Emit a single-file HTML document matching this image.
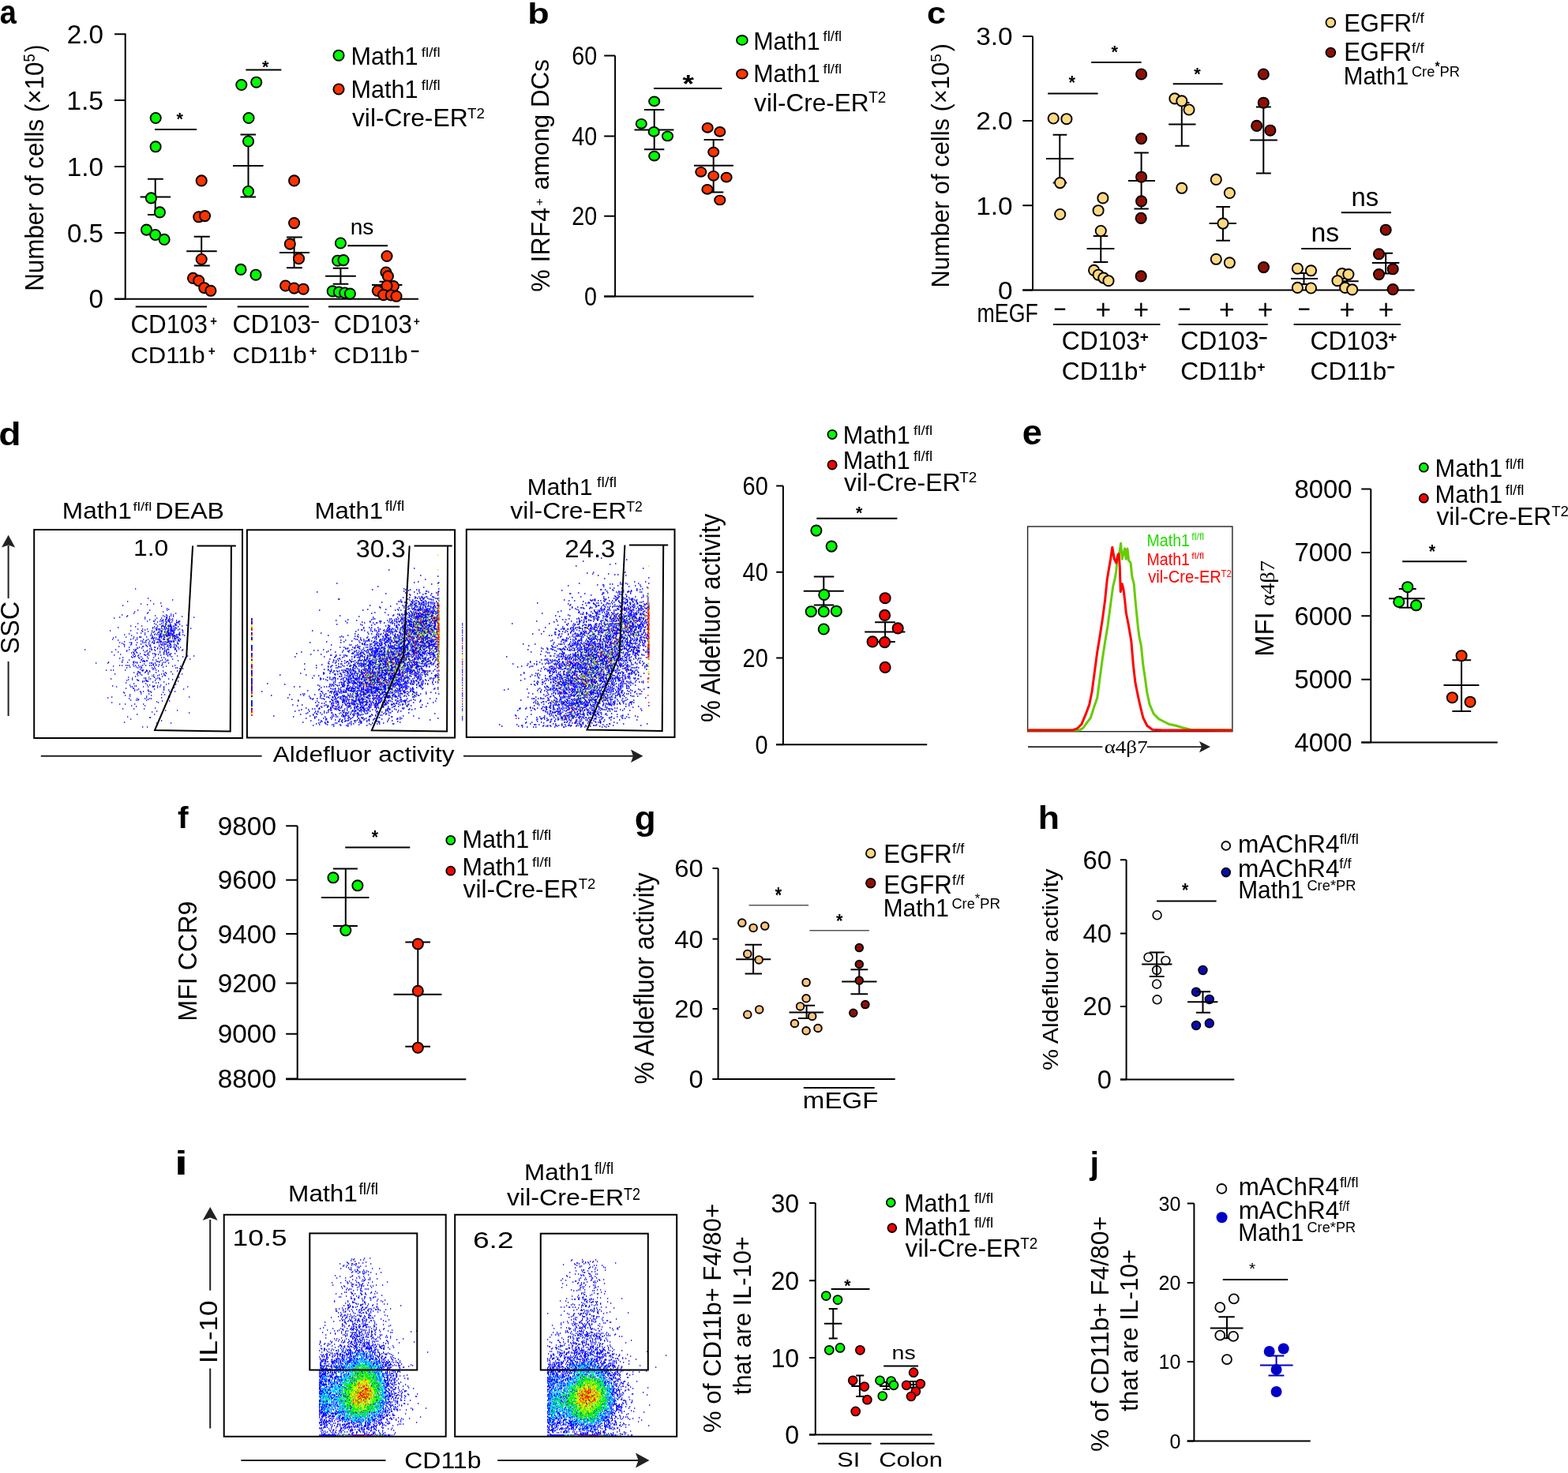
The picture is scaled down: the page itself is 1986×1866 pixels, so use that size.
<!DOCTYPE html>
<html><head><meta charset="utf-8"><style>
html,body{margin:0;padding:0;background:#fff;}
svg{display:block;}
text{font-family:"Liberation Sans",Arial,sans-serif;}
</style></head><body>
<svg width="1986" height="1866" viewBox="0 0 1986 1866">
<rect width="1986" height="1866" fill="#fff"/>
<text x="-0.34" y="30.28" font-size="42.37" textLength="21.1" lengthAdjust="spacingAndGlyphs" font-weight="bold">a</text>
<path d="M158.7 42.5V378.8" stroke="#000" stroke-width="2" fill="none"/>
<path d="M145 43.2H158.7M145 127.1H158.7M145 211H158.7M145 294.9H158.7M145 378.8H158.7" stroke="#000" stroke-width="2" fill="none"/>
<path d="M145 378.8H530" stroke="#000" stroke-width="2" fill="none"/>
<text x="84.81" y="54.8" font-size="33.26" textLength="46.24" lengthAdjust="spacingAndGlyphs">2.0</text>
<text x="84.24" y="138.7" font-size="33.75" textLength="46.91" lengthAdjust="spacingAndGlyphs">1.5</text>
<text x="84.81" y="222.6" font-size="33.26" textLength="46.24" lengthAdjust="spacingAndGlyphs">1.0</text>
<text x="84.9" y="306.5" font-size="33.26" textLength="46.24" lengthAdjust="spacingAndGlyphs">0.5</text>
<text x="112.59" y="390.4" font-size="33.26" textLength="18.5" lengthAdjust="spacingAndGlyphs">0</text>
<text transform="translate(54.84 368.79) rotate(-90)" font-size="32.6" textLength="290.22" lengthAdjust="spacingAndGlyphs">Number of cells (×10</text>
<text transform="translate(44.31 78.44) rotate(-90)" font-size="19.5" textLength="10.3" lengthAdjust="spacingAndGlyphs">5</text>
<text transform="translate(54.84 66.11) rotate(-90)" font-size="32.6" textLength="9.3" lengthAdjust="spacingAndGlyphs">)</text>
<circle cx="429" cy="70.2" r="6.6" fill="#00ff00" stroke="#000" stroke-width="1.9"/>
<circle cx="429" cy="113" r="6.6" fill="#ff3300" stroke="#000" stroke-width="1.9"/>
<text x="444.48" y="82.09" font-size="31.02" textLength="85.03" lengthAdjust="spacingAndGlyphs">Math1</text>
<text x="533.72" y="71.53" font-size="17.41" textLength="24.06" lengthAdjust="spacingAndGlyphs">fl/fl</text>
<text x="444.48" y="124.19" font-size="30.75" textLength="85.03" lengthAdjust="spacingAndGlyphs">Math1</text>
<text x="533.72" y="113.72" font-size="17.69" textLength="24.06" lengthAdjust="spacingAndGlyphs">fl/fl</text>
<text x="445.92" y="160.48" font-size="31.56" textLength="146.74" lengthAdjust="spacingAndGlyphs">vil-Cre-ER</text>
<text x="591.98" y="150.2" font-size="19.21" textLength="21.9" lengthAdjust="spacingAndGlyphs">T2</text>
<path d="M177.6 249.4H216.1 M196.7 226.8V272 M187 226.8H206.8 M187 272H206.8" stroke="#000" stroke-width="2" fill="none"/>
<circle cx="197.2" cy="149.5" r="6.6" fill="#00ff00" stroke="#000" stroke-width="1.9"/>
<circle cx="197.1" cy="185.8" r="6.6" fill="#00ff00" stroke="#000" stroke-width="1.9"/>
<circle cx="191.4" cy="250.9" r="6.6" fill="#00ff00" stroke="#000" stroke-width="1.9"/>
<circle cx="202.4" cy="268.9" r="6.6" fill="#00ff00" stroke="#000" stroke-width="1.9"/>
<circle cx="185.5" cy="291.1" r="6.6" fill="#00ff00" stroke="#000" stroke-width="1.9"/>
<circle cx="196.7" cy="297.5" r="6.6" fill="#00ff00" stroke="#000" stroke-width="1.9"/>
<circle cx="208.1" cy="303.4" r="6.6" fill="#00ff00" stroke="#000" stroke-width="1.9"/>
<path d="M236.2 318.2H274.7 M255.2 299.8V336.6 M245.7 299.8H265.8 M245.7 336.6H265.8" stroke="#000" stroke-width="2" fill="none"/>
<circle cx="255.2" cy="228.9" r="6.6" fill="#ff3300" stroke="#000" stroke-width="1.9"/>
<circle cx="251.7" cy="274.8" r="6.6" fill="#ff3300" stroke="#000" stroke-width="1.9"/>
<circle cx="259.5" cy="273.6" r="6.6" fill="#ff3300" stroke="#000" stroke-width="1.9"/>
<circle cx="255.2" cy="328.5" r="6.6" fill="#ff3300" stroke="#000" stroke-width="1.9"/>
<circle cx="244.5" cy="352.4" r="6.6" fill="#ff3300" stroke="#000" stroke-width="1.9"/>
<circle cx="251.7" cy="355.6" r="6.6" fill="#ff3300" stroke="#000" stroke-width="1.9"/>
<circle cx="258.8" cy="364.7" r="6.6" fill="#ff3300" stroke="#000" stroke-width="1.9"/>
<circle cx="266.9" cy="368.3" r="6.6" fill="#ff3300" stroke="#000" stroke-width="1.9"/>
<path d="M295 210.1H333.5 M314.5 170.6V249.4 M304.5 170.6H324 M304.5 249.4H324" stroke="#000" stroke-width="2" fill="none"/>
<circle cx="305.8" cy="107.5" r="6.6" fill="#00ff00" stroke="#000" stroke-width="1.9"/>
<circle cx="324.7" cy="104.2" r="6.6" fill="#00ff00" stroke="#000" stroke-width="1.9"/>
<circle cx="315" cy="149.5" r="6.6" fill="#00ff00" stroke="#000" stroke-width="1.9"/>
<circle cx="314.5" cy="179" r="6.6" fill="#00ff00" stroke="#000" stroke-width="1.9"/>
<circle cx="314.5" cy="242.5" r="6.6" fill="#00ff00" stroke="#000" stroke-width="1.9"/>
<circle cx="305" cy="341.4" r="6.6" fill="#00ff00" stroke="#000" stroke-width="1.9"/>
<circle cx="324" cy="348.2" r="6.6" fill="#00ff00" stroke="#000" stroke-width="1.9"/>
<path d="M354 320H392 M372.6 300.6V339.3 M363 300.6H382.8 M363 339.3H382.8" stroke="#000" stroke-width="2" fill="none"/>
<circle cx="372.6" cy="228.9" r="6.6" fill="#ff3300" stroke="#000" stroke-width="1.9"/>
<circle cx="372.6" cy="282.6" r="6.6" fill="#ff3300" stroke="#000" stroke-width="1.9"/>
<circle cx="367.3" cy="309.1" r="6.6" fill="#ff3300" stroke="#000" stroke-width="1.9"/>
<circle cx="378.5" cy="327.7" r="6.6" fill="#ff3300" stroke="#000" stroke-width="1.9"/>
<circle cx="361.6" cy="362" r="6.6" fill="#ff3300" stroke="#000" stroke-width="1.9"/>
<circle cx="372.6" cy="365.1" r="6.6" fill="#ff3300" stroke="#000" stroke-width="1.9"/>
<circle cx="384.2" cy="366.2" r="6.6" fill="#ff3300" stroke="#000" stroke-width="1.9"/>
<path d="M412.1 349.7H450.8 M431.4 339.7V359.8 M421.7 339.7H441.3 M421.7 359.8H441.3" stroke="#000" stroke-width="2" fill="none"/>
<circle cx="431.4" cy="308" r="6.6" fill="#00ff00" stroke="#000" stroke-width="1.9"/>
<circle cx="427.6" cy="330.2" r="6.6" fill="#00ff00" stroke="#000" stroke-width="1.9"/>
<circle cx="435" cy="329.6" r="6.6" fill="#00ff00" stroke="#000" stroke-width="1.9"/>
<circle cx="421.2" cy="368.9" r="6.6" fill="#00ff00" stroke="#000" stroke-width="1.9"/>
<circle cx="429.3" cy="370" r="6.6" fill="#00ff00" stroke="#000" stroke-width="1.9"/>
<circle cx="436.7" cy="371" r="6.6" fill="#00ff00" stroke="#000" stroke-width="1.9"/>
<circle cx="443.4" cy="372.1" r="6.6" fill="#00ff00" stroke="#000" stroke-width="1.9"/>
<path d="M471 360.9H509.4 M490 356.7V364.7 M480.5 356.7H499.5 M480.5 364.7H499.5" stroke="#000" stroke-width="2" fill="none"/>
<circle cx="490" cy="324.5" r="6.6" fill="#ff3300" stroke="#000" stroke-width="1.9"/>
<circle cx="488.9" cy="345" r="6.6" fill="#ff3300" stroke="#000" stroke-width="1.9"/>
<circle cx="491.4" cy="349.9" r="6.6" fill="#ff3300" stroke="#000" stroke-width="1.9"/>
<circle cx="498.4" cy="362.6" r="6.6" fill="#ff3300" stroke="#000" stroke-width="1.9"/>
<circle cx="490" cy="362" r="6.6" fill="#ff3300" stroke="#000" stroke-width="1.9"/>
<circle cx="478.3" cy="368.3" r="6.6" fill="#ff3300" stroke="#000" stroke-width="1.9"/>
<circle cx="485.7" cy="373.6" r="6.6" fill="#ff3300" stroke="#000" stroke-width="1.9"/>
<circle cx="495.3" cy="374" r="6.6" fill="#ff3300" stroke="#000" stroke-width="1.9"/>
<circle cx="502" cy="375.3" r="6.6" fill="#ff3300" stroke="#000" stroke-width="1.9"/>
<line x1="196.1" y1="163.9" x2="249" y2="163.9" stroke="#000" stroke-width="2"/>
<text x="223.55" y="157.62" font-size="22.28" textLength="8.39" lengthAdjust="spacingAndGlyphs" font-weight="bold">*</text>
<line x1="311.4" y1="88.4" x2="356.3" y2="88.4" stroke="#000" stroke-width="2"/>
<text x="331.95" y="91.82" font-size="22.28" textLength="8.39" lengthAdjust="spacingAndGlyphs" font-weight="bold">*</text>
<line x1="440.3" y1="311.2" x2="491" y2="311.2" stroke="#000" stroke-width="2"/>
<text x="443.7" y="296.73" font-size="27.4" textLength="29.72" lengthAdjust="spacingAndGlyphs">ns</text>
<line x1="171.7" y1="388.4" x2="262" y2="388.4" stroke="#000" stroke-width="2"/>
<line x1="300.7" y1="388.4" x2="391.2" y2="388.4" stroke="#000" stroke-width="2"/>
<line x1="416" y1="388.4" x2="506.2" y2="388.4" stroke="#000" stroke-width="2"/>
<text x="165.43" y="422.27" font-size="33.22" textLength="97.51" lengthAdjust="spacingAndGlyphs">CD103</text>
<text x="266.37" y="411.82" font-size="15.69" textLength="8.64" lengthAdjust="spacingAndGlyphs" font-weight="bold">+</text>
<text x="294.4" y="422.27" font-size="33.22" textLength="99.67" lengthAdjust="spacingAndGlyphs">CD103</text>
<text x="393.58" y="413.85" font-size="18.18" textLength="11.21" lengthAdjust="spacingAndGlyphs" font-weight="bold">−</text>
<text x="422.81" y="422.27" font-size="33.22" textLength="99.16" lengthAdjust="spacingAndGlyphs">CD103</text>
<text x="523.71" y="411.75" font-size="14.9" textLength="8.06" lengthAdjust="spacingAndGlyphs" font-weight="bold">+</text>
<text x="165.45" y="460" font-size="30.34" textLength="94.23" lengthAdjust="spacingAndGlyphs">CD11b</text>
<text x="263.65" y="450.12" font-size="15.69" textLength="8.99" lengthAdjust="spacingAndGlyphs" font-weight="bold">+</text>
<text x="294.45" y="460" font-size="30.34" textLength="94.23" lengthAdjust="spacingAndGlyphs">CD11b</text>
<text x="391.8" y="450.12" font-size="15.69" textLength="9.58" lengthAdjust="spacingAndGlyphs" font-weight="bold">+</text>
<text x="422.86" y="460" font-size="30.34" textLength="93.81" lengthAdjust="spacingAndGlyphs">CD11b</text>
<text x="519.88" y="452.2" font-size="20.91" textLength="11.21" lengthAdjust="spacingAndGlyphs" font-weight="bold">−</text>
<text x="668.38" y="29.82" font-size="37.69" textLength="27.46" lengthAdjust="spacingAndGlyphs" font-weight="bold">b</text>
<path d="M779.1 70.5V375.6" stroke="#000" stroke-width="2" fill="none"/>
<path d="M765.2 70.5H779.1M765.2 172.5H779.1M765.2 273.7H779.1M765.2 375.6H779.1" stroke="#000" stroke-width="2" fill="none"/>
<path d="M765.2 375.6H954.6" stroke="#000" stroke-width="2" fill="none"/>
<text x="724.16" y="81.95" font-size="32.83" textLength="31.98" lengthAdjust="spacingAndGlyphs">60</text>
<text x="724.16" y="183.95" font-size="32.83" textLength="31.98" lengthAdjust="spacingAndGlyphs">40</text>
<text x="724.16" y="285.15" font-size="32.83" textLength="31.98" lengthAdjust="spacingAndGlyphs">20</text>
<text x="740.12" y="387.05" font-size="32.83" textLength="15.99" lengthAdjust="spacingAndGlyphs">0</text>
<text transform="translate(696.13 369.72) rotate(-90)" font-size="33.71" textLength="106.65" lengthAdjust="spacingAndGlyphs">% IRF4</text>
<text transform="translate(687.61 260.56) rotate(-90)" font-size="13.88" textLength="9.34" lengthAdjust="spacingAndGlyphs">+</text>
<text transform="translate(695.41 240.53) rotate(-90)" font-size="31.27" textLength="165.32" lengthAdjust="spacingAndGlyphs">among DCs</text>
<ellipse cx="939.9" cy="50.9" rx="6.9" ry="5.9" fill="#00ff00" stroke="#000" stroke-width="1.8"/>
<ellipse cx="939.9" cy="93.7" rx="6.9" ry="5.9" fill="#ff3300" stroke="#000" stroke-width="1.8"/>
<text x="954.19" y="62.58" font-size="31.7" textLength="84.61" lengthAdjust="spacingAndGlyphs">Math1</text>
<text x="1042.52" y="51.82" font-size="17.55" textLength="23.74" lengthAdjust="spacingAndGlyphs">fl/fl</text>
<text x="954.19" y="104.38" font-size="31.7" textLength="84.61" lengthAdjust="spacingAndGlyphs">Math1</text>
<text x="1042.52" y="93.43" font-size="17.28" textLength="23.74" lengthAdjust="spacingAndGlyphs">fl/fl</text>
<text x="955.12" y="140.68" font-size="31.84" textLength="145.53" lengthAdjust="spacingAndGlyphs">vil-Cre-ER</text>
<text x="1100.27" y="130.2" font-size="19.5" textLength="22.11" lengthAdjust="spacingAndGlyphs">T2</text>
<line x1="828" y1="112" x2="914.3" y2="112" stroke="#000" stroke-width="2"/>
<text x="864.61" y="116.92" font-size="30.87" textLength="14.46" lengthAdjust="spacingAndGlyphs" font-weight="bold">*</text>
<path d="M803.5 164.4H853.4 M828.7 139V189.3 M816 139H841.3 M816 189.3H841.3" stroke="#000" stroke-width="2" fill="none"/>
<ellipse cx="828.7" cy="128.4" rx="6.6" ry="5.9" fill="#00ff00" stroke="#000" stroke-width="1.9"/>
<ellipse cx="812.3" cy="156.8" rx="6.6" ry="5.9" fill="#00ff00" stroke="#000" stroke-width="1.9"/>
<ellipse cx="828.2" cy="166.9" rx="6.6" ry="5.9" fill="#00ff00" stroke="#000" stroke-width="1.9"/>
<ellipse cx="845.5" cy="172.5" rx="6.6" ry="5.9" fill="#00ff00" stroke="#000" stroke-width="1.9"/>
<ellipse cx="828.7" cy="197.6" rx="6.6" ry="5.9" fill="#00ff00" stroke="#000" stroke-width="1.9"/>
<path d="M879 209.7H928.9 M903.7 177V243.5 M891.6 177H916.3 M891.6 243.5H916.3" stroke="#000" stroke-width="2" fill="none"/>
<ellipse cx="896.2" cy="161.9" rx="6.6" ry="5.9" fill="#ff3300" stroke="#000" stroke-width="1.9"/>
<ellipse cx="911.8" cy="166.9" rx="6.6" ry="5.9" fill="#ff3300" stroke="#000" stroke-width="1.9"/>
<ellipse cx="903.7" cy="192.6" rx="6.6" ry="5.9" fill="#ff3300" stroke="#000" stroke-width="1.9"/>
<ellipse cx="887.8" cy="217.8" rx="6.6" ry="5.9" fill="#ff3300" stroke="#000" stroke-width="1.9"/>
<ellipse cx="903.7" cy="222.8" rx="6.6" ry="5.9" fill="#ff3300" stroke="#000" stroke-width="1.9"/>
<ellipse cx="920.1" cy="224.6" rx="6.6" ry="5.9" fill="#ff3300" stroke="#000" stroke-width="1.9"/>
<ellipse cx="895.9" cy="239.9" rx="6.6" ry="5.9" fill="#ff3300" stroke="#000" stroke-width="1.9"/>
<ellipse cx="911.8" cy="253.5" rx="6.6" ry="5.9" fill="#ff3300" stroke="#000" stroke-width="1.9"/>
<text x="1173.98" y="29.81" font-size="38.72" textLength="23.96" lengthAdjust="spacingAndGlyphs" font-weight="bold">c</text>
<path d="M1308 45.9V367.6" stroke="#000" stroke-width="2" fill="none"/>
<path d="M1295.3 45.9H1308M1295.3 153.1H1308M1295.3 260.3H1308M1295.3 367.6H1308" stroke="#000" stroke-width="2" fill="none"/>
<path d="M1295.3 367.6H1791.6" stroke="#000" stroke-width="2" fill="none"/>
<text x="1236.25" y="57.1" font-size="32.11" textLength="46.41" lengthAdjust="spacingAndGlyphs">3.0</text>
<text x="1236.25" y="164.3" font-size="32.11" textLength="46.41" lengthAdjust="spacingAndGlyphs">2.0</text>
<text x="1236.25" y="271.5" font-size="32.11" textLength="46.41" lengthAdjust="spacingAndGlyphs">1.0</text>
<text x="1264.12" y="378.8" font-size="32.11" textLength="18.57" lengthAdjust="spacingAndGlyphs">0</text>
<text transform="translate(1202.32 364.55) rotate(-90)" font-size="32.17" textLength="285.76" lengthAdjust="spacingAndGlyphs">Number of cells (×10</text>
<text transform="translate(1191.81 78.76) rotate(-90)" font-size="18.64" textLength="10.54" lengthAdjust="spacingAndGlyphs">5</text>
<text transform="translate(1202.32 65.23) rotate(-90)" font-size="32.17" textLength="10.05" lengthAdjust="spacingAndGlyphs">)</text>
<circle cx="1685.4" cy="28.6" r="5.9" fill="#fdd882" stroke="#000" stroke-width="1.8"/>
<circle cx="1685.4" cy="66.5" r="5.9" fill="#8e1005" stroke="#000" stroke-width="1.8"/>
<text x="1702.14" y="39.58" font-size="32.23" textLength="86.14" lengthAdjust="spacingAndGlyphs">EGFR</text>
<text x="1788.12" y="29.02" font-size="17.55" textLength="15.76" lengthAdjust="spacingAndGlyphs">f/f</text>
<text x="1702.14" y="77.38" font-size="32.37" textLength="86.14" lengthAdjust="spacingAndGlyphs">EGFR</text>
<text x="1788.12" y="67.02" font-size="17.82" textLength="15.76" lengthAdjust="spacingAndGlyphs">f/f</text>
<text x="1701.75" y="107.09" font-size="31.02" textLength="82.52" lengthAdjust="spacingAndGlyphs">Math1</text>
<text x="1787.89" y="96.61" font-size="18.66" textLength="29.41" lengthAdjust="spacingAndGlyphs">Cre</text>
<text x="1817.46" y="89.67" font-size="16.11" textLength="6.17" lengthAdjust="spacingAndGlyphs" font-weight="bold">*</text>
<text x="1823.59" y="96.6" font-size="18.33" textLength="25.47" lengthAdjust="spacingAndGlyphs">PR</text>
<path d="M1325 201H1359.8 M1342.3 170.8V231.6 M1333.6 170.8H1351.3 M1333.6 231.6H1351.3" stroke="#000" stroke-width="2" fill="none"/>
<circle cx="1334.2" cy="150" r="6.6" fill="#fdd882" stroke="#000" stroke-width="1.9"/>
<circle cx="1350.9" cy="150.7" r="6.6" fill="#fdd882" stroke="#000" stroke-width="1.9"/>
<circle cx="1342.7" cy="231.6" r="6.6" fill="#fdd882" stroke="#000" stroke-width="1.9"/>
<circle cx="1342.7" cy="271.5" r="6.6" fill="#fdd882" stroke="#000" stroke-width="1.9"/>
<path d="M1376.6 315H1411.4 M1394.3 298.9V332.1 M1384.7 298.9H1403.3 M1384.7 332.1H1403.3" stroke="#000" stroke-width="2" fill="none"/>
<circle cx="1396.9" cy="250.9" r="6.6" fill="#fdd882" stroke="#000" stroke-width="1.9"/>
<circle cx="1391.1" cy="266.7" r="6.6" fill="#fdd882" stroke="#000" stroke-width="1.9"/>
<circle cx="1394.3" cy="292.5" r="6.6" fill="#fdd882" stroke="#000" stroke-width="1.9"/>
<circle cx="1385.6" cy="342.4" r="6.6" fill="#fdd882" stroke="#000" stroke-width="1.9"/>
<circle cx="1391.1" cy="348.2" r="6.6" fill="#fdd882" stroke="#000" stroke-width="1.9"/>
<circle cx="1397.8" cy="352.1" r="6.6" fill="#fdd882" stroke="#000" stroke-width="1.9"/>
<circle cx="1404" cy="355.7" r="6.6" fill="#fdd882" stroke="#000" stroke-width="1.9"/>
<path d="M1429 229H1463 M1445.6 193.4V264.5 M1436.5 193.4H1454.8 M1436.5 264.5H1454.8" stroke="#000" stroke-width="2" fill="none"/>
<circle cx="1445.6" cy="94" r="6.6" fill="#8e1005" stroke="#000" stroke-width="1.9"/>
<circle cx="1445.6" cy="175.6" r="6.6" fill="#8e1005" stroke="#000" stroke-width="1.9"/>
<circle cx="1445.6" cy="224.2" r="6.6" fill="#8e1005" stroke="#000" stroke-width="1.9"/>
<circle cx="1445.6" cy="254.8" r="6.6" fill="#8e1005" stroke="#000" stroke-width="1.9"/>
<circle cx="1445.2" cy="276.4" r="6.6" fill="#8e1005" stroke="#000" stroke-width="1.9"/>
<circle cx="1445.2" cy="349.9" r="6.6" fill="#8e1005" stroke="#000" stroke-width="1.9"/>
<path d="M1480.2 157.5H1514.5 M1496.8 130V184.7 M1488.3 130H1506.4 M1488.3 184.7H1506.4" stroke="#000" stroke-width="2" fill="none"/>
<circle cx="1487.9" cy="124.9" r="6.6" fill="#fdd882" stroke="#000" stroke-width="1.9"/>
<circle cx="1496.8" cy="127.9" r="6.6" fill="#fdd882" stroke="#000" stroke-width="1.9"/>
<circle cx="1506" cy="139" r="6.6" fill="#fdd882" stroke="#000" stroke-width="1.9"/>
<circle cx="1496.8" cy="238.3" r="6.6" fill="#fdd882" stroke="#000" stroke-width="1.9"/>
<path d="M1531.6 283.1H1566 M1549 261.9V304.7 M1540.3 261.9H1558 M1540.3 304.7H1558" stroke="#000" stroke-width="2" fill="none"/>
<circle cx="1540.3" cy="227.4" r="6.6" fill="#fdd882" stroke="#000" stroke-width="1.9"/>
<circle cx="1557.4" cy="244.5" r="6.6" fill="#fdd882" stroke="#000" stroke-width="1.9"/>
<circle cx="1549" cy="283.1" r="6.6" fill="#fdd882" stroke="#000" stroke-width="1.9"/>
<circle cx="1540.3" cy="328.3" r="6.6" fill="#fdd882" stroke="#000" stroke-width="1.9"/>
<circle cx="1557.4" cy="332.8" r="6.6" fill="#fdd882" stroke="#000" stroke-width="1.9"/>
<path d="M1583.2 177.4H1617.9 M1600.3 135.6V219.4 M1591 135.6H1609.8 M1591 219.4H1609.8" stroke="#000" stroke-width="2" fill="none"/>
<circle cx="1600.3" cy="94" r="6.6" fill="#8e1005" stroke="#000" stroke-width="1.9"/>
<circle cx="1600.3" cy="130.2" r="6.6" fill="#8e1005" stroke="#000" stroke-width="1.9"/>
<circle cx="1591.7" cy="159.4" r="6.6" fill="#8e1005" stroke="#000" stroke-width="1.9"/>
<circle cx="1608.9" cy="165.2" r="6.6" fill="#8e1005" stroke="#000" stroke-width="1.9"/>
<circle cx="1600.5" cy="338.6" r="6.6" fill="#8e1005" stroke="#000" stroke-width="1.9"/>
<path d="M1635 353H1669 M1651.5 346V360 M1643 346H1660 M1643 360H1660" stroke="#000" stroke-width="2" fill="none"/>
<circle cx="1643.4" cy="340.2" r="6.6" fill="#fdd882" stroke="#000" stroke-width="1.9"/>
<circle cx="1660.5" cy="342.8" r="6.6" fill="#fdd882" stroke="#000" stroke-width="1.9"/>
<circle cx="1643.4" cy="364.4" r="6.6" fill="#fdd882" stroke="#000" stroke-width="1.9"/>
<circle cx="1660.5" cy="365" r="6.6" fill="#fdd882" stroke="#000" stroke-width="1.9"/>
<path d="M1692.7 356.3H1720.7 M1706 350V362 M1698 350H1714 M1698 362H1714" stroke="#000" stroke-width="2" fill="none"/>
<circle cx="1699.8" cy="346.6" r="6.6" fill="#fdd882" stroke="#000" stroke-width="1.9"/>
<circle cx="1707.9" cy="347.6" r="6.6" fill="#fdd882" stroke="#000" stroke-width="1.9"/>
<circle cx="1694" cy="355.7" r="6.6" fill="#fdd882" stroke="#000" stroke-width="1.9"/>
<circle cx="1703.7" cy="364.4" r="6.6" fill="#fdd882" stroke="#000" stroke-width="1.9"/>
<circle cx="1712.7" cy="366.9" r="6.6" fill="#fdd882" stroke="#000" stroke-width="1.9"/>
<path d="M1737.8 333.1H1772.3 M1755.2 320.8V346.6 M1746.5 320.8H1764 M1746.5 346.6H1764" stroke="#000" stroke-width="2" fill="none"/>
<circle cx="1755.2" cy="291.2" r="6.6" fill="#8e1005" stroke="#000" stroke-width="1.9"/>
<circle cx="1746.5" cy="321.8" r="6.6" fill="#8e1005" stroke="#000" stroke-width="1.9"/>
<circle cx="1764.2" cy="340.8" r="6.6" fill="#8e1005" stroke="#000" stroke-width="1.9"/>
<circle cx="1746.5" cy="347.6" r="6.6" fill="#8e1005" stroke="#000" stroke-width="1.9"/>
<circle cx="1764.2" cy="366.6" r="6.6" fill="#8e1005" stroke="#000" stroke-width="1.9"/>
<line x1="1327.2" y1="118.4" x2="1390.6" y2="118.4" stroke="#000" stroke-width="2"/>
<text x="1353.55" y="113.31" font-size="24.16" textLength="8.49" lengthAdjust="spacingAndGlyphs" font-weight="bold">*</text>
<line x1="1382.2" y1="79" x2="1445.6" y2="79" stroke="#000" stroke-width="2"/>
<text x="1407.55" y="73.35" font-size="21.74" textLength="8.49" lengthAdjust="spacingAndGlyphs" font-weight="bold">*</text>
<line x1="1485.7" y1="106.3" x2="1548.7" y2="106.3" stroke="#000" stroke-width="2"/>
<text x="1512.25" y="100.55" font-size="21.74" textLength="8.49" lengthAdjust="spacingAndGlyphs" font-weight="bold">*</text>
<line x1="1648.2" y1="315" x2="1711" y2="315" stroke="#000" stroke-width="2"/>
<text x="1660.41" y="305.98" font-size="32.33" textLength="35.82" lengthAdjust="spacingAndGlyphs">ns</text>
<line x1="1698.8" y1="269.3" x2="1762" y2="269.3" stroke="#000" stroke-width="2"/>
<text x="1711.48" y="260.88" font-size="32.33" textLength="34.71" lengthAdjust="spacingAndGlyphs">ns</text>
<text x="1237.6" y="408.28" font-size="32.37" textLength="77.21" lengthAdjust="spacingAndGlyphs">mEGF</text>
<text x="1334.32" y="403.47" font-size="34.48" textLength="16.13" lengthAdjust="spacingAndGlyphs">−</text>
<text x="1387.6" y="403.94" font-size="35.92" textLength="19.65" lengthAdjust="spacingAndGlyphs">+</text>
<text x="1435.5" y="403.94" font-size="35.92" textLength="19.65" lengthAdjust="spacingAndGlyphs">+</text>
<text x="1491.92" y="403.47" font-size="34.48" textLength="16.13" lengthAdjust="spacingAndGlyphs">−</text>
<text x="1544" y="403.94" font-size="35.92" textLength="19.65" lengthAdjust="spacingAndGlyphs">+</text>
<text x="1592.7" y="403.94" font-size="35.92" textLength="19.65" lengthAdjust="spacingAndGlyphs">+</text>
<text x="1643.42" y="403.47" font-size="34.48" textLength="16.13" lengthAdjust="spacingAndGlyphs">−</text>
<text x="1696.4" y="403.94" font-size="35.92" textLength="19.65" lengthAdjust="spacingAndGlyphs">+</text>
<text x="1745.7" y="403.94" font-size="35.92" textLength="19.65" lengthAdjust="spacingAndGlyphs">+</text>
<line x1="1334" y1="411" x2="1469.4" y2="411" stroke="#000" stroke-width="2"/>
<line x1="1492.6" y1="411" x2="1605.7" y2="411" stroke="#000" stroke-width="2"/>
<line x1="1638.6" y1="411" x2="1774" y2="411" stroke="#000" stroke-width="2"/>
<text x="1344.81" y="442.67" font-size="32.93" textLength="99.26" lengthAdjust="spacingAndGlyphs">CD103</text>
<text x="1443.79" y="432.54" font-size="18.63" textLength="11.1" lengthAdjust="spacingAndGlyphs" font-weight="bold">+</text>
<text x="1344.81" y="480.69" font-size="31.16" textLength="96.7" lengthAdjust="spacingAndGlyphs">CD11b</text>
<text x="1441.95" y="470.83" font-size="18.43" textLength="10.28" lengthAdjust="spacingAndGlyphs" font-weight="bold">+</text>
<text x="1495.21" y="442.67" font-size="32.93" textLength="99.26" lengthAdjust="spacingAndGlyphs">CD103</text>
<text x="1594.19" y="436.16" font-size="23.64" textLength="11.1" lengthAdjust="spacingAndGlyphs" font-weight="bold">−</text>
<text x="1495.21" y="480.69" font-size="31.16" textLength="96.7" lengthAdjust="spacingAndGlyphs">CD11b</text>
<text x="1592.35" y="470.83" font-size="18.43" textLength="10.28" lengthAdjust="spacingAndGlyphs" font-weight="bold">+</text>
<text x="1659.41" y="442.67" font-size="32.93" textLength="99.26" lengthAdjust="spacingAndGlyphs">CD103</text>
<text x="1758.39" y="432.54" font-size="18.63" textLength="11.1" lengthAdjust="spacingAndGlyphs" font-weight="bold">+</text>
<text x="1659.41" y="480.69" font-size="31.16" textLength="96.7" lengthAdjust="spacingAndGlyphs">CD11b</text>
<text x="1756.55" y="473.16" font-size="23.64" textLength="10.28" lengthAdjust="spacingAndGlyphs" font-weight="bold">−</text>
<path d="M991.9 615.5V943.2" stroke="#000" stroke-width="2" fill="none"/>
<path d="M983.2 615.5H991.9M983.2 724.7H991.9M983.2 833.6H991.9M983.2 943.2H991.9" stroke="#000" stroke-width="2" fill="none"/>
<path d="M983.2 943.2H1174.2" stroke="#000" stroke-width="2" fill="none"/>
<text x="940.55" y="626.95" font-size="32.83" textLength="32.2" lengthAdjust="spacingAndGlyphs">60</text>
<text x="940.55" y="736.15" font-size="32.83" textLength="32.2" lengthAdjust="spacingAndGlyphs">40</text>
<text x="940.55" y="845.05" font-size="32.83" textLength="32.2" lengthAdjust="spacingAndGlyphs">20</text>
<text x="956.62" y="954.65" font-size="32.83" textLength="16.1" lengthAdjust="spacingAndGlyphs">0</text>
<text transform="translate(912.16 914.9) rotate(-90)" font-size="35.39" textLength="264.09" lengthAdjust="spacingAndGlyphs">% Aldefluor activity</text>
<circle cx="1054.1" cy="550.4" r="5.6" fill="#00ff00" stroke="#000" stroke-width="1.8"/>
<circle cx="1054.1" cy="588.9" r="5.6" fill="#ff0000" stroke="#000" stroke-width="1.8"/>
<text x="1067.67" y="561.58" font-size="31.7" textLength="85.14" lengthAdjust="spacingAndGlyphs">Math1</text>
<text x="1157.02" y="550.94" font-size="15.65" textLength="24.28" lengthAdjust="spacingAndGlyphs">fl/fl</text>
<text x="1067.67" y="593.89" font-size="31.16" textLength="85.14" lengthAdjust="spacingAndGlyphs">Math1</text>
<text x="1157.02" y="583.71" font-size="18.5" textLength="24.28" lengthAdjust="spacingAndGlyphs">fl/fl</text>
<text x="1069.12" y="622.48" font-size="31.7" textLength="147.55" lengthAdjust="spacingAndGlyphs">vil-Cre-ER</text>
<text x="1215.27" y="611.1" font-size="18.06" textLength="22.11" lengthAdjust="spacingAndGlyphs">T2</text>
<line x1="1034.3" y1="656.8" x2="1136.4" y2="656.8" stroke="#000" stroke-width="2"/>
<text x="1083.95" y="656.72" font-size="22.28" textLength="8.39" lengthAdjust="spacingAndGlyphs" font-weight="bold">*</text>
<path d="M1017.8 748.7H1068.8 M1043.3 730.6V766.4 M1030.8 730.6H1056.3 M1030.8 766.4H1056.3" stroke="#000" stroke-width="2" fill="none"/>
<circle cx="1033.9" cy="672.1" r="6.6" fill="#00ff00" stroke="#000" stroke-width="1.9"/>
<circle cx="1053.2" cy="692.1" r="6.6" fill="#00ff00" stroke="#000" stroke-width="1.9"/>
<circle cx="1043.8" cy="753.4" r="6.6" fill="#00ff00" stroke="#000" stroke-width="1.9"/>
<circle cx="1027.3" cy="774.7" r="6.6" fill="#00ff00" stroke="#000" stroke-width="1.9"/>
<circle cx="1043.3" cy="774.7" r="6.6" fill="#00ff00" stroke="#000" stroke-width="1.9"/>
<circle cx="1059.3" cy="774.2" r="6.6" fill="#00ff00" stroke="#000" stroke-width="1.9"/>
<circle cx="1043.3" cy="797" r="6.6" fill="#00ff00" stroke="#000" stroke-width="1.9"/>
<path d="M1095.2 800.6H1146.4 M1121.1 788.3V812.9 M1108.1 788.3H1133.8 M1108.1 812.9H1133.8" stroke="#000" stroke-width="2" fill="none"/>
<circle cx="1121.1" cy="757.7" r="6.6" fill="#ff0000" stroke="#000" stroke-width="1.9"/>
<circle cx="1120.6" cy="779.4" r="6.6" fill="#ff0000" stroke="#000" stroke-width="1.9"/>
<circle cx="1137.2" cy="795.9" r="6.6" fill="#ff0000" stroke="#000" stroke-width="1.9"/>
<circle cx="1105.1" cy="812.9" r="6.6" fill="#ff0000" stroke="#000" stroke-width="1.9"/>
<circle cx="1120.6" cy="813.6" r="6.6" fill="#ff0000" stroke="#000" stroke-width="1.9"/>
<circle cx="1121.1" cy="845.4" r="6.6" fill="#ff0000" stroke="#000" stroke-width="1.9"/>
<text x="-1.85" y="564" font-size="40.27" textLength="28.31" lengthAdjust="spacingAndGlyphs" font-weight="bold">d</text>
<text x="78.79" y="656.81" font-size="28.84" textLength="87.97" lengthAdjust="spacingAndGlyphs">Math1</text>
<text x="168.62" y="646.85" font-size="15.1" textLength="23.74" lengthAdjust="spacingAndGlyphs">fl/fl</text>
<text x="196.55" y="656.8" font-size="30.4" textLength="87.46" lengthAdjust="spacingAndGlyphs">DEAB</text>
<text x="398.42" y="656.91" font-size="28.84" textLength="86.82" lengthAdjust="spacingAndGlyphs">Math1</text>
<text x="487.71" y="647.32" font-size="17.69" textLength="24.6" lengthAdjust="spacingAndGlyphs">fl/fl</text>
<text x="667.84" y="627.3" font-size="29.66" textLength="82.83" lengthAdjust="spacingAndGlyphs">Math1</text>
<text x="756.11" y="617.12" font-size="17.55" textLength="25.13" lengthAdjust="spacingAndGlyphs">fl/fl</text>
<text x="646.32" y="657.2" font-size="29.93" textLength="147.35" lengthAdjust="spacingAndGlyphs">vil-Cre-ER</text>
<text x="793.3" y="647.5" font-size="18.64" textLength="20.51" lengthAdjust="spacingAndGlyphs">T2</text>
<text x="169.02" y="703.6" font-size="29.96" textLength="44.18" lengthAdjust="spacingAndGlyphs">1.0</text>
<text x="450.89" y="706.19" font-size="30.67" textLength="62.93" lengthAdjust="spacingAndGlyphs">30.3</text>
<text x="715.36" y="706.19" font-size="30.67" textLength="63.99" lengthAdjust="spacingAndGlyphs">24.3</text>
<text transform="translate(24.37 828.46) rotate(-90)" font-size="33.22" textLength="66.63" lengthAdjust="spacingAndGlyphs">SSC</text>
<text x="345.82" y="965.33" font-size="27.35" textLength="229.79" lengthAdjust="spacingAndGlyphs">Aldefluor activity</text>
<path d="M10.6 691V758M10.6 838V907" stroke="#222" stroke-width="2" fill="none"/>
<path d="M10.6 677.8L19.2 693.5L10.6 690.5L2 693.5Z" fill="#222"/>
<path d="M51.8 957.7H331.6M587 957.7H806" stroke="#222" stroke-width="2" fill="none"/>
<path d="M814.5 957.7L799 949.5L802 957.7L799 965.9Z" fill="#222"/>
<text x="1294.78" y="563.46" font-size="43.65" textLength="25.24" lengthAdjust="spacingAndGlyphs" font-weight="bold">e</text>
<path d="M1736.3 619.4V940.4" stroke="#000" stroke-width="2" fill="none"/>
<path d="M1724.3 619.4H1736.3M1724.3 699.9H1736.3M1724.3 780.3H1736.3M1724.3 860.7H1736.3M1724.3 940.4H1736.3" stroke="#000" stroke-width="2" fill="none"/>
<path d="M1724.3 940.4H1896.8" stroke="#000" stroke-width="2" fill="none"/>
<text x="1639.4" y="630.85" font-size="32.83" textLength="73.1" lengthAdjust="spacingAndGlyphs">8000</text>
<text x="1639.4" y="711.35" font-size="32.83" textLength="73.1" lengthAdjust="spacingAndGlyphs">7000</text>
<text x="1639.4" y="791.75" font-size="32.83" textLength="73.1" lengthAdjust="spacingAndGlyphs">6000</text>
<text x="1639.4" y="872.15" font-size="32.83" textLength="73.1" lengthAdjust="spacingAndGlyphs">5000</text>
<text x="1639.4" y="951.85" font-size="32.83" textLength="73.1" lengthAdjust="spacingAndGlyphs">4000</text>
<text transform="translate(1613.3 831.8) rotate(-90)" font-size="33.16" textLength="56.3" lengthAdjust="spacingAndGlyphs">MFI</text>
<text transform="translate(1613.7 767.87) rotate(-90)" font-size="24.96" textLength="57.75" lengthAdjust="spacingAndGlyphs" style="font-family:'Liberation Serif',serif">α4β7</text>
<circle cx="1803.3" cy="592.2" r="5.5" fill="#00ff00" stroke="#000" stroke-width="1.8"/>
<circle cx="1803.3" cy="631.2" r="5.5" fill="#ff0000" stroke="#000" stroke-width="1.8"/>
<text x="1817.56" y="603.89" font-size="31.02" textLength="85.45" lengthAdjust="spacingAndGlyphs">Math1</text>
<text x="1906.72" y="593.52" font-size="18.1" textLength="23.74" lengthAdjust="spacingAndGlyphs">fl/fl</text>
<text x="1817.56" y="636.99" font-size="31.16" textLength="85.45" lengthAdjust="spacingAndGlyphs">Math1</text>
<text x="1906.72" y="626.62" font-size="18.23" textLength="23.74" lengthAdjust="spacingAndGlyphs">fl/fl</text>
<text x="1819.52" y="664.69" font-size="31.16" textLength="145.63" lengthAdjust="spacingAndGlyphs">vil-Cre-ER</text>
<text x="1965.28" y="653.9" font-size="18.35" textLength="21.68" lengthAdjust="spacingAndGlyphs">T2</text>
<line x1="1776.2" y1="711.2" x2="1857.7" y2="711.2" stroke="#000" stroke-width="2"/>
<text x="1809.65" y="706.61" font-size="24.16" textLength="8.39" lengthAdjust="spacingAndGlyphs" font-weight="bold">*</text>
<path d="M1759 758.3H1804.7 M1782.8 745.9V769.7 M1771.8 745.9H1793.7 M1771.8 769.7H1793.7" stroke="#000" stroke-width="2" fill="none"/>
<circle cx="1782.8" cy="743.7" r="6.6" fill="#00ff00" stroke="#000" stroke-width="1.9"/>
<circle cx="1771.8" cy="762.4" r="6.6" fill="#00ff00" stroke="#000" stroke-width="1.9"/>
<circle cx="1793.7" cy="766.8" r="6.6" fill="#00ff00" stroke="#000" stroke-width="1.9"/>
<path d="M1828.5 868H1873.4 M1851.1 836.2V900.9 M1839.4 836.2H1863.2 M1839.4 900.9H1863.2" stroke="#000" stroke-width="2" fill="none"/>
<circle cx="1851.1" cy="830.7" r="6.6" fill="#ff3300" stroke="#000" stroke-width="1.9"/>
<circle cx="1839.4" cy="883.7" r="6.6" fill="#ff3300" stroke="#000" stroke-width="1.9"/>
<circle cx="1862.1" cy="889.2" r="6.6" fill="#ff3300" stroke="#000" stroke-width="1.9"/>
<text x="224.98" y="1049.3" font-size="39.59" textLength="13.63" lengthAdjust="spacingAndGlyphs" font-weight="bold">f</text>
<path d="M376.7 1046.3V1367.2" stroke="#000" stroke-width="2" fill="none"/>
<path d="M362.2 1046.3H376.7M362.2 1114.8H376.7M362.2 1183.1H376.7M362.2 1245.6H376.7M362.2 1309.7H376.7M362.2 1366.5H376.7" stroke="#000" stroke-width="2" fill="none"/>
<path d="M362.2 1367.2H590.3" stroke="#000" stroke-width="2" fill="none"/>
<text x="275.72" y="1057.8" font-size="32.97" textLength="74.21" lengthAdjust="spacingAndGlyphs">9800</text>
<text x="275.72" y="1126.3" font-size="32.97" textLength="74.21" lengthAdjust="spacingAndGlyphs">9600</text>
<text x="275.72" y="1194.6" font-size="32.97" textLength="74.21" lengthAdjust="spacingAndGlyphs">9400</text>
<text x="275.72" y="1257.1" font-size="32.97" textLength="74.21" lengthAdjust="spacingAndGlyphs">9200</text>
<text x="275.72" y="1321.2" font-size="32.97" textLength="74.21" lengthAdjust="spacingAndGlyphs">9000</text>
<text x="275.72" y="1378" font-size="32.97" textLength="74.21" lengthAdjust="spacingAndGlyphs">8800</text>
<text transform="translate(249.46 1293.66) rotate(-90)" font-size="34.06" textLength="152.18" lengthAdjust="spacingAndGlyphs">MFI CCR9</text>
<circle cx="570.8" cy="1064.4" r="5.5" fill="#00ff00" stroke="#000" stroke-width="1.8"/>
<circle cx="570.8" cy="1103.2" r="5.5" fill="#ff0000" stroke="#000" stroke-width="1.8"/>
<text x="585.48" y="1074.09" font-size="31.43" textLength="84.82" lengthAdjust="spacingAndGlyphs">Math1</text>
<text x="674.02" y="1063.82" font-size="18.23" textLength="24.28" lengthAdjust="spacingAndGlyphs">fl/fl</text>
<text x="585.48" y="1109.18" font-size="31.56" textLength="84.82" lengthAdjust="spacingAndGlyphs">Math1</text>
<text x="674.02" y="1098.43" font-size="17.41" textLength="24.28" lengthAdjust="spacingAndGlyphs">fl/fl</text>
<text x="586.62" y="1137.08" font-size="31.84" textLength="146.03" lengthAdjust="spacingAndGlyphs">vil-Cre-ER</text>
<text x="732.78" y="1126.4" font-size="19.21" textLength="21.58" lengthAdjust="spacingAndGlyphs">T2</text>
<line x1="437.2" y1="1073.4" x2="519.3" y2="1073.4" stroke="#000" stroke-width="2"/>
<text x="470.75" y="1069.1" font-size="24.43" textLength="8.29" lengthAdjust="spacingAndGlyphs" font-weight="bold">*</text>
<path d="M407 1136.9H467.4 M437.8 1100.6V1173.1 M422 1100.6H452.9 M422 1173.1H452.9" stroke="#000" stroke-width="2" fill="none"/>
<circle cx="422" cy="1111.8" r="6.6" fill="#00ff00" stroke="#000" stroke-width="1.9"/>
<circle cx="452.9" cy="1121.8" r="6.6" fill="#00ff00" stroke="#000" stroke-width="1.9"/>
<circle cx="437.8" cy="1178.6" r="6.6" fill="#00ff00" stroke="#000" stroke-width="1.9"/>
<path d="M498.5 1259.8H559.5 M529.3 1193.4V1325.7 M513.3 1193.4H545 M513.3 1325.7H545" stroke="#000" stroke-width="2" fill="none"/>
<circle cx="529.3" cy="1195.8" r="6.6" fill="#ff2200" stroke="#000" stroke-width="1.9"/>
<circle cx="529.3" cy="1255.3" r="6.6" fill="#ff2200" stroke="#000" stroke-width="1.9"/>
<circle cx="529.3" cy="1327.2" r="6.6" fill="#ff2200" stroke="#000" stroke-width="1.9"/>
<text x="803.84" y="1051.48" font-size="42" textLength="26.85" lengthAdjust="spacingAndGlyphs" font-weight="bold">g</text>
<path d="M909.6 1100.1V1367" stroke="#000" stroke-width="2" fill="none"/>
<path d="M902.5 1100.1H909.6M902.5 1189.5H909.6M902.5 1278.1H909.6M902.5 1367H909.6" stroke="#000" stroke-width="2" fill="none"/>
<path d="M902.5 1367H1133.7" stroke="#000" stroke-width="2" fill="none"/>
<text x="854.36" y="1111.35" font-size="32.26" textLength="36.44" lengthAdjust="spacingAndGlyphs">60</text>
<text x="854.36" y="1200.75" font-size="32.26" textLength="36.44" lengthAdjust="spacingAndGlyphs">40</text>
<text x="854.36" y="1289.35" font-size="32.26" textLength="36.44" lengthAdjust="spacingAndGlyphs">20</text>
<text x="872.55" y="1378.25" font-size="32.26" textLength="18.22" lengthAdjust="spacingAndGlyphs">0</text>
<text transform="translate(828.02 1373.62) rotate(-90)" font-size="35.07" textLength="268.01" lengthAdjust="spacingAndGlyphs">% Aldefluor activity</text>
<circle cx="1102.8" cy="1080.9" r="5.8" fill="#fdd882" stroke="#000" stroke-width="1.8"/>
<circle cx="1102.8" cy="1118.7" r="5.8" fill="#8e1005" stroke="#000" stroke-width="1.8"/>
<text x="1119.13" y="1092.57" font-size="32.93" textLength="86.67" lengthAdjust="spacingAndGlyphs">EGFR</text>
<text x="1206.02" y="1080.92" font-size="17.69" textLength="15.35" lengthAdjust="spacingAndGlyphs">f/f</text>
<text x="1119.13" y="1131.57" font-size="32.65" textLength="86.67" lengthAdjust="spacingAndGlyphs">EGFR</text>
<text x="1206.02" y="1120.71" font-size="18.5" textLength="15.35" lengthAdjust="spacingAndGlyphs">f/f</text>
<text x="1118.74" y="1160.59" font-size="31.16" textLength="83.04" lengthAdjust="spacingAndGlyphs">Math1</text>
<text x="1205.39" y="1150.61" font-size="18.8" textLength="29.41" lengthAdjust="spacingAndGlyphs">Cre</text>
<text x="1234.7" y="1144.29" font-size="17.14" textLength="6.58" lengthAdjust="spacingAndGlyphs">*</text>
<text x="1241.05" y="1150.6" font-size="18.33" textLength="26.02" lengthAdjust="spacingAndGlyphs">PR</text>
<line x1="948.6" y1="1146.7" x2="1024.1" y2="1146.7" stroke="#555" stroke-width="1.4"/>
<text x="981.75" y="1143.14" font-size="27.11" textLength="8.29" lengthAdjust="spacingAndGlyphs" font-weight="bold">*</text>
<line x1="1025.4" y1="1178.7" x2="1100.9" y2="1178.7" stroke="#555" stroke-width="1.4"/>
<text x="1058.95" y="1174.93" font-size="23.89" textLength="8.49" lengthAdjust="spacingAndGlyphs" font-weight="bold">*</text>
<line x1="1017.8" y1="1378.1" x2="1107.7" y2="1378.1" stroke="#000" stroke-width="2"/>
<text x="1016.87" y="1404.01" font-size="28.83" textLength="95.49" lengthAdjust="spacingAndGlyphs">mEGF</text>
<path d="M932.2 1215.2H976.3 M954.1 1196.8V1233.6 M943.6 1196.8H965 M943.6 1233.6H965" stroke="#000" stroke-width="2" fill="none"/>
<circle cx="939.8" cy="1169.1" r="4.8" fill="#fec47e" stroke="#000" stroke-width="1.9"/>
<circle cx="954.1" cy="1175.4" r="4.8" fill="#fec47e" stroke="#000" stroke-width="1.9"/>
<circle cx="968.8" cy="1173.1" r="4.8" fill="#fec47e" stroke="#000" stroke-width="1.9"/>
<circle cx="946.8" cy="1208.4" r="4.8" fill="#fec47e" stroke="#000" stroke-width="1.9"/>
<circle cx="961.2" cy="1215.9" r="4.8" fill="#fec47e" stroke="#000" stroke-width="1.9"/>
<circle cx="946.8" cy="1285.2" r="4.8" fill="#fec47e" stroke="#000" stroke-width="1.9"/>
<circle cx="961.7" cy="1278.9" r="4.8" fill="#fec47e" stroke="#000" stroke-width="1.9"/>
<path d="M999.5 1282.4H1043 M1021.6 1273.8V1290 M1011 1273.8H1032.2 M1011 1290H1032.2" stroke="#000" stroke-width="2" fill="none"/>
<circle cx="1021.1" cy="1244.6" r="4.8" fill="#fec47e" stroke="#000" stroke-width="1.9"/>
<circle cx="1021.1" cy="1264.8" r="4.8" fill="#fec47e" stroke="#000" stroke-width="1.9"/>
<circle cx="1013.6" cy="1274.9" r="4.8" fill="#fec47e" stroke="#000" stroke-width="1.9"/>
<circle cx="1028.7" cy="1287.4" r="4.8" fill="#fec47e" stroke="#000" stroke-width="1.9"/>
<circle cx="1006.5" cy="1296.5" r="4.8" fill="#fec47e" stroke="#000" stroke-width="1.9"/>
<circle cx="1021.1" cy="1305.8" r="4.8" fill="#fec47e" stroke="#000" stroke-width="1.9"/>
<circle cx="1036" cy="1302.5" r="4.8" fill="#fec47e" stroke="#000" stroke-width="1.9"/>
<path d="M1066.2 1243.6H1110.5 M1088.3 1228.3V1259.2 M1077.5 1228.3H1099.2 M1077.5 1259.2H1099.2" stroke="#000" stroke-width="2" fill="none"/>
<circle cx="1088.3" cy="1200.6" r="4.8" fill="#8e1005" stroke="#000" stroke-width="1.9"/>
<circle cx="1088.3" cy="1221.5" r="4.8" fill="#8e1005" stroke="#000" stroke-width="1.9"/>
<circle cx="1088.3" cy="1242.1" r="4.8" fill="#8e1005" stroke="#000" stroke-width="1.9"/>
<circle cx="1095.9" cy="1272.6" r="4.8" fill="#8e1005" stroke="#000" stroke-width="1.9"/>
<circle cx="1080.8" cy="1283.2" r="4.8" fill="#8e1005" stroke="#000" stroke-width="1.9"/>
<text x="1314.68" y="1050.3" font-size="40" textLength="27.23" lengthAdjust="spacingAndGlyphs" font-weight="bold">h</text>
<path d="M1426.6 1089.3V1367.5" stroke="#000" stroke-width="2" fill="none"/>
<path d="M1419 1089.3H1426.6M1419 1182.5H1426.6M1419 1274.9H1426.6M1419 1367.5H1426.6" stroke="#000" stroke-width="2" fill="none"/>
<path d="M1419 1367.5H1563.3" stroke="#000" stroke-width="2" fill="none"/>
<text x="1371.46" y="1100.75" font-size="32.83" textLength="36.44" lengthAdjust="spacingAndGlyphs">60</text>
<text x="1371.46" y="1193.95" font-size="32.83" textLength="36.44" lengthAdjust="spacingAndGlyphs">40</text>
<text x="1371.46" y="1286.35" font-size="32.83" textLength="36.44" lengthAdjust="spacingAndGlyphs">20</text>
<text x="1389.65" y="1378.95" font-size="32.83" textLength="18.22" lengthAdjust="spacingAndGlyphs">0</text>
<text transform="translate(1339.91 1356.07) rotate(-90)" font-size="26.92" textLength="255.55" lengthAdjust="spacingAndGlyphs">% Aldefluor activity</text>
<circle cx="1552.8" cy="1071.4" r="5.4" fill="#f3f5f9" stroke="#000" stroke-width="1.8"/>
<circle cx="1552.8" cy="1105.1" r="5.4" fill="#0a0ab4" stroke="#000" stroke-width="1.8"/>
<text x="1568.06" y="1080.08" font-size="31.84" textLength="128.46" lengthAdjust="spacingAndGlyphs">mAChR4</text>
<text x="1696.82" y="1069.42" font-size="17.82" textLength="24.28" lengthAdjust="spacingAndGlyphs">fl/fl</text>
<text x="1568.06" y="1110.78" font-size="31.7" textLength="128.46" lengthAdjust="spacingAndGlyphs">mAChR4</text>
<text x="1696.32" y="1100.22" font-size="17.82" textLength="15.35" lengthAdjust="spacingAndGlyphs">f/f</text>
<text x="1568.24" y="1138.49" font-size="31.02" textLength="83.04" lengthAdjust="spacingAndGlyphs">Math1</text>
<text x="1655.38" y="1127.82" font-size="18.37" textLength="62.18" lengthAdjust="spacingAndGlyphs">Cre*PR</text>
<line x1="1465.1" y1="1141.4" x2="1540.6" y2="1141.4" stroke="#000" stroke-width="2"/>
<text x="1496.95" y="1135.74" font-size="23.62" textLength="8.29" lengthAdjust="spacingAndGlyphs" font-weight="bold">*</text>
<circle cx="1465.6" cy="1159.3" r="5.4" fill="#f3f5f9" stroke="#000" stroke-width="1.6"/>
<circle cx="1454.5" cy="1212.7" r="5.4" fill="#f3f5f9" stroke="#000" stroke-width="1.6"/>
<circle cx="1476.4" cy="1216.9" r="5.4" fill="#f3f5f9" stroke="#000" stroke-width="1.6"/>
<circle cx="1465.1" cy="1229" r="5.4" fill="#f3f5f9" stroke="#000" stroke-width="1.6"/>
<circle cx="1465.1" cy="1246.7" r="5.4" fill="#f3f5f9" stroke="#000" stroke-width="1.6"/>
<circle cx="1465.6" cy="1266.3" r="5.4" fill="#f3f5f9" stroke="#000" stroke-width="1.6"/>
<path d="M1446.2 1221.5H1484.5 M1465.1 1206.4V1237.1 M1455.8 1206.4H1474.7 M1455.8 1237.1H1474.7" stroke="#000" stroke-width="2" fill="none"/>
<circle cx="1523.5" cy="1229" r="5.4" fill="#0a0ab4" stroke="#000" stroke-width="1.6"/>
<circle cx="1515" cy="1256.7" r="5.4" fill="#0a0ab4" stroke="#000" stroke-width="1.6"/>
<circle cx="1531.8" cy="1266" r="5.4" fill="#0a0ab4" stroke="#000" stroke-width="1.6"/>
<circle cx="1515" cy="1299" r="5.4" fill="#0a0ab4" stroke="#000" stroke-width="1.6"/>
<circle cx="1531.8" cy="1296.3" r="5.4" fill="#0a0ab4" stroke="#000" stroke-width="1.6"/>
<path d="M1504.1 1269.3H1542.4 M1523.5 1256.2V1282.7 M1515 1256.2H1533.1 M1515 1282.7H1533.1" stroke="#000" stroke-width="2" fill="none"/>
<path d="M1032.8 1524V1817.5" stroke="#000" stroke-width="2" fill="none"/>
<path d="M1025 1524H1032.8M1025 1622.2H1032.8M1025 1720H1032.8M1025 1817.5H1032.8" stroke="#000" stroke-width="2" fill="none"/>
<path d="M1025 1817.5H1180.7" stroke="#000" stroke-width="2" fill="none"/>
<text x="976.39" y="1535.65" font-size="33.41" textLength="35.79" lengthAdjust="spacingAndGlyphs">30</text>
<text x="976.39" y="1633.85" font-size="33.41" textLength="35.79" lengthAdjust="spacingAndGlyphs">20</text>
<text x="976.39" y="1731.65" font-size="33.41" textLength="35.79" lengthAdjust="spacingAndGlyphs">10</text>
<text x="994.25" y="1829.15" font-size="33.41" textLength="17.89" lengthAdjust="spacingAndGlyphs">0</text>
<text transform="translate(913.48 1814.99) rotate(-90)" font-size="32.24" textLength="290.09" lengthAdjust="spacingAndGlyphs">% of CD11b+ F4/80+</text>
<text transform="translate(951.3 1767.06) rotate(-90)" font-size="30.48" textLength="200.8" lengthAdjust="spacingAndGlyphs">that are IL-10+</text>
<line x1="1035.7" y1="1828.8" x2="1103.6" y2="1828.8" stroke="#000" stroke-width="2"/>
<line x1="1114.9" y1="1828.8" x2="1183.6" y2="1828.8" stroke="#000" stroke-width="2"/>
<text x="1060.32" y="1857.75" font-size="25.44" textLength="29.02" lengthAdjust="spacingAndGlyphs">SI</text>
<text x="1113.36" y="1857.95" font-size="25.44" textLength="80.48" lengthAdjust="spacingAndGlyphs">Colon</text>
<circle cx="1128.3" cy="1523.4" r="5.4" fill="#00ff00" stroke="#000" stroke-width="1.8"/>
<circle cx="1129.9" cy="1555.6" r="5.4" fill="#ff0000" stroke="#000" stroke-width="1.8"/>
<text x="1145.19" y="1534.58" font-size="31.7" textLength="84.61" lengthAdjust="spacingAndGlyphs">Math1</text>
<text x="1234.02" y="1524.01" font-size="18.5" textLength="24.28" lengthAdjust="spacingAndGlyphs">fl/fl</text>
<text x="1145.19" y="1565.38" font-size="31.84" textLength="84.61" lengthAdjust="spacingAndGlyphs">Math1</text>
<text x="1234.02" y="1554.71" font-size="18.5" textLength="24.28" lengthAdjust="spacingAndGlyphs">fl/fl</text>
<text x="1146.62" y="1592.48" font-size="31.7" textLength="146.54" lengthAdjust="spacingAndGlyphs">vil-Cre-ER</text>
<text x="1292.27" y="1582.1" font-size="19.5" textLength="22.11" lengthAdjust="spacingAndGlyphs">T2</text>
<line x1="1052.7" y1="1632.9" x2="1101.5" y2="1632.9" stroke="#000" stroke-width="2"/>
<text x="1069.35" y="1636.32" font-size="22.28" textLength="8.29" lengthAdjust="spacingAndGlyphs" font-weight="bold">*</text>
<line x1="1119.2" y1="1730.6" x2="1163" y2="1730.6" stroke="#000" stroke-width="2"/>
<text x="1129.57" y="1721.56" font-size="24.11" textLength="30.16" lengthAdjust="spacingAndGlyphs">ns</text>
<path d="M1043.9 1676.7H1066.4 M1055.3 1657.9V1695.4 M1049.7 1657.9H1060.8 M1049.7 1695.4H1060.8" stroke="#000" stroke-width="2" fill="none"/>
<circle cx="1046.3" cy="1641.6" r="5.5" fill="#00ff00" stroke="#000" stroke-width="1.7"/>
<circle cx="1061" cy="1646.6" r="5.5" fill="#00ff00" stroke="#000" stroke-width="1.7"/>
<circle cx="1050.3" cy="1710.3" r="5.5" fill="#00ff00" stroke="#000" stroke-width="1.7"/>
<circle cx="1064.1" cy="1707.4" r="5.5" fill="#00ff00" stroke="#000" stroke-width="1.7"/>
<path d="M1078.3 1755.9H1099.6 M1088.9 1742.5V1769 M1084.2 1742.5H1094.3 M1084.2 1769H1094.3" stroke="#000" stroke-width="2" fill="none"/>
<circle cx="1089.4" cy="1710.3" r="5.5" fill="#ff0000" stroke="#000" stroke-width="1.7"/>
<circle cx="1080.2" cy="1748.8" r="5.5" fill="#ff0000" stroke="#000" stroke-width="1.7"/>
<circle cx="1094.8" cy="1756.6" r="5.5" fill="#ff0000" stroke="#000" stroke-width="1.7"/>
<circle cx="1098.4" cy="1773.2" r="5.5" fill="#ff0000" stroke="#000" stroke-width="1.7"/>
<circle cx="1083.7" cy="1787.9" r="5.5" fill="#ff0000" stroke="#000" stroke-width="1.7"/>
<path d="M1114 1756H1131 M1122.8 1751V1760 M1118 1751H1127 M1118 1760H1127" stroke="#000" stroke-width="2" fill="none"/>
<circle cx="1114.5" cy="1748.8" r="5.5" fill="#00ff00" stroke="#000" stroke-width="1.7"/>
<circle cx="1128.7" cy="1749.5" r="5.5" fill="#00ff00" stroke="#000" stroke-width="1.7"/>
<circle cx="1132" cy="1754.8" r="5.5" fill="#00ff00" stroke="#000" stroke-width="1.7"/>
<circle cx="1117.8" cy="1768.5" r="5.5" fill="#00ff00" stroke="#000" stroke-width="1.7"/>
<path d="M1148 1754H1166 M1156.8 1750V1758 M1152 1750H1161 M1152 1758H1161" stroke="#000" stroke-width="2" fill="none"/>
<circle cx="1157.1" cy="1738.7" r="5.5" fill="#ff0000" stroke="#000" stroke-width="1.7"/>
<circle cx="1148.1" cy="1754.8" r="5.5" fill="#ff0000" stroke="#000" stroke-width="1.7"/>
<circle cx="1165.8" cy="1753.1" r="5.5" fill="#ff0000" stroke="#000" stroke-width="1.7"/>
<circle cx="1159.9" cy="1762.6" r="5.5" fill="#ff0000" stroke="#000" stroke-width="1.7"/>
<circle cx="1154" cy="1769" r="5.5" fill="#ff0000" stroke="#000" stroke-width="1.7"/>
<text x="221.02" y="1487.5" font-size="41.93" textLength="16.97" lengthAdjust="spacingAndGlyphs" font-weight="bold">i</text>
<text x="365.09" y="1521.8" font-size="30.07" textLength="87.76" lengthAdjust="spacingAndGlyphs">Math1</text>
<text x="454.41" y="1512.6" font-size="19.73" textLength="24.6" lengthAdjust="spacingAndGlyphs">fl/fl</text>
<text x="664" y="1494.81" font-size="28.71" textLength="87.45" lengthAdjust="spacingAndGlyphs">Math1</text>
<text x="753.02" y="1487.29" font-size="20.68" textLength="24.17" lengthAdjust="spacingAndGlyphs">fl/fl</text>
<text x="641.92" y="1527.2" font-size="29.93" textLength="148.26" lengthAdjust="spacingAndGlyphs">vil-Cre-ER</text>
<text x="790" y="1519.5" font-size="21.79" textLength="20.94" lengthAdjust="spacingAndGlyphs">T2</text>
<text x="294.54" y="1577.8" font-size="30.39" textLength="68.92" lengthAdjust="spacingAndGlyphs">10.5</text>
<text x="598.94" y="1581.2" font-size="30.39" textLength="51.62" lengthAdjust="spacingAndGlyphs">6.2</text>
<text transform="translate(274.88 1727.34) rotate(-90)" font-size="32.08" textLength="79.92" lengthAdjust="spacingAndGlyphs">IL-10</text>
<text x="512.2" y="1860.21" font-size="29.25" textLength="97.32" lengthAdjust="spacingAndGlyphs">CD11b</text>
<path d="M266.2 1545V1634.7M266.2 1733.6V1809.5" stroke="#222" stroke-width="2" fill="none"/>
<path d="M266.2 1529.1L275.7 1546L266.2 1542.5L256.7 1546Z" fill="#222"/>
<path d="M305.3 1850H488.5M630.2 1850H812" stroke="#222" stroke-width="2" fill="none"/>
<path d="M822.5 1850L805 1840.5L808.5 1850L805 1859.5Z" fill="#222"/>
<text x="1380.53" y="1488.01" font-size="41.39" textLength="11.61" lengthAdjust="spacingAndGlyphs" font-weight="bold">j</text>
<path d="M1512.4 1524.6V1825.4" stroke="#000" stroke-width="2" fill="none"/>
<path d="M1503.7 1524.6H1512.4M1503.7 1625.1H1512.4M1503.7 1725.1H1512.4M1503.7 1825.4H1512.4" stroke="#000" stroke-width="2" fill="none"/>
<path d="M1503.7 1825.4H1659.8" stroke="#000" stroke-width="2" fill="none"/>
<text x="1467.46" y="1533.8" font-size="26.38" textLength="27.94" lengthAdjust="spacingAndGlyphs">30</text>
<text x="1467.46" y="1634.3" font-size="26.38" textLength="27.94" lengthAdjust="spacingAndGlyphs">20</text>
<text x="1467.46" y="1734.3" font-size="26.38" textLength="27.94" lengthAdjust="spacingAndGlyphs">10</text>
<text x="1481.4" y="1834.6" font-size="26.38" textLength="13.97" lengthAdjust="spacingAndGlyphs">0</text>
<text transform="translate(1404.08 1838.92) rotate(-90)" font-size="31.84" textLength="298.26" lengthAdjust="spacingAndGlyphs">% of CD11b+ F4/80+</text>
<text transform="translate(1441.48 1787.97) rotate(-90)" font-size="31.84" textLength="205.34" lengthAdjust="spacingAndGlyphs">that are IL-10+</text>
<circle cx="1547.4" cy="1505.9" r="5.9" fill="#f3f5f9" stroke="#000" stroke-width="1.8"/>
<circle cx="1547.6" cy="1542.2" r="7" fill="#0000c8" stroke="none" stroke-width="0"/>
<text x="1568.68" y="1513.58" font-size="31.7" textLength="127.44" lengthAdjust="spacingAndGlyphs">mAChR4</text>
<text x="1696.92" y="1503.51" font-size="18.5" textLength="23.63" lengthAdjust="spacingAndGlyphs">fl/fl</text>
<text x="1568.68" y="1544.38" font-size="31.84" textLength="127.44" lengthAdjust="spacingAndGlyphs">mAChR4</text>
<text x="1695.96" y="1533.72" font-size="17.82" textLength="13.32" lengthAdjust="spacingAndGlyphs">f/f</text>
<text x="1568.34" y="1571.98" font-size="31.7" textLength="82.94" lengthAdjust="spacingAndGlyphs">Math1</text>
<text x="1655.49" y="1561.41" font-size="18.52" textLength="61.67" lengthAdjust="spacingAndGlyphs">Cre*PR</text>
<line x1="1548.8" y1="1620.9" x2="1631.1" y2="1620.9" stroke="#000" stroke-width="2"/>
<text x="1582.13" y="1614.35" font-size="20" textLength="8.22" lengthAdjust="spacingAndGlyphs">*</text>
<path d="M1532.9 1682.4H1574.5 M1554 1668.3V1695.2 M1543.4 1668.3H1563.8 M1543.4 1695.2H1563.8" stroke="#000" stroke-width="2" fill="none"/>
<circle cx="1562.8" cy="1645.4" r="6" fill="#f3f5f9" stroke="#000" stroke-width="1.8"/>
<circle cx="1545.3" cy="1656.2" r="6" fill="#f3f5f9" stroke="#000" stroke-width="1.8"/>
<circle cx="1545.3" cy="1691.7" r="6" fill="#f3f5f9" stroke="#000" stroke-width="1.8"/>
<circle cx="1562.1" cy="1692.9" r="6" fill="#f3f5f9" stroke="#000" stroke-width="1.8"/>
<circle cx="1554" cy="1722.1" r="6" fill="#f3f5f9" stroke="#000" stroke-width="1.8"/>
<path d="M1596 1729.6H1637.6 M1616.6 1717.4V1742.4 M1606.5 1717.4H1626.4 M1606.5 1742.4H1626.4" stroke="#0000c0" stroke-width="2" fill="none"/>
<circle cx="1607.7" cy="1712" r="7" fill="#0000c8" stroke="none" stroke-width="0"/>
<circle cx="1625.7" cy="1708.5" r="7" fill="#0000c8" stroke="none" stroke-width="0"/>
<circle cx="1616.6" cy="1735" r="7" fill="#0000c8" stroke="none" stroke-width="0"/>
<circle cx="1616.6" cy="1763" r="7" fill="#0000c8" stroke="none" stroke-width="0"/>
<path d="M171 746h1.3m67.7 10h1.3m-54.3 2h1.3m29.7 2h1.3m-29.3 1h1.3m-30.3 1h1.3m40.7 2h1.3m-26.3 1h1.3m14.7 0h1.3m-9.3 1h1.3m-32.3 1h1.3m47.7 1h1.3m5.7 3h1.3m0.7 1h1.3m-40.3 1h1.3m13.7 0h1.3m20.7 0h1.3m-42.3 2h1.3m34.7 0h1.3m-20.3 1h1.3m-19.3 1h1.3m15.7 0h1.3m34.7 0h1.3m-7.3 1h1.3m-63.3 1h1.3m54.7 0h1.3m7.7 0h1.3m-59.3 1h1.3m33.7 0h1.3m8.7 0h1.3m3.7 0h1.3m3.7 0h1.3m-57.3 1h1.3m46.7 0h1.3m4.7 0h1.3m3.7 0h1.3m9.7 0h1.3m-80.3 1h1.3m30.7 0h1.3m25.7 0h1.3m-0.3 0h1.3m32.7 0h1.3m-102.3 1h1.3m52.7 0h1.3m4.7 0h1.3m5.7 0h1.3m1.7 0h1.3m-32.3 1h1.3m25.7 0h1.3m2.7 0h1.3m2.7 0h1.3m-30.3 1h1.3m5.7 0h1.3m5.7 0h1.3m1.7 0h1.3m1.7 0h1.3m-0.3 0h1.3m1.7 0h1.3m1.7 0h1.3m-12.3 1h1.3m5.7 0h1.3m0.7 0h1.3m2.7 0h1.3m3.7 0h1.3m-38.3 1h1.3m6.7 0h1.3m-0.3 0h1.3m5.7 0h1.3m0.7 0h1.3m0.7 0h1.3m1.7 0h1.3m2.7 0h1.3m-0.3 0h1.3m10.7 0h1.3m-0.3 0h1.3m-29.3 1h1.3m9.7 0h1.3m-0.3 0h1.3m1.7 0h1.3m1.7 0h1.3m4.7 0h1.3m0.7 0h1.3m-20.3 1h1.3m7.7 0h1.3m6.7 0h1.3m-0.3 0h1.3m0.7 0h1.3m-53.3 1h1.3m19.7 0h1.3m7.7 0h1.3m3.7 0h1.3m-0.3 0h1.3m9.7 0h1.3m-25.3 1h1.3m3.7 0h1.3m6.7 0h1.3m3.7 0h1.3m5.7 0h1.3m3.7 0h1.3m-22.3 1h1.3m1.7 0h1.3m2.7 0h1.3m0.7 0h1.3m-0.3 0h1.3m3.7 0h1.3m-0.3 0h1.3m-0.3 0h1.3m11.7 0h1.3m-72.3 1h1.3m12.7 0h1.3m18.7 0h1.3m3.7 0h1.3m-0.3 0h1.3m-0.3 0h1.3m1.7 0h1.3m1.7 0h1.3m0.7 0h1.3m-0.3 0h1.3m-0.3 0h1.3m1.7 0h1.3m9.7 0h1.3m-60.3 1h1.3m22.7 0h1.3m7.7 0h1.3m1.7 0h1.3m-0.3 0h1.3m3.7 0h1.3m0.7 0h1.3m-0.3 0h1.3m-0.3 0h1.3m1.7 0h1.3m3.7 0h1.3m-77.3 1h1.3m42.7 0h1.3m3.7 0h1.3m8.7 0h1.3m0.7 0h1.3m2.7 0h1.3m1.7 0h1.3m3.7 0h1.3m-30.3 1h1.3m1.7 0h1.3m0.7 0h1.3m4.7 0h1.3m2.7 0h1.3m0.7 0h1.3m-0.3 0h1.3m0.7 0h1.3m-0.3 0h1.3m0.7 0h1.3m1.7 0h1.3m0.7 0h1.3m0.7 0h1.3m16.7 0h1.3m-68.3 1h1.3m4.7 0h1.3m4.7 0h1.3m10.7 0h1.3m0.7 0h1.3m-0.3 0h1.3m-0.3 0h1.3m1.7 0h1.3m-0.3 0h1.3m0.7 0h1.3m2.7 0h1.3m1.7 0h1.3m-0.3 0h1.3m-0.3 0h1.3m2.7 0h1.3m4.7 0h1.3m-45.3 1h1.3m12.7 0h1.3m-0.3 0h1.3m5.7 0h1.3m2.7 0h1.3m2.7 0h1.3m2.7 0h1.3m0.7 0h1.3m0.7 0h1.3m2.7 0h1.3m3.7 0h1.3m-92.3 1h1.3m24.7 0h1.3m12.7 0h1.3m11.7 0h1.3m7.7 0h1.3m0.7 0h1.3m-0.3 0h1.3m-0.3 0h1.3m5.7 0h1.3m-0.3 0h1.3m0.7 0h1.3m-0.3 0h1.3m-0.3 0h1.3m-0.3 0h1.3m0.7 0h1.3m9.7 0h1.3m-52.3 1h1.3m5.7 0h1.3m6.7 0h1.3m7.7 0h1.3m2.7 0h1.3m1.7 0h1.3m-0.3 0h1.3m2.7 0h1.3m0.7 0h1.3m-0.3 0h1.3m-28.3 1h1.3m0.7 0h1.3m4.7 0h1.3m-0.3 0h1.3m-0.3 0h1.3m0.7 0h1.3m-0.3 0h1.3m1.7 0h1.3m-0.3 0h1.3m-0.3 0h1.3m-0.3 0h1.3m0.7 0h1.3m1.7 0h1.3m2.7 0h1.3m5.7 0h1.3m2.7 0h1.3m-59.3 1h1.3m3.7 0h1.3m3.7 0h1.3m14.7 0h1.3m9.7 0h1.3m-0.3 0h1.3m-0.3 0h1.3m-0.3 0h1.3m-0.3 0h1.3m-0.3 0h1.3m2.7 0h1.3m-0.3 0h1.3m5.7 0h1.3m-65.3 1h1.3m26.7 0h1.3m3.7 0h1.3m4.7 0h1.3m-0.3 0h1.3m-0.3 0h1.3m3.7 0h1.3m1.7 0h1.3m-0.3 0h1.3m1.7 0h1.3m-0.3 0h1.3m-0.3 0h1.3m6.7 0h1.3m-70.3 1h1.3m24.7 0h1.3m10.7 0h1.3m1.7 0h1.3m0.7 0h1.3m0.7 0h1.3m-0.3 0h1.3m1.7 0h1.3m0.7 0h1.3m-0.3 0h1.3m-0.3 0h1.3m0.7 0h1.3m-0.3 0h1.3m-0.3 0h1.3m-0.3 0h1.3m1.7 0h1.3m-0.3 0h1.3m2.7 0h1.3m-0.3 0h1.3m0.7 0h1.3m-0.3 0h1.3m2.7 0h1.3m-66.3 1h1.3m22.7 0h1.3m0.7 0h1.3m8.7 0h1.3m-0.3 0h1.3m2.7 0h1.3m1.7 0h1.3m-0.3 0h1.3m0.7 0h1.3m-0.3 0h1.3m-0.3 0h1.3m0.7 0h1.3m1.7 0h1.3m-0.3 0h1.3m4.7 0h1.3m4.7 0h1.3m-33.3 1h1.3m-0.3 0h1.3m0.7 0h1.3m-0.3 0h1.3m0.7 0h1.3m1.7 0h1.3m-0.3 0h1.3m-0.3 0h1.3m1.7 0h1.3m1.7 0h1.3m-0.3 0h1.3m-0.3 0h1.3m-0.3 0h1.3m-0.3 0h1.3m-0.3 0h1.3m-78.3 1h1.3m11.7 0h1.3m8.7 0h1.3m5.7 0h1.3m-0.3 0h1.3m-0.3 0h1.3m5.7 0h1.3m5.7 0h1.3m-0.3 0h1.3m6.7 0h1.3m-0.3 0h1.3m-0.3 0h1.3m3.7 0h1.3m8.7 0h1.3m4.7 0h1.3m-0.3 0h1.3m-83.3 1h1.3m28.7 0h1.3m17.7 0h1.3m1.7 0h1.3m0.7 0h1.3m2.7 0h1.3m1.7 0h1.3m1.7 0h1.3m3.7 0h1.3m0.7 0h1.3m-0.3 0h1.3m3.7 0h1.3m-0.3 0h1.3m0.7 0h1.3m0.7 0h1.3m-58.3 1h1.3m21.7 0h1.3m0.7 0h1.3m-0.3 0h1.3m11.7 0h1.3m3.7 0h1.3m-0.3 0h1.3m3.7 0h1.3m1.7 0h1.3m-0.3 0h1.3m3.7 0h1.3m-86.3 1h1.3m21.7 0h1.3m6.7 0h1.3m6.7 0h1.3m4.7 0h1.3m8.7 0h1.3m0.7 0h1.3m-0.3 0h1.3m-0.3 0h1.3m-0.3 0h1.3m2.7 0h1.3m-0.3 0h1.3m-0.3 0h1.3m2.7 0h1.3m6.7 0h1.3m3.7 0h1.3m1.7 0h1.3m-80.3 1h1.3m20.7 0h1.3m12.7 0h1.3m7.7 0h1.3m15.7 0h1.3m-0.3 0h1.3m-0.3 0h1.3m7.7 0h1.3m1.7 0h1.3m-0.3 0h1.3m-49.3 1h1.3m0.7 0h1.3m2.7 0h1.3m3.7 0h1.3m4.7 0h1.3m4.7 0h1.3m-0.3 0h1.3m-0.3 0h1.3m6.7 0h1.3m0.7 0h1.3m0.7 0h1.3m0.7 0h1.3m0.7 0h1.3m-0.3 0h1.3m4.7 0h1.3m-0.3 0h1.3m-71.3 1h1.3m34.7 0h1.3m4.7 0h1.3m2.7 0h1.3m-0.3 0h1.3m1.7 0h1.3m0.7 0h1.3m0.7 0h1.3m-0.3 0h1.3m-0.3 0h1.3m-0.3 0h1.3m0.7 0h1.3m-0.3 0h1.3m0.7 0h1.3m-0.3 0h1.3m2.7 0h1.3m-74.3 1h1.3m11.7 0h1.3m0.7 0h1.3m5.7 0h1.3m5.7 0h1.3m0.7 0h1.3m0.7 0h1.3m2.7 0h1.3m2.7 0h1.3m1.7 0h1.3m1.7 0h1.3m0.7 0h1.3m0.7 0h1.3m1.7 0h1.3m0.7 0h1.3m1.7 0h1.3m0.7 0h1.3m-59.3 1h1.3m10.7 0h1.3m26.7 0h1.3m-0.3 0h1.3m17.7 0h1.3m-0.3 0h1.3m7.7 0h1.3m-0.3 0h1.3m9.7 0h1.3m-81.3 1h1.3m8.7 0h1.3m10.7 0h1.3m8.7 0h1.3m13.7 0h1.3m0.7 0h1.3m0.7 0h1.3m-0.3 0h1.3m-0.3 0h1.3m-0.3 0h1.3m3.7 0h1.3m3.7 0h1.3m3.7 0h1.3m-69.3 1h1.3m6.7 0h1.3m5.7 0h1.3m10.7 0h1.3m4.7 0h1.3m9.7 0h1.3m1.7 0h1.3m-0.3 0h1.3m5.7 0h1.3m1.7 0h1.3m-0.3 0h1.3m4.7 0h1.3m-38.3 1h1.3m2.7 0h1.3m16.7 0h1.3m3.7 0h1.3m0.7 0h1.3m4.7 0h1.3m1.7 0h1.3m-74.3 1h1.3m5.7 0h1.3m21.7 0h1.3m-0.3 0h1.3m3.7 0h1.3m2.7 0h1.3m9.7 0h1.3m8.7 0h1.3m3.7 0h1.3m5.7 0h1.3m-61.3 1h1.3m11.7 0h1.3m17.7 0h1.3m-0.3 0h1.3m5.7 0h1.3m-0.3 0h1.3m2.7 0h1.3m3.7 0h1.3m0.7 0h1.3m-0.3 0h1.3m1.7 0h1.3m0.7 0h1.3m2.7 0h1.3m1.7 0h1.3m-56.3 1h1.3m-0.3 0h1.3m3.7 0h1.3m10.7 0h1.3m6.7 0h1.3m20.7 0h1.3m-33.3 1h1.3m8.7 0h1.3m1.7 0h1.3m1.7 0h1.3m-0.3 0h1.3m0.7 0h1.3m2.7 0h1.3m7.7 0h1.3m-0.3 0h1.3m2.7 0h1.3m8.7 0h1.3m-130.3 1h1.3m37.7 0h1.3m15.7 0h1.3m4.7 0h1.3m0.7 0h1.3m-0.3 0h1.3m17.7 0h1.3m-0.3 0h1.3m1.7 0h1.3m14.7 0h1.3m0.7 0h1.3m6.7 0h1.3m8.7 0h1.3m-72.3 1h1.3m9.7 0h1.3m8.7 0h1.3m3.7 0h1.3m8.7 0h1.3m10.7 0h1.3m0.7 0h1.3m11.7 0h1.3m5.7 0h1.3m-71.3 1h1.3m8.7 0h1.3m13.7 0h1.3m15.7 0h1.3m4.7 0h1.3m0.7 0h1.3m11.7 0h1.3m-83.3 1h1.3m6.7 0h1.3m17.7 0h1.3m2.7 0h1.3m9.7 0h1.3m4.7 0h1.3m16.7 0h1.3m1.7 0h1.3m1.7 0h1.3m-48.3 1h1.3m1.7 0h1.3m2.7 0h1.3m12.7 0h1.3m13.7 0h1.3m3.7 0h1.3m2.7 0h1.3m0.7 0h1.3m-45.3 1h1.3m6.7 0h1.3m8.7 0h1.3m4.7 0h1.3m0.7 0h1.3m10.7 0h1.3m2.7 0h1.3m3.7 0h1.3m3.7 0h1.3m-70.3 1h1.3m16.7 0h1.3m10.7 0h1.3m2.7 0h1.3m8.7 0h1.3m-0.3 0h1.3m1.7 0h1.3m5.7 0h1.3m1.7 0h1.3m2.7 0h1.3m-0.3 0h1.3m-72.3 1h1.3m22.7 0h1.3m5.7 0h1.3m6.7 0h1.3m-0.3 0h1.3m2.7 0h1.3m13.7 0h1.3m7.7 0h1.3m-42.3 1h1.3m1.7 0h1.3m20.7 0h1.3m14.7 0h1.3m1.7 0h1.3m7.7 0h1.3m11.7 0h1.3m6.7 0h1.3m-80.3 1h1.3m1.7 0h1.3m-0.3 0h1.3m6.7 0h1.3m6.7 0h1.3m29.7 0h1.3m12.7 0h1.3m-77.3 1h1.3m10.7 0h1.3m6.7 0h1.3m17.7 0h1.3m8.7 0h1.3m1.7 0h1.3m-57.3 1h1.3m23.7 0h1.3m2.7 0h1.3m5.7 0h1.3m11.7 0h1.3m7.7 1h1.3m7.7 0h1.3m20.7 0h1.3m-86.3 1h1.3m6.7 0h1.3m13.7 0h1.3m-0.3 0h1.3m12.7 0h1.3m2.7 0h1.3m6.7 0h1.3m5.7 0h1.3m-32.3 1h1.3m-0.3 0h1.3m1.7 0h1.3m-0.3 0h1.3m15.7 0h1.3m5.7 0h1.3m0.7 0h1.3m11.7 0h1.3m-72.3 1h1.3m13.7 0h1.3m9.7 0h1.3m0.7 0h1.3m-0.3 0h1.3m13.7 0h1.3m-0.3 0h1.3m0.7 0h1.3m-65.3 1h1.3m15.7 0h1.3m5.7 0h1.3m5.7 0h1.3m1.7 0h1.3m0.7 0h1.3m2.7 0h1.3m22.7 0h1.3m4.7 0h1.3m0.7 0h1.3m-89.3 1h1.3m13.7 0h1.3m31.7 0h1.3m2.7 0h1.3m14.7 0h1.3m0.7 0h1.3m-0.3 0h1.3m2.7 0h1.3m7.7 0h1.3m6.7 0h1.3m-32.3 1h1.3m10.7 0h1.3m-27.3 1h1.3m23.7 0h1.3m2.7 0h1.3m2.7 0h1.3m2.7 0h1.3m-55.3 1h1.3m1.7 0h1.3m3.7 0h1.3m0.7 0h1.3m0.7 0h1.3m6.7 0h1.3m2.7 0h1.3m3.7 0h1.3m2.7 0h1.3m3.7 0h1.3m0.7 0h1.3m1.7 0h1.3m1.7 0h1.3m5.7 0h1.3m15.7 0h1.3m-79.3 1h1.3m24.7 0h1.3m7.7 0h1.3m20.7 0h1.3m8.7 0h1.3m6.7 0h1.3m8.7 0h1.3m-65.3 1h1.3m6.7 0h1.3m2.7 0h1.3m17.7 0h1.3m9.7 0h1.3m-47.3 1h1.3m12.7 0h1.3m2.7 0h1.3m-0.3 0h1.3m11.7 0h1.3m28.7 0h1.3m0.7 0h1.3m-31.3 1h1.3m0.7 0h1.3m29.7 0h1.3m2.7 0h1.3m-55.3 1h1.3m14.7 0h1.3m-60.3 1h1.3m4.7 0h1.3m1.7 0h1.3m13.7 0h1.3m19.7 0h1.3m-0.3 0h1.3m-0.3 0h1.3m2.7 0h1.3m10.7 0h1.3m-18.3 1h1.3m3.7 0h1.3m-0.3 0h1.3m1.7 0h1.3m9.7 0h1.3m4.7 0h1.3m16.7 0h1.3m-51.3 1h1.3m-0.3 0h1.3m7.7 0h1.3m3.7 0h1.3m25.7 0h1.3m-48.3 1h1.3m5.7 0h1.3m-0.3 0h1.3m4.7 0h1.3m2.7 0h1.3m8.7 0h1.3m10.7 0h1.3m-36.3 1h1.3m31.7 0h1.3m1.7 0h1.3m-66.3 1h1.3m26.7 0h1.3m2.7 0h1.3m8.7 0h1.3m15.7 0h1.3m12.7 0h1.3m10.7 0h1.3m-52.3 1h1.3m13.7 0h1.3m5.7 0h1.3m4.7 0h1.3m-0.3 0h1.3m-35.3 1h1.3m16.7 0h1.3m5.7 0h1.3m8.7 0h1.3m-39.3 1h1.3m21.7 0h1.3m9.7 0h1.3m-44.3 1h1.3m24.7 0h1.3m5.7 0h1.3m29.7 0h1.3m-60.3 1h1.3m13.7 0h1.3m0.7 0h1.3m13.7 0h1.3m0.7 0h1.3m-62.3 1h1.3m42.7 0h1.3m2.7 0h1.3m0.7 0h1.3m5.7 0h1.3m3.7 0h1.3m9.7 0h1.3m-52.3 1h1.3m3.7 0h1.3m4.7 0h1.3m27.7 0h1.3m14.7 0h1.3m-59.3 1h1.3m12.7 0h1.3m-0.3 0h1.3m7.7 0h1.3m-0.3 0h1.3m9.7 0h1.3m-17.3 1h1.3m0.7 0h1.3m1.7 0h1.3m-0.3 0h1.3m-0.3 0h1.3m36.7 0h1.3m-46.3 1h1.3m11.7 0h1.3m12.7 0h1.3m-49.3 1h1.3m36.7 0h1.3m1.7 0h1.3m-32.3 1h1.3m13.7 0h1.3m27.7 0h1.3m-4.3 1h1.3m10.7 0h1.3m-59.3 1h1.3m20.7 0h1.3m1.7 0h1.3m12.7 0h1.3m-62.3 1h1.3m26.7 0h1.3m0.7 0h1.3m19.7 0h1.3m0.7 0h1.3m2.7 0h1.3m-53.3 1h1.3m16.7 0h1.3m0.7 0h1.3m12.7 0h1.3m4.7 0h1.3m4.7 0h1.3m-0.3 0h1.3m6.7 0h1.3m3.7 0h1.3m28.7 0h1.3m-39.3 1h1.3m6.7 0h1.3m11.7 0h1.3m-62.3 1h1.3m7.7 0h1.3m-0.3 0h1.3m4.7 1h1.3m18.7 0h1.3m10.7 0h1.3m23.7 0h1.3m-63.3 1h1.3m1.7 0h1.3m12.7 0h1.3m18.7 0h1.3m4.7 0h1.3m-44.3 1h1.3m15.7 0h1.3m-11.3 1h1.3m2.7 0h1.3m5.7 0h1.3m0.7 0h1.3m22.7 0h1.3m5.7 0h1.3m-66.3 1h1.3m20.7 0h1.3m11.7 0h1.3m13.7 0h1.3m-50.3 1h1.3m19.7 1h1.3m8.7 0h1.3m-25.3 1h1.3m38.7 0h1.3m2.7 0h1.3m-51.3 1h1.3m31.7 0h1.3m-28.3 1h1.3m19.7 0h1.3m26.7 0h1.3m-73.3 1h1.3m71.7 0h1.3m23.7 0h1.3m-104.3 1h1.3m47.7 0h1.3m17.7 0h1.3m-42.3 1h1.3m8.7 0h1.3m8.7 0h1.3m4.7 0h1.3m0.7 0h1.3m-17.3 1h1.3m10.7 0h1.3m-23.3 1h1.3m5.7 0h1.3m0.7 0h1.3m9.7 0h1.3m18.7 1h1.3m7.7 0h1.3m-17.3 1h1.3m-58.3 1h1.3m57.7 0h1.3m-50.3 2h1.3m5.7 0h1.3m10.7 0h1.3m9.7 0h1.3m-16.3 2h1.3m15.7 0h1.3m-12.3 1h1.3m22.7 2h1.3m-42.3 1h1.3m12.7 0h1.3m11.7 0h1.3m25.7 2h1.3m13.7 0h1.3m-27.3 1h1.3m-7.3 1h1.3m45.7 1h1.3m-67.3 2h1.3m20.7 0h1.3m-35.3 3h1.3m26.7 1h1.3m-0.3 0h1.3m-26.3 2h1.3m37.7 2h1.3m-48.3 2h1.3m39.7 1h1.3m16.7 0h1.3m-37.3 5h1.3m4.7 0h1.3" stroke="#0000ff" stroke-width="1.3" fill="none"/>
<path d="M208 791h1.3m-9.3 3h1.3m9.7 1h1.3m1.7 0h1.3m-1.3 1h1.3m-10.3 1h1.3m-1.3 1h1.3m-15.3 3h1.3m9.7 0h1.3m1.7 0h1.3m3.7 0h1.3m-2.3 1h1.3m-3.3 1h1.3m0.7 0h1.3m0.7 0h1.3m1.7 4h1.3m-3.3 1h1.3m5.7 0h1.3m-10.3 1h1.3m9.7 2h1.3m-11.3 1h1.3m9.7 8h1.3m-31.3 35h1.3m-5.3 4h1.3" stroke="#b4ff00" stroke-width="1.3" fill="none"/>
<path d="M210 803h1.3m6.7 4h1.3m-8.3 3h1.3m-8.3 7h1.3m-16.3 8h1.3" stroke="#ff0000" stroke-width="1.3" fill="none"/>
<path d="M524 720h1.5m-33.5 2h1.5m38.5 7h1.5m20.5 1h1.5m-17.5 4h1.5m-10.5 3h1.5m-6.5 1h1.5m29.5 0h1.5m-130.5 1h1.5m126.5 0h1.5m-9.5 1h1.5m-69.5 3h1.5m56.5 1h1.5m-26.5 2h1.5m42.5 0h1.5m-85.5 1h1.5m40.5 0h1.5m4.5 0h1.5m6.5 0h1.5m1.5 0h1.5m-14.5 1h1.5m-7.5 1h1.5m17.5 0h1.5m7.5 0h1.5m-0.5 0h1.5m13.5 0h1.5m-155.5 1h1.5m121.5 0h1.5m16.5 0h1.5m10.5 0h1.5m-42.5 1h1.5m16.5 0h1.5m19.5 0h1.5m0.5 0h1.5m-67.5 1h1.5m38.5 0h1.5m8.5 0h1.5m-0.5 0h1.5m5.5 0h1.5m6.5 0h1.5m-37.5 1h1.5m15.5 0h1.5m-17.5 1h1.5m24.5 0h1.5m7.5 0h1.5m-30.5 2h1.5m3.5 0h1.5m1.5 0h1.5m-0.5 0h1.5m3.5 0h1.5m-0.5 0h1.5m5.5 0h1.5m-0.5 0h1.5m-39.5 1h1.5m6.5 0h1.5m6.5 0h1.5m6.5 0h1.5m1.5 0h1.5m10.5 0h1.5m-25.5 1h1.5m1.5 0h1.5m1.5 0h1.5m-0.5 0h1.5m1.5 0h1.5m-0.5 0h1.5m3.5 0h1.5m8.5 0h1.5m0.5 0h1.5m0.5 0h1.5m-128.5 1h1.5m-0.5 0h1.5m85.5 0h1.5m17.5 0h1.5m-0.5 0h1.5m5.5 0h1.5m0.5 0h1.5m7.5 0h1.5m-48.5 1h1.5m9.5 0h1.5m2.5 0h1.5m8.5 0h1.5m12.5 0h1.5m0.5 0h1.5m-27.5 1h1.5m2.5 0h1.5m-0.5 0h1.5m4.5 0h1.5m-0.5 0h1.5m2.5 0h1.5m15.5 0h1.5m-52.5 1h1.5m0.5 0h1.5m0.5 0h1.5m10.5 0h1.5m2.5 0h1.5m3.5 0h1.5m5.5 0h1.5m1.5 0h1.5m11.5 0h1.5m-70.5 1h1.5m23.5 0h1.5m2.5 0h1.5m-0.5 0h1.5m6.5 0h1.5m-0.5 0h1.5m6.5 0h1.5m3.5 0h1.5m-0.5 0h1.5m4.5 0h1.5m-0.5 0h1.5m0.5 0h1.5m-0.5 0h1.5m0.5 0h1.5m-34.5 1h1.5m5.5 0h1.5m0.5 0h1.5m0.5 0h1.5m-0.5 0h1.5m2.5 0h1.5m0.5 0h1.5m-0.5 0h1.5m0.5 0h1.5m0.5 0h1.5m0.5 0h1.5m8.5 0h1.5m1.5 0h1.5m-0.5 0h1.5m-53.5 1h1.5m15.5 0h1.5m0.5 0h1.5m1.5 0h1.5m-0.5 0h1.5m3.5 0h1.5m10.5 0h1.5m1.5 0h1.5m0.5 0h1.5m0.5 0h1.5m3.5 0h1.5m-35.5 1h1.5m2.5 0h1.5m-0.5 0h1.5m3.5 0h1.5m0.5 0h1.5m-0.5 0h1.5m-0.5 0h1.5m-0.5 0h1.5m-0.5 0h1.5m-0.5 0h1.5m0.5 0h1.5m13.5 0h1.5m-0.5 0h1.5m-88.5 1h1.5m39.5 0h1.5m2.5 0h1.5m3.5 0h1.5m0.5 0h1.5m0.5 0h1.5m2.5 0h1.5m-0.5 0h1.5m5.5 0h1.5m0.5 0h1.5m4.5 0h1.5m5.5 0h1.5m-0.5 0h1.5m1.5 0h1.5m-0.5 0h1.5m-0.5 0h1.5m-62.5 1h1.5m15.5 0h1.5m4.5 0h1.5m1.5 0h1.5m3.5 0h1.5m5.5 0h1.5m4.5 0h1.5m1.5 0h1.5m0.5 0h1.5m0.5 0h1.5m2.5 0h1.5m3.5 0h1.5m-75.5 1h1.5m34.5 0h1.5m3.5 0h1.5m2.5 0h1.5m0.5 0h1.5m-0.5 0h1.5m-0.5 0h1.5m0.5 0h1.5m2.5 0h1.5m1.5 0h1.5m-0.5 0h1.5m4.5 0h1.5m1.5 0h1.5m-0.5 0h1.5m0.5 0h1.5m2.5 0h1.5m-75.5 1h1.5m22.5 0h1.5m4.5 0h1.5m11.5 0h1.5m6.5 0h1.5m1.5 0h1.5m8.5 0h1.5m0.5 0h1.5m2.5 0h1.5m1.5 0h1.5m-38.5 1h1.5m-0.5 0h1.5m1.5 0h1.5m0.5 0h1.5m-0.5 0h1.5m4.5 0h1.5m0.5 0h1.5m-0.5 0h1.5m0.5 0h1.5m2.5 0h1.5m0.5 0h1.5m0.5 0h1.5m3.5 0h1.5m-0.5 0h1.5m2.5 0h1.5m-0.5 0h1.5m-0.5 0h1.5m-91.5 1h1.5m21.5 0h1.5m13.5 0h1.5m11.5 0h1.5m4.5 0h1.5m1.5 0h1.5m-0.5 0h1.5m0.5 0h1.5m0.5 0h1.5m-0.5 0h1.5m-0.5 0h1.5m3.5 0h1.5m0.5 0h1.5m-0.5 0h1.5m-0.5 0h1.5m0.5 0h1.5m-0.5 0h1.5m8.5 0h1.5m-151.5 1h1.5m53.5 0h1.5m39.5 0h1.5m2.5 0h1.5m1.5 0h1.5m15.5 0h1.5m3.5 0h1.5m-0.5 0h1.5m0.5 0h1.5m-0.5 0h1.5m-0.5 0h1.5m-0.5 0h1.5m0.5 0h1.5m0.5 0h1.5m-0.5 0h1.5m-0.5 0h1.5m4.5 0h1.5m0.5 0h1.5m3.5 0h1.5m-43.5 1h1.5m5.5 0h1.5m5.5 0h1.5m0.5 0h1.5m0.5 0h1.5m3.5 0h1.5m1.5 0h1.5m-0.5 0h1.5m0.5 0h1.5m-0.5 0h1.5m-0.5 0h1.5m0.5 0h1.5m2.5 0h1.5m-0.5 0h1.5m1.5 0h1.5m-0.5 0h1.5m-35.5 1h1.5m1.5 0h1.5m9.5 0h1.5m-0.5 0h1.5m0.5 0h1.5m0.5 0h1.5m-0.5 0h1.5m0.5 0h1.5m-0.5 0h1.5m1.5 0h1.5m-0.5 0h1.5m-0.5 0h1.5m1.5 0h1.5m1.5 0h1.5m-81.5 1h1.5m11.5 0h1.5m23.5 0h1.5m0.5 0h1.5m1.5 0h1.5m2.5 0h1.5m-0.5 0h1.5m-0.5 0h1.5m0.5 0h1.5m-0.5 0h1.5m3.5 0h1.5m3.5 0h1.5m-0.5 0h1.5m-0.5 0h1.5m1.5 0h1.5m0.5 0h1.5m0.5 0h1.5m0.5 0h1.5m-0.5 0h1.5m2.5 0h1.5m0.5 0h1.5m-0.5 0h1.5m-86.5 1h1.5m43.5 0h1.5m1.5 0h1.5m1.5 0h1.5m-0.5 0h1.5m3.5 0h1.5m-0.5 0h1.5m-0.5 0h1.5m-0.5 0h1.5m0.5 0h1.5m0.5 0h1.5m-0.5 0h1.5m2.5 0h1.5m2.5 0h1.5m0.5 0h1.5m0.5 0h1.5m-0.5 0h1.5m-0.5 0h1.5m-0.5 0h1.5m0.5 0h1.5m0.5 0h1.5m-52.5 1h1.5m0.5 0h1.5m1.5 0h1.5m-0.5 0h1.5m1.5 0h1.5m0.5 0h1.5m-0.5 0h1.5m5.5 0h1.5m0.5 0h1.5m-0.5 0h1.5m0.5 0h1.5m0.5 0h1.5m-0.5 0h1.5m1.5 0h1.5m0.5 0h1.5m1.5 0h1.5m0.5 0h1.5m-0.5 0h1.5m-0.5 0h1.5m-0.5 0h1.5m-0.5 0h1.5m5.5 0h1.5m1.5 0h1.5m-0.5 0h1.5m-65.5 1h1.5m5.5 0h1.5m5.5 0h1.5m4.5 0h1.5m4.5 0h1.5m0.5 0h1.5m0.5 0h1.5m1.5 0h1.5m4.5 0h1.5m1.5 0h1.5m-0.5 0h1.5m-0.5 0h1.5m-0.5 0h1.5m-0.5 0h1.5m0.5 0h1.5m-0.5 0h1.5m-0.5 0h1.5m-0.5 0h1.5m2.5 0h1.5m-0.5 0h1.5m5.5 0h1.5m-125.5 1h1.5m65.5 0h1.5m7.5 0h1.5m1.5 0h1.5m7.5 0h1.5m1.5 0h1.5m-0.5 0h1.5m0.5 0h1.5m1.5 0h1.5m-0.5 0h1.5m0.5 0h1.5m-0.5 0h1.5m-0.5 0h1.5m2.5 0h1.5m0.5 0h1.5m-0.5 0h1.5m5.5 0h1.5m-0.5 0h1.5m-0.5 0h1.5m3.5 0h1.5m-0.5 0h1.5m-0.5 0h1.5m-102.5 1h1.5m62.5 0h1.5m0.5 0h1.5m1.5 0h1.5m0.5 0h1.5m-0.5 0h1.5m-0.5 0h1.5m0.5 0h1.5m0.5 0h1.5m-0.5 0h1.5m-0.5 0h1.5m-0.5 0h1.5m-0.5 0h1.5m-0.5 0h1.5m0.5 0h1.5m-0.5 0h1.5m-0.5 0h1.5m0.5 0h1.5m-0.5 0h1.5m0.5 0h1.5m-0.5 0h1.5m-0.5 0h1.5m2.5 0h1.5m0.5 0h1.5m-0.5 0h1.5m-0.5 0h1.5m-84.5 1h1.5m29.5 0h1.5m2.5 0h1.5m-0.5 0h1.5m1.5 0h1.5m3.5 0h1.5m0.5 0h1.5m1.5 0h1.5m2.5 0h1.5m0.5 0h1.5m-0.5 0h1.5m-0.5 0h1.5m-0.5 0h1.5m1.5 0h1.5m-0.5 0h1.5m-0.5 0h1.5m0.5 0h1.5m-0.5 0h1.5m-0.5 0h1.5m-0.5 0h1.5m0.5 0h1.5m3.5 0h1.5m0.5 0h1.5m-0.5 0h1.5m2.5 0h1.5m-46.5 1h1.5m12.5 0h1.5m0.5 0h1.5m0.5 0h1.5m-0.5 0h1.5m2.5 0h1.5m1.5 0h1.5m-0.5 0h1.5m-0.5 0h1.5m2.5 0h1.5m3.5 0h1.5m-0.5 0h1.5m0.5 0h1.5m-0.5 0h1.5m-0.5 0h1.5m-0.5 0h1.5m-0.5 0h1.5m-0.5 0h1.5m-0.5 0h1.5m-84.5 1h1.5m0.5 0h1.5m17.5 0h1.5m0.5 0h1.5m4.5 0h1.5m1.5 0h1.5m2.5 0h1.5m-0.5 0h1.5m0.5 0h1.5m1.5 0h1.5m3.5 0h1.5m-0.5 0h1.5m2.5 0h1.5m-0.5 0h1.5m-0.5 0h1.5m1.5 0h1.5m-0.5 0h1.5m0.5 0h1.5m-0.5 0h1.5m-0.5 0h1.5m0.5 0h1.5m1.5 0h1.5m0.5 0h1.5m-0.5 0h1.5m1.5 0h1.5m1.5 0h1.5m-0.5 0h1.5m-0.5 0h1.5m1.5 0h1.5m-0.5 0h1.5m-0.5 0h1.5m-116.5 1h1.5m28.5 0h1.5m27.5 0h1.5m1.5 0h1.5m3.5 0h1.5m0.5 0h1.5m5.5 0h1.5m3.5 0h1.5m5.5 0h1.5m-0.5 0h1.5m-0.5 0h1.5m1.5 0h1.5m3.5 0h1.5m3.5 0h1.5m5.5 0h1.5m0.5 0h1.5m-0.5 0h1.5m-0.5 0h1.5m-0.5 0h1.5m-131.5 1h1.5m24.5 0h1.5m37.5 0h1.5m1.5 0h1.5m1.5 0h1.5m9.5 0h1.5m1.5 0h1.5m0.5 0h1.5m-0.5 0h1.5m1.5 0h1.5m-0.5 0h1.5m0.5 0h1.5m5.5 0h1.5m7.5 0h1.5m-0.5 0h1.5m0.5 0h1.5m-0.5 0h1.5m-0.5 0h1.5m-0.5 0h1.5m0.5 0h1.5m-0.5 0h1.5m1.5 0h1.5m-0.5 0h1.5m-0.5 0h1.5m-0.5 0h1.5m-0.5 0h1.5m-0.5 0h1.5m-0.5 0h1.5m0.5 0h1.5m-119.5 1h1.5m29.5 0h1.5m10.5 0h1.5m-0.5 0h1.5m-0.5 0h1.5m12.5 0h1.5m1.5 0h1.5m0.5 0h1.5m1.5 0h1.5m0.5 0h1.5m5.5 0h1.5m-0.5 0h1.5m1.5 0h1.5m-0.5 0h1.5m-0.5 0h1.5m-0.5 0h1.5m0.5 0h1.5m0.5 0h1.5m-0.5 0h1.5m0.5 0h1.5m0.5 0h1.5m-0.5 0h1.5m1.5 0h1.5m0.5 0h1.5m-0.5 0h1.5m-0.5 0h1.5m-0.5 0h1.5m0.5 0h1.5m0.5 0h1.5m1.5 0h1.5m2.5 0h1.5m-0.5 0h1.5m-0.5 0h1.5m1.5 0h1.5m-97.5 1h1.5m8.5 0h1.5m22.5 0h1.5m1.5 0h1.5m5.5 0h1.5m1.5 0h1.5m1.5 0h1.5m0.5 0h1.5m2.5 0h1.5m-0.5 0h1.5m0.5 0h1.5m-0.5 0h1.5m0.5 0h1.5m-0.5 0h1.5m-0.5 0h1.5m-0.5 0h1.5m3.5 0h1.5m-0.5 0h1.5m-0.5 0h1.5m-0.5 0h1.5m-0.5 0h1.5m0.5 0h1.5m-0.5 0h1.5m0.5 0h1.5m0.5 0h1.5m2.5 0h1.5m-0.5 0h1.5m0.5 0h1.5m1.5 0h1.5m0.5 0h1.5m0.5 0h1.5m-0.5 0h1.5m-116.5 1h1.5m20.5 0h1.5m9.5 0h1.5m2.5 0h1.5m-0.5 0h1.5m2.5 0h1.5m3.5 0h1.5m6.5 0h1.5m1.5 0h1.5m3.5 0h1.5m8.5 0h1.5m-0.5 0h1.5m3.5 0h1.5m3.5 0h1.5m0.5 0h1.5m-0.5 0h1.5m-0.5 0h1.5m-0.5 0h1.5m0.5 0h1.5m0.5 0h1.5m-0.5 0h1.5m-0.5 0h1.5m-0.5 0h1.5m-0.5 0h1.5m1.5 0h1.5m4.5 0h1.5m2.5 0h1.5m-0.5 0h1.5m2.5 0h1.5m-59.5 1h1.5m1.5 0h1.5m7.5 0h1.5m-0.5 0h1.5m2.5 0h1.5m-0.5 0h1.5m2.5 0h1.5m0.5 0h1.5m1.5 0h1.5m-0.5 0h1.5m-0.5 0h1.5m0.5 0h1.5m1.5 0h1.5m0.5 0h1.5m-0.5 0h1.5m-0.5 0h1.5m-0.5 0h1.5m-0.5 0h1.5m-0.5 0h1.5m-0.5 0h1.5m-0.5 0h1.5m-0.5 0h1.5m2.5 0h1.5m1.5 0h1.5m1.5 0h1.5m-0.5 0h1.5m1.5 0h1.5m-129.5 1h1.5m28.5 0h1.5m16.5 0h1.5m28.5 0h1.5m5.5 0h1.5m1.5 0h1.5m2.5 0h1.5m-0.5 0h1.5m-0.5 0h1.5m-0.5 0h1.5m0.5 0h1.5m1.5 0h1.5m1.5 0h1.5m0.5 0h1.5m-0.5 0h1.5m-0.5 0h1.5m1.5 0h1.5m0.5 0h1.5m-0.5 0h1.5m1.5 0h1.5m0.5 0h1.5m5.5 0h1.5m2.5 0h1.5m-98.5 1h1.5m10.5 0h1.5m19.5 0h1.5m6.5 0h1.5m1.5 0h1.5m1.5 0h1.5m9.5 0h1.5m-0.5 0h1.5m-0.5 0h1.5m0.5 0h1.5m1.5 0h1.5m-0.5 0h1.5m0.5 0h1.5m-0.5 0h1.5m-0.5 0h1.5m-0.5 0h1.5m0.5 0h1.5m0.5 0h1.5m-0.5 0h1.5m1.5 0h1.5m1.5 0h1.5m0.5 0h1.5m-0.5 0h1.5m1.5 0h1.5m2.5 0h1.5m2.5 0h1.5m-0.5 0h1.5m-68.5 1h1.5m2.5 0h1.5m-0.5 0h1.5m6.5 0h1.5m6.5 0h1.5m-0.5 0h1.5m-0.5 0h1.5m-0.5 0h1.5m-0.5 0h1.5m0.5 0h1.5m2.5 0h1.5m0.5 0h1.5m0.5 0h1.5m1.5 0h1.5m1.5 0h1.5m1.5 0h1.5m0.5 0h1.5m-0.5 0h1.5m2.5 0h1.5m-0.5 0h1.5m-0.5 0h1.5m0.5 0h1.5m-0.5 0h1.5m-0.5 0h1.5m0.5 0h1.5m0.5 0h1.5m-0.5 0h1.5m-0.5 0h1.5m1.5 0h1.5m-63.5 1h1.5m8.5 0h1.5m5.5 0h1.5m-0.5 0h1.5m5.5 0h1.5m0.5 0h1.5m-0.5 0h1.5m-0.5 0h1.5m0.5 0h1.5m-0.5 0h1.5m-0.5 0h1.5m1.5 0h1.5m4.5 0h1.5m-0.5 0h1.5m0.5 0h1.5m-0.5 0h1.5m3.5 0h1.5m0.5 0h1.5m2.5 0h1.5m-0.5 0h1.5m2.5 0h1.5m-0.5 0h1.5m-96.5 1h1.5m5.5 0h1.5m1.5 0h1.5m6.5 0h1.5m11.5 0h1.5m8.5 0h1.5m0.5 0h1.5m2.5 0h1.5m-0.5 0h1.5m0.5 0h1.5m2.5 0h1.5m0.5 0h1.5m4.5 0h1.5m0.5 0h1.5m-0.5 0h1.5m0.5 0h1.5m-0.5 0h1.5m-0.5 0h1.5m-0.5 0h1.5m0.5 0h1.5m2.5 0h1.5m0.5 0h1.5m-0.5 0h1.5m-0.5 0h1.5m0.5 0h1.5m-0.5 0h1.5m-0.5 0h1.5m-0.5 0h1.5m0.5 0h1.5m0.5 0h1.5m3.5 0h1.5m-95.5 1h1.5m28.5 0h1.5m-0.5 0h1.5m0.5 0h1.5m1.5 0h1.5m12.5 0h1.5m-0.5 0h1.5m0.5 0h1.5m3.5 0h1.5m2.5 0h1.5m5.5 0h1.5m0.5 0h1.5m-0.5 0h1.5m-0.5 0h1.5m-0.5 0h1.5m0.5 0h1.5m-0.5 0h1.5m-0.5 0h1.5m-0.5 0h1.5m-0.5 0h1.5m0.5 0h1.5m-0.5 0h1.5m0.5 0h1.5m2.5 0h1.5m-0.5 0h1.5m0.5 0h1.5m0.5 0h1.5m-0.5 0h1.5m-87.5 1h1.5m3.5 0h1.5m3.5 0h1.5m0.5 0h1.5m10.5 0h1.5m1.5 0h1.5m0.5 0h1.5m3.5 0h1.5m1.5 0h1.5m-0.5 0h1.5m0.5 0h1.5m1.5 0h1.5m-0.5 0h1.5m1.5 0h1.5m1.5 0h1.5m3.5 0h1.5m1.5 0h1.5m-0.5 0h1.5m-0.5 0h1.5m1.5 0h1.5m1.5 0h1.5m-0.5 0h1.5m-0.5 0h1.5m0.5 0h1.5m-0.5 0h1.5m-0.5 0h1.5m-0.5 0h1.5m0.5 0h1.5m-0.5 0h1.5m-0.5 0h1.5m2.5 0h1.5m-0.5 0h1.5m1.5 0h1.5m-102.5 1h1.5m2.5 0h1.5m-0.5 0h1.5m26.5 0h1.5m1.5 0h1.5m0.5 0h1.5m-0.5 0h1.5m-0.5 0h1.5m0.5 0h1.5m3.5 0h1.5m9.5 0h1.5m-0.5 0h1.5m0.5 0h1.5m-0.5 0h1.5m0.5 0h1.5m-0.5 0h1.5m0.5 0h1.5m-0.5 0h1.5m-0.5 0h1.5m-0.5 0h1.5m-0.5 0h1.5m-0.5 0h1.5m0.5 0h1.5m0.5 0h1.5m-0.5 0h1.5m0.5 0h1.5m0.5 0h1.5m1.5 0h1.5m3.5 0h1.5m2.5 0h1.5m-0.5 0h1.5m-0.5 0h1.5m2.5 0h1.5m-0.5 0h1.5m-0.5 0h1.5m-0.5 0h1.5m-161.5 1h1.5m64.5 0h1.5m6.5 0h1.5m3.5 0h1.5m0.5 0h1.5m1.5 0h1.5m4.5 0h1.5m3.5 0h1.5m9.5 0h1.5m3.5 0h1.5m1.5 0h1.5m0.5 0h1.5m2.5 0h1.5m1.5 0h1.5m-0.5 0h1.5m1.5 0h1.5m-0.5 0h1.5m-0.5 0h1.5m0.5 0h1.5m-0.5 0h1.5m-0.5 0h1.5m-0.5 0h1.5m-0.5 0h1.5m-0.5 0h1.5m1.5 0h1.5m-0.5 0h1.5m-0.5 0h1.5m-0.5 0h1.5m0.5 0h1.5m0.5 0h1.5m-0.5 0h1.5m0.5 0h1.5m1.5 0h1.5m-0.5 0h1.5m-0.5 0h1.5m2.5 0h1.5m0.5 0h1.5m-106.5 1h1.5m19.5 0h1.5m6.5 0h1.5m6.5 0h1.5m0.5 0h1.5m0.5 0h1.5m0.5 0h1.5m0.5 0h1.5m-0.5 0h1.5m1.5 0h1.5m0.5 0h1.5m-0.5 0h1.5m6.5 0h1.5m1.5 0h1.5m-0.5 0h1.5m0.5 0h1.5m1.5 0h1.5m0.5 0h1.5m-0.5 0h1.5m-0.5 0h1.5m0.5 0h1.5m1.5 0h1.5m0.5 0h1.5m-0.5 0h1.5m-0.5 0h1.5m-0.5 0h1.5m-0.5 0h1.5m-0.5 0h1.5m-0.5 0h1.5m-0.5 0h1.5m0.5 0h1.5m-0.5 0h1.5m-0.5 0h1.5m-0.5 0h1.5m-0.5 0h1.5m2.5 0h1.5m4.5 0h1.5m-0.5 0h1.5m-0.5 0h1.5m-91.5 1h1.5m10.5 0h1.5m13.5 0h1.5m0.5 0h1.5m1.5 0h1.5m6.5 0h1.5m-0.5 0h1.5m3.5 0h1.5m0.5 0h1.5m-0.5 0h1.5m2.5 0h1.5m2.5 0h1.5m0.5 0h1.5m-0.5 0h1.5m-0.5 0h1.5m-0.5 0h1.5m2.5 0h1.5m-0.5 0h1.5m1.5 0h1.5m0.5 0h1.5m-0.5 0h1.5m-0.5 0h1.5m-0.5 0h1.5m0.5 0h1.5m3.5 0h1.5m0.5 0h1.5m1.5 0h1.5m0.5 0h1.5m-0.5 0h1.5m-150.5 1h1.5m77.5 0h1.5m9.5 0h1.5m8.5 0h1.5m-0.5 0h1.5m3.5 0h1.5m-0.5 0h1.5m-0.5 0h1.5m3.5 0h1.5m-0.5 0h1.5m-0.5 0h1.5m1.5 0h1.5m0.5 0h1.5m-0.5 0h1.5m0.5 0h1.5m-0.5 0h1.5m-0.5 0h1.5m0.5 0h1.5m-0.5 0h1.5m-0.5 0h1.5m-0.5 0h1.5m-0.5 0h1.5m-0.5 0h1.5m-0.5 0h1.5m0.5 0h1.5m0.5 0h1.5m-0.5 0h1.5m-0.5 0h1.5m1.5 0h1.5m-0.5 0h1.5m-0.5 0h1.5m1.5 0h1.5m-0.5 0h1.5m-0.5 0h1.5m-107.5 1h1.5m15.5 0h1.5m2.5 0h1.5m5.5 0h1.5m0.5 0h1.5m1.5 0h1.5m5.5 0h1.5m-0.5 0h1.5m2.5 0h1.5m4.5 0h1.5m5.5 0h1.5m0.5 0h1.5m0.5 0h1.5m0.5 0h1.5m0.5 0h1.5m0.5 0h1.5m-0.5 0h1.5m0.5 0h1.5m1.5 0h1.5m0.5 0h1.5m4.5 0h1.5m0.5 0h1.5m5.5 0h1.5m-0.5 0h1.5m1.5 0h1.5m-0.5 0h1.5m2.5 0h1.5m3.5 0h1.5m-0.5 0h1.5m-103.5 1h1.5m21.5 0h1.5m3.5 0h1.5m4.5 0h1.5m-0.5 0h1.5m0.5 0h1.5m5.5 0h1.5m1.5 0h1.5m1.5 0h1.5m2.5 0h1.5m0.5 0h1.5m1.5 0h1.5m0.5 0h1.5m1.5 0h1.5m1.5 0h1.5m2.5 0h1.5m-0.5 0h1.5m-0.5 0h1.5m-0.5 0h1.5m1.5 0h1.5m-0.5 0h1.5m-0.5 0h1.5m1.5 0h1.5m-0.5 0h1.5m-0.5 0h1.5m1.5 0h1.5m-0.5 0h1.5m3.5 0h1.5m1.5 0h1.5m0.5 0h1.5m0.5 0h1.5m-0.5 0h1.5m-140.5 1h1.5m23.5 0h1.5m36.5 0h1.5m7.5 0h1.5m1.5 0h1.5m-0.5 0h1.5m-0.5 0h1.5m5.5 0h1.5m2.5 0h1.5m-0.5 0h1.5m0.5 0h1.5m1.5 0h1.5m4.5 0h1.5m0.5 0h1.5m-0.5 0h1.5m2.5 0h1.5m1.5 0h1.5m1.5 0h1.5m0.5 0h1.5m-0.5 0h1.5m0.5 0h1.5m0.5 0h1.5m3.5 0h1.5m-0.5 0h1.5m1.5 0h1.5m-0.5 0h1.5m0.5 0h1.5m5.5 0h1.5m-123.5 1h1.5m15.5 0h1.5m1.5 0h1.5m22.5 0h1.5m1.5 0h1.5m3.5 0h1.5m2.5 0h1.5m-0.5 0h1.5m8.5 0h1.5m-0.5 0h1.5m5.5 0h1.5m3.5 0h1.5m3.5 0h1.5m-0.5 0h1.5m-0.5 0h1.5m1.5 0h1.5m1.5 0h1.5m1.5 0h1.5m-0.5 0h1.5m-0.5 0h1.5m0.5 0h1.5m-0.5 0h1.5m-0.5 0h1.5m0.5 0h1.5m1.5 0h1.5m-0.5 0h1.5m5.5 0h1.5m-0.5 0h1.5m-0.5 0h1.5m-0.5 0h1.5m2.5 0h1.5m-125.5 1h1.5m2.5 0h1.5m17.5 0h1.5m10.5 0h1.5m6.5 0h1.5m0.5 0h1.5m2.5 0h1.5m4.5 0h1.5m1.5 0h1.5m-0.5 0h1.5m3.5 0h1.5m4.5 0h1.5m-0.5 0h1.5m-0.5 0h1.5m0.5 0h1.5m-0.5 0h1.5m-0.5 0h1.5m0.5 0h1.5m1.5 0h1.5m3.5 0h1.5m0.5 0h1.5m-0.5 0h1.5m-0.5 0h1.5m-0.5 0h1.5m-0.5 0h1.5m-0.5 0h1.5m2.5 0h1.5m-0.5 0h1.5m2.5 0h1.5m-0.5 0h1.5m0.5 0h1.5m1.5 0h1.5m-0.5 0h1.5m-0.5 0h1.5m-0.5 0h1.5m1.5 0h1.5m4.5 0h1.5m-0.5 0h1.5m0.5 0h1.5m-0.5 0h1.5m-0.5 0h1.5m-100.5 1h1.5m6.5 0h1.5m5.5 0h1.5m3.5 0h1.5m10.5 0h1.5m0.5 0h1.5m0.5 0h1.5m0.5 0h1.5m2.5 0h1.5m-0.5 0h1.5m-0.5 0h1.5m7.5 0h1.5m1.5 0h1.5m0.5 0h1.5m-0.5 0h1.5m-0.5 0h1.5m1.5 0h1.5m-0.5 0h1.5m2.5 0h1.5m1.5 0h1.5m1.5 0h1.5m-0.5 0h1.5m1.5 0h1.5m-0.5 0h1.5m0.5 0h1.5m-0.5 0h1.5m2.5 0h1.5m-0.5 0h1.5m1.5 0h1.5m4.5 0h1.5m0.5 0h1.5m-0.5 0h1.5m-108.5 1h1.5m24.5 0h1.5m8.5 0h1.5m0.5 0h1.5m0.5 0h1.5m1.5 0h1.5m-0.5 0h1.5m4.5 0h1.5m0.5 0h1.5m0.5 0h1.5m0.5 0h1.5m-0.5 0h1.5m3.5 0h1.5m0.5 0h1.5m0.5 0h1.5m-0.5 0h1.5m0.5 0h1.5m2.5 0h1.5m-0.5 0h1.5m-0.5 0h1.5m-0.5 0h1.5m1.5 0h1.5m-0.5 0h1.5m3.5 0h1.5m-0.5 0h1.5m-0.5 0h1.5m-0.5 0h1.5m1.5 0h1.5m-0.5 0h1.5m-0.5 0h1.5m1.5 0h1.5m8.5 0h1.5m-105.5 1h1.5m0.5 0h1.5m2.5 0h1.5m2.5 0h1.5m4.5 0h1.5m-0.5 0h1.5m7.5 0h1.5m3.5 0h1.5m-0.5 0h1.5m3.5 0h1.5m2.5 0h1.5m-0.5 0h1.5m-0.5 0h1.5m-0.5 0h1.5m10.5 0h1.5m0.5 0h1.5m5.5 0h1.5m1.5 0h1.5m-0.5 0h1.5m1.5 0h1.5m5.5 0h1.5m0.5 0h1.5m0.5 0h1.5m0.5 0h1.5m-0.5 0h1.5m0.5 0h1.5m-0.5 0h1.5m0.5 0h1.5m3.5 0h1.5m0.5 0h1.5m0.5 0h1.5m-0.5 0h1.5m-0.5 0h1.5m0.5 0h1.5m-0.5 0h1.5m-125.5 1h1.5m4.5 0h1.5m18.5 0h1.5m7.5 0h1.5m12.5 0h1.5m2.5 0h1.5m0.5 0h1.5m1.5 0h1.5m0.5 0h1.5m2.5 0h1.5m2.5 0h1.5m4.5 0h1.5m-0.5 0h1.5m0.5 0h1.5m1.5 0h1.5m-0.5 0h1.5m-0.5 0h1.5m-0.5 0h1.5m0.5 0h1.5m-0.5 0h1.5m0.5 0h1.5m0.5 0h1.5m-0.5 0h1.5m2.5 0h1.5m0.5 0h1.5m3.5 0h1.5m-0.5 0h1.5m-0.5 0h1.5m-0.5 0h1.5m0.5 0h1.5m1.5 0h1.5m1.5 0h1.5m0.5 0h1.5m-0.5 0h1.5m-0.5 0h1.5m4.5 0h1.5m-0.5 0h1.5m-111.5 1h1.5m7.5 0h1.5m4.5 0h1.5m0.5 0h1.5m0.5 0h1.5m-0.5 0h1.5m0.5 0h1.5m1.5 0h1.5m2.5 0h1.5m4.5 0h1.5m0.5 0h1.5m2.5 0h1.5m2.5 0h1.5m-0.5 0h1.5m0.5 0h1.5m1.5 0h1.5m2.5 0h1.5m0.5 0h1.5m0.5 0h1.5m1.5 0h1.5m-0.5 0h1.5m0.5 0h1.5m1.5 0h1.5m1.5 0h1.5m-0.5 0h1.5m4.5 0h1.5m0.5 0h1.5m-0.5 0h1.5m-0.5 0h1.5m-0.5 0h1.5m3.5 0h1.5m-0.5 0h1.5m-0.5 0h1.5m-0.5 0h1.5m3.5 0h1.5m-0.5 0h1.5m-0.5 0h1.5m-0.5 0h1.5m-0.5 0h1.5m-0.5 0h1.5m1.5 0h1.5m-0.5 0h1.5m1.5 0h1.5m-0.5 0h1.5m-0.5 0h1.5m-143.5 1h1.5m20.5 0h1.5m36.5 0h1.5m-0.5 0h1.5m0.5 0h1.5m3.5 0h1.5m5.5 0h1.5m-0.5 0h1.5m1.5 0h1.5m-0.5 0h1.5m0.5 0h1.5m3.5 0h1.5m-0.5 0h1.5m-0.5 0h1.5m-0.5 0h1.5m0.5 0h1.5m2.5 0h1.5m-0.5 0h1.5m-0.5 0h1.5m4.5 0h1.5m-0.5 0h1.5m-0.5 0h1.5m1.5 0h1.5m-0.5 0h1.5m0.5 0h1.5m0.5 0h1.5m-0.5 0h1.5m-0.5 0h1.5m1.5 0h1.5m-0.5 0h1.5m-0.5 0h1.5m3.5 0h1.5m-0.5 0h1.5m-0.5 0h1.5m1.5 0h1.5m-0.5 0h1.5m-0.5 0h1.5m-0.5 0h1.5m-0.5 0h1.5m2.5 0h1.5m0.5 0h1.5m-0.5 0h1.5m-164.5 1h1.5m37.5 0h1.5m22.5 0h1.5m5.5 0h1.5m8.5 0h1.5m4.5 0h1.5m3.5 0h1.5m2.5 0h1.5m-0.5 0h1.5m0.5 0h1.5m2.5 0h1.5m1.5 0h1.5m-0.5 0h1.5m2.5 0h1.5m3.5 0h1.5m-0.5 0h1.5m1.5 0h1.5m-0.5 0h1.5m3.5 0h1.5m-0.5 0h1.5m3.5 0h1.5m-0.5 0h1.5m0.5 0h1.5m3.5 0h1.5m-0.5 0h1.5m0.5 0h1.5m-0.5 0h1.5m-0.5 0h1.5m1.5 0h1.5m0.5 0h1.5m-0.5 0h1.5m2.5 0h1.5m3.5 0h1.5m2.5 0h1.5m-98.5 1h1.5m1.5 0h1.5m11.5 0h1.5m0.5 0h1.5m-0.5 0h1.5m1.5 0h1.5m0.5 0h1.5m-0.5 0h1.5m1.5 0h1.5m5.5 0h1.5m6.5 0h1.5m-0.5 0h1.5m-0.5 0h1.5m1.5 0h1.5m-0.5 0h1.5m-0.5 0h1.5m1.5 0h1.5m3.5 0h1.5m0.5 0h1.5m0.5 0h1.5m-0.5 0h1.5m-0.5 0h1.5m-0.5 0h1.5m-0.5 0h1.5m0.5 0h1.5m-0.5 0h1.5m0.5 0h1.5m-0.5 0h1.5m2.5 0h1.5m-0.5 0h1.5m-0.5 0h1.5m-0.5 0h1.5m0.5 0h1.5m1.5 0h1.5m-0.5 0h1.5m-0.5 0h1.5m3.5 0h1.5m3.5 0h1.5m-0.5 0h1.5m-98.5 1h1.5m-0.5 0h1.5m0.5 0h1.5m5.5 0h1.5m-0.5 0h1.5m-0.5 0h1.5m3.5 0h1.5m3.5 0h1.5m1.5 0h1.5m2.5 0h1.5m5.5 0h1.5m6.5 0h1.5m0.5 0h1.5m-0.5 0h1.5m0.5 0h1.5m1.5 0h1.5m-0.5 0h1.5m-0.5 0h1.5m1.5 0h1.5m0.5 0h1.5m4.5 0h1.5m2.5 0h1.5m0.5 0h1.5m5.5 0h1.5m-0.5 0h1.5m-0.5 0h1.5m-0.5 0h1.5m0.5 0h1.5m-0.5 0h1.5m-0.5 0h1.5m1.5 0h1.5m-0.5 0h1.5m0.5 0h1.5m-0.5 0h1.5m-0.5 0h1.5m-0.5 0h1.5m0.5 0h1.5m-0.5 0h1.5m-137.5 1h1.5m21.5 0h1.5m0.5 0h1.5m6.5 0h1.5m7.5 0h1.5m0.5 0h1.5m0.5 0h1.5m7.5 0h1.5m1.5 0h1.5m2.5 0h1.5m0.5 0h1.5m3.5 0h1.5m1.5 0h1.5m6.5 0h1.5m-0.5 0h1.5m3.5 0h1.5m5.5 0h1.5m0.5 0h1.5m0.5 0h1.5m0.5 0h1.5m-0.5 0h1.5m-0.5 0h1.5m-0.5 0h1.5m2.5 0h1.5m-0.5 0h1.5m1.5 0h1.5m-0.5 0h1.5m-0.5 0h1.5m-0.5 0h1.5m0.5 0h1.5m-0.5 0h1.5m6.5 0h1.5m-0.5 0h1.5m-0.5 0h1.5m-0.5 0h1.5m-0.5 0h1.5m-0.5 0h1.5m-0.5 0h1.5m3.5 0h1.5m-105.5 1h1.5m16.5 0h1.5m3.5 0h1.5m-0.5 0h1.5m1.5 0h1.5m-0.5 0h1.5m-0.5 0h1.5m0.5 0h1.5m-0.5 0h1.5m4.5 0h1.5m1.5 0h1.5m-0.5 0h1.5m0.5 0h1.5m-0.5 0h1.5m0.5 0h1.5m3.5 0h1.5m-0.5 0h1.5m-0.5 0h1.5m3.5 0h1.5m1.5 0h1.5m0.5 0h1.5m-0.5 0h1.5m5.5 0h1.5m-0.5 0h1.5m-0.5 0h1.5m2.5 0h1.5m3.5 0h1.5m-0.5 0h1.5m0.5 0h1.5m-0.5 0h1.5m-0.5 0h1.5m-0.5 0h1.5m1.5 0h1.5m-0.5 0h1.5m-0.5 0h1.5m-0.5 0h1.5m2.5 0h1.5m3.5 0h1.5m-102.5 1h1.5m0.5 0h1.5m13.5 0h1.5m7.5 0h1.5m5.5 0h1.5m4.5 0h1.5m0.5 0h1.5m0.5 0h1.5m-0.5 0h1.5m0.5 0h1.5m4.5 0h1.5m1.5 0h1.5m-0.5 0h1.5m2.5 0h1.5m-0.5 0h1.5m0.5 0h1.5m1.5 0h1.5m0.5 0h1.5m-0.5 0h1.5m-0.5 0h1.5m1.5 0h1.5m1.5 0h1.5m1.5 0h1.5m-0.5 0h1.5m1.5 0h1.5m-0.5 0h1.5m0.5 0h1.5m0.5 0h1.5m0.5 0h1.5m2.5 0h1.5m-0.5 0h1.5m0.5 0h1.5m-0.5 0h1.5m-0.5 0h1.5m-0.5 0h1.5m-0.5 0h1.5m-0.5 0h1.5m-126.5 1h1.5m3.5 0h1.5m9.5 0h1.5m1.5 0h1.5m1.5 0h1.5m-0.5 0h1.5m8.5 0h1.5m0.5 0h1.5m1.5 0h1.5m5.5 0h1.5m6.5 0h1.5m-0.5 0h1.5m4.5 0h1.5m0.5 0h1.5m-0.5 0h1.5m0.5 0h1.5m1.5 0h1.5m4.5 0h1.5m0.5 0h1.5m-0.5 0h1.5m-0.5 0h1.5m0.5 0h1.5m1.5 0h1.5m-0.5 0h1.5m-0.5 0h1.5m4.5 0h1.5m-0.5 0h1.5m0.5 0h1.5m1.5 0h1.5m2.5 0h1.5m0.5 0h1.5m0.5 0h1.5m3.5 0h1.5m-0.5 0h1.5m-0.5 0h1.5m8.5 0h1.5m0.5 0h1.5m-118.5 1h1.5m1.5 0h1.5m6.5 0h1.5m-0.5 0h1.5m3.5 0h1.5m4.5 0h1.5m9.5 0h1.5m-0.5 0h1.5m0.5 0h1.5m0.5 0h1.5m1.5 0h1.5m-0.5 0h1.5m0.5 0h1.5m-0.5 0h1.5m0.5 0h1.5m-0.5 0h1.5m-0.5 0h1.5m4.5 0h1.5m-0.5 0h1.5m0.5 0h1.5m1.5 0h1.5m-0.5 0h1.5m-0.5 0h1.5m-0.5 0h1.5m-0.5 0h1.5m0.5 0h1.5m-0.5 0h1.5m-0.5 0h1.5m-0.5 0h1.5m1.5 0h1.5m-0.5 0h1.5m-0.5 0h1.5m0.5 0h1.5m-0.5 0h1.5m2.5 0h1.5m3.5 0h1.5m-0.5 0h1.5m-0.5 0h1.5m-0.5 0h1.5m-0.5 0h1.5m-0.5 0h1.5m0.5 0h1.5m-0.5 0h1.5m2.5 0h1.5m0.5 0h1.5m1.5 0h1.5m-0.5 0h1.5m-0.5 0h1.5m1.5 0h1.5m2.5 0h1.5m-0.5 0h1.5m0.5 0h1.5m-0.5 0h1.5m-119.5 1h1.5m0.5 0h1.5m14.5 0h1.5m11.5 0h1.5m0.5 0h1.5m3.5 0h1.5m0.5 0h1.5m-0.5 0h1.5m-0.5 0h1.5m6.5 0h1.5m3.5 0h1.5m2.5 0h1.5m-0.5 0h1.5m-0.5 0h1.5m0.5 0h1.5m0.5 0h1.5m0.5 0h1.5m0.5 0h1.5m-0.5 0h1.5m0.5 0h1.5m-0.5 0h1.5m-0.5 0h1.5m-0.5 0h1.5m2.5 0h1.5m2.5 0h1.5m0.5 0h1.5m2.5 0h1.5m-0.5 0h1.5m0.5 0h1.5m0.5 0h1.5m-0.5 0h1.5m1.5 0h1.5m-0.5 0h1.5m-0.5 0h1.5m4.5 0h1.5m1.5 0h1.5m2.5 0h1.5m-0.5 0h1.5m1.5 0h1.5m-146.5 1h1.5m7.5 0h1.5m25.5 0h1.5m12.5 0h1.5m4.5 0h1.5m0.5 0h1.5m0.5 0h1.5m0.5 0h1.5m3.5 0h1.5m0.5 0h1.5m1.5 0h1.5m2.5 0h1.5m-0.5 0h1.5m2.5 0h1.5m2.5 0h1.5m3.5 0h1.5m-0.5 0h1.5m-0.5 0h1.5m-0.5 0h1.5m4.5 0h1.5m2.5 0h1.5m-0.5 0h1.5m0.5 0h1.5m5.5 0h1.5m-0.5 0h1.5m-0.5 0h1.5m-0.5 0h1.5m-0.5 0h1.5m3.5 0h1.5m-0.5 0h1.5m2.5 0h1.5m-0.5 0h1.5m5.5 0h1.5m6.5 0h1.5m-0.5 0h1.5m-0.5 0h1.5m-158.5 1h1.5m3.5 0h1.5m30.5 0h1.5m6.5 0h1.5m7.5 0h1.5m4.5 0h1.5m2.5 0h1.5m1.5 0h1.5m3.5 0h1.5m0.5 0h1.5m0.5 0h1.5m0.5 0h1.5m-0.5 0h1.5m-0.5 0h1.5m4.5 0h1.5m1.5 0h1.5m3.5 0h1.5m6.5 0h1.5m0.5 0h1.5m2.5 0h1.5m-0.5 0h1.5m-0.5 0h1.5m-0.5 0h1.5m-0.5 0h1.5m2.5 0h1.5m0.5 0h1.5m-0.5 0h1.5m0.5 0h1.5m-0.5 0h1.5m-0.5 0h1.5m-0.5 0h1.5m0.5 0h1.5m0.5 0h1.5m-0.5 0h1.5m2.5 0h1.5m1.5 0h1.5m5.5 0h1.5m2.5 0h1.5m2.5 0h1.5m-134.5 1h1.5m23.5 0h1.5m-0.5 0h1.5m5.5 0h1.5m0.5 0h1.5m2.5 0h1.5m6.5 0h1.5m2.5 0h1.5m3.5 0h1.5m0.5 0h1.5m0.5 0h1.5m0.5 0h1.5m-0.5 0h1.5m0.5 0h1.5m-0.5 0h1.5m-0.5 0h1.5m-0.5 0h1.5m1.5 0h1.5m-0.5 0h1.5m1.5 0h1.5m-0.5 0h1.5m1.5 0h1.5m-0.5 0h1.5m-0.5 0h1.5m0.5 0h1.5m-0.5 0h1.5m0.5 0h1.5m-0.5 0h1.5m-0.5 0h1.5m-0.5 0h1.5m-0.5 0h1.5m2.5 0h1.5m0.5 0h1.5m-0.5 0h1.5m4.5 0h1.5m2.5 0h1.5m-0.5 0h1.5m-0.5 0h1.5m-0.5 0h1.5m0.5 0h1.5m-0.5 0h1.5m-0.5 0h1.5m-0.5 0h1.5m3.5 0h1.5m0.5 0h1.5m-0.5 0h1.5m-0.5 0h1.5m2.5 0h1.5m7.5 0h1.5m-0.5 0h1.5m0.5 0h1.5m-175.5 1h1.5m30.5 0h1.5m9.5 0h1.5m7.5 0h1.5m6.5 0h1.5m5.5 0h1.5m7.5 0h1.5m0.5 0h1.5m3.5 0h1.5m4.5 0h1.5m-0.5 0h1.5m1.5 0h1.5m-0.5 0h1.5m-0.5 0h1.5m-0.5 0h1.5m0.5 0h1.5m-0.5 0h1.5m-0.5 0h1.5m0.5 0h1.5m1.5 0h1.5m-0.5 0h1.5m1.5 0h1.5m-0.5 0h1.5m-0.5 0h1.5m1.5 0h1.5m-0.5 0h1.5m7.5 0h1.5m-0.5 0h1.5m-0.5 0h1.5m-0.5 0h1.5m1.5 0h1.5m0.5 0h1.5m0.5 0h1.5m0.5 0h1.5m2.5 0h1.5m-0.5 0h1.5m-0.5 0h1.5m-0.5 0h1.5m0.5 0h1.5m-0.5 0h1.5m0.5 0h1.5m-0.5 0h1.5m0.5 0h1.5m1.5 0h1.5m-0.5 0h1.5m0.5 0h1.5m6.5 0h1.5m1.5 0h1.5m0.5 0h1.5m1.5 0h1.5m-0.5 0h1.5m-110.5 1h1.5m3.5 0h1.5m0.5 0h1.5m1.5 0h1.5m-0.5 0h1.5m0.5 0h1.5m3.5 0h1.5m0.5 0h1.5m2.5 0h1.5m1.5 0h1.5m0.5 0h1.5m2.5 0h1.5m4.5 0h1.5m3.5 0h1.5m0.5 0h1.5m-0.5 0h1.5m0.5 0h1.5m0.5 0h1.5m-0.5 0h1.5m1.5 0h1.5m1.5 0h1.5m2.5 0h1.5m-0.5 0h1.5m-0.5 0h1.5m-0.5 0h1.5m-0.5 0h1.5m2.5 0h1.5m-0.5 0h1.5m4.5 0h1.5m-0.5 0h1.5m0.5 0h1.5m2.5 0h1.5m2.5 0h1.5m-0.5 0h1.5m0.5 0h1.5m2.5 0h1.5m0.5 0h1.5m-0.5 0h1.5m-0.5 0h1.5m0.5 0h1.5m6.5 0h1.5m-181.5 1h1.5m68.5 0h1.5m-0.5 0h1.5m-0.5 0h1.5m5.5 0h1.5m-0.5 0h1.5m-0.5 0h1.5m2.5 0h1.5m6.5 0h1.5m1.5 0h1.5m1.5 0h1.5m-0.5 0h1.5m0.5 0h1.5m0.5 0h1.5m-0.5 0h1.5m1.5 0h1.5m1.5 0h1.5m0.5 0h1.5m2.5 0h1.5m-0.5 0h1.5m2.5 0h1.5m0.5 0h1.5m4.5 0h1.5m-0.5 0h1.5m0.5 0h1.5m5.5 0h1.5m-0.5 0h1.5m-0.5 0h1.5m-0.5 0h1.5m3.5 0h1.5m0.5 0h1.5m0.5 0h1.5m-0.5 0h1.5m1.5 0h1.5m2.5 0h1.5m-0.5 0h1.5m-0.5 0h1.5m0.5 0h1.5m1.5 0h1.5m-0.5 0h1.5m3.5 0h1.5m-0.5 0h1.5m3.5 0h1.5m-0.5 0h1.5m-163.5 1h1.5m11.5 0h1.5m44.5 0h1.5m0.5 0h1.5m0.5 0h1.5m3.5 0h1.5m4.5 0h1.5m-0.5 0h1.5m-0.5 0h1.5m3.5 0h1.5m-0.5 0h1.5m0.5 0h1.5m2.5 0h1.5m0.5 0h1.5m-0.5 0h1.5m-0.5 0h1.5m0.5 0h1.5m-0.5 0h1.5m-0.5 0h1.5m-0.5 0h1.5m-0.5 0h1.5m2.5 0h1.5m-0.5 0h1.5m-0.5 0h1.5m-0.5 0h1.5m-0.5 0h1.5m0.5 0h1.5m-0.5 0h1.5m0.5 0h1.5m-0.5 0h1.5m-0.5 0h1.5m-0.5 0h1.5m-0.5 0h1.5m1.5 0h1.5m0.5 0h1.5m-0.5 0h1.5m0.5 0h1.5m-0.5 0h1.5m-0.5 0h1.5m0.5 0h1.5m0.5 0h1.5m0.5 0h1.5m4.5 0h1.5m-0.5 0h1.5m-0.5 0h1.5m-0.5 0h1.5m2.5 0h1.5m5.5 0h1.5m0.5 0h1.5m-0.5 0h1.5m0.5 0h1.5m2.5 0h1.5m0.5 0h1.5m-138.5 1h1.5m-0.5 0h1.5m4.5 0h1.5m3.5 0h1.5m3.5 0h1.5m0.5 0h1.5m10.5 0h1.5m0.5 0h1.5m0.5 0h1.5m3.5 0h1.5m2.5 0h1.5m1.5 0h1.5m0.5 0h1.5m-0.5 0h1.5m0.5 0h1.5m-0.5 0h1.5m-0.5 0h1.5m-0.5 0h1.5m-0.5 0h1.5m1.5 0h1.5m0.5 0h1.5m-0.5 0h1.5m0.5 0h1.5m-0.5 0h1.5m-0.5 0h1.5m-0.5 0h1.5m-0.5 0h1.5m-0.5 0h1.5m3.5 0h1.5m0.5 0h1.5m1.5 0h1.5m0.5 0h1.5m3.5 0h1.5m-0.5 0h1.5m0.5 0h1.5m1.5 0h1.5m0.5 0h1.5m1.5 0h1.5m7.5 0h1.5m0.5 0h1.5m1.5 0h1.5m1.5 0h1.5m-0.5 0h1.5m-0.5 0h1.5m4.5 0h1.5m2.5 0h1.5m2.5 0h1.5m0.5 0h1.5m2.5 0h1.5m-130.5 1h1.5m11.5 0h1.5m-0.5 0h1.5m15.5 0h1.5m-0.5 0h1.5m-0.5 0h1.5m5.5 0h1.5m0.5 0h1.5m-0.5 0h1.5m-0.5 0h1.5m3.5 0h1.5m0.5 0h1.5m2.5 0h1.5m4.5 0h1.5m-0.5 0h1.5m2.5 0h1.5m2.5 0h1.5m0.5 0h1.5m-0.5 0h1.5m3.5 0h1.5m-0.5 0h1.5m-0.5 0h1.5m-0.5 0h1.5m3.5 0h1.5m1.5 0h1.5m1.5 0h1.5m1.5 0h1.5m1.5 0h1.5m1.5 0h1.5m-0.5 0h1.5m0.5 0h1.5m1.5 0h1.5m1.5 0h1.5m12.5 0h1.5m-0.5 0h1.5m2.5 0h1.5m-182.5 1h1.5m35.5 0h1.5m12.5 0h1.5m9.5 0h1.5m8.5 0h1.5m1.5 0h1.5m-0.5 0h1.5m3.5 0h1.5m0.5 0h1.5m1.5 0h1.5m0.5 0h1.5m2.5 0h1.5m5.5 0h1.5m-0.5 0h1.5m-0.5 0h1.5m-0.5 0h1.5m1.5 0h1.5m-0.5 0h1.5m0.5 0h1.5m1.5 0h1.5m1.5 0h1.5m0.5 0h1.5m1.5 0h1.5m0.5 0h1.5m0.5 0h1.5m0.5 0h1.5m-0.5 0h1.5m0.5 0h1.5m0.5 0h1.5m6.5 0h1.5m-0.5 0h1.5m1.5 0h1.5m-0.5 0h1.5m-0.5 0h1.5m-0.5 0h1.5m2.5 0h1.5m6.5 0h1.5m2.5 0h1.5m3.5 0h1.5m4.5 0h1.5m1.5 0h1.5m4.5 0h1.5m-0.5 0h1.5m-133.5 1h1.5m8.5 0h1.5m13.5 0h1.5m2.5 0h1.5m0.5 0h1.5m5.5 0h1.5m1.5 0h1.5m-0.5 0h1.5m7.5 0h1.5m-0.5 0h1.5m4.5 0h1.5m6.5 0h1.5m-0.5 0h1.5m0.5 0h1.5m-0.5 0h1.5m-0.5 0h1.5m0.5 0h1.5m0.5 0h1.5m0.5 0h1.5m-0.5 0h1.5m-0.5 0h1.5m1.5 0h1.5m0.5 0h1.5m-0.5 0h1.5m-0.5 0h1.5m-0.5 0h1.5m-0.5 0h1.5m1.5 0h1.5m-0.5 0h1.5m-0.5 0h1.5m3.5 0h1.5m2.5 0h1.5m0.5 0h1.5m-0.5 0h1.5m0.5 0h1.5m-0.5 0h1.5m5.5 0h1.5m-0.5 0h1.5m3.5 0h1.5m-0.5 0h1.5m3.5 0h1.5m-0.5 0h1.5m1.5 0h1.5m-126.5 1h1.5m24.5 0h1.5m7.5 0h1.5m1.5 0h1.5m-0.5 0h1.5m2.5 0h1.5m6.5 0h1.5m0.5 0h1.5m0.5 0h1.5m0.5 0h1.5m0.5 0h1.5m0.5 0h1.5m0.5 0h1.5m0.5 0h1.5m0.5 0h1.5m0.5 0h1.5m-0.5 0h1.5m-0.5 0h1.5m1.5 0h1.5m0.5 0h1.5m4.5 0h1.5m-0.5 0h1.5m-0.5 0h1.5m2.5 0h1.5m5.5 0h1.5m-0.5 0h1.5m2.5 0h1.5m-0.5 0h1.5m0.5 0h1.5m0.5 0h1.5m-0.5 0h1.5m-0.5 0h1.5m-0.5 0h1.5m-0.5 0h1.5m2.5 0h1.5m4.5 0h1.5m2.5 0h1.5m0.5 0h1.5m-138.5 1h1.5m8.5 0h1.5m1.5 0h1.5m13.5 0h1.5m14.5 0h1.5m1.5 0h1.5m-0.5 0h1.5m4.5 0h1.5m-0.5 0h1.5m-0.5 0h1.5m0.5 0h1.5m0.5 0h1.5m0.5 0h1.5m0.5 0h1.5m0.5 0h1.5m-0.5 0h1.5m0.5 0h1.5m0.5 0h1.5m-0.5 0h1.5m-0.5 0h1.5m1.5 0h1.5m1.5 0h1.5m-0.5 0h1.5m-0.5 0h1.5m1.5 0h1.5m-0.5 0h1.5m-0.5 0h1.5m-0.5 0h1.5m0.5 0h1.5m-0.5 0h1.5m-0.5 0h1.5m0.5 0h1.5m-0.5 0h1.5m-0.5 0h1.5m-0.5 0h1.5m-0.5 0h1.5m1.5 0h1.5m-0.5 0h1.5m4.5 0h1.5m-0.5 0h1.5m-0.5 0h1.5m0.5 0h1.5m2.5 0h1.5m4.5 0h1.5m1.5 0h1.5m-0.5 0h1.5m4.5 0h1.5m4.5 0h1.5m-133.5 1h1.5m18.5 0h1.5m10.5 0h1.5m-0.5 0h1.5m1.5 0h1.5m1.5 0h1.5m-0.5 0h1.5m-0.5 0h1.5m2.5 0h1.5m4.5 0h1.5m-0.5 0h1.5m-0.5 0h1.5m2.5 0h1.5m-0.5 0h1.5m0.5 0h1.5m-0.5 0h1.5m0.5 0h1.5m3.5 0h1.5m2.5 0h1.5m-0.5 0h1.5m-0.5 0h1.5m-0.5 0h1.5m1.5 0h1.5m1.5 0h1.5m-0.5 0h1.5m1.5 0h1.5m0.5 0h1.5m1.5 0h1.5m-0.5 0h1.5m-0.5 0h1.5m1.5 0h1.5m-0.5 0h1.5m2.5 0h1.5m0.5 0h1.5m3.5 0h1.5m5.5 0h1.5m-0.5 0h1.5m0.5 0h1.5m6.5 0h1.5m2.5 0h1.5m-0.5 0h1.5m0.5 0h1.5m-133.5 1h1.5m1.5 0h1.5m1.5 0h1.5m6.5 0h1.5m5.5 0h1.5m4.5 0h1.5m2.5 0h1.5m0.5 0h1.5m-0.5 0h1.5m-0.5 0h1.5m1.5 0h1.5m0.5 0h1.5m-0.5 0h1.5m1.5 0h1.5m1.5 0h1.5m-0.5 0h1.5m-0.5 0h1.5m1.5 0h1.5m0.5 0h1.5m1.5 0h1.5m0.5 0h1.5m-0.5 0h1.5m-0.5 0h1.5m2.5 0h1.5m-0.5 0h1.5m-0.5 0h1.5m-0.5 0h1.5m3.5 0h1.5m-0.5 0h1.5m2.5 0h1.5m-0.5 0h1.5m0.5 0h1.5m0.5 0h1.5m0.5 0h1.5m2.5 0h1.5m5.5 0h1.5m0.5 0h1.5m-0.5 0h1.5m11.5 0h1.5m-0.5 0h1.5m0.5 0h1.5m-0.5 0h1.5m2.5 0h1.5m0.5 0h1.5m8.5 0h1.5m-139.5 1h1.5m14.5 0h1.5m5.5 0h1.5m-0.5 0h1.5m2.5 0h1.5m-0.5 0h1.5m0.5 0h1.5m4.5 0h1.5m5.5 0h1.5m3.5 0h1.5m0.5 0h1.5m-0.5 0h1.5m-0.5 0h1.5m8.5 0h1.5m-0.5 0h1.5m0.5 0h1.5m-0.5 0h1.5m0.5 0h1.5m-0.5 0h1.5m-0.5 0h1.5m2.5 0h1.5m-0.5 0h1.5m0.5 0h1.5m-0.5 0h1.5m-0.5 0h1.5m2.5 0h1.5m-0.5 0h1.5m0.5 0h1.5m0.5 0h1.5m-0.5 0h1.5m0.5 0h1.5m-0.5 0h1.5m-0.5 0h1.5m-0.5 0h1.5m0.5 0h1.5m4.5 0h1.5m-0.5 0h1.5m1.5 0h1.5m-0.5 0h1.5m1.5 0h1.5m4.5 0h1.5m0.5 0h1.5m-0.5 0h1.5m2.5 0h1.5m-0.5 0h1.5m-0.5 0h1.5m-0.5 0h1.5m5.5 0h1.5m2.5 0h1.5m-0.5 0h1.5m-135.5 1h1.5m2.5 0h1.5m11.5 0h1.5m4.5 0h1.5m5.5 0h1.5m7.5 0h1.5m2.5 0h1.5m-0.5 0h1.5m0.5 0h1.5m-0.5 0h1.5m-0.5 0h1.5m0.5 0h1.5m-0.5 0h1.5m-0.5 0h1.5m0.5 0h1.5m-0.5 0h1.5m2.5 0h1.5m3.5 0h1.5m0.5 0h1.5m-0.5 0h1.5m-0.5 0h1.5m0.5 0h1.5m0.5 0h1.5m-0.5 0h1.5m0.5 0h1.5m4.5 0h1.5m0.5 0h1.5m-0.5 0h1.5m-0.5 0h1.5m0.5 0h1.5m0.5 0h1.5m-0.5 0h1.5m3.5 0h1.5m-0.5 0h1.5m1.5 0h1.5m-0.5 0h1.5m0.5 0h1.5m0.5 0h1.5m-0.5 0h1.5m0.5 0h1.5m0.5 0h1.5m2.5 0h1.5m4.5 0h1.5m3.5 0h1.5m8.5 0h1.5m-141.5 1h1.5m7.5 0h1.5m10.5 0h1.5m3.5 0h1.5m6.5 0h1.5m2.5 0h1.5m1.5 0h1.5m-0.5 0h1.5m8.5 0h1.5m0.5 0h1.5m0.5 0h1.5m-0.5 0h1.5m-0.5 0h1.5m-0.5 0h1.5m8.5 0h1.5m-0.5 0h1.5m0.5 0h1.5m-0.5 0h1.5m0.5 0h1.5m1.5 0h1.5m-0.5 0h1.5m-0.5 0h1.5m2.5 0h1.5m0.5 0h1.5m-0.5 0h1.5m0.5 0h1.5m-0.5 0h1.5m-0.5 0h1.5m0.5 0h1.5m0.5 0h1.5m0.5 0h1.5m1.5 0h1.5m1.5 0h1.5m4.5 0h1.5m1.5 0h1.5m-0.5 0h1.5m0.5 0h1.5m-0.5 0h1.5m1.5 0h1.5m2.5 0h1.5m-0.5 0h1.5m4.5 0h1.5m-0.5 0h1.5m1.5 0h1.5m4.5 0h1.5m-171.5 1h1.5m29.5 0h1.5m10.5 0h1.5m1.5 0h1.5m-0.5 0h1.5m7.5 0h1.5m9.5 0h1.5m0.5 0h1.5m-0.5 0h1.5m1.5 0h1.5m-0.5 0h1.5m-0.5 0h1.5m-0.5 0h1.5m-0.5 0h1.5m-0.5 0h1.5m2.5 0h1.5m-0.5 0h1.5m-0.5 0h1.5m4.5 0h1.5m2.5 0h1.5m0.5 0h1.5m-0.5 0h1.5m1.5 0h1.5m1.5 0h1.5m0.5 0h1.5m3.5 0h1.5m0.5 0h1.5m2.5 0h1.5m-0.5 0h1.5m0.5 0h1.5m-0.5 0h1.5m5.5 0h1.5m-0.5 0h1.5m6.5 0h1.5m2.5 0h1.5m0.5 0h1.5m4.5 0h1.5m0.5 0h1.5m0.5 0h1.5m3.5 0h1.5m0.5 0h1.5m2.5 0h1.5m4.5 0h1.5m-148.5 1h1.5m38.5 0h1.5m-0.5 0h1.5m-0.5 0h1.5m6.5 0h1.5m1.5 0h1.5m0.5 0h1.5m2.5 0h1.5m-0.5 0h1.5m0.5 0h1.5m-0.5 0h1.5m0.5 0h1.5m2.5 0h1.5m0.5 0h1.5m-0.5 0h1.5m-0.5 0h1.5m-0.5 0h1.5m-0.5 0h1.5m-0.5 0h1.5m0.5 0h1.5m-0.5 0h1.5m-0.5 0h1.5m-0.5 0h1.5m-0.5 0h1.5m-0.5 0h1.5m-0.5 0h1.5m3.5 0h1.5m0.5 0h1.5m0.5 0h1.5m0.5 0h1.5m-0.5 0h1.5m-0.5 0h1.5m-0.5 0h1.5m0.5 0h1.5m1.5 0h1.5m-0.5 0h1.5m2.5 0h1.5m-0.5 0h1.5m0.5 0h1.5m2.5 0h1.5m-0.5 0h1.5m0.5 0h1.5m-0.5 0h1.5m-0.5 0h1.5m-0.5 0h1.5m8.5 0h1.5m0.5 0h1.5m4.5 0h1.5m0.5 0h1.5m3.5 0h1.5m-154.5 1h1.5m18.5 0h1.5m3.5 0h1.5m6.5 0h1.5m4.5 0h1.5m2.5 0h1.5m-0.5 0h1.5m2.5 0h1.5m-0.5 0h1.5m3.5 0h1.5m0.5 0h1.5m-0.5 0h1.5m0.5 0h1.5m-0.5 0h1.5m2.5 0h1.5m-0.5 0h1.5m-0.5 0h1.5m1.5 0h1.5m0.5 0h1.5m1.5 0h1.5m2.5 0h1.5m0.5 0h1.5m-0.5 0h1.5m-0.5 0h1.5m-0.5 0h1.5m-0.5 0h1.5m2.5 0h1.5m-0.5 0h1.5m-0.5 0h1.5m2.5 0h1.5m-0.5 0h1.5m-0.5 0h1.5m1.5 0h1.5m-0.5 0h1.5m0.5 0h1.5m2.5 0h1.5m2.5 0h1.5m-0.5 0h1.5m-0.5 0h1.5m-0.5 0h1.5m0.5 0h1.5m2.5 0h1.5m-0.5 0h1.5m0.5 0h1.5m0.5 0h1.5m2.5 0h1.5m-0.5 0h1.5m6.5 0h1.5m0.5 0h1.5m-0.5 0h1.5m12.5 0h1.5m-140.5 1h1.5m2.5 0h1.5m7.5 0h1.5m5.5 0h1.5m5.5 0h1.5m-0.5 0h1.5m2.5 0h1.5m1.5 0h1.5m2.5 0h1.5m1.5 0h1.5m0.5 0h1.5m0.5 0h1.5m0.5 0h1.5m1.5 0h1.5m-0.5 0h1.5m-0.5 0h1.5m4.5 0h1.5m-0.5 0h1.5m2.5 0h1.5m-0.5 0h1.5m5.5 0h1.5m-0.5 0h1.5m-0.5 0h1.5m-0.5 0h1.5m-0.5 0h1.5m-0.5 0h1.5m1.5 0h1.5m-0.5 0h1.5m1.5 0h1.5m-0.5 0h1.5m0.5 0h1.5m0.5 0h1.5m-0.5 0h1.5m-0.5 0h1.5m2.5 0h1.5m-0.5 0h1.5m0.5 0h1.5m1.5 0h1.5m2.5 0h1.5m-0.5 0h1.5m4.5 0h1.5m-0.5 0h1.5m-0.5 0h1.5m-0.5 0h1.5m-0.5 0h1.5m-0.5 0h1.5m-0.5 0h1.5m0.5 0h1.5m-0.5 0h1.5m2.5 0h1.5m1.5 0h1.5m6.5 0h1.5m-137.5 1h1.5m1.5 0h1.5m9.5 0h1.5m0.5 0h1.5m14.5 0h1.5m1.5 0h1.5m-0.5 0h1.5m4.5 0h1.5m1.5 0h1.5m-0.5 0h1.5m4.5 0h1.5m-0.5 0h1.5m1.5 0h1.5m-0.5 0h1.5m-0.5 0h1.5m-0.5 0h1.5m1.5 0h1.5m0.5 0h1.5m4.5 0h1.5m-0.5 0h1.5m-0.5 0h1.5m0.5 0h1.5m0.5 0h1.5m2.5 0h1.5m-0.5 0h1.5m0.5 0h1.5m-0.5 0h1.5m-0.5 0h1.5m2.5 0h1.5m3.5 0h1.5m0.5 0h1.5m3.5 0h1.5m-0.5 0h1.5m-0.5 0h1.5m-0.5 0h1.5m0.5 0h1.5m3.5 0h1.5m-0.5 0h1.5m-0.5 0h1.5m-0.5 0h1.5m8.5 0h1.5m2.5 0h1.5m9.5 0h1.5m-155.5 1h1.5m23.5 0h1.5m0.5 0h1.5m17.5 0h1.5m-0.5 0h1.5m12.5 0h1.5m3.5 0h1.5m0.5 0h1.5m2.5 0h1.5m-0.5 0h1.5m5.5 0h1.5m-0.5 0h1.5m-0.5 0h1.5m-0.5 0h1.5m0.5 0h1.5m4.5 0h1.5m-0.5 0h1.5m2.5 0h1.5m-0.5 0h1.5m2.5 0h1.5m2.5 0h1.5m0.5 0h1.5m-0.5 0h1.5m-0.5 0h1.5m-0.5 0h1.5m3.5 0h1.5m3.5 0h1.5m-0.5 0h1.5m2.5 0h1.5m-0.5 0h1.5m-0.5 0h1.5m4.5 0h1.5m18.5 0h1.5m-116.5 1h1.5m0.5 0h1.5m1.5 0h1.5m4.5 0h1.5m1.5 0h1.5m7.5 0h1.5m0.5 0h1.5m1.5 0h1.5m-0.5 0h1.5m0.5 0h1.5m1.5 0h1.5m-0.5 0h1.5m0.5 0h1.5m-0.5 0h1.5m-0.5 0h1.5m0.5 0h1.5m-0.5 0h1.5m0.5 0h1.5m-0.5 0h1.5m3.5 0h1.5m0.5 0h1.5m-0.5 0h1.5m-0.5 0h1.5m0.5 0h1.5m-0.5 0h1.5m-0.5 0h1.5m2.5 0h1.5m-0.5 0h1.5m0.5 0h1.5m6.5 0h1.5m-0.5 0h1.5m0.5 0h1.5m0.5 0h1.5m-0.5 0h1.5m-0.5 0h1.5m0.5 0h1.5m-0.5 0h1.5m4.5 0h1.5m2.5 0h1.5m0.5 0h1.5m-0.5 0h1.5m-150.5 1h1.5m23.5 0h1.5m3.5 0h1.5m2.5 0h1.5m18.5 0h1.5m0.5 0h1.5m0.5 0h1.5m1.5 0h1.5m-0.5 0h1.5m5.5 0h1.5m3.5 0h1.5m1.5 0h1.5m0.5 0h1.5m2.5 0h1.5m0.5 0h1.5m-0.5 0h1.5m2.5 0h1.5m2.5 0h1.5m-0.5 0h1.5m0.5 0h1.5m1.5 0h1.5m0.5 0h1.5m3.5 0h1.5m-0.5 0h1.5m0.5 0h1.5m-0.5 0h1.5m0.5 0h1.5m-0.5 0h1.5m-0.5 0h1.5m-0.5 0h1.5m-0.5 0h1.5m0.5 0h1.5m-0.5 0h1.5m1.5 0h1.5m-0.5 0h1.5m0.5 0h1.5m2.5 0h1.5m-0.5 0h1.5m-0.5 0h1.5m-0.5 0h1.5m8.5 0h1.5m0.5 0h1.5m2.5 0h1.5m14.5 0h1.5m-136.5 1h1.5m15.5 0h1.5m0.5 0h1.5m0.5 0h1.5m-0.5 0h1.5m4.5 0h1.5m0.5 0h1.5m0.5 0h1.5m5.5 0h1.5m1.5 0h1.5m1.5 0h1.5m-0.5 0h1.5m2.5 0h1.5m-0.5 0h1.5m0.5 0h1.5m1.5 0h1.5m-0.5 0h1.5m7.5 0h1.5m0.5 0h1.5m-0.5 0h1.5m-0.5 0h1.5m-0.5 0h1.5m-0.5 0h1.5m-0.5 0h1.5m-0.5 0h1.5m-0.5 0h1.5m-0.5 0h1.5m-0.5 0h1.5m0.5 0h1.5m-0.5 0h1.5m-0.5 0h1.5m2.5 0h1.5m-0.5 0h1.5m0.5 0h1.5m0.5 0h1.5m-0.5 0h1.5m5.5 0h1.5m-0.5 0h1.5m3.5 0h1.5m-0.5 0h1.5m-0.5 0h1.5m0.5 0h1.5m-0.5 0h1.5m5.5 0h1.5m1.5 0h1.5m0.5 0h1.5m-120.5 1h1.5m0.5 0h1.5m1.5 0h1.5m-0.5 0h1.5m1.5 0h1.5m1.5 0h1.5m6.5 0h1.5m-0.5 0h1.5m-0.5 0h1.5m-0.5 0h1.5m0.5 0h1.5m3.5 0h1.5m-0.5 0h1.5m-0.5 0h1.5m3.5 0h1.5m1.5 0h1.5m3.5 0h1.5m-0.5 0h1.5m-0.5 0h1.5m2.5 0h1.5m1.5 0h1.5m4.5 0h1.5m0.5 0h1.5m-0.5 0h1.5m1.5 0h1.5m2.5 0h1.5m-0.5 0h1.5m1.5 0h1.5m0.5 0h1.5m-0.5 0h1.5m0.5 0h1.5m-0.5 0h1.5m-0.5 0h1.5m-0.5 0h1.5m1.5 0h1.5m-0.5 0h1.5m0.5 0h1.5m-0.5 0h1.5m2.5 0h1.5m3.5 0h1.5m-0.5 0h1.5m-0.5 0h1.5m0.5 0h1.5m-0.5 0h1.5m0.5 0h1.5m0.5 0h1.5m2.5 0h1.5m5.5 0h1.5m-0.5 0h1.5m-0.5 0h1.5m-0.5 0h1.5m-0.5 0h1.5m0.5 0h1.5m0.5 0h1.5m-0.5 0h1.5m2.5 0h1.5m3.5 0h1.5m0.5 0h1.5m-138.5 1h1.5m7.5 0h1.5m5.5 0h1.5m3.5 0h1.5m3.5 0h1.5m-0.5 0h1.5m3.5 0h1.5m2.5 0h1.5m-0.5 0h1.5m1.5 0h1.5m5.5 0h1.5m-0.5 0h1.5m-0.5 0h1.5m0.5 0h1.5m-0.5 0h1.5m0.5 0h1.5m0.5 0h1.5m2.5 0h1.5m-0.5 0h1.5m0.5 0h1.5m1.5 0h1.5m2.5 0h1.5m0.5 0h1.5m-0.5 0h1.5m0.5 0h1.5m-0.5 0h1.5m3.5 0h1.5m1.5 0h1.5m1.5 0h1.5m-0.5 0h1.5m1.5 0h1.5m1.5 0h1.5m-0.5 0h1.5m0.5 0h1.5m1.5 0h1.5m-0.5 0h1.5m-0.5 0h1.5m0.5 0h1.5m1.5 0h1.5m1.5 0h1.5m0.5 0h1.5m5.5 0h1.5m-129.5 1h1.5m10.5 0h1.5m11.5 0h1.5m0.5 0h1.5m2.5 0h1.5m1.5 0h1.5m4.5 0h1.5m5.5 0h1.5m-0.5 0h1.5m-0.5 0h1.5m0.5 0h1.5m0.5 0h1.5m0.5 0h1.5m2.5 0h1.5m-0.5 0h1.5m-0.5 0h1.5m-0.5 0h1.5m-0.5 0h1.5m0.5 0h1.5m2.5 0h1.5m0.5 0h1.5m1.5 0h1.5m-0.5 0h1.5m-0.5 0h1.5m2.5 0h1.5m-0.5 0h1.5m-0.5 0h1.5m5.5 0h1.5m1.5 0h1.5m2.5 0h1.5m1.5 0h1.5m-0.5 0h1.5m-0.5 0h1.5m0.5 0h1.5m-0.5 0h1.5m0.5 0h1.5m3.5 0h1.5m-0.5 0h1.5m2.5 0h1.5m-0.5 0h1.5m2.5 0h1.5m1.5 0h1.5m0.5 0h1.5m0.5 0h1.5m-0.5 0h1.5m1.5 0h1.5m-162.5 1h1.5m27.5 0h1.5m-0.5 0h1.5m5.5 0h1.5m11.5 0h1.5m-0.5 0h1.5m6.5 0h1.5m0.5 0h1.5m1.5 0h1.5m0.5 0h1.5m0.5 0h1.5m-0.5 0h1.5m0.5 0h1.5m0.5 0h1.5m3.5 0h1.5m-0.5 0h1.5m0.5 0h1.5m1.5 0h1.5m0.5 0h1.5m0.5 0h1.5m-0.5 0h1.5m1.5 0h1.5m-0.5 0h1.5m-0.5 0h1.5m-0.5 0h1.5m2.5 0h1.5m-0.5 0h1.5m-0.5 0h1.5m0.5 0h1.5m1.5 0h1.5m-0.5 0h1.5m-0.5 0h1.5m-0.5 0h1.5m1.5 0h1.5m-0.5 0h1.5m-0.5 0h1.5m-0.5 0h1.5m-0.5 0h1.5m-0.5 0h1.5m0.5 0h1.5m0.5 0h1.5m1.5 0h1.5m-0.5 0h1.5m-0.5 0h1.5m-0.5 0h1.5m0.5 0h1.5m0.5 0h1.5m1.5 0h1.5m-0.5 0h1.5m1.5 0h1.5m-0.5 0h1.5m3.5 0h1.5m0.5 0h1.5m-0.5 0h1.5m0.5 0h1.5m8.5 0h1.5m5.5 0h1.5m6.5 0h1.5m-146.5 1h1.5m12.5 0h1.5m-0.5 0h1.5m1.5 0h1.5m2.5 0h1.5m12.5 0h1.5m-0.5 0h1.5m4.5 0h1.5m3.5 0h1.5m-0.5 0h1.5m-0.5 0h1.5m3.5 0h1.5m-0.5 0h1.5m2.5 0h1.5m-0.5 0h1.5m-0.5 0h1.5m-0.5 0h1.5m3.5 0h1.5m-0.5 0h1.5m3.5 0h1.5m1.5 0h1.5m-0.5 0h1.5m-0.5 0h1.5m-0.5 0h1.5m-0.5 0h1.5m-0.5 0h1.5m-0.5 0h1.5m-0.5 0h1.5m1.5 0h1.5m1.5 0h1.5m-0.5 0h1.5m1.5 0h1.5m0.5 0h1.5m13.5 0h1.5m0.5 0h1.5m4.5 0h1.5m2.5 0h1.5m3.5 0h1.5m0.5 0h1.5m-0.5 0h1.5m-187.5 1h1.5m31.5 0h1.5m35.5 0h1.5m6.5 0h1.5m2.5 0h1.5m2.5 0h1.5m0.5 0h1.5m0.5 0h1.5m2.5 0h1.5m5.5 0h1.5m-0.5 0h1.5m1.5 0h1.5m1.5 0h1.5m-0.5 0h1.5m1.5 0h1.5m-0.5 0h1.5m3.5 0h1.5m-0.5 0h1.5m-0.5 0h1.5m-0.5 0h1.5m-0.5 0h1.5m-0.5 0h1.5m1.5 0h1.5m-0.5 0h1.5m-0.5 0h1.5m-0.5 0h1.5m0.5 0h1.5m1.5 0h1.5m0.5 0h1.5m0.5 0h1.5m0.5 0h1.5m0.5 0h1.5m0.5 0h1.5m-0.5 0h1.5m-0.5 0h1.5m0.5 0h1.5m-0.5 0h1.5m-0.5 0h1.5m-0.5 0h1.5m-0.5 0h1.5m-0.5 0h1.5m0.5 0h1.5m-0.5 0h1.5m3.5 0h1.5m7.5 0h1.5m-0.5 0h1.5m-0.5 0h1.5m2.5 0h1.5m2.5 0h1.5m2.5 0h1.5m1.5 0h1.5m8.5 0h1.5m-0.5 0h1.5m0.5 0h1.5m-0.5 0h1.5m-159.5 1h1.5m4.5 0h1.5m33.5 0h1.5m3.5 0h1.5m1.5 0h1.5m2.5 0h1.5m0.5 0h1.5m1.5 0h1.5m2.5 0h1.5m-0.5 0h1.5m2.5 0h1.5m-0.5 0h1.5m1.5 0h1.5m0.5 0h1.5m-0.5 0h1.5m-0.5 0h1.5m-0.5 0h1.5m1.5 0h1.5m0.5 0h1.5m0.5 0h1.5m-0.5 0h1.5m-0.5 0h1.5m-0.5 0h1.5m1.5 0h1.5m-0.5 0h1.5m2.5 0h1.5m-0.5 0h1.5m0.5 0h1.5m0.5 0h1.5m-0.5 0h1.5m-0.5 0h1.5m4.5 0h1.5m0.5 0h1.5m1.5 0h1.5m-0.5 0h1.5m1.5 0h1.5m3.5 0h1.5m-0.5 0h1.5m5.5 0h1.5m-0.5 0h1.5m1.5 0h1.5m0.5 0h1.5m16.5 0h1.5m-0.5 0h1.5m0.5 0h1.5m-125.5 1h1.5m-0.5 0h1.5m0.5 0h1.5m6.5 0h1.5m0.5 0h1.5m-0.5 0h1.5m1.5 0h1.5m-0.5 0h1.5m3.5 0h1.5m1.5 0h1.5m1.5 0h1.5m0.5 0h1.5m1.5 0h1.5m-0.5 0h1.5m2.5 0h1.5m-0.5 0h1.5m0.5 0h1.5m-0.5 0h1.5m-0.5 0h1.5m-0.5 0h1.5m-0.5 0h1.5m-0.5 0h1.5m-0.5 0h1.5m-0.5 0h1.5m0.5 0h1.5m2.5 0h1.5m6.5 0h1.5m0.5 0h1.5m-0.5 0h1.5m1.5 0h1.5m0.5 0h1.5m6.5 0h1.5m0.5 0h1.5m-0.5 0h1.5m2.5 0h1.5m3.5 0h1.5m3.5 0h1.5m2.5 0h1.5m7.5 0h1.5m11.5 0h1.5m-138.5 1h1.5m1.5 0h1.5m4.5 0h1.5m11.5 0h1.5m3.5 0h1.5m4.5 0h1.5m5.5 0h1.5m-0.5 0h1.5m2.5 0h1.5m-0.5 0h1.5m-0.5 0h1.5m0.5 0h1.5m0.5 0h1.5m0.5 0h1.5m-0.5 0h1.5m-0.5 0h1.5m0.5 0h1.5m5.5 0h1.5m0.5 0h1.5m0.5 0h1.5m-0.5 0h1.5m-0.5 0h1.5m1.5 0h1.5m-0.5 0h1.5m2.5 0h1.5m0.5 0h1.5m-0.5 0h1.5m-0.5 0h1.5m0.5 0h1.5m-0.5 0h1.5m0.5 0h1.5m-0.5 0h1.5m-0.5 0h1.5m2.5 0h1.5m2.5 0h1.5m-0.5 0h1.5m0.5 0h1.5m0.5 0h1.5m-0.5 0h1.5m8.5 0h1.5m-0.5 0h1.5m0.5 0h1.5m0.5 0h1.5m-0.5 0h1.5m16.5 0h1.5m1.5 0h1.5m-0.5 0h1.5m-161.5 1h1.5m8.5 0h1.5m14.5 0h1.5m-0.5 0h1.5m0.5 0h1.5m8.5 0h1.5m2.5 0h1.5m3.5 0h1.5m0.5 0h1.5m0.5 0h1.5m-0.5 0h1.5m0.5 0h1.5m-0.5 0h1.5m0.5 0h1.5m3.5 0h1.5m1.5 0h1.5m0.5 0h1.5m1.5 0h1.5m0.5 0h1.5m-0.5 0h1.5m-0.5 0h1.5m2.5 0h1.5m-0.5 0h1.5m-0.5 0h1.5m-0.5 0h1.5m-0.5 0h1.5m0.5 0h1.5m0.5 0h1.5m0.5 0h1.5m-0.5 0h1.5m-0.5 0h1.5m-0.5 0h1.5m3.5 0h1.5m0.5 0h1.5m0.5 0h1.5m-0.5 0h1.5m-0.5 0h1.5m1.5 0h1.5m2.5 0h1.5m-0.5 0h1.5m0.5 0h1.5m3.5 0h1.5m0.5 0h1.5m-0.5 0h1.5m6.5 0h1.5m3.5 0h1.5m13.5 0h1.5m0.5 0h1.5m1.5 0h1.5m3.5 0h1.5m-149.5 1h1.5m1.5 0h1.5m6.5 0h1.5m5.5 0h1.5m1.5 0h1.5m3.5 0h1.5m0.5 0h1.5m2.5 0h1.5m0.5 0h1.5m-0.5 0h1.5m1.5 0h1.5m3.5 0h1.5m0.5 0h1.5m-0.5 0h1.5m0.5 0h1.5m-0.5 0h1.5m0.5 0h1.5m1.5 0h1.5m-0.5 0h1.5m4.5 0h1.5m1.5 0h1.5m-0.5 0h1.5m-0.5 0h1.5m1.5 0h1.5m-0.5 0h1.5m-0.5 0h1.5m-0.5 0h1.5m-0.5 0h1.5m-0.5 0h1.5m4.5 0h1.5m-0.5 0h1.5m3.5 0h1.5m-0.5 0h1.5m-0.5 0h1.5m-0.5 0h1.5m-0.5 0h1.5m-0.5 0h1.5m1.5 0h1.5m2.5 0h1.5m2.5 0h1.5m1.5 0h1.5m-0.5 0h1.5m2.5 0h1.5m0.5 0h1.5m2.5 0h1.5m4.5 0h1.5m-0.5 0h1.5m0.5 0h1.5m0.5 0h1.5m9.5 0h1.5m2.5 0h1.5m-144.5 1h1.5m5.5 0h1.5m5.5 0h1.5m0.5 0h1.5m8.5 0h1.5m5.5 0h1.5m0.5 0h1.5m0.5 0h1.5m-0.5 0h1.5m4.5 0h1.5m-0.5 0h1.5m0.5 0h1.5m3.5 0h1.5m-0.5 0h1.5m0.5 0h1.5m-0.5 0h1.5m0.5 0h1.5m-0.5 0h1.5m2.5 0h1.5m-0.5 0h1.5m-0.5 0h1.5m-0.5 0h1.5m-0.5 0h1.5m-0.5 0h1.5m-0.5 0h1.5m0.5 0h1.5m0.5 0h1.5m-0.5 0h1.5m-0.5 0h1.5m1.5 0h1.5m1.5 0h1.5m-0.5 0h1.5m-0.5 0h1.5m-0.5 0h1.5m-0.5 0h1.5m-0.5 0h1.5m1.5 0h1.5m5.5 0h1.5m-0.5 0h1.5m0.5 0h1.5m-0.5 0h1.5m-0.5 0h1.5m-0.5 0h1.5m1.5 0h1.5m20.5 0h1.5m4.5 0h1.5m15.5 0h1.5m-142.5 1h1.5m8.5 0h1.5m8.5 0h1.5m4.5 0h1.5m-0.5 0h1.5m2.5 0h1.5m0.5 0h1.5m2.5 0h1.5m1.5 0h1.5m5.5 0h1.5m-0.5 0h1.5m1.5 0h1.5m-0.5 0h1.5m-0.5 0h1.5m0.5 0h1.5m-0.5 0h1.5m0.5 0h1.5m-0.5 0h1.5m-0.5 0h1.5m0.5 0h1.5m-0.5 0h1.5m-0.5 0h1.5m5.5 0h1.5m-0.5 0h1.5m2.5 0h1.5m-0.5 0h1.5m1.5 0h1.5m3.5 0h1.5m0.5 0h1.5m0.5 0h1.5m3.5 0h1.5m1.5 0h1.5m3.5 0h1.5m2.5 0h1.5m1.5 0h1.5m1.5 0h1.5m-0.5 0h1.5m2.5 0h1.5m2.5 0h1.5m2.5 0h1.5m1.5 0h1.5m4.5 0h1.5m-113.5 1h1.5m-0.5 0h1.5m1.5 0h1.5m0.5 0h1.5m-0.5 0h1.5m0.5 0h1.5m1.5 0h1.5m2.5 0h1.5m6.5 0h1.5m4.5 0h1.5m0.5 0h1.5m3.5 0h1.5m-0.5 0h1.5m1.5 0h1.5m-0.5 0h1.5m5.5 0h1.5m0.5 0h1.5m-0.5 0h1.5m2.5 0h1.5m-0.5 0h1.5m-0.5 0h1.5m-0.5 0h1.5m-0.5 0h1.5m-0.5 0h1.5m0.5 0h1.5m1.5 0h1.5m0.5 0h1.5m-0.5 0h1.5m1.5 0h1.5m0.5 0h1.5m1.5 0h1.5m0.5 0h1.5m-0.5 0h1.5m3.5 0h1.5m1.5 0h1.5m1.5 0h1.5m6.5 0h1.5m17.5 0h1.5m-133.5 1h1.5m0.5 0h1.5m5.5 0h1.5m2.5 0h1.5m4.5 0h1.5m4.5 0h1.5m0.5 0h1.5m1.5 0h1.5m-0.5 0h1.5m0.5 0h1.5m-0.5 0h1.5m0.5 0h1.5m2.5 0h1.5m-0.5 0h1.5m0.5 0h1.5m1.5 0h1.5m-0.5 0h1.5m-0.5 0h1.5m0.5 0h1.5m0.5 0h1.5m-0.5 0h1.5m0.5 0h1.5m-0.5 0h1.5m-0.5 0h1.5m-0.5 0h1.5m-0.5 0h1.5m0.5 0h1.5m-0.5 0h1.5m1.5 0h1.5m-0.5 0h1.5m-0.5 0h1.5m4.5 0h1.5m5.5 0h1.5m0.5 0h1.5m0.5 0h1.5m4.5 0h1.5m-0.5 0h1.5m5.5 0h1.5m1.5 0h1.5m4.5 0h1.5m2.5 0h1.5m0.5 0h1.5m10.5 0h1.5m2.5 0h1.5m-123.5 1h1.5m1.5 0h1.5m-0.5 0h1.5m0.5 0h1.5m2.5 0h1.5m0.5 0h1.5m-0.5 0h1.5m-0.5 0h1.5m0.5 0h1.5m1.5 0h1.5m-0.5 0h1.5m-0.5 0h1.5m2.5 0h1.5m-0.5 0h1.5m0.5 0h1.5m-0.5 0h1.5m2.5 0h1.5m0.5 0h1.5m-0.5 0h1.5m1.5 0h1.5m-0.5 0h1.5m0.5 0h1.5m-0.5 0h1.5m1.5 0h1.5m0.5 0h1.5m0.5 0h1.5m1.5 0h1.5m-0.5 0h1.5m0.5 0h1.5m-0.5 0h1.5m1.5 0h1.5m-0.5 0h1.5m-0.5 0h1.5m0.5 0h1.5m2.5 0h1.5m1.5 0h1.5m-0.5 0h1.5m-0.5 0h1.5m2.5 0h1.5m4.5 0h1.5m0.5 0h1.5m-0.5 0h1.5m0.5 0h1.5m1.5 0h1.5m2.5 0h1.5m4.5 0h1.5m15.5 0h1.5m5.5 0h1.5m-217.5 1h1.5m82.5 0h1.5m11.5 0h1.5m3.5 0h1.5m4.5 0h1.5m-0.5 0h1.5m0.5 0h1.5m-0.5 0h1.5m-0.5 0h1.5m2.5 0h1.5m0.5 0h1.5m-0.5 0h1.5m0.5 0h1.5m1.5 0h1.5m-0.5 0h1.5m1.5 0h1.5m2.5 0h1.5m-0.5 0h1.5m0.5 0h1.5m1.5 0h1.5m0.5 0h1.5m-0.5 0h1.5m-0.5 0h1.5m0.5 0h1.5m0.5 0h1.5m5.5 0h1.5m4.5 0h1.5m-0.5 0h1.5m-0.5 0h1.5m1.5 0h1.5m-0.5 0h1.5m4.5 0h1.5m0.5 0h1.5m-0.5 0h1.5m0.5 0h1.5m2.5 0h1.5m1.5 0h1.5m5.5 0h1.5m2.5 0h1.5m0.5 0h1.5m1.5 0h1.5m1.5 0h1.5m-182.5 1h1.5m55.5 0h1.5m-0.5 0h1.5m0.5 0h1.5m2.5 0h1.5m6.5 0h1.5m0.5 0h1.5m-0.5 0h1.5m10.5 0h1.5m3.5 0h1.5m2.5 0h1.5m2.5 0h1.5m-0.5 0h1.5m1.5 0h1.5m0.5 0h1.5m0.5 0h1.5m-0.5 0h1.5m-0.5 0h1.5m0.5 0h1.5m-0.5 0h1.5m1.5 0h1.5m1.5 0h1.5m-0.5 0h1.5m-0.5 0h1.5m0.5 0h1.5m2.5 0h1.5m0.5 0h1.5m-0.5 0h1.5m2.5 0h1.5m-0.5 0h1.5m0.5 0h1.5m0.5 0h1.5m1.5 0h1.5m-0.5 0h1.5m0.5 0h1.5m-0.5 0h1.5m-0.5 0h1.5m-0.5 0h1.5m1.5 0h1.5m7.5 0h1.5m0.5 0h1.5m-0.5 0h1.5m2.5 0h1.5m5.5 0h1.5m5.5 0h1.5m5.5 0h1.5m-147.5 1h1.5m17.5 0h1.5m3.5 0h1.5m1.5 0h1.5m2.5 0h1.5m1.5 0h1.5m2.5 0h1.5m-0.5 0h1.5m11.5 0h1.5m-0.5 0h1.5m-0.5 0h1.5m0.5 0h1.5m0.5 0h1.5m3.5 0h1.5m0.5 0h1.5m3.5 0h1.5m-0.5 0h1.5m2.5 0h1.5m1.5 0h1.5m1.5 0h1.5m1.5 0h1.5m-0.5 0h1.5m-0.5 0h1.5m0.5 0h1.5m-0.5 0h1.5m-0.5 0h1.5m-0.5 0h1.5m0.5 0h1.5m0.5 0h1.5m-0.5 0h1.5m0.5 0h1.5m-0.5 0h1.5m1.5 0h1.5m1.5 0h1.5m-0.5 0h1.5m-0.5 0h1.5m2.5 0h1.5m-0.5 0h1.5m11.5 0h1.5m2.5 0h1.5m-0.5 0h1.5m0.5 0h1.5m-131.5 1h1.5m11.5 0h1.5m0.5 0h1.5m1.5 0h1.5m3.5 0h1.5m4.5 0h1.5m-0.5 0h1.5m-0.5 0h1.5m2.5 0h1.5m-0.5 0h1.5m4.5 0h1.5m0.5 0h1.5m2.5 0h1.5m1.5 0h1.5m-0.5 0h1.5m2.5 0h1.5m1.5 0h1.5m-0.5 0h1.5m-0.5 0h1.5m0.5 0h1.5m0.5 0h1.5m0.5 0h1.5m10.5 0h1.5m-0.5 0h1.5m-0.5 0h1.5m-0.5 0h1.5m0.5 0h1.5m4.5 0h1.5m0.5 0h1.5m-0.5 0h1.5m6.5 0h1.5m-0.5 0h1.5m4.5 0h1.5m1.5 0h1.5m13.5 0h1.5m-0.5 0h1.5m-160.5 1h1.5m5.5 0h1.5m29.5 0h1.5m1.5 0h1.5m1.5 0h1.5m15.5 0h1.5m0.5 0h1.5m6.5 0h1.5m5.5 0h1.5m2.5 0h1.5m-0.5 0h1.5m3.5 0h1.5m3.5 0h1.5m0.5 0h1.5m-0.5 0h1.5m-0.5 0h1.5m-0.5 0h1.5m-0.5 0h1.5m0.5 0h1.5m-0.5 0h1.5m0.5 0h1.5m1.5 0h1.5m0.5 0h1.5m-0.5 0h1.5m0.5 0h1.5m0.5 0h1.5m-0.5 0h1.5m2.5 0h1.5m5.5 0h1.5m-0.5 0h1.5m-0.5 0h1.5m3.5 0h1.5m1.5 0h1.5m-0.5 0h1.5m-0.5 0h1.5m-0.5 0h1.5m0.5 0h1.5m0.5 0h1.5m0.5 0h1.5m13.5 0h1.5m-127.5 1h1.5m23.5 0h1.5m6.5 0h1.5m1.5 0h1.5m1.5 0h1.5m-0.5 0h1.5m2.5 0h1.5m0.5 0h1.5m3.5 0h1.5m0.5 0h1.5m2.5 0h1.5m4.5 0h1.5m-0.5 0h1.5m0.5 0h1.5m0.5 0h1.5m-0.5 0h1.5m0.5 0h1.5m-0.5 0h1.5m5.5 0h1.5m-0.5 0h1.5m-0.5 0h1.5m-0.5 0h1.5m1.5 0h1.5m-0.5 0h1.5m3.5 0h1.5m0.5 0h1.5m-0.5 0h1.5m5.5 0h1.5m-0.5 0h1.5m1.5 0h1.5m0.5 0h1.5m-0.5 0h1.5m6.5 0h1.5m3.5 0h1.5m4.5 0h1.5m19.5 0h1.5m-137.5 1h1.5m4.5 0h1.5m2.5 0h1.5m8.5 0h1.5m0.5 0h1.5m-0.5 0h1.5m-0.5 0h1.5m0.5 0h1.5m0.5 0h1.5m-0.5 0h1.5m-0.5 0h1.5m-0.5 0h1.5m1.5 0h1.5m-0.5 0h1.5m-0.5 0h1.5m1.5 0h1.5m1.5 0h1.5m3.5 0h1.5m-0.5 0h1.5m2.5 0h1.5m0.5 0h1.5m-0.5 0h1.5m-0.5 0h1.5m0.5 0h1.5m-0.5 0h1.5m0.5 0h1.5m1.5 0h1.5m3.5 0h1.5m-0.5 0h1.5m-0.5 0h1.5m0.5 0h1.5m-0.5 0h1.5m-0.5 0h1.5m-0.5 0h1.5m-0.5 0h1.5m5.5 0h1.5m1.5 0h1.5m-0.5 0h1.5m1.5 0h1.5m4.5 0h1.5m2.5 0h1.5m1.5 0h1.5m11.5 0h1.5m13.5 0h1.5m-147.5 1h1.5m14.5 0h1.5m0.5 0h1.5m0.5 0h1.5m4.5 0h1.5m6.5 0h1.5m-0.5 0h1.5m0.5 0h1.5m2.5 0h1.5m0.5 0h1.5m5.5 0h1.5m1.5 0h1.5m-0.5 0h1.5m-0.5 0h1.5m-0.5 0h1.5m1.5 0h1.5m0.5 0h1.5m1.5 0h1.5m0.5 0h1.5m0.5 0h1.5m1.5 0h1.5m-0.5 0h1.5m-0.5 0h1.5m-0.5 0h1.5m-0.5 0h1.5m-0.5 0h1.5m0.5 0h1.5m-0.5 0h1.5m0.5 0h1.5m-0.5 0h1.5m-0.5 0h1.5m-0.5 0h1.5m2.5 0h1.5m0.5 0h1.5m-0.5 0h1.5m-0.5 0h1.5m5.5 0h1.5m0.5 0h1.5m-0.5 0h1.5m5.5 0h1.5m-0.5 0h1.5m5.5 0h1.5m-0.5 0h1.5m-0.5 0h1.5m9.5 0h1.5m13.5 0h1.5m3.5 0h1.5m-152.5 1h1.5m23.5 0h1.5m1.5 0h1.5m2.5 0h1.5m1.5 0h1.5m0.5 0h1.5m2.5 0h1.5m3.5 0h1.5m7.5 0h1.5m0.5 0h1.5m0.5 0h1.5m-0.5 0h1.5m0.5 0h1.5m-0.5 0h1.5m-0.5 0h1.5m0.5 0h1.5m-0.5 0h1.5m0.5 0h1.5m2.5 0h1.5m-0.5 0h1.5m-0.5 0h1.5m-0.5 0h1.5m-0.5 0h1.5m-0.5 0h1.5m-0.5 0h1.5m-0.5 0h1.5m2.5 0h1.5m7.5 0h1.5m2.5 0h1.5m3.5 0h1.5m2.5 0h1.5m8.5 0h1.5m-131.5 1h1.5m24.5 0h1.5m7.5 0h1.5m5.5 0h1.5m4.5 0h1.5m2.5 0h1.5m-0.5 0h1.5m-0.5 0h1.5m-0.5 0h1.5m-0.5 0h1.5m0.5 0h1.5m-0.5 0h1.5m-0.5 0h1.5m1.5 0h1.5m-0.5 0h1.5m-0.5 0h1.5m-0.5 0h1.5m-0.5 0h1.5m-0.5 0h1.5m3.5 0h1.5m-0.5 0h1.5m-0.5 0h1.5m1.5 0h1.5m1.5 0h1.5m2.5 0h1.5m-0.5 0h1.5m0.5 0h1.5m-0.5 0h1.5m3.5 0h1.5m-0.5 0h1.5m1.5 0h1.5m3.5 0h1.5m4.5 0h1.5m-0.5 0h1.5m0.5 0h1.5m-0.5 0h1.5m-0.5 0h1.5m-0.5 0h1.5m0.5 0h1.5m-0.5 0h1.5m2.5 0h1.5m-0.5 0h1.5m6.5 0h1.5m0.5 0h1.5m-192.5 1h1.5m73.5 0h1.5m-0.5 0h1.5m9.5 0h1.5m-0.5 0h1.5m-0.5 0h1.5m1.5 0h1.5m1.5 0h1.5m0.5 0h1.5m1.5 0h1.5m-0.5 0h1.5m0.5 0h1.5m-0.5 0h1.5m1.5 0h1.5m4.5 0h1.5m0.5 0h1.5m-0.5 0h1.5m-0.5 0h1.5m1.5 0h1.5m5.5 0h1.5m0.5 0h1.5m2.5 0h1.5m-0.5 0h1.5m-0.5 0h1.5m1.5 0h1.5m-0.5 0h1.5m0.5 0h1.5m1.5 0h1.5m0.5 0h1.5m0.5 0h1.5m-0.5 0h1.5m1.5 0h1.5m1.5 0h1.5m6.5 0h1.5m2.5 0h1.5m-0.5 0h1.5m5.5 0h1.5m2.5 0h1.5m-0.5 0h1.5m2.5 0h1.5m2.5 0h1.5m1.5 0h1.5m-0.5 0h1.5m-107.5 1h1.5m3.5 0h1.5m-0.5 0h1.5m-0.5 0h1.5m3.5 0h1.5m3.5 0h1.5m-0.5 0h1.5m-0.5 0h1.5m-0.5 0h1.5m-0.5 0h1.5m7.5 0h1.5m0.5 0h1.5m1.5 0h1.5m2.5 0h1.5m-0.5 0h1.5m0.5 0h1.5m-0.5 0h1.5m2.5 0h1.5m0.5 0h1.5m-0.5 0h1.5m1.5 0h1.5m-0.5 0h1.5m0.5 0h1.5m-0.5 0h1.5m-0.5 0h1.5m2.5 0h1.5m3.5 0h1.5m-0.5 0h1.5m-0.5 0h1.5m-0.5 0h1.5m-0.5 0h1.5m6.5 0h1.5m-0.5 0h1.5m1.5 0h1.5m0.5 0h1.5m0.5 0h1.5m5.5 0h1.5m-0.5 0h1.5m-0.5 0h1.5m2.5 0h1.5m4.5 0h1.5m-0.5 0h1.5m1.5 0h1.5m10.5 0h1.5m4.5 0h1.5m-138.5 1h1.5m9.5 0h1.5m5.5 0h1.5m2.5 0h1.5m0.5 0h1.5m16.5 0h1.5m0.5 0h1.5m6.5 0h1.5m-0.5 0h1.5m0.5 0h1.5m0.5 0h1.5m1.5 0h1.5m-0.5 0h1.5m-0.5 0h1.5m-0.5 0h1.5m1.5 0h1.5m-0.5 0h1.5m3.5 0h1.5m1.5 0h1.5m-0.5 0h1.5m2.5 0h1.5m-0.5 0h1.5m1.5 0h1.5m-0.5 0h1.5m0.5 0h1.5m10.5 0h1.5m3.5 0h1.5m11.5 0h1.5m24.5 0h1.5m-169.5 1h1.5m0.5 0h1.5m18.5 0h1.5m5.5 0h1.5m8.5 0h1.5m1.5 0h1.5m0.5 0h1.5m11.5 0h1.5m1.5 0h1.5m1.5 0h1.5m2.5 0h1.5m-0.5 0h1.5m-0.5 0h1.5m1.5 0h1.5m-0.5 0h1.5m2.5 0h1.5m0.5 0h1.5m6.5 0h1.5m0.5 0h1.5m3.5 0h1.5m2.5 0h1.5m-0.5 0h1.5m0.5 0h1.5m2.5 0h1.5m7.5 0h1.5m0.5 0h1.5m3.5 0h1.5m0.5 0h1.5m0.5 0h1.5m-0.5 0h1.5m4.5 0h1.5m-0.5 0h1.5m4.5 0h1.5m3.5 0h1.5m3.5 0h1.5m5.5 0h1.5m14.5 0h1.5m-190.5 1h1.5m12.5 0h1.5m16.5 0h1.5m10.5 0h1.5m12.5 0h1.5m0.5 0h1.5m-0.5 0h1.5m17.5 0h1.5m4.5 0h1.5m-0.5 0h1.5m2.5 0h1.5m0.5 0h1.5m-0.5 0h1.5m-0.5 0h1.5m-0.5 0h1.5m-0.5 0h1.5m2.5 0h1.5m12.5 0h1.5m-0.5 0h1.5m2.5 0h1.5m-0.5 0h1.5m-0.5 0h1.5m-0.5 0h1.5m7.5 0h1.5m22.5 0h1.5m3.5 0h1.5m-185.5 1h1.5m39.5 0h1.5m20.5 0h1.5m9.5 0h1.5m4.5 0h1.5m1.5 0h1.5m5.5 0h1.5m0.5 0h1.5m3.5 0h1.5m-0.5 0h1.5m-0.5 0h1.5m0.5 0h1.5m5.5 0h1.5m0.5 0h1.5m1.5 0h1.5m-0.5 0h1.5m1.5 0h1.5m4.5 0h1.5m0.5 0h1.5m1.5 0h1.5m-0.5 0h1.5m0.5 0h1.5m0.5 0h1.5m-0.5 0h1.5m-0.5 0h1.5m0.5 0h1.5m3.5 0h1.5m3.5 0h1.5m0.5 0h1.5m-0.5 0h1.5m1.5 0h1.5m-0.5 0h1.5m1.5 0h1.5m2.5 0h1.5m0.5 0h1.5m4.5 0h1.5m3.5 0h1.5m5.5 0h1.5m-0.5 0h1.5m-0.5 0h1.5m1.5 0h1.5m-0.5 0h1.5m-140.5 1h1.5m12.5 0h1.5m3.5 0h1.5m11.5 0h1.5m9.5 0h1.5m0.5 0h1.5m8.5 0h1.5m1.5 0h1.5m-0.5 0h1.5m0.5 0h1.5m0.5 0h1.5m9.5 0h1.5m0.5 0h1.5m-0.5 0h1.5m2.5 0h1.5m2.5 0h1.5m1.5 0h1.5m-0.5 0h1.5m7.5 0h1.5m-0.5 0h1.5m-0.5 0h1.5m-0.5 0h1.5m3.5 0h1.5m0.5 0h1.5m0.5 0h1.5m1.5 0h1.5m5.5 0h1.5m1.5 0h1.5m10.5 0h1.5m-114.5 1h1.5m0.5 0h1.5m3.5 0h1.5m-0.5 0h1.5m1.5 0h1.5m2.5 0h1.5m0.5 0h1.5m-0.5 0h1.5m-0.5 0h1.5m0.5 0h1.5m-0.5 0h1.5m0.5 0h1.5m-0.5 0h1.5m-0.5 0h1.5m1.5 0h1.5m-0.5 0h1.5m0.5 0h1.5m3.5 0h1.5m-0.5 0h1.5m-0.5 0h1.5m0.5 0h1.5m0.5 0h1.5m2.5 0h1.5m-0.5 0h1.5m0.5 0h1.5m-0.5 0h1.5m10.5 0h1.5m1.5 0h1.5m3.5 0h1.5m0.5 0h1.5m-0.5 0h1.5m0.5 0h1.5m-0.5 0h1.5m0.5 0h1.5m-0.5 0h1.5m-0.5 0h1.5m4.5 0h1.5m-0.5 0h1.5m-0.5 0h1.5m2.5 0h1.5m14.5 0h1.5m-0.5 0h1.5m-0.5 0h1.5m-161.5 1h1.5m26.5 0h1.5m11.5 0h1.5m9.5 0h1.5m3.5 0h1.5m1.5 0h1.5m1.5 0h1.5m6.5 0h1.5m10.5 0h1.5m5.5 0h1.5m2.5 0h1.5m4.5 0h1.5m-0.5 0h1.5m-0.5 0h1.5m4.5 0h1.5m0.5 0h1.5m2.5 0h1.5m0.5 0h1.5m-0.5 0h1.5m0.5 0h1.5m2.5 0h1.5m1.5 0h1.5m-0.5 0h1.5m-0.5 0h1.5m1.5 0h1.5m-0.5 0h1.5m9.5 0h1.5m-115.5 1h1.5m1.5 0h1.5m3.5 0h1.5m4.5 0h1.5m0.5 0h1.5m14.5 0h1.5m3.5 0h1.5m-0.5 0h1.5m1.5 0h1.5m1.5 0h1.5m0.5 0h1.5m9.5 0h1.5m-0.5 0h1.5m1.5 0h1.5m1.5 0h1.5m0.5 0h1.5m-0.5 0h1.5m4.5 0h1.5m0.5 0h1.5m1.5 0h1.5m0.5 0h1.5m0.5 0h1.5m0.5 0h1.5m3.5 0h1.5m19.5 0h1.5m10.5 0h1.5m27.5 0h1.5m6.5 0h1.5m-184.5 1h1.5m24.5 0h1.5m13.5 0h1.5m7.5 0h1.5m2.5 0h1.5m0.5 0h1.5m5.5 0h1.5m0.5 0h1.5m-0.5 0h1.5m3.5 0h1.5m0.5 0h1.5m1.5 0h1.5m6.5 0h1.5m-0.5 0h1.5m0.5 0h1.5m0.5 0h1.5m0.5 0h1.5m0.5 0h1.5m9.5 0h1.5m2.5 0h1.5m0.5 0h1.5m0.5 0h1.5m0.5 0h1.5m1.5 0h1.5m8.5 0h1.5m9.5 0h1.5m14.5 0h1.5m-147.5 1h1.5m41.5 0h1.5m-0.5 0h1.5m11.5 0h1.5m-0.5 0h1.5m-0.5 0h1.5m0.5 0h1.5m-0.5 0h1.5m-0.5 0h1.5m3.5 0h1.5m-0.5 0h1.5m-0.5 0h1.5m1.5 0h1.5m-0.5 0h1.5m0.5 0h1.5m-0.5 0h1.5m-0.5 0h1.5m1.5 0h1.5m-0.5 0h1.5m3.5 0h1.5m1.5 0h1.5m3.5 0h1.5m5.5 0h1.5m-0.5 0h1.5m6.5 0h1.5m2.5 0h1.5m6.5 0h1.5m-0.5 0h1.5m3.5 0h1.5m0.5 0h1.5m2.5 0h1.5m0.5 0h1.5m4.5 0h1.5m3.5 0h1.5m5.5 0h1.5m-156.5 1h1.5m22.5 0h1.5m18.5 0h1.5m2.5 0h1.5m0.5 0h1.5m4.5 0h1.5m0.5 0h1.5m1.5 0h1.5m8.5 0h1.5m-0.5 0h1.5m-0.5 0h1.5m2.5 0h1.5m8.5 0h1.5m2.5 0h1.5m5.5 0h1.5m-0.5 0h1.5m1.5 0h1.5m1.5 0h1.5m-0.5 0h1.5m2.5 0h1.5m2.5 0h1.5m-0.5 0h1.5m0.5 0h1.5m7.5 0h1.5m-0.5 0h1.5m4.5 0h1.5m-0.5 0h1.5m-0.5 0h1.5m-0.5 0h1.5m3.5 0h1.5m12.5 0h1.5m17.5 0h1.5m-140.5 1h1.5m3.5 0h1.5m-0.5 0h1.5m4.5 0h1.5m0.5 0h1.5m-0.5 0h1.5m-0.5 0h1.5m4.5 0h1.5m0.5 0h1.5m0.5 0h1.5m1.5 0h1.5m2.5 0h1.5m0.5 0h1.5m-0.5 0h1.5m-0.5 0h1.5m-0.5 0h1.5m2.5 0h1.5m-0.5 0h1.5m-0.5 0h1.5m0.5 0h1.5m0.5 0h1.5m-0.5 0h1.5m-0.5 0h1.5m-0.5 0h1.5m-0.5 0h1.5m1.5 0h1.5m0.5 0h1.5m0.5 0h1.5m3.5 0h1.5m1.5 0h1.5m0.5 0h1.5m6.5 0h1.5m5.5 0h1.5m4.5 0h1.5m3.5 0h1.5m-0.5 0h1.5m2.5 0h1.5m2.5 0h1.5m13.5 0h1.5m-133.5 1h1.5m2.5 0h1.5m16.5 0h1.5m4.5 0h1.5m4.5 0h1.5m-0.5 0h1.5m9.5 0h1.5m8.5 0h1.5m0.5 0h1.5m0.5 0h1.5m3.5 0h1.5m-0.5 0h1.5m5.5 0h1.5m2.5 0h1.5m1.5 0h1.5m-0.5 0h1.5m-0.5 0h1.5m1.5 0h1.5m1.5 0h1.5m1.5 0h1.5m13.5 0h1.5m6.5 0h1.5m8.5 0h1.5m23.5 0h1.5m-142.5 1h1.5m1.5 0h1.5m7.5 0h1.5m-0.5 0h1.5m0.5 0h1.5m1.5 0h1.5m1.5 0h1.5m6.5 0h1.5m1.5 0h1.5m-0.5 0h1.5m-0.5 0h1.5m-0.5 0h1.5m-0.5 0h1.5m0.5 0h1.5m0.5 0h1.5m-0.5 0h1.5m1.5 0h1.5m3.5 0h1.5m0.5 0h1.5m-0.5 0h1.5m2.5 0h1.5m4.5 0h1.5m-0.5 0h1.5m1.5 0h1.5m0.5 0h1.5m-0.5 0h1.5m0.5 0h1.5m-0.5 0h1.5m7.5 0h1.5m1.5 0h1.5m5.5 0h1.5m1.5 0h1.5m-0.5 0h1.5m37.5 0h1.5m-105.5 1h1.5m3.5 0h1.5m1.5 0h1.5m-0.5 0h1.5m0.5 0h1.5m-0.5 0h1.5m1.5 0h1.5m0.5 0h1.5m0.5 0h1.5m5.5 0h1.5m-0.5 0h1.5m1.5 0h1.5m6.5 0h1.5m0.5 0h1.5m-0.5 0h1.5m7.5 0h1.5m0.5 0h1.5m4.5 0h1.5m0.5 0h1.5m0.5 0h1.5m3.5 0h1.5m3.5 0h1.5m-0.5 0h1.5m1.5 0h1.5m2.5 0h1.5m-148.5 1h1.5m10.5 0h1.5m18.5 0h1.5m8.5 0h1.5m-0.5 0h1.5m4.5 0h1.5m0.5 0h1.5m4.5 0h1.5m-0.5 0h1.5m3.5 0h1.5m2.5 0h1.5m-0.5 0h1.5m7.5 0h1.5m0.5 0h1.5m5.5 0h1.5m1.5 0h1.5m1.5 0h1.5m-0.5 0h1.5m-0.5 0h1.5m1.5 0h1.5m-0.5 0h1.5m0.5 0h1.5m1.5 0h1.5m0.5 0h1.5m0.5 0h1.5m4.5 0h1.5m-0.5 0h1.5m0.5 0h1.5m-0.5 0h1.5m-0.5 0h1.5m5.5 0h1.5m-0.5 0h1.5m8.5 0h1.5m1.5 0h1.5m5.5 0h1.5m16.5 0h1.5m-159.5 1h1.5m22.5 0h1.5m8.5 0h1.5m3.5 0h1.5m4.5 0h1.5m-0.5 0h1.5m15.5 0h1.5m0.5 0h1.5m-0.5 0h1.5m-0.5 0h1.5m7.5 0h1.5m3.5 0h1.5m2.5 0h1.5m6.5 0h1.5m3.5 0h1.5m0.5 0h1.5m0.5 0h1.5m4.5 0h1.5m14.5 0h1.5m12.5 0h1.5m-0.5 0h1.5m3.5 0h1.5m-120.5 1h1.5m3.5 0h1.5m6.5 0h1.5m-0.5 0h1.5m3.5 0h1.5m2.5 0h1.5m0.5 0h1.5m1.5 0h1.5m1.5 0h1.5m7.5 0h1.5m-0.5 0h1.5m-0.5 0h1.5m4.5 0h1.5m0.5 0h1.5m-0.5 0h1.5m-0.5 0h1.5m2.5 0h1.5m0.5 0h1.5m5.5 0h1.5m-0.5 0h1.5m6.5 0h1.5m6.5 0h1.5m-0.5 0h1.5m-0.5 0h1.5m4.5 0h1.5m5.5 0h1.5m-0.5 0h1.5m3.5 0h1.5m9.5 0h1.5m22.5 0h1.5m-133.5 1h1.5m5.5 0h1.5m2.5 0h1.5m0.5 0h1.5m6.5 0h1.5m2.5 0h1.5m5.5 0h1.5m0.5 0h1.5m5.5 0h1.5m1.5 0h1.5m3.5 0h1.5m-0.5 0h1.5m0.5 0h1.5m-0.5 0h1.5m5.5 0h1.5m-0.5 0h1.5m-0.5 0h1.5m3.5 0h1.5m-0.5 0h1.5m-0.5 0h1.5m0.5 0h1.5m3.5 0h1.5m0.5 0h1.5m9.5 0h1.5m34.5 0h1.5m-0.5 0h1.5m-147.5 1h1.5m15.5 0h1.5m12.5 0h1.5m5.5 0h1.5m2.5 0h1.5m0.5 0h1.5m11.5 0h1.5m3.5 0h1.5m0.5 0h1.5m2.5 0h1.5m-0.5 0h1.5m0.5 0h1.5m-0.5 0h1.5m-0.5 0h1.5m1.5 0h1.5m0.5 0h1.5m9.5 0h1.5m1.5 0h1.5m10.5 0h1.5m16.5 0h1.5m0.5 0h1.5m-117.5 1h1.5m1.5 0h1.5m3.5 0h1.5m-0.5 0h1.5m12.5 0h1.5m-0.5 0h1.5m2.5 0h1.5m-0.5 0h1.5m-0.5 0h1.5m0.5 0h1.5m7.5 0h1.5m1.5 0h1.5m2.5 0h1.5m3.5 0h1.5m3.5 0h1.5m5.5 0h1.5m-0.5 0h1.5m4.5 0h1.5m7.5 0h1.5m12.5 0h1.5m0.5 0h1.5m-0.5 0h1.5m4.5 0h1.5m9.5 0h1.5m6.5 0h1.5m5.5 0h1.5m-145.5 1h1.5m7.5 0h1.5m24.5 0h1.5m7.5 0h1.5m1.5 0h1.5m22.5 0h1.5m2.5 0h1.5m-0.5 0h1.5m1.5 0h1.5m-0.5 0h1.5m2.5 0h1.5m-0.5 0h1.5m3.5 0h1.5m8.5 0h1.5m5.5 0h1.5m0.5 0h1.5m1.5 0h1.5m6.5 0h1.5m14.5 0h1.5m2.5 0h1.5m-144.5 1h1.5m35.5 0h1.5m1.5 0h1.5m-0.5 0h1.5m8.5 0h1.5m-0.5 0h1.5m1.5 0h1.5m0.5 0h1.5m2.5 0h1.5m5.5 0h1.5m-0.5 0h1.5m0.5 0h1.5m-0.5 0h1.5m2.5 0h1.5m0.5 0h1.5m0.5 0h1.5m1.5 0h1.5m0.5 0h1.5m1.5 0h1.5m7.5 0h1.5m11.5 0h1.5m0.5 0h1.5m12.5 0h1.5m-132.5 1h1.5m16.5 0h1.5m6.5 0h1.5m1.5 0h1.5m6.5 0h1.5m21.5 0h1.5m10.5 0h1.5m-0.5 0h1.5m1.5 0h1.5m-0.5 0h1.5m3.5 0h1.5m3.5 0h1.5m2.5 0h1.5m2.5 0h1.5m7.5 0h1.5m9.5 0h1.5m1.5 0h1.5m3.5 0h1.5m9.5 0h1.5m-106.5 1h1.5m11.5 0h1.5m18.5 0h1.5m4.5 0h1.5m5.5 0h1.5m7.5 0h1.5m2.5 0h1.5m13.5 0h1.5m0.5 0h1.5m3.5 0h1.5m18.5 0h1.5m-115.5 1h1.5m7.5 0h1.5m5.5 0h1.5m3.5 0h1.5m1.5 0h1.5m4.5 0h1.5m-0.5 0h1.5m9.5 0h1.5m1.5 0h1.5m-0.5 0h1.5m0.5 0h1.5m-0.5 0h1.5m-0.5 0h1.5m3.5 0h1.5m6.5 0h1.5m-0.5 0h1.5m10.5 0h1.5m20.5 0h1.5m3.5 0h1.5m0.5 0h1.5m21.5 0h1.5m-131.5 1h1.5m11.5 0h1.5m27.5 0h1.5m9.5 0h1.5m6.5 0h1.5m0.5 0h1.5m0.5 0h1.5m-0.5 0h1.5m7.5 0h1.5m0.5 0h1.5m11.5 0h1.5m6.5 0h1.5m2.5 0h1.5m59.5 0h1.5m-171.5 1h1.5m14.5 0h1.5m3.5 0h1.5m4.5 0h1.5m12.5 0h1.5m1.5 0h1.5m7.5 0h1.5m2.5 0h1.5m-0.5 0h1.5m3.5 0h1.5m1.5 0h1.5m-0.5 0h1.5m5.5 0h1.5m1.5 0h1.5m0.5 0h1.5m9.5 0h1.5m6.5 0h1.5m8.5 0h1.5m-93.5 1h1.5m27.5 0h1.5m7.5 0h1.5m2.5 0h1.5m8.5 0h1.5m2.5 0h1.5m0.5 0h1.5m0.5 0h1.5m13.5 0h1.5m2.5 0h1.5m4.5 0h1.5m0.5 0h1.5m7.5 0h1.5m-147.5 1h1.5m44.5 0h1.5m26.5 0h1.5m0.5 0h1.5m8.5 0h1.5m0.5 0h1.5m-0.5 0h1.5m-0.5 0h1.5m-0.5 0h1.5m1.5 0h1.5m-0.5 0h1.5m4.5 0h1.5m3.5 0h1.5m14.5 0h1.5m-0.5 0h1.5m4.5 0h1.5m33.5 0h1.5m11.5 0h1.5m-153.5 1h1.5m25.5 0h1.5m0.5 0h1.5m9.5 0h1.5m12.5 0h1.5m0.5 0h1.5m5.5 0h1.5m16.5 0h1.5m13.5 0h1.5m-0.5 0h1.5m25.5 0h1.5m-0.5 0h1.5m-99.5 1h1.5m18.5 0h1.5m0.5 0h1.5m14.5 0h1.5m3.5 0h1.5m-0.5 0h1.5m2.5 0h1.5m9.5 0h1.5m0.5 0h1.5m17.5 0h1.5m0.5 0h1.5m24.5 0h1.5m-120.5 1h1.5m9.5 0h1.5m9.5 0h1.5m1.5 0h1.5m26.5 0h1.5m2.5 0h1.5m7.5 0h1.5m-0.5 0h1.5m2.5 0h1.5m-0.5 0h1.5m2.5 0h1.5m9.5 0h1.5m0.5 0h1.5m14.5 0h1.5m9.5 0h1.5m3.5 0h1.5m20.5 0h1.5m22.5 0h1.5m-142.5 1h1.5m4.5 0h1.5m9.5 0h1.5m4.5 0h1.5m5.5 0h1.5m16.5 0h1.5m4.5 0h1.5m4.5 0h1.5m8.5 0h1.5m17.5 0h1.5m-0.5 0h1.5m1.5 0h1.5m-104.5 1h1.5m7.5 0h1.5m10.5 0h1.5m3.5 0h1.5m2.5 0h1.5m6.5 0h1.5m9.5 0h1.5m1.5 0h1.5m3.5 0h1.5m4.5 0h1.5m4.5 0h1.5m17.5 0h1.5m51.5 0h1.5m-152.5 1h1.5m11.5 0h1.5m24.5 0h1.5m3.5 0h1.5m-0.5 0h1.5m0.5 0h1.5m6.5 0h1.5m-0.5 0h1.5m-0.5 0h1.5m3.5 0h1.5m7.5 0h1.5m1.5 0h1.5m7.5 0h1.5m18.5 0h1.5m-90.5 1h1.5m5.5 0h1.5m12.5 0h1.5m-0.5 0h1.5m1.5 0h1.5m2.5 0h1.5m6.5 0h1.5m10.5 0h1.5m-0.5 0h1.5m5.5 0h1.5m11.5 0h1.5m0.5 0h1.5m9.5 0h1.5m11.5 0h1.5m-121.5 1h1.5m20.5 0h1.5m4.5 0h1.5m1.5 0h1.5m-0.5 0h1.5m16.5 0h1.5m14.5 0h1.5m3.5 0h1.5m1.5 0h1.5m20.5 0h1.5m-0.5 0h1.5m24.5 0h1.5m-104.5 1h1.5m6.5 0h1.5m11.5 0h1.5m0.5 0h1.5m14.5 0h1.5m0.5 0h1.5m10.5 0h1.5m-0.5 0h1.5m12.5 0h1.5m12.5 0h1.5m-86.5 1h1.5m10.5 0h1.5m26.5 0h1.5m5.5 0h1.5m18.5 0h1.5m8.5 0h1.5m1.5 0h1.5m15.5 0h1.5m-0.5 0h1.5m-95.5 1h1.5m8.5 0h1.5m4.5 0h1.5m0.5 0h1.5m6.5 0h1.5m12.5 0h1.5m8.5 0h1.5m13.5 0h1.5m-74.5 1h1.5m33.5 0h1.5m5.5 0h1.5m0.5 0h1.5m22.5 0h1.5m-43.5 1h1.5m16.5 0h1.5" stroke="#0000ff" stroke-width="1.5" fill="none"/>
<path d="M554 703h1.5m-1.5 19h1.5m-1.5 20h1.5m-1.5 9h1.5m-0.5 8h1.5m-1.5 3h1.5m-32.5 2h1.5m28.5 0h1.5m-0.5 1h1.5m-22.5 2h1.5m-14.5 1h1.5m31.5 1h1.5m-26.5 1h1.5m23.5 0h1.5m-0.5 0h1.5m-5.5 1h1.5m1.5 0h1.5m-4.5 1h1.5m1.5 0h1.5m-0.5 1h1.5m-22.5 1h1.5m18.5 0h1.5m-0.5 0h1.5m-34.5 2h1.5m10.5 0h1.5m3.5 0h1.5m14.5 0h1.5m-17.5 1h1.5m2.5 0h1.5m5.5 0h1.5m3.5 0h1.5m-11.5 1h1.5m7.5 0h1.5m-1.5 1h1.5m-30.5 1h1.5m13.5 0h1.5m12.5 0h1.5m-0.5 0h1.5m-49.5 1h1.5m13.5 0h1.5m12.5 0h1.5m4.5 0h1.5m4.5 0h1.5m1.5 0h1.5m1.5 1h1.5m-0.5 0h1.5m-22.5 1h1.5m6.5 0h1.5m3.5 0h1.5m5.5 0h1.5m-31.5 1h1.5m6.5 0h1.5m0.5 0h1.5m1.5 0h1.5m2.5 0h1.5m8.5 0h1.5m1.5 0h1.5m-0.5 0h1.5m-26.5 1h1.5m-0.5 0h1.5m16.5 0h1.5m3.5 0h1.5m-0.5 0h1.5m-30.5 1h1.5m26.5 0h1.5m-0.5 0h1.5m-34.5 1h1.5m6.5 0h1.5m10.5 0h1.5m0.5 0h1.5m9.5 0h1.5m-15.5 1h1.5m11.5 0h1.5m-0.5 0h1.5m-45.5 1h1.5m11.5 0h1.5m11.5 0h1.5m16.5 0h1.5m-31.5 1h1.5m1.5 0h1.5m-0.5 0h1.5m3.5 0h1.5m16.5 0h1.5m1.5 0h1.5m-29.5 2h1.5m1.5 0h1.5m-0.5 0h1.5m5.5 0h1.5m-0.5 0h1.5m13.5 0h1.5m-0.5 0h1.5m-43.5 1h1.5m11.5 0h1.5m1.5 0h1.5m22.5 0h1.5m-0.5 0h1.5m-38.5 1h1.5m13.5 0h1.5m3.5 0h1.5m8.5 0h1.5m5.5 0h1.5m-36.5 1h1.5m3.5 0h1.5m0.5 0h1.5m16.5 0h1.5m-0.5 0h1.5m7.5 0h1.5m-0.5 0h1.5m-32.5 1h1.5m9.5 0h1.5m2.5 0h1.5m2.5 0h1.5m8.5 0h1.5m-0.5 0h1.5m-47.5 1h1.5m17.5 0h1.5m25.5 0h1.5m-0.5 0h1.5m-20.5 1h1.5m-0.5 0h1.5m5.5 0h1.5m8.5 0h1.5m-45.5 1h1.5m15.5 0h1.5m10.5 0h1.5m-0.5 0h1.5m7.5 0h1.5m1.5 0h1.5m1.5 0h1.5m-39.5 1h1.5m6.5 0h1.5m3.5 0h1.5m7.5 0h1.5m5.5 0h1.5m6.5 0h1.5m-0.5 0h1.5m-28.5 1h1.5m2.5 0h1.5m1.5 0h1.5m2.5 0h1.5m13.5 0h1.5m-0.5 0h1.5m-37.5 1h1.5m8.5 0h1.5m10.5 0h1.5m5.5 0h1.5m-0.5 0h1.5m0.5 0h1.5m1.5 0h1.5m-0.5 0h1.5m-38.5 1h1.5m8.5 0h1.5m1.5 0h1.5m1.5 0h1.5m-0.5 0h1.5m3.5 0h1.5m8.5 0h1.5m2.5 0h1.5m-0.5 0h1.5m-40.5 1h1.5m14.5 0h1.5m2.5 0h1.5m-0.5 0h1.5m14.5 0h1.5m-0.5 0h1.5m-0.5 0h1.5m-34.5 1h1.5m1.5 0h1.5m4.5 0h1.5m-0.5 0h1.5m-0.5 0h1.5m3.5 0h1.5m4.5 0h1.5m1.5 0h1.5m5.5 0h1.5m-0.5 0h1.5m-49.5 1h1.5m21.5 0h1.5m12.5 0h1.5m6.5 0h1.5m0.5 0h1.5m-0.5 0h1.5m-27.5 1h1.5m3.5 0h1.5m9.5 0h1.5m7.5 0h1.5m-56.5 1h1.5m15.5 0h1.5m1.5 0h1.5m4.5 0h1.5m27.5 0h1.5m-54.5 1h1.5m24.5 0h1.5m22.5 0h1.5m1.5 0h1.5m-0.5 0h1.5m-59.5 1h1.5m18.5 0h1.5m13.5 0h1.5m3.5 0h1.5m16.5 0h1.5m-45.5 1h1.5m13.5 0h1.5m6.5 0h1.5m4.5 0h1.5m12.5 0h1.5m-0.5 0h1.5m-50.5 1h1.5m0.5 0h1.5m40.5 0h1.5m2.5 0h1.5m-62.5 1h1.5m11.5 0h1.5m35.5 0h1.5m-24.5 1h1.5m32.5 0h1.5m-33.5 1h1.5m6.5 0h1.5m22.5 0h1.5m-0.5 0h1.5m-54.5 1h1.5m-0.5 0h1.5m4.5 0h1.5m24.5 0h1.5m2.5 0h1.5m0.5 0h1.5m12.5 0h1.5m-53.5 1h1.5m13.5 0h1.5m3.5 0h1.5m30.5 0h1.5m-39.5 1h1.5m35.5 0h1.5m-0.5 0h1.5m-31.5 1h1.5m0.5 0h1.5m26.5 0h1.5m-27.5 1h1.5m23.5 0h1.5m-0.5 0h1.5m-66.5 1h1.5m18.5 0h1.5m21.5 0h1.5m1.5 0h1.5m3.5 0h1.5m5.5 0h1.5m5.5 0h1.5m-63.5 1h1.5m29.5 0h1.5m3.5 0h1.5m-0.5 0h1.5m22.5 0h1.5m-71.5 1h1.5m4.5 0h1.5m7.5 0h1.5m13.5 0h1.5m-26.5 1h1.5m7.5 0h1.5m1.5 0h1.5m6.5 0h1.5m-0.5 0h1.5m34.5 0h1.5m1.5 0h1.5m4.5 0h1.5m-64.5 1h1.5m21.5 0h1.5m-0.5 0h1.5m0.5 0h1.5m6.5 0h1.5m8.5 0h1.5m16.5 0h1.5m-76.5 1h1.5m8.5 0h1.5m13.5 0h1.5m8.5 0h1.5m38.5 0h1.5m-49.5 1h1.5m-0.5 0h1.5m45.5 0h1.5m-0.5 0h1.5m-102.5 1h1.5m13.5 0h1.5m17.5 0h1.5m3.5 0h1.5m55.5 0h1.5m-63.5 1h1.5m12.5 0h1.5m51.5 0h1.5m-94.5 1h1.5m3.5 0h1.5m26.5 0h1.5m5.5 0h1.5m21.5 0h1.5m27.5 0h1.5m-78.5 1h1.5m9.5 0h1.5m4.5 0h1.5m2.5 0h1.5m-16.5 1h1.5m0.5 0h1.5m9.5 0h1.5m6.5 0h1.5m7.5 0h1.5m24.5 0h1.5m14.5 0h1.5m-68.5 1h1.5m7.5 0h1.5m4.5 0h1.5m-0.5 0h1.5m10.5 0h1.5m0.5 0h1.5m35.5 0h1.5m-90.5 1h1.5m4.5 0h1.5m32.5 0h1.5m1.5 0h1.5m4.5 0h1.5m16.5 0h1.5m16.5 0h1.5m1.5 0h1.5m-0.5 0h1.5m-84.5 1h1.5m0.5 0h1.5m6.5 0h1.5m7.5 0h1.5m19.5 0h1.5m41.5 0h1.5m-82.5 1h1.5m3.5 0h1.5m27.5 0h1.5m44.5 0h1.5m-59.5 1h1.5m19.5 0h1.5m9.5 0h1.5m7.5 0h1.5m-83.5 1h1.5m34.5 0h1.5m4.5 0h1.5m7.5 0h1.5m5.5 0h1.5m5.5 0h1.5m33.5 0h1.5m-101.5 1h1.5m8.5 0h1.5m10.5 0h1.5m6.5 0h1.5m3.5 0h1.5m21.5 0h1.5m18.5 0h1.5m8.5 0h1.5m9.5 0h1.5m-63.5 1h1.5m-0.5 0h1.5m35.5 0h1.5m23.5 0h1.5m-113.5 1h1.5m34.5 0h1.5m14.5 0h1.5m9.5 0h1.5m2.5 0h1.5m-28.5 1h1.5m14.5 0h1.5m6.5 0h1.5m1.5 0h1.5m-48.5 1h1.5m8.5 0h1.5m0.5 0h1.5m-0.5 0h1.5m0.5 0h1.5m2.5 0h1.5m-0.5 0h1.5m4.5 0h1.5m0.5 0h1.5m4.5 0h1.5m0.5 0h1.5m1.5 0h1.5m1.5 0h1.5m-36.5 1h1.5m30.5 0h1.5m10.5 0h1.5m38.5 0h1.5m-95.5 1h1.5m28.5 0h1.5m18.5 0h1.5m6.5 0h1.5m5.5 0h1.5m-35.5 1h1.5m14.5 0h1.5m13.5 0h1.5m15.5 0h1.5m-67.5 1h1.5m12.5 0h1.5m4.5 0h1.5m6.5 0h1.5m4.5 0h1.5m0.5 0h1.5m0.5 0h1.5m8.5 0h1.5m-52.5 1h1.5m9.5 0h1.5m-0.5 0h1.5m1.5 0h1.5m5.5 0h1.5m4.5 0h1.5m-0.5 0h1.5m-61.5 1h1.5m59.5 0h1.5m30.5 0h1.5m20.5 0h1.5m-77.5 1h1.5m20.5 0h1.5m-0.5 0h1.5m23.5 0h1.5m-82.5 1h1.5m17.5 0h1.5m3.5 0h1.5m10.5 0h1.5m8.5 0h1.5m-0.5 0h1.5m-0.5 0h1.5m3.5 0h1.5m0.5 0h1.5m0.5 0h1.5m-51.5 1h1.5m1.5 0h1.5m34.5 0h1.5m14.5 0h1.5m2.5 0h1.5m1.5 1h1.5m23.5 0h1.5m-75.5 1h1.5m4.5 0h1.5m3.5 0h1.5m2.5 0h1.5m12.5 0h1.5m18.5 0h1.5m-51.5 1h1.5m1.5 0h1.5m1.5 0h1.5m4.5 0h1.5m12.5 0h1.5m62.5 0h1.5m-86.5 1h1.5m2.5 0h1.5m-12.5 1h1.5m0.5 0h1.5m11.5 0h1.5m6.5 0h1.5m4.5 0h1.5m18.5 0h1.5m-38.5 1h1.5m23.5 0h1.5m-30.5 1h1.5m8.5 0h1.5m20.5 0h1.5m51.5 0h1.5m-96.5 1h1.5m8.5 0h1.5m4.5 0h1.5m22.5 0h1.5m13.5 0h1.5m37.5 0h1.5m-65.5 1h1.5m7.5 0h1.5m-58.5 1h1.5m15.5 0h1.5m4.5 0h1.5m-0.5 0h1.5m7.5 0h1.5m4.5 0h1.5m-32.5 1h1.5m-0.5 0h1.5m12.5 0h1.5m-0.5 0h1.5m4.5 0h1.5m1.5 0h1.5m17.5 0h1.5m2.5 0h1.5m55.5 0h1.5m-88.5 1h1.5m13.5 0h1.5m0.5 0h1.5m0.5 0h1.5m-18.5 1h1.5m0.5 1h1.5m2.5 0h1.5m1.5 0h1.5m10.5 0h1.5m-31.5 1h1.5m26.5 0h1.5m2.5 0h1.5m-35.5 1h1.5m4.5 0h1.5m28.5 0h1.5m-25.5 1h1.5m10.5 0h1.5m13.5 2h1.5m0.5 0h1.5m-18.5 1h1.5m-0.5 0h1.5m3.5 0h1.5m-18.5 2h1.5m5.5 1h1.5m-0.5 0h1.5m1.5 0h1.5m13.5 0h1.5m-1.5 1h1.5m55.5 0h1.5m-108.5 1h1.5m0.5 0h1.5m38.5 0h1.5m-43.5 1h1.5m17.5 0h1.5m29.5 0h1.5m-30.5 1h1.5m-25.5 1h1.5m76.5 0h1.5m-62.5 1h1.5m57.5 0h1.5m3.5 0h1.5m-78.5 2h1.5m2.5 0h1.5m40.5 0h1.5m-61.5 1h1.5m7.5 0h1.5m14.5 0h1.5m-22.5 3h1.5m21.5 0h1.5m20.5 1h1.5m-32.5 1h1.5m7.5 2h1.5m-50.5 1h1.5m99.5 1h1.5m-72.5 5h1.5m-1.5 3h1.5m-9.5 3h1.5m-7.5 1h1.5m19.5 10h1.5" stroke="#b4ff00" stroke-width="1.5" fill="none"/>
<path d="M554 751h1.5m-37.5 6h1.5m34.5 7h1.5m-1.5 2h1.5m-0.5 2h1.5m-2.5 2h1.5m-1.5 3h1.5m-18.5 1h1.5m16.5 0h1.5m-1.5 1h1.5m-30.5 1h1.5m11.5 0h1.5m-12.5 1h1.5m2.5 1h1.5m20.5 0h1.5m-1.5 2h1.5m-8.5 1h1.5m2.5 2h1.5m1.5 0h1.5m-0.5 0h1.5m-25.5 1h1.5m14.5 0h1.5m4.5 0h1.5m-0.5 1h1.5m-0.5 0h1.5m-24.5 1h1.5m15.5 1h1.5m-17.5 1h1.5m-1.5 1h1.5m19.5 0h1.5m-6.5 1h1.5m4.5 0h1.5m-1.5 2h1.5m-18.5 1h1.5m14.5 0h1.5m-1.5 1h1.5m-30.5 1h1.5m-0.5 0h1.5m26.5 0h1.5m-0.5 0h1.5m-2.5 1h1.5m-0.5 0h1.5m-27.5 1h1.5m4.5 0h1.5m17.5 0h1.5m-0.5 0h1.5m-39.5 1h1.5m36.5 0h1.5m-11.5 2h1.5m7.5 0h1.5m-0.5 0h1.5m-15.5 1h1.5m-54.5 1h1.5m26.5 0h1.5m35.5 1h1.5m-25.5 1h1.5m23.5 0h1.5m-0.5 0h1.5m-39.5 1h1.5m36.5 1h1.5m-36.5 1h1.5m7.5 0h1.5m4.5 0h1.5m18.5 0h1.5m-42.5 1h1.5m36.5 0h1.5m0.5 0h1.5m-1.5 1h1.5m-33.5 1h1.5m6.5 0h1.5m19.5 0h1.5m1.5 0h1.5m-0.5 0h1.5m-23.5 1h1.5m-35.5 2h1.5m24.5 0h1.5m15.5 0h1.5m10.5 0h1.5m-1.5 2h1.5m-30.5 1h1.5m27.5 1h1.5m-0.5 0h1.5m-31.5 1h1.5m5.5 0h1.5m20.5 1h1.5m-12.5 2h1.5m9.5 0h1.5m-0.5 3h1.5m-45.5 1h1.5m12.5 1h1.5m1.5 0h1.5m-26.5 1h1.5m20.5 0h1.5m-20.5 3h1.5m-13.5 1h1.5m24.5 0h1.5m32.5 0h1.5m-45.5 1h1.5m-1.5 1h1.5m-12.5 1h1.5m-15.5 1h1.5m67.5 0h1.5m-65.5 1h1.5m20.5 0h1.5m40.5 1h1.5m-48.5 1h1.5m15.5 0h1.5m-28.5 1h1.5m-8.5 1h1.5m6.5 0h1.5m4.5 1h1.5m49.5 0h1.5m-65.5 2h1.5m62.5 1h1.5m-34.5 1h1.5m-19.5 2h1.5m-2.5 1h1.5m50.5 1h1.5m-17.5 1h1.5m-78.5 1h1.5m0.5 1h1.5m4.5 0h1.5m4.5 0h1.5m20.5 0h1.5m-7.5 1h1.5m7.5 0h1.5m8.5 0h1.5m13.5 1h1.5m-68.5 1h1.5m93.5 1h1.5m-47.5 1h1.5m-39.5 1h1.5m-6.5 1h1.5m0.5 1h1.5m11.5 0h1.5m73.5 1h1.5m-76.5 1h1.5m5.5 0h1.5m-19.5 2h1.5m19.5 1h1.5m-32.5 1h1.5m2.5 2h1.5m7.5 0h1.5m8.5 0h1.5m-18.5 2h1.5m-4.5 8h1.5m25.5 2h1.5m-15.5 4h1.5m-35.5 3h1.5m43.5 3h1.5m-14.5 3h1.5m-52.5 4h1.5" stroke="#ff0000" stroke-width="1.5" fill="none"/>
<path d="M318 784h1.8m-1.8 4h1.8m-1.8 2h1.8m-1.8 12h1.8m-1.8 6h1.8m-1.8 2h1.8m-1.8 8h1.8m-1.8 2h1.8m-1.8 2h1.8m-1.8 6h1.8m-1.8 2h1.8m-1.8 6h1.8m-1.8 8h1.8m-1.8 6h1.8m-1.8 2h1.8m-1.8 2h1.8m-1.8 6h1.8m-1.8 2h1.8m-1.8 2h1.8m-1.8 2h1.8m-1.8 4h1.8m-1.8 2h1.8m-1.8 2h1.8m-1.8 8h1.8m-1.8 6h1.8m-1.8 2h1.8m-1.8 2h1.8m-1.8 2h1.8m-1.8 4h1.8" stroke="#0000ff" stroke-width="2.0" fill="none"/>
<path d="M318 794h1.8m-1.8 12h1.8m-1.8 28h1.8m-1.8 14h1.8m-1.8 10h1.8m-1.8 22h1.8m-1.8 16h1.8" stroke="#b4ff00" stroke-width="2.0" fill="none"/>
<path d="M318 792h1.8m-1.8 20h1.8m-1.8 26h1.8m-1.8 2h1.8m-1.8 44h1.8m-1.8 20h1.8" stroke="#ffff00" stroke-width="2.0" fill="none"/>
<path d="M318 786h1.8m-1.8 10h1.8m-1.8 2h1.8m-1.8 6h1.8m-1.8 20h1.8m-1.8 8h1.8m-1.8 10h1.8m-1.8 4h1.8m-1.8 10h1.8m-1.8 12h1.8m-1.8 8h1.8m-1.8 2h1.8m-1.8 22h1.8m-1.8 2h1.8m-1.8 4h1.8" stroke="#ff0000" stroke-width="2.0" fill="none"/>
<path d="M761 707h1.5m30.5 2h1.5m-56.5 2h1.5m39.5 3h1.5m-8.5 1h1.5m-44.5 2h1.5m83.5 3h1.5m-64.5 5h1.5m38.5 0h1.5m-49.5 1h1.5m5.5 1h1.5m18.5 0h1.5m6.5 1h1.5m2.5 0h1.5m-26.5 1h1.5m33.5 0h1.5m27.5 3h1.5m-57.5 1h1.5m36.5 4h1.5m12.5 0h1.5m-33.5 1h1.5m-53.5 1h1.5m57.5 0h1.5m14.5 0h1.5m11.5 0h1.5m-50.5 1h1.5m1.5 0h1.5m8.5 0h1.5m0.5 0h1.5m5.5 0h1.5m-39.5 1h1.5m5.5 0h1.5m-0.5 0h1.5m44.5 0h1.5m-92.5 1h1.5m61.5 0h1.5m20.5 0h1.5m-41.5 1h1.5m30.5 0h1.5m13.5 0h1.5m6.5 1h1.5m-48.5 1h1.5m3.5 0h1.5m8.5 0h1.5m-0.5 1h1.5m16.5 0h1.5m5.5 0h1.5m-54.5 1h1.5m-0.5 0h1.5m3.5 0h1.5m7.5 0h1.5m29.5 0h1.5m2.5 0h1.5m-100.5 1h1.5m63.5 0h1.5m11.5 0h1.5m8.5 0h1.5m5.5 0h1.5m-39.5 1h1.5m13.5 0h1.5m10.5 0h1.5m-0.5 0h1.5m1.5 0h1.5m-20.5 1h1.5m2.5 0h1.5m0.5 0h1.5m1.5 0h1.5m3.5 0h1.5m-0.5 0h1.5m1.5 0h1.5m10.5 0h1.5m0.5 0h1.5m-81.5 1h1.5m29.5 0h1.5m-0.5 0h1.5m3.5 0h1.5m11.5 0h1.5m-62.5 1h1.5m-0.5 0h1.5m16.5 0h1.5m21.5 0h1.5m19.5 0h1.5m12.5 0h1.5m20.5 0h1.5m-59.5 1h1.5m20.5 0h1.5m0.5 0h1.5m4.5 0h1.5m-45.5 1h1.5m32.5 0h1.5m30.5 0h1.5m-37.5 1h1.5m7.5 0h1.5m4.5 0h1.5m24.5 0h1.5m-85.5 1h1.5m27.5 0h1.5m13.5 0h1.5m2.5 0h1.5m-0.5 0h1.5m7.5 0h1.5m9.5 0h1.5m8.5 0h1.5m-91.5 1h1.5m44.5 0h1.5m8.5 0h1.5m0.5 0h1.5m5.5 0h1.5m5.5 0h1.5m14.5 0h1.5m6.5 0h1.5m-57.5 1h1.5m11.5 0h1.5m3.5 0h1.5m7.5 0h1.5m7.5 0h1.5m-48.5 1h1.5m10.5 0h1.5m0.5 0h1.5m10.5 0h1.5m0.5 0h1.5m6.5 0h1.5m2.5 0h1.5m2.5 0h1.5m0.5 0h1.5m-0.5 0h1.5m-0.5 0h1.5m17.5 0h1.5m-107.5 1h1.5m31.5 0h1.5m1.5 0h1.5m0.5 0h1.5m12.5 0h1.5m12.5 0h1.5m10.5 0h1.5m0.5 0h1.5m3.5 0h1.5m2.5 0h1.5m1.5 0h1.5m-87.5 1h1.5m5.5 0h1.5m19.5 0h1.5m-0.5 0h1.5m2.5 0h1.5m2.5 0h1.5m1.5 0h1.5m2.5 0h1.5m5.5 0h1.5m2.5 0h1.5m2.5 0h1.5m2.5 0h1.5m9.5 0h1.5m4.5 0h1.5m3.5 0h1.5m-68.5 1h1.5m25.5 0h1.5m16.5 0h1.5m3.5 0h1.5m-0.5 0h1.5m3.5 0h1.5m5.5 0h1.5m2.5 0h1.5m7.5 0h1.5m-70.5 1h1.5m27.5 0h1.5m1.5 0h1.5m5.5 0h1.5m5.5 0h1.5m0.5 0h1.5m-0.5 0h1.5m1.5 0h1.5m2.5 0h1.5m3.5 0h1.5m2.5 0h1.5m0.5 0h1.5m-133.5 1h1.5m59.5 0h1.5m1.5 0h1.5m0.5 0h1.5m3.5 0h1.5m2.5 0h1.5m0.5 0h1.5m2.5 0h1.5m5.5 0h1.5m-0.5 0h1.5m14.5 0h1.5m2.5 0h1.5m0.5 0h1.5m-0.5 0h1.5m4.5 0h1.5m7.5 0h1.5m10.5 0h1.5m0.5 0h1.5m-103.5 1h1.5m30.5 0h1.5m-0.5 0h1.5m16.5 0h1.5m0.5 0h1.5m1.5 0h1.5m14.5 0h1.5m4.5 0h1.5m4.5 0h1.5m1.5 0h1.5m-0.5 0h1.5m6.5 0h1.5m1.5 0h1.5m-97.5 1h1.5m13.5 0h1.5m14.5 0h1.5m9.5 0h1.5m1.5 0h1.5m9.5 0h1.5m8.5 0h1.5m4.5 0h1.5m2.5 0h1.5m1.5 0h1.5m13.5 0h1.5m-0.5 0h1.5m2.5 0h1.5m-101.5 1h1.5m19.5 0h1.5m10.5 0h1.5m1.5 0h1.5m-0.5 0h1.5m3.5 0h1.5m19.5 0h1.5m8.5 0h1.5m6.5 0h1.5m-0.5 0h1.5m4.5 0h1.5m-0.5 0h1.5m-0.5 0h1.5m-57.5 1h1.5m8.5 0h1.5m5.5 0h1.5m2.5 0h1.5m0.5 0h1.5m0.5 0h1.5m0.5 0h1.5m1.5 0h1.5m-0.5 0h1.5m-0.5 0h1.5m7.5 0h1.5m2.5 0h1.5m2.5 0h1.5m5.5 0h1.5m-0.5 0h1.5m-0.5 0h1.5m0.5 0h1.5m4.5 0h1.5m-98.5 1h1.5m5.5 0h1.5m14.5 0h1.5m5.5 0h1.5m5.5 0h1.5m3.5 0h1.5m1.5 0h1.5m4.5 0h1.5m6.5 0h1.5m0.5 0h1.5m-0.5 0h1.5m2.5 0h1.5m6.5 0h1.5m1.5 0h1.5m0.5 0h1.5m2.5 0h1.5m12.5 0h1.5m-98.5 1h1.5m9.5 0h1.5m-0.5 0h1.5m0.5 0h1.5m7.5 0h1.5m0.5 0h1.5m20.5 0h1.5m13.5 0h1.5m2.5 0h1.5m1.5 0h1.5m0.5 0h1.5m1.5 0h1.5m2.5 0h1.5m7.5 0h1.5m-0.5 0h1.5m2.5 0h1.5m1.5 0h1.5m-92.5 1h1.5m9.5 0h1.5m5.5 0h1.5m12.5 0h1.5m-0.5 0h1.5m2.5 0h1.5m4.5 0h1.5m8.5 0h1.5m-0.5 0h1.5m3.5 0h1.5m1.5 0h1.5m-0.5 0h1.5m-0.5 0h1.5m-0.5 0h1.5m1.5 0h1.5m7.5 0h1.5m1.5 0h1.5m-0.5 0h1.5m0.5 0h1.5m0.5 0h1.5m3.5 0h1.5m-0.5 0h1.5m-99.5 1h1.5m7.5 0h1.5m30.5 0h1.5m0.5 0h1.5m-0.5 0h1.5m2.5 0h1.5m11.5 0h1.5m-0.5 0h1.5m3.5 0h1.5m0.5 0h1.5m3.5 0h1.5m0.5 0h1.5m2.5 0h1.5m6.5 0h1.5m3.5 0h1.5m-83.5 1h1.5m18.5 0h1.5m3.5 0h1.5m0.5 0h1.5m0.5 0h1.5m7.5 0h1.5m0.5 0h1.5m3.5 0h1.5m0.5 0h1.5m-0.5 0h1.5m4.5 0h1.5m-0.5 0h1.5m1.5 0h1.5m-0.5 0h1.5m-0.5 0h1.5m-0.5 0h1.5m2.5 0h1.5m0.5 0h1.5m-0.5 0h1.5m0.5 0h1.5m4.5 0h1.5m-0.5 0h1.5m0.5 0h1.5m-0.5 0h1.5m-103.5 1h1.5m40.5 0h1.5m5.5 0h1.5m1.5 0h1.5m0.5 0h1.5m2.5 0h1.5m15.5 0h1.5m0.5 0h1.5m9.5 0h1.5m6.5 0h1.5m8.5 0h1.5m2.5 0h1.5m-115.5 1h1.5m25.5 0h1.5m13.5 0h1.5m3.5 0h1.5m1.5 0h1.5m0.5 0h1.5m-0.5 0h1.5m7.5 0h1.5m7.5 0h1.5m14.5 0h1.5m1.5 0h1.5m1.5 0h1.5m-0.5 0h1.5m6.5 0h1.5m4.5 0h1.5m-0.5 0h1.5m4.5 0h1.5m-90.5 1h1.5m-0.5 0h1.5m3.5 0h1.5m2.5 0h1.5m10.5 0h1.5m-0.5 0h1.5m5.5 0h1.5m1.5 0h1.5m3.5 0h1.5m2.5 0h1.5m10.5 0h1.5m7.5 0h1.5m2.5 0h1.5m1.5 0h1.5m1.5 0h1.5m1.5 0h1.5m8.5 0h1.5m1.5 0h1.5m-136.5 1h1.5m54.5 0h1.5m-0.5 0h1.5m5.5 0h1.5m2.5 0h1.5m0.5 0h1.5m10.5 0h1.5m0.5 0h1.5m3.5 0h1.5m0.5 0h1.5m3.5 0h1.5m3.5 0h1.5m2.5 0h1.5m4.5 0h1.5m-0.5 0h1.5m4.5 0h1.5m0.5 0h1.5m2.5 0h1.5m-0.5 0h1.5m0.5 0h1.5m-79.5 1h1.5m0.5 0h1.5m-0.5 0h1.5m2.5 0h1.5m11.5 0h1.5m0.5 0h1.5m0.5 0h1.5m5.5 0h1.5m1.5 0h1.5m5.5 0h1.5m1.5 0h1.5m0.5 0h1.5m2.5 0h1.5m0.5 0h1.5m6.5 0h1.5m0.5 0h1.5m0.5 0h1.5m1.5 0h1.5m-0.5 0h1.5m0.5 0h1.5m-0.5 0h1.5m3.5 0h1.5m1.5 0h1.5m-0.5 0h1.5m-97.5 1h1.5m24.5 0h1.5m0.5 0h1.5m6.5 0h1.5m11.5 0h1.5m1.5 0h1.5m1.5 0h1.5m2.5 0h1.5m0.5 0h1.5m2.5 0h1.5m3.5 0h1.5m6.5 0h1.5m-0.5 0h1.5m0.5 0h1.5m1.5 0h1.5m0.5 0h1.5m3.5 0h1.5m0.5 0h1.5m1.5 0h1.5m-0.5 0h1.5m-114.5 1h1.5m16.5 0h1.5m24.5 0h1.5m-0.5 0h1.5m4.5 0h1.5m7.5 0h1.5m2.5 0h1.5m-0.5 0h1.5m3.5 0h1.5m2.5 0h1.5m-0.5 0h1.5m3.5 0h1.5m6.5 0h1.5m0.5 0h1.5m0.5 0h1.5m-0.5 0h1.5m1.5 0h1.5m1.5 0h1.5m12.5 0h1.5m1.5 0h1.5m-0.5 0h1.5m-0.5 0h1.5m-114.5 1h1.5m30.5 0h1.5m0.5 0h1.5m2.5 0h1.5m2.5 0h1.5m0.5 0h1.5m1.5 0h1.5m0.5 0h1.5m5.5 0h1.5m0.5 0h1.5m0.5 0h1.5m-0.5 0h1.5m2.5 0h1.5m3.5 0h1.5m0.5 0h1.5m1.5 0h1.5m3.5 0h1.5m0.5 0h1.5m-0.5 0h1.5m-0.5 0h1.5m0.5 0h1.5m-0.5 0h1.5m-0.5 0h1.5m0.5 0h1.5m1.5 0h1.5m-0.5 0h1.5m-0.5 0h1.5m-0.5 0h1.5m-69.5 1h1.5m2.5 0h1.5m-0.5 0h1.5m5.5 0h1.5m1.5 0h1.5m5.5 0h1.5m8.5 0h1.5m2.5 0h1.5m-0.5 0h1.5m4.5 0h1.5m3.5 0h1.5m1.5 0h1.5m1.5 0h1.5m5.5 0h1.5m1.5 0h1.5m-0.5 0h1.5m1.5 0h1.5m-0.5 0h1.5m2.5 0h1.5m-0.5 0h1.5m0.5 0h1.5m3.5 0h1.5m-86.5 1h1.5m6.5 0h1.5m0.5 0h1.5m9.5 0h1.5m1.5 0h1.5m-0.5 0h1.5m4.5 0h1.5m7.5 0h1.5m2.5 0h1.5m-0.5 0h1.5m2.5 0h1.5m1.5 0h1.5m-0.5 0h1.5m1.5 0h1.5m3.5 0h1.5m3.5 0h1.5m3.5 0h1.5m-0.5 0h1.5m-0.5 0h1.5m2.5 0h1.5m-0.5 0h1.5m0.5 0h1.5m0.5 0h1.5m-0.5 0h1.5m3.5 0h1.5m-101.5 1h1.5m8.5 0h1.5m1.5 0h1.5m6.5 0h1.5m-0.5 0h1.5m7.5 0h1.5m2.5 0h1.5m9.5 0h1.5m4.5 0h1.5m-0.5 0h1.5m0.5 0h1.5m0.5 0h1.5m0.5 0h1.5m1.5 0h1.5m0.5 0h1.5m-0.5 0h1.5m2.5 0h1.5m2.5 0h1.5m1.5 0h1.5m2.5 0h1.5m-0.5 0h1.5m-0.5 0h1.5m2.5 0h1.5m-0.5 0h1.5m-0.5 0h1.5m-0.5 0h1.5m3.5 0h1.5m-111.5 1h1.5m6.5 0h1.5m2.5 0h1.5m21.5 0h1.5m4.5 0h1.5m5.5 0h1.5m2.5 0h1.5m-0.5 0h1.5m7.5 0h1.5m0.5 0h1.5m4.5 0h1.5m1.5 0h1.5m2.5 0h1.5m0.5 0h1.5m-0.5 0h1.5m-0.5 0h1.5m-0.5 0h1.5m0.5 0h1.5m0.5 0h1.5m-0.5 0h1.5m3.5 0h1.5m-0.5 0h1.5m3.5 0h1.5m5.5 0h1.5m-0.5 0h1.5m-0.5 0h1.5m1.5 0h1.5m1.5 0h1.5m0.5 0h1.5m-87.5 1h1.5m1.5 0h1.5m7.5 0h1.5m0.5 0h1.5m-0.5 0h1.5m6.5 0h1.5m3.5 0h1.5m0.5 0h1.5m2.5 0h1.5m-0.5 0h1.5m6.5 0h1.5m-0.5 0h1.5m1.5 0h1.5m-0.5 0h1.5m0.5 0h1.5m-0.5 0h1.5m0.5 0h1.5m2.5 0h1.5m1.5 0h1.5m-0.5 0h1.5m6.5 0h1.5m0.5 0h1.5m0.5 0h1.5m0.5 0h1.5m7.5 0h1.5m1.5 0h1.5m-0.5 0h1.5m-143.5 1h1.5m24.5 0h1.5m16.5 0h1.5m9.5 0h1.5m3.5 0h1.5m1.5 0h1.5m7.5 0h1.5m7.5 0h1.5m-0.5 0h1.5m6.5 0h1.5m1.5 0h1.5m0.5 0h1.5m-0.5 0h1.5m0.5 0h1.5m0.5 0h1.5m-0.5 0h1.5m2.5 0h1.5m2.5 0h1.5m-0.5 0h1.5m-0.5 0h1.5m-0.5 0h1.5m-0.5 0h1.5m4.5 0h1.5m-0.5 0h1.5m1.5 0h1.5m2.5 0h1.5m-0.5 0h1.5m1.5 0h1.5m1.5 0h1.5m1.5 0h1.5m-116.5 1h1.5m12.5 0h1.5m13.5 0h1.5m1.5 0h1.5m-0.5 0h1.5m3.5 0h1.5m1.5 0h1.5m21.5 0h1.5m20.5 0h1.5m0.5 0h1.5m0.5 0h1.5m1.5 0h1.5m0.5 0h1.5m0.5 0h1.5m12.5 0h1.5m2.5 0h1.5m0.5 0h1.5m-81.5 1h1.5m21.5 0h1.5m1.5 0h1.5m9.5 0h1.5m7.5 0h1.5m-0.5 0h1.5m0.5 0h1.5m-0.5 0h1.5m1.5 0h1.5m-0.5 0h1.5m-0.5 0h1.5m1.5 0h1.5m0.5 0h1.5m0.5 0h1.5m-0.5 0h1.5m0.5 0h1.5m-0.5 0h1.5m-0.5 0h1.5m4.5 0h1.5m1.5 0h1.5m2.5 0h1.5m-171.5 1h1.5m45.5 0h1.5m22.5 0h1.5m5.5 0h1.5m5.5 0h1.5m19.5 0h1.5m-0.5 0h1.5m2.5 0h1.5m4.5 0h1.5m1.5 0h1.5m-0.5 0h1.5m1.5 0h1.5m0.5 0h1.5m0.5 0h1.5m0.5 0h1.5m-0.5 0h1.5m-0.5 0h1.5m-0.5 0h1.5m-0.5 0h1.5m-0.5 0h1.5m0.5 0h1.5m-0.5 0h1.5m1.5 0h1.5m-0.5 0h1.5m2.5 0h1.5m-0.5 0h1.5m-0.5 0h1.5m3.5 0h1.5m9.5 0h1.5m2.5 0h1.5m-100.5 1h1.5m9.5 0h1.5m1.5 0h1.5m-0.5 0h1.5m6.5 0h1.5m3.5 0h1.5m0.5 0h1.5m4.5 0h1.5m3.5 0h1.5m1.5 0h1.5m2.5 0h1.5m0.5 0h1.5m0.5 0h1.5m0.5 0h1.5m0.5 0h1.5m3.5 0h1.5m2.5 0h1.5m0.5 0h1.5m1.5 0h1.5m2.5 0h1.5m0.5 0h1.5m5.5 0h1.5m-0.5 0h1.5m-0.5 0h1.5m3.5 0h1.5m1.5 0h1.5m-0.5 0h1.5m0.5 0h1.5m-0.5 0h1.5m3.5 0h1.5m-0.5 0h1.5m-0.5 0h1.5m-116.5 1h1.5m10.5 0h1.5m5.5 0h1.5m0.5 0h1.5m9.5 0h1.5m1.5 0h1.5m-0.5 0h1.5m1.5 0h1.5m-0.5 0h1.5m0.5 0h1.5m4.5 0h1.5m-0.5 0h1.5m9.5 0h1.5m6.5 0h1.5m0.5 0h1.5m2.5 0h1.5m-0.5 0h1.5m1.5 0h1.5m0.5 0h1.5m3.5 0h1.5m-0.5 0h1.5m0.5 0h1.5m1.5 0h1.5m2.5 0h1.5m1.5 0h1.5m1.5 0h1.5m0.5 0h1.5m-0.5 0h1.5m1.5 0h1.5m-0.5 0h1.5m3.5 0h1.5m-83.5 1h1.5m6.5 0h1.5m1.5 0h1.5m2.5 0h1.5m4.5 0h1.5m2.5 0h1.5m-0.5 0h1.5m5.5 0h1.5m-0.5 0h1.5m0.5 0h1.5m3.5 0h1.5m3.5 0h1.5m0.5 0h1.5m10.5 0h1.5m-0.5 0h1.5m-0.5 0h1.5m-0.5 0h1.5m0.5 0h1.5m-0.5 0h1.5m3.5 0h1.5m-0.5 0h1.5m-0.5 0h1.5m2.5 0h1.5m-103.5 1h1.5m12.5 0h1.5m5.5 0h1.5m9.5 0h1.5m2.5 0h1.5m2.5 0h1.5m0.5 0h1.5m1.5 0h1.5m1.5 0h1.5m3.5 0h1.5m4.5 0h1.5m2.5 0h1.5m-0.5 0h1.5m-0.5 0h1.5m1.5 0h1.5m4.5 0h1.5m-0.5 0h1.5m3.5 0h1.5m-0.5 0h1.5m2.5 0h1.5m0.5 0h1.5m0.5 0h1.5m1.5 0h1.5m-0.5 0h1.5m-0.5 0h1.5m1.5 0h1.5m0.5 0h1.5m-0.5 0h1.5m0.5 0h1.5m1.5 0h1.5m1.5 0h1.5m-131.5 1h1.5m31.5 0h1.5m0.5 0h1.5m2.5 0h1.5m0.5 0h1.5m0.5 0h1.5m5.5 0h1.5m-0.5 0h1.5m-0.5 0h1.5m-0.5 0h1.5m3.5 0h1.5m0.5 0h1.5m1.5 0h1.5m0.5 0h1.5m-0.5 0h1.5m2.5 0h1.5m-0.5 0h1.5m5.5 0h1.5m-0.5 0h1.5m-0.5 0h1.5m5.5 0h1.5m0.5 0h1.5m-0.5 0h1.5m1.5 0h1.5m0.5 0h1.5m-0.5 0h1.5m2.5 0h1.5m0.5 0h1.5m-0.5 0h1.5m1.5 0h1.5m-0.5 0h1.5m2.5 0h1.5m-0.5 0h1.5m1.5 0h1.5m1.5 0h1.5m-0.5 0h1.5m5.5 0h1.5m-105.5 1h1.5m0.5 0h1.5m6.5 0h1.5m1.5 0h1.5m1.5 0h1.5m3.5 0h1.5m-0.5 0h1.5m-0.5 0h1.5m0.5 0h1.5m1.5 0h1.5m1.5 0h1.5m2.5 0h1.5m-0.5 0h1.5m2.5 0h1.5m2.5 0h1.5m1.5 0h1.5m-0.5 0h1.5m-0.5 0h1.5m11.5 0h1.5m0.5 0h1.5m1.5 0h1.5m0.5 0h1.5m-0.5 0h1.5m4.5 0h1.5m0.5 0h1.5m2.5 0h1.5m0.5 0h1.5m0.5 0h1.5m0.5 0h1.5m3.5 0h1.5m1.5 0h1.5m-0.5 0h1.5m0.5 0h1.5m-0.5 0h1.5m6.5 0h1.5m-118.5 1h1.5m-0.5 0h1.5m4.5 0h1.5m1.5 0h1.5m-0.5 0h1.5m2.5 0h1.5m-0.5 0h1.5m1.5 0h1.5m2.5 0h1.5m17.5 0h1.5m0.5 0h1.5m0.5 0h1.5m0.5 0h1.5m-0.5 0h1.5m7.5 0h1.5m0.5 0h1.5m4.5 0h1.5m-0.5 0h1.5m-0.5 0h1.5m8.5 0h1.5m-0.5 0h1.5m-0.5 0h1.5m0.5 0h1.5m0.5 0h1.5m-0.5 0h1.5m1.5 0h1.5m1.5 0h1.5m-0.5 0h1.5m1.5 0h1.5m-0.5 0h1.5m3.5 0h1.5m13.5 0h1.5m-138.5 1h1.5m40.5 0h1.5m0.5 0h1.5m2.5 0h1.5m5.5 0h1.5m1.5 0h1.5m11.5 0h1.5m0.5 0h1.5m2.5 0h1.5m4.5 0h1.5m0.5 0h1.5m-0.5 0h1.5m0.5 0h1.5m2.5 0h1.5m0.5 0h1.5m-0.5 0h1.5m-0.5 0h1.5m1.5 0h1.5m0.5 0h1.5m-0.5 0h1.5m-0.5 0h1.5m-0.5 0h1.5m4.5 0h1.5m0.5 0h1.5m-0.5 0h1.5m1.5 0h1.5m0.5 0h1.5m1.5 0h1.5m-0.5 0h1.5m-0.5 0h1.5m3.5 0h1.5m-0.5 0h1.5m2.5 0h1.5m-0.5 0h1.5m-110.5 1h1.5m7.5 0h1.5m6.5 0h1.5m7.5 0h1.5m11.5 0h1.5m-0.5 0h1.5m-0.5 0h1.5m4.5 0h1.5m0.5 0h1.5m0.5 0h1.5m1.5 0h1.5m-0.5 0h1.5m0.5 0h1.5m-0.5 0h1.5m-0.5 0h1.5m3.5 0h1.5m1.5 0h1.5m0.5 0h1.5m0.5 0h1.5m0.5 0h1.5m0.5 0h1.5m0.5 0h1.5m0.5 0h1.5m-0.5 0h1.5m-0.5 0h1.5m0.5 0h1.5m0.5 0h1.5m4.5 0h1.5m3.5 0h1.5m10.5 0h1.5m-128.5 1h1.5m18.5 0h1.5m2.5 0h1.5m4.5 0h1.5m3.5 0h1.5m1.5 0h1.5m10.5 0h1.5m-0.5 0h1.5m0.5 0h1.5m-0.5 0h1.5m4.5 0h1.5m3.5 0h1.5m3.5 0h1.5m0.5 0h1.5m8.5 0h1.5m0.5 0h1.5m1.5 0h1.5m4.5 0h1.5m3.5 0h1.5m1.5 0h1.5m-0.5 0h1.5m0.5 0h1.5m-0.5 0h1.5m1.5 0h1.5m-0.5 0h1.5m0.5 0h1.5m-0.5 0h1.5m0.5 0h1.5m3.5 0h1.5m-0.5 0h1.5m0.5 0h1.5m-0.5 0h1.5m2.5 0h1.5m3.5 0h1.5m-119.5 1h1.5m-0.5 0h1.5m10.5 0h1.5m5.5 0h1.5m11.5 0h1.5m-0.5 0h1.5m2.5 0h1.5m4.5 0h1.5m2.5 0h1.5m5.5 0h1.5m-0.5 0h1.5m1.5 0h1.5m-0.5 0h1.5m-0.5 0h1.5m4.5 0h1.5m-0.5 0h1.5m3.5 0h1.5m1.5 0h1.5m0.5 0h1.5m3.5 0h1.5m3.5 0h1.5m1.5 0h1.5m-0.5 0h1.5m-0.5 0h1.5m-0.5 0h1.5m2.5 0h1.5m1.5 0h1.5m1.5 0h1.5m-0.5 0h1.5m-0.5 0h1.5m5.5 0h1.5m-94.5 1h1.5m4.5 0h1.5m5.5 0h1.5m2.5 0h1.5m-0.5 0h1.5m0.5 0h1.5m1.5 0h1.5m3.5 0h1.5m7.5 0h1.5m1.5 0h1.5m2.5 0h1.5m-0.5 0h1.5m1.5 0h1.5m-0.5 0h1.5m-0.5 0h1.5m3.5 0h1.5m0.5 0h1.5m-0.5 0h1.5m-0.5 0h1.5m-0.5 0h1.5m-0.5 0h1.5m0.5 0h1.5m2.5 0h1.5m-0.5 0h1.5m6.5 0h1.5m2.5 0h1.5m0.5 0h1.5m0.5 0h1.5m6.5 0h1.5m1.5 0h1.5m-144.5 1h1.5m9.5 0h1.5m15.5 0h1.5m4.5 0h1.5m1.5 0h1.5m6.5 0h1.5m6.5 0h1.5m0.5 0h1.5m0.5 0h1.5m2.5 0h1.5m-0.5 0h1.5m-0.5 0h1.5m-0.5 0h1.5m4.5 0h1.5m4.5 0h1.5m-0.5 0h1.5m-0.5 0h1.5m3.5 0h1.5m0.5 0h1.5m14.5 0h1.5m0.5 0h1.5m-0.5 0h1.5m0.5 0h1.5m-0.5 0h1.5m12.5 0h1.5m3.5 0h1.5m-0.5 0h1.5m-0.5 0h1.5m0.5 0h1.5m2.5 0h1.5m2.5 0h1.5m7.5 0h1.5m-119.5 1h1.5m2.5 0h1.5m10.5 0h1.5m4.5 0h1.5m5.5 0h1.5m0.5 0h1.5m3.5 0h1.5m9.5 0h1.5m0.5 0h1.5m3.5 0h1.5m0.5 0h1.5m5.5 0h1.5m1.5 0h1.5m2.5 0h1.5m4.5 0h1.5m5.5 0h1.5m-0.5 0h1.5m-0.5 0h1.5m1.5 0h1.5m5.5 0h1.5m-0.5 0h1.5m1.5 0h1.5m1.5 0h1.5m1.5 0h1.5m3.5 0h1.5m2.5 0h1.5m0.5 0h1.5m-125.5 1h1.5m1.5 0h1.5m7.5 0h1.5m20.5 0h1.5m0.5 0h1.5m-0.5 0h1.5m3.5 0h1.5m1.5 0h1.5m4.5 0h1.5m0.5 0h1.5m1.5 0h1.5m1.5 0h1.5m5.5 0h1.5m2.5 0h1.5m0.5 0h1.5m-0.5 0h1.5m1.5 0h1.5m-0.5 0h1.5m2.5 0h1.5m-0.5 0h1.5m1.5 0h1.5m3.5 0h1.5m-0.5 0h1.5m4.5 0h1.5m1.5 0h1.5m-0.5 0h1.5m-0.5 0h1.5m-0.5 0h1.5m1.5 0h1.5m2.5 0h1.5m-0.5 0h1.5m-0.5 0h1.5m0.5 0h1.5m0.5 0h1.5m3.5 0h1.5m1.5 0h1.5m-110.5 1h1.5m12.5 0h1.5m4.5 0h1.5m-0.5 0h1.5m0.5 0h1.5m0.5 0h1.5m6.5 0h1.5m1.5 0h1.5m-0.5 0h1.5m1.5 0h1.5m-0.5 0h1.5m0.5 0h1.5m-0.5 0h1.5m4.5 0h1.5m-0.5 0h1.5m1.5 0h1.5m-0.5 0h1.5m1.5 0h1.5m0.5 0h1.5m-0.5 0h1.5m0.5 0h1.5m0.5 0h1.5m-0.5 0h1.5m2.5 0h1.5m3.5 0h1.5m-0.5 0h1.5m-0.5 0h1.5m1.5 0h1.5m1.5 0h1.5m2.5 0h1.5m3.5 0h1.5m3.5 0h1.5m11.5 0h1.5m-112.5 1h1.5m10.5 0h1.5m3.5 0h1.5m0.5 0h1.5m6.5 0h1.5m0.5 0h1.5m11.5 0h1.5m0.5 0h1.5m1.5 0h1.5m9.5 0h1.5m1.5 0h1.5m0.5 0h1.5m1.5 0h1.5m2.5 0h1.5m4.5 0h1.5m0.5 0h1.5m-0.5 0h1.5m-0.5 0h1.5m6.5 0h1.5m12.5 0h1.5m-0.5 0h1.5m0.5 0h1.5m2.5 0h1.5m-113.5 1h1.5m9.5 0h1.5m17.5 0h1.5m6.5 0h1.5m-0.5 0h1.5m-0.5 0h1.5m1.5 0h1.5m2.5 0h1.5m5.5 0h1.5m4.5 0h1.5m0.5 0h1.5m1.5 0h1.5m1.5 0h1.5m0.5 0h1.5m-0.5 0h1.5m5.5 0h1.5m-0.5 0h1.5m0.5 0h1.5m1.5 0h1.5m-0.5 0h1.5m1.5 0h1.5m2.5 0h1.5m3.5 0h1.5m1.5 0h1.5m2.5 0h1.5m-0.5 0h1.5m2.5 0h1.5m-0.5 0h1.5m0.5 0h1.5m1.5 0h1.5m-105.5 1h1.5m0.5 0h1.5m7.5 0h1.5m-0.5 0h1.5m4.5 0h1.5m8.5 0h1.5m1.5 0h1.5m1.5 0h1.5m-0.5 0h1.5m0.5 0h1.5m4.5 0h1.5m2.5 0h1.5m1.5 0h1.5m-0.5 0h1.5m1.5 0h1.5m-0.5 0h1.5m2.5 0h1.5m1.5 0h1.5m-0.5 0h1.5m3.5 0h1.5m-0.5 0h1.5m1.5 0h1.5m-0.5 0h1.5m1.5 0h1.5m3.5 0h1.5m0.5 0h1.5m4.5 0h1.5m11.5 0h1.5m0.5 0h1.5m-110.5 1h1.5m-0.5 0h1.5m7.5 0h1.5m1.5 0h1.5m2.5 0h1.5m5.5 0h1.5m4.5 0h1.5m2.5 0h1.5m-0.5 0h1.5m1.5 0h1.5m-0.5 0h1.5m-0.5 0h1.5m1.5 0h1.5m-0.5 0h1.5m0.5 0h1.5m0.5 0h1.5m1.5 0h1.5m-0.5 0h1.5m3.5 0h1.5m-0.5 0h1.5m-0.5 0h1.5m-0.5 0h1.5m-0.5 0h1.5m5.5 0h1.5m0.5 0h1.5m-0.5 0h1.5m-0.5 0h1.5m6.5 0h1.5m-0.5 0h1.5m-0.5 0h1.5m5.5 0h1.5m1.5 0h1.5m0.5 0h1.5m-0.5 0h1.5m1.5 0h1.5m0.5 0h1.5m-114.5 1h1.5m10.5 0h1.5m0.5 0h1.5m0.5 0h1.5m-0.5 0h1.5m-0.5 0h1.5m8.5 0h1.5m3.5 0h1.5m-0.5 0h1.5m-0.5 0h1.5m-0.5 0h1.5m11.5 0h1.5m-0.5 0h1.5m8.5 0h1.5m-0.5 0h1.5m6.5 0h1.5m-0.5 0h1.5m1.5 0h1.5m1.5 0h1.5m4.5 0h1.5m-0.5 0h1.5m-0.5 0h1.5m3.5 0h1.5m1.5 0h1.5m5.5 0h1.5m-0.5 0h1.5m2.5 0h1.5m1.5 0h1.5m2.5 0h1.5m0.5 0h1.5m1.5 0h1.5m-119.5 1h1.5m18.5 0h1.5m6.5 0h1.5m4.5 0h1.5m0.5 0h1.5m1.5 0h1.5m3.5 0h1.5m0.5 0h1.5m-0.5 0h1.5m2.5 0h1.5m-0.5 0h1.5m5.5 0h1.5m2.5 0h1.5m2.5 0h1.5m-0.5 0h1.5m3.5 0h1.5m6.5 0h1.5m0.5 0h1.5m4.5 0h1.5m-0.5 0h1.5m-0.5 0h1.5m1.5 0h1.5m1.5 0h1.5m1.5 0h1.5m-0.5 0h1.5m2.5 0h1.5m1.5 0h1.5m2.5 0h1.5m2.5 0h1.5m1.5 0h1.5m-0.5 0h1.5m1.5 0h1.5m-0.5 0h1.5m-112.5 1h1.5m3.5 0h1.5m5.5 0h1.5m4.5 0h1.5m1.5 0h1.5m11.5 0h1.5m-0.5 0h1.5m0.5 0h1.5m-0.5 0h1.5m2.5 0h1.5m-0.5 0h1.5m4.5 0h1.5m1.5 0h1.5m2.5 0h1.5m0.5 0h1.5m0.5 0h1.5m1.5 0h1.5m-0.5 0h1.5m2.5 0h1.5m-0.5 0h1.5m1.5 0h1.5m-0.5 0h1.5m-0.5 0h1.5m1.5 0h1.5m-0.5 0h1.5m2.5 0h1.5m0.5 0h1.5m1.5 0h1.5m11.5 0h1.5m4.5 0h1.5m-116.5 1h1.5m10.5 0h1.5m11.5 0h1.5m1.5 0h1.5m0.5 0h1.5m2.5 0h1.5m2.5 0h1.5m3.5 0h1.5m4.5 0h1.5m-0.5 0h1.5m-0.5 0h1.5m8.5 0h1.5m2.5 0h1.5m0.5 0h1.5m-0.5 0h1.5m1.5 0h1.5m3.5 0h1.5m1.5 0h1.5m0.5 0h1.5m0.5 0h1.5m-0.5 0h1.5m3.5 0h1.5m1.5 0h1.5m0.5 0h1.5m1.5 0h1.5m4.5 0h1.5m4.5 0h1.5m1.5 0h1.5m1.5 0h1.5m-96.5 1h1.5m1.5 0h1.5m1.5 0h1.5m-0.5 0h1.5m2.5 0h1.5m2.5 0h1.5m3.5 0h1.5m-0.5 0h1.5m2.5 0h1.5m-0.5 0h1.5m0.5 0h1.5m1.5 0h1.5m0.5 0h1.5m1.5 0h1.5m0.5 0h1.5m8.5 0h1.5m2.5 0h1.5m-0.5 0h1.5m-0.5 0h1.5m4.5 0h1.5m2.5 0h1.5m-0.5 0h1.5m0.5 0h1.5m4.5 0h1.5m1.5 0h1.5m-0.5 0h1.5m-0.5 0h1.5m-0.5 0h1.5m0.5 0h1.5m0.5 0h1.5m0.5 0h1.5m6.5 0h1.5m-153.5 1h1.5m13.5 0h1.5m21.5 0h1.5m5.5 0h1.5m0.5 0h1.5m-0.5 0h1.5m-0.5 0h1.5m1.5 0h1.5m5.5 0h1.5m3.5 0h1.5m0.5 0h1.5m0.5 0h1.5m-0.5 0h1.5m1.5 0h1.5m1.5 0h1.5m0.5 0h1.5m1.5 0h1.5m-0.5 0h1.5m0.5 0h1.5m-0.5 0h1.5m3.5 0h1.5m-0.5 0h1.5m-0.5 0h1.5m1.5 0h1.5m0.5 0h1.5m-0.5 0h1.5m-0.5 0h1.5m0.5 0h1.5m-0.5 0h1.5m1.5 0h1.5m4.5 0h1.5m-0.5 0h1.5m2.5 0h1.5m-0.5 0h1.5m0.5 0h1.5m0.5 0h1.5m1.5 0h1.5m-0.5 0h1.5m5.5 0h1.5m5.5 0h1.5m2.5 0h1.5m3.5 0h1.5m4.5 0h1.5m-97.5 1h1.5m-0.5 0h1.5m2.5 0h1.5m0.5 0h1.5m0.5 0h1.5m0.5 0h1.5m0.5 0h1.5m0.5 0h1.5m6.5 0h1.5m0.5 0h1.5m-0.5 0h1.5m-0.5 0h1.5m1.5 0h1.5m0.5 0h1.5m1.5 0h1.5m4.5 0h1.5m1.5 0h1.5m2.5 0h1.5m2.5 0h1.5m5.5 0h1.5m2.5 0h1.5m1.5 0h1.5m0.5 0h1.5m0.5 0h1.5m1.5 0h1.5m0.5 0h1.5m-0.5 0h1.5m-0.5 0h1.5m-0.5 0h1.5m9.5 0h1.5m3.5 0h1.5m-145.5 1h1.5m27.5 0h1.5m5.5 0h1.5m13.5 0h1.5m0.5 0h1.5m0.5 0h1.5m-0.5 0h1.5m3.5 0h1.5m2.5 0h1.5m2.5 0h1.5m-0.5 0h1.5m-0.5 0h1.5m3.5 0h1.5m0.5 0h1.5m1.5 0h1.5m-0.5 0h1.5m0.5 0h1.5m2.5 0h1.5m0.5 0h1.5m0.5 0h1.5m3.5 0h1.5m-0.5 0h1.5m-0.5 0h1.5m-0.5 0h1.5m1.5 0h1.5m0.5 0h1.5m2.5 0h1.5m-0.5 0h1.5m0.5 0h1.5m0.5 0h1.5m2.5 0h1.5m6.5 0h1.5m0.5 0h1.5m1.5 0h1.5m4.5 0h1.5m2.5 0h1.5m2.5 0h1.5m-0.5 0h1.5m4.5 0h1.5m-123.5 1h1.5m14.5 0h1.5m5.5 0h1.5m-0.5 0h1.5m5.5 0h1.5m3.5 0h1.5m2.5 0h1.5m4.5 0h1.5m2.5 0h1.5m-0.5 0h1.5m2.5 0h1.5m0.5 0h1.5m-0.5 0h1.5m1.5 0h1.5m1.5 0h1.5m1.5 0h1.5m-0.5 0h1.5m9.5 0h1.5m-0.5 0h1.5m2.5 0h1.5m1.5 0h1.5m-0.5 0h1.5m-0.5 0h1.5m0.5 0h1.5m1.5 0h1.5m1.5 0h1.5m-0.5 0h1.5m0.5 0h1.5m2.5 0h1.5m3.5 0h1.5m7.5 0h1.5m-119.5 1h1.5m0.5 0h1.5m0.5 0h1.5m11.5 0h1.5m2.5 0h1.5m7.5 0h1.5m2.5 0h1.5m1.5 0h1.5m2.5 0h1.5m0.5 0h1.5m-0.5 0h1.5m-0.5 0h1.5m3.5 0h1.5m-0.5 0h1.5m-0.5 0h1.5m2.5 0h1.5m0.5 0h1.5m-0.5 0h1.5m0.5 0h1.5m-0.5 0h1.5m0.5 0h1.5m1.5 0h1.5m-0.5 0h1.5m0.5 0h1.5m-0.5 0h1.5m-0.5 0h1.5m-0.5 0h1.5m-0.5 0h1.5m-0.5 0h1.5m0.5 0h1.5m-0.5 0h1.5m-0.5 0h1.5m3.5 0h1.5m5.5 0h1.5m6.5 0h1.5m0.5 0h1.5m-0.5 0h1.5m-0.5 0h1.5m-0.5 0h1.5m-0.5 0h1.5m1.5 0h1.5m12.5 0h1.5m-137.5 1h1.5m5.5 0h1.5m19.5 0h1.5m9.5 0h1.5m0.5 0h1.5m3.5 0h1.5m2.5 0h1.5m-0.5 0h1.5m2.5 0h1.5m-0.5 0h1.5m0.5 0h1.5m2.5 0h1.5m0.5 0h1.5m-0.5 0h1.5m-0.5 0h1.5m-0.5 0h1.5m0.5 0h1.5m4.5 0h1.5m-0.5 0h1.5m-0.5 0h1.5m5.5 0h1.5m4.5 0h1.5m-0.5 0h1.5m2.5 0h1.5m-0.5 0h1.5m0.5 0h1.5m5.5 0h1.5m0.5 0h1.5m3.5 0h1.5m3.5 0h1.5m0.5 0h1.5m-0.5 0h1.5m1.5 0h1.5m-0.5 0h1.5m-123.5 1h1.5m4.5 0h1.5m2.5 0h1.5m-0.5 0h1.5m6.5 0h1.5m0.5 0h1.5m-0.5 0h1.5m1.5 0h1.5m0.5 0h1.5m2.5 0h1.5m1.5 0h1.5m4.5 0h1.5m2.5 0h1.5m0.5 0h1.5m4.5 0h1.5m2.5 0h1.5m0.5 0h1.5m-0.5 0h1.5m3.5 0h1.5m0.5 0h1.5m1.5 0h1.5m1.5 0h1.5m2.5 0h1.5m0.5 0h1.5m7.5 0h1.5m2.5 0h1.5m4.5 0h1.5m-0.5 0h1.5m1.5 0h1.5m0.5 0h1.5m-0.5 0h1.5m0.5 0h1.5m1.5 0h1.5m5.5 0h1.5m15.5 0h1.5m-0.5 0h1.5m-154.5 1h1.5m23.5 0h1.5m4.5 0h1.5m-0.5 0h1.5m7.5 0h1.5m-0.5 0h1.5m-0.5 0h1.5m1.5 0h1.5m-0.5 0h1.5m1.5 0h1.5m3.5 0h1.5m2.5 0h1.5m1.5 0h1.5m2.5 0h1.5m-0.5 0h1.5m-0.5 0h1.5m-0.5 0h1.5m1.5 0h1.5m-0.5 0h1.5m-0.5 0h1.5m1.5 0h1.5m0.5 0h1.5m0.5 0h1.5m-0.5 0h1.5m-0.5 0h1.5m-0.5 0h1.5m-0.5 0h1.5m1.5 0h1.5m0.5 0h1.5m-0.5 0h1.5m2.5 0h1.5m1.5 0h1.5m-0.5 0h1.5m2.5 0h1.5m0.5 0h1.5m-0.5 0h1.5m-0.5 0h1.5m-0.5 0h1.5m0.5 0h1.5m0.5 0h1.5m-0.5 0h1.5m3.5 0h1.5m-0.5 0h1.5m4.5 0h1.5m0.5 0h1.5m2.5 0h1.5m-0.5 0h1.5m0.5 0h1.5m2.5 0h1.5m6.5 0h1.5m5.5 0h1.5m-120.5 1h1.5m16.5 0h1.5m-0.5 0h1.5m-0.5 0h1.5m1.5 0h1.5m0.5 0h1.5m3.5 0h1.5m-0.5 0h1.5m5.5 0h1.5m0.5 0h1.5m-0.5 0h1.5m-0.5 0h1.5m-0.5 0h1.5m0.5 0h1.5m-0.5 0h1.5m2.5 0h1.5m0.5 0h1.5m3.5 0h1.5m2.5 0h1.5m-0.5 0h1.5m4.5 0h1.5m-0.5 0h1.5m3.5 0h1.5m4.5 0h1.5m-0.5 0h1.5m0.5 0h1.5m-0.5 0h1.5m6.5 0h1.5m3.5 0h1.5m1.5 0h1.5m1.5 0h1.5m-0.5 0h1.5m-0.5 0h1.5m-0.5 0h1.5m-0.5 0h1.5m4.5 0h1.5m2.5 0h1.5m-135.5 1h1.5m17.5 0h1.5m5.5 0h1.5m18.5 0h1.5m1.5 0h1.5m3.5 0h1.5m1.5 0h1.5m4.5 0h1.5m2.5 0h1.5m1.5 0h1.5m5.5 0h1.5m0.5 0h1.5m0.5 0h1.5m0.5 0h1.5m-0.5 0h1.5m4.5 0h1.5m1.5 0h1.5m-0.5 0h1.5m4.5 0h1.5m8.5 0h1.5m0.5 0h1.5m-0.5 0h1.5m1.5 0h1.5m4.5 0h1.5m-0.5 0h1.5m-0.5 0h1.5m10.5 0h1.5m-150.5 1h1.5m17.5 0h1.5m19.5 0h1.5m17.5 0h1.5m2.5 0h1.5m0.5 0h1.5m-0.5 0h1.5m0.5 0h1.5m0.5 0h1.5m-0.5 0h1.5m0.5 0h1.5m0.5 0h1.5m1.5 0h1.5m1.5 0h1.5m-0.5 0h1.5m1.5 0h1.5m1.5 0h1.5m-0.5 0h1.5m-0.5 0h1.5m4.5 0h1.5m0.5 0h1.5m0.5 0h1.5m-0.5 0h1.5m-0.5 0h1.5m2.5 0h1.5m1.5 0h1.5m2.5 0h1.5m-0.5 0h1.5m1.5 0h1.5m4.5 0h1.5m4.5 0h1.5m-0.5 0h1.5m3.5 0h1.5m0.5 0h1.5m6.5 0h1.5m-0.5 0h1.5m0.5 0h1.5m-128.5 1h1.5m0.5 0h1.5m15.5 0h1.5m0.5 0h1.5m12.5 0h1.5m-0.5 0h1.5m5.5 0h1.5m3.5 0h1.5m2.5 0h1.5m2.5 0h1.5m-0.5 0h1.5m4.5 0h1.5m-0.5 0h1.5m0.5 0h1.5m0.5 0h1.5m2.5 0h1.5m1.5 0h1.5m-0.5 0h1.5m2.5 0h1.5m0.5 0h1.5m-0.5 0h1.5m1.5 0h1.5m2.5 0h1.5m-0.5 0h1.5m1.5 0h1.5m3.5 0h1.5m-0.5 0h1.5m-0.5 0h1.5m5.5 0h1.5m-0.5 0h1.5m0.5 0h1.5m0.5 0h1.5m13.5 0h1.5m-120.5 1h1.5m4.5 0h1.5m0.5 0h1.5m1.5 0h1.5m-0.5 0h1.5m9.5 0h1.5m1.5 0h1.5m2.5 0h1.5m1.5 0h1.5m5.5 0h1.5m1.5 0h1.5m2.5 0h1.5m0.5 0h1.5m2.5 0h1.5m5.5 0h1.5m0.5 0h1.5m3.5 0h1.5m0.5 0h1.5m3.5 0h1.5m3.5 0h1.5m-0.5 0h1.5m-0.5 0h1.5m4.5 0h1.5m13.5 0h1.5m-0.5 0h1.5m-0.5 0h1.5m-123.5 1h1.5m25.5 0h1.5m-0.5 0h1.5m8.5 0h1.5m3.5 0h1.5m-0.5 0h1.5m1.5 0h1.5m-0.5 0h1.5m1.5 0h1.5m-0.5 0h1.5m0.5 0h1.5m4.5 0h1.5m-0.5 0h1.5m0.5 0h1.5m-0.5 0h1.5m0.5 0h1.5m-0.5 0h1.5m-0.5 0h1.5m-0.5 0h1.5m-0.5 0h1.5m-0.5 0h1.5m3.5 0h1.5m1.5 0h1.5m-0.5 0h1.5m-0.5 0h1.5m-0.5 0h1.5m-0.5 0h1.5m1.5 0h1.5m-0.5 0h1.5m-0.5 0h1.5m0.5 0h1.5m-0.5 0h1.5m1.5 0h1.5m0.5 0h1.5m-0.5 0h1.5m1.5 0h1.5m5.5 0h1.5m-0.5 0h1.5m0.5 0h1.5m-0.5 0h1.5m0.5 0h1.5m2.5 0h1.5m1.5 0h1.5m1.5 0h1.5m3.5 0h1.5m-108.5 1h1.5m0.5 0h1.5m4.5 0h1.5m1.5 0h1.5m1.5 0h1.5m0.5 0h1.5m2.5 0h1.5m-0.5 0h1.5m0.5 0h1.5m-0.5 0h1.5m0.5 0h1.5m2.5 0h1.5m-0.5 0h1.5m1.5 0h1.5m-0.5 0h1.5m-0.5 0h1.5m-0.5 0h1.5m1.5 0h1.5m-0.5 0h1.5m1.5 0h1.5m-0.5 0h1.5m-0.5 0h1.5m0.5 0h1.5m-0.5 0h1.5m-0.5 0h1.5m-0.5 0h1.5m3.5 0h1.5m-0.5 0h1.5m0.5 0h1.5m0.5 0h1.5m0.5 0h1.5m5.5 0h1.5m3.5 0h1.5m0.5 0h1.5m-0.5 0h1.5m6.5 0h1.5m3.5 0h1.5m5.5 0h1.5m3.5 0h1.5m3.5 0h1.5m0.5 0h1.5m-126.5 1h1.5m4.5 0h1.5m-0.5 0h1.5m2.5 0h1.5m7.5 0h1.5m1.5 0h1.5m12.5 0h1.5m0.5 0h1.5m1.5 0h1.5m1.5 0h1.5m-0.5 0h1.5m-0.5 0h1.5m3.5 0h1.5m0.5 0h1.5m-0.5 0h1.5m-0.5 0h1.5m1.5 0h1.5m-0.5 0h1.5m-0.5 0h1.5m4.5 0h1.5m1.5 0h1.5m-0.5 0h1.5m1.5 0h1.5m0.5 0h1.5m0.5 0h1.5m0.5 0h1.5m1.5 0h1.5m-0.5 0h1.5m0.5 0h1.5m0.5 0h1.5m0.5 0h1.5m0.5 0h1.5m-0.5 0h1.5m0.5 0h1.5m3.5 0h1.5m2.5 0h1.5m0.5 0h1.5m6.5 0h1.5m-0.5 0h1.5m-165.5 1h1.5m63.5 0h1.5m0.5 0h1.5m0.5 0h1.5m-0.5 0h1.5m0.5 0h1.5m0.5 0h1.5m1.5 0h1.5m-0.5 0h1.5m-0.5 0h1.5m0.5 0h1.5m-0.5 0h1.5m0.5 0h1.5m1.5 0h1.5m-0.5 0h1.5m-0.5 0h1.5m2.5 0h1.5m1.5 0h1.5m2.5 0h1.5m0.5 0h1.5m0.5 0h1.5m-0.5 0h1.5m-0.5 0h1.5m-0.5 0h1.5m-0.5 0h1.5m0.5 0h1.5m1.5 0h1.5m-0.5 0h1.5m0.5 0h1.5m1.5 0h1.5m-0.5 0h1.5m2.5 0h1.5m-0.5 0h1.5m-0.5 0h1.5m-0.5 0h1.5m0.5 0h1.5m4.5 0h1.5m-0.5 0h1.5m0.5 0h1.5m-0.5 0h1.5m2.5 0h1.5m2.5 0h1.5m3.5 0h1.5m4.5 0h1.5m-96.5 1h1.5m10.5 0h1.5m0.5 0h1.5m1.5 0h1.5m0.5 0h1.5m0.5 0h1.5m1.5 0h1.5m1.5 0h1.5m-0.5 0h1.5m1.5 0h1.5m1.5 0h1.5m-0.5 0h1.5m2.5 0h1.5m1.5 0h1.5m-0.5 0h1.5m3.5 0h1.5m-0.5 0h1.5m-0.5 0h1.5m-0.5 0h1.5m1.5 0h1.5m-0.5 0h1.5m1.5 0h1.5m1.5 0h1.5m-0.5 0h1.5m-0.5 0h1.5m0.5 0h1.5m1.5 0h1.5m0.5 0h1.5m-0.5 0h1.5m-0.5 0h1.5m-0.5 0h1.5m1.5 0h1.5m2.5 0h1.5m5.5 0h1.5m-0.5 0h1.5m3.5 0h1.5m5.5 0h1.5m12.5 0h1.5m-107.5 1h1.5m1.5 0h1.5m0.5 0h1.5m1.5 0h1.5m1.5 0h1.5m8.5 0h1.5m0.5 0h1.5m-0.5 0h1.5m-0.5 0h1.5m-0.5 0h1.5m-0.5 0h1.5m-0.5 0h1.5m1.5 0h1.5m-0.5 0h1.5m2.5 0h1.5m1.5 0h1.5m-0.5 0h1.5m0.5 0h1.5m8.5 0h1.5m-0.5 0h1.5m0.5 0h1.5m1.5 0h1.5m0.5 0h1.5m-0.5 0h1.5m-0.5 0h1.5m1.5 0h1.5m-0.5 0h1.5m5.5 0h1.5m-0.5 0h1.5m-0.5 0h1.5m4.5 0h1.5m1.5 0h1.5m7.5 0h1.5m1.5 0h1.5m-0.5 0h1.5m0.5 0h1.5m-121.5 1h1.5m0.5 0h1.5m12.5 0h1.5m-0.5 0h1.5m1.5 0h1.5m2.5 0h1.5m0.5 0h1.5m0.5 0h1.5m0.5 0h1.5m0.5 0h1.5m1.5 0h1.5m0.5 0h1.5m-0.5 0h1.5m1.5 0h1.5m-0.5 0h1.5m0.5 0h1.5m4.5 0h1.5m1.5 0h1.5m-0.5 0h1.5m-0.5 0h1.5m-0.5 0h1.5m0.5 0h1.5m-0.5 0h1.5m-0.5 0h1.5m0.5 0h1.5m-0.5 0h1.5m2.5 0h1.5m-0.5 0h1.5m1.5 0h1.5m-0.5 0h1.5m-0.5 0h1.5m-0.5 0h1.5m3.5 0h1.5m2.5 0h1.5m4.5 0h1.5m1.5 0h1.5m0.5 0h1.5m1.5 0h1.5m12.5 0h1.5m-118.5 1h1.5m2.5 0h1.5m0.5 0h1.5m3.5 0h1.5m1.5 0h1.5m1.5 0h1.5m3.5 0h1.5m7.5 0h1.5m8.5 0h1.5m1.5 0h1.5m0.5 0h1.5m1.5 0h1.5m2.5 0h1.5m-0.5 0h1.5m-0.5 0h1.5m-0.5 0h1.5m-0.5 0h1.5m-0.5 0h1.5m4.5 0h1.5m-0.5 0h1.5m1.5 0h1.5m1.5 0h1.5m2.5 0h1.5m-0.5 0h1.5m-0.5 0h1.5m1.5 0h1.5m1.5 0h1.5m1.5 0h1.5m-0.5 0h1.5m-0.5 0h1.5m-0.5 0h1.5m0.5 0h1.5m0.5 0h1.5m2.5 0h1.5m0.5 0h1.5m-0.5 0h1.5m-0.5 0h1.5m3.5 0h1.5m0.5 0h1.5m1.5 0h1.5m0.5 0h1.5m7.5 0h1.5m-115.5 1h1.5m2.5 0h1.5m2.5 0h1.5m0.5 0h1.5m0.5 0h1.5m18.5 0h1.5m1.5 0h1.5m5.5 0h1.5m1.5 0h1.5m1.5 0h1.5m1.5 0h1.5m1.5 0h1.5m-0.5 0h1.5m-0.5 0h1.5m8.5 0h1.5m0.5 0h1.5m-0.5 0h1.5m-0.5 0h1.5m0.5 0h1.5m1.5 0h1.5m2.5 0h1.5m-0.5 0h1.5m3.5 0h1.5m1.5 0h1.5m0.5 0h1.5m2.5 0h1.5m0.5 0h1.5m1.5 0h1.5m-0.5 0h1.5m2.5 0h1.5m11.5 0h1.5m-140.5 1h1.5m6.5 0h1.5m13.5 0h1.5m3.5 0h1.5m4.5 0h1.5m1.5 0h1.5m2.5 0h1.5m4.5 0h1.5m0.5 0h1.5m0.5 0h1.5m8.5 0h1.5m-0.5 0h1.5m2.5 0h1.5m-0.5 0h1.5m4.5 0h1.5m2.5 0h1.5m-0.5 0h1.5m0.5 0h1.5m0.5 0h1.5m0.5 0h1.5m-0.5 0h1.5m0.5 0h1.5m0.5 0h1.5m1.5 0h1.5m1.5 0h1.5m-0.5 0h1.5m-0.5 0h1.5m-0.5 0h1.5m-0.5 0h1.5m2.5 0h1.5m7.5 0h1.5m5.5 0h1.5m6.5 0h1.5m13.5 0h1.5m-143.5 1h1.5m10.5 0h1.5m13.5 0h1.5m6.5 0h1.5m-0.5 0h1.5m3.5 0h1.5m-0.5 0h1.5m1.5 0h1.5m3.5 0h1.5m0.5 0h1.5m1.5 0h1.5m2.5 0h1.5m3.5 0h1.5m5.5 0h1.5m0.5 0h1.5m2.5 0h1.5m0.5 0h1.5m2.5 0h1.5m-0.5 0h1.5m-0.5 0h1.5m2.5 0h1.5m-0.5 0h1.5m-0.5 0h1.5m-0.5 0h1.5m-0.5 0h1.5m1.5 0h1.5m-0.5 0h1.5m-0.5 0h1.5m-0.5 0h1.5m1.5 0h1.5m19.5 0h1.5m8.5 0h1.5m3.5 0h1.5m-118.5 1h1.5m0.5 0h1.5m0.5 0h1.5m5.5 0h1.5m6.5 0h1.5m5.5 0h1.5m-0.5 0h1.5m1.5 0h1.5m-0.5 0h1.5m-0.5 0h1.5m3.5 0h1.5m0.5 0h1.5m-0.5 0h1.5m3.5 0h1.5m0.5 0h1.5m-0.5 0h1.5m-0.5 0h1.5m5.5 0h1.5m1.5 0h1.5m-0.5 0h1.5m-0.5 0h1.5m0.5 0h1.5m4.5 0h1.5m-0.5 0h1.5m3.5 0h1.5m0.5 0h1.5m2.5 0h1.5m-0.5 0h1.5m1.5 0h1.5m1.5 0h1.5m1.5 0h1.5m0.5 0h1.5m2.5 0h1.5m1.5 0h1.5m5.5 0h1.5m3.5 0h1.5m4.5 0h1.5m3.5 0h1.5m-167.5 1h1.5m17.5 0h1.5m6.5 0h1.5m1.5 0h1.5m5.5 0h1.5m2.5 0h1.5m2.5 0h1.5m5.5 0h1.5m0.5 0h1.5m0.5 0h1.5m-0.5 0h1.5m0.5 0h1.5m-0.5 0h1.5m2.5 0h1.5m-0.5 0h1.5m1.5 0h1.5m3.5 0h1.5m0.5 0h1.5m-0.5 0h1.5m1.5 0h1.5m-0.5 0h1.5m1.5 0h1.5m-0.5 0h1.5m1.5 0h1.5m0.5 0h1.5m1.5 0h1.5m-0.5 0h1.5m-0.5 0h1.5m-0.5 0h1.5m0.5 0h1.5m6.5 0h1.5m0.5 0h1.5m-0.5 0h1.5m1.5 0h1.5m-0.5 0h1.5m0.5 0h1.5m-0.5 0h1.5m0.5 0h1.5m-0.5 0h1.5m-0.5 0h1.5m3.5 0h1.5m-0.5 0h1.5m-0.5 0h1.5m0.5 0h1.5m6.5 0h1.5m0.5 0h1.5m17.5 0h1.5m6.5 0h1.5m-136.5 1h1.5m21.5 0h1.5m0.5 0h1.5m5.5 0h1.5m1.5 0h1.5m-0.5 0h1.5m-0.5 0h1.5m2.5 0h1.5m0.5 0h1.5m1.5 0h1.5m0.5 0h1.5m0.5 0h1.5m0.5 0h1.5m-0.5 0h1.5m0.5 0h1.5m-0.5 0h1.5m1.5 0h1.5m0.5 0h1.5m3.5 0h1.5m-0.5 0h1.5m0.5 0h1.5m2.5 0h1.5m1.5 0h1.5m0.5 0h1.5m-0.5 0h1.5m3.5 0h1.5m-0.5 0h1.5m5.5 0h1.5m2.5 0h1.5m0.5 0h1.5m0.5 0h1.5m-0.5 0h1.5m2.5 0h1.5m-0.5 0h1.5m0.5 0h1.5m2.5 0h1.5m1.5 0h1.5m3.5 0h1.5m0.5 0h1.5m15.5 0h1.5m-152.5 1h1.5m38.5 0h1.5m-0.5 0h1.5m-0.5 0h1.5m0.5 0h1.5m1.5 0h1.5m2.5 0h1.5m0.5 0h1.5m-0.5 0h1.5m2.5 0h1.5m-0.5 0h1.5m-0.5 0h1.5m-0.5 0h1.5m1.5 0h1.5m1.5 0h1.5m-0.5 0h1.5m-0.5 0h1.5m0.5 0h1.5m1.5 0h1.5m-0.5 0h1.5m2.5 0h1.5m0.5 0h1.5m-0.5 0h1.5m3.5 0h1.5m4.5 0h1.5m4.5 0h1.5m-0.5 0h1.5m0.5 0h1.5m0.5 0h1.5m-0.5 0h1.5m-0.5 0h1.5m-0.5 0h1.5m-0.5 0h1.5m1.5 0h1.5m1.5 0h1.5m1.5 0h1.5m-0.5 0h1.5m-0.5 0h1.5m1.5 0h1.5m2.5 0h1.5m-0.5 0h1.5m-0.5 0h1.5m16.5 0h1.5m4.5 0h1.5m-160.5 1h1.5m10.5 0h1.5m0.5 0h1.5m21.5 0h1.5m-0.5 0h1.5m-0.5 0h1.5m3.5 0h1.5m2.5 0h1.5m2.5 0h1.5m2.5 0h1.5m2.5 0h1.5m2.5 0h1.5m-0.5 0h1.5m0.5 0h1.5m0.5 0h1.5m0.5 0h1.5m1.5 0h1.5m2.5 0h1.5m0.5 0h1.5m1.5 0h1.5m5.5 0h1.5m-0.5 0h1.5m0.5 0h1.5m0.5 0h1.5m-0.5 0h1.5m4.5 0h1.5m5.5 0h1.5m-0.5 0h1.5m0.5 0h1.5m0.5 0h1.5m-0.5 0h1.5m0.5 0h1.5m3.5 0h1.5m2.5 0h1.5m0.5 0h1.5m-0.5 0h1.5m3.5 0h1.5m1.5 0h1.5m17.5 0h1.5m0.5 0h1.5m-164.5 1h1.5m13.5 0h1.5m16.5 0h1.5m5.5 0h1.5m-0.5 0h1.5m3.5 0h1.5m5.5 0h1.5m-0.5 0h1.5m-0.5 0h1.5m9.5 0h1.5m1.5 0h1.5m0.5 0h1.5m3.5 0h1.5m0.5 0h1.5m0.5 0h1.5m-0.5 0h1.5m-0.5 0h1.5m0.5 0h1.5m1.5 0h1.5m-0.5 0h1.5m1.5 0h1.5m-0.5 0h1.5m-0.5 0h1.5m0.5 0h1.5m-0.5 0h1.5m1.5 0h1.5m-0.5 0h1.5m-0.5 0h1.5m-0.5 0h1.5m0.5 0h1.5m0.5 0h1.5m-0.5 0h1.5m-0.5 0h1.5m0.5 0h1.5m-0.5 0h1.5m-0.5 0h1.5m0.5 0h1.5m-0.5 0h1.5m1.5 0h1.5m0.5 0h1.5m5.5 0h1.5m1.5 0h1.5m6.5 0h1.5m0.5 0h1.5m9.5 0h1.5m-108.5 1h1.5m5.5 0h1.5m1.5 0h1.5m-0.5 0h1.5m4.5 0h1.5m5.5 0h1.5m0.5 0h1.5m-0.5 0h1.5m0.5 0h1.5m-0.5 0h1.5m0.5 0h1.5m0.5 0h1.5m0.5 0h1.5m0.5 0h1.5m-0.5 0h1.5m0.5 0h1.5m-0.5 0h1.5m4.5 0h1.5m-0.5 0h1.5m0.5 0h1.5m-0.5 0h1.5m0.5 0h1.5m0.5 0h1.5m-0.5 0h1.5m-0.5 0h1.5m1.5 0h1.5m-0.5 0h1.5m1.5 0h1.5m0.5 0h1.5m0.5 0h1.5m3.5 0h1.5m-0.5 0h1.5m1.5 0h1.5m12.5 0h1.5m-0.5 0h1.5m5.5 0h1.5m0.5 0h1.5m0.5 0h1.5m0.5 0h1.5m1.5 0h1.5m6.5 0h1.5m-132.5 1h1.5m3.5 0h1.5m4.5 0h1.5m0.5 0h1.5m-0.5 0h1.5m0.5 0h1.5m-0.5 0h1.5m-0.5 0h1.5m2.5 0h1.5m-0.5 0h1.5m4.5 0h1.5m-0.5 0h1.5m-0.5 0h1.5m0.5 0h1.5m0.5 0h1.5m1.5 0h1.5m4.5 0h1.5m0.5 0h1.5m0.5 0h1.5m0.5 0h1.5m0.5 0h1.5m-0.5 0h1.5m0.5 0h1.5m-0.5 0h1.5m-0.5 0h1.5m1.5 0h1.5m1.5 0h1.5m-0.5 0h1.5m0.5 0h1.5m-0.5 0h1.5m0.5 0h1.5m2.5 0h1.5m6.5 0h1.5m1.5 0h1.5m-0.5 0h1.5m1.5 0h1.5m-0.5 0h1.5m0.5 0h1.5m-0.5 0h1.5m2.5 0h1.5m-0.5 0h1.5m4.5 0h1.5m0.5 0h1.5m2.5 0h1.5m-106.5 1h1.5m1.5 0h1.5m4.5 0h1.5m1.5 0h1.5m7.5 0h1.5m0.5 0h1.5m4.5 0h1.5m2.5 0h1.5m4.5 0h1.5m2.5 0h1.5m-0.5 0h1.5m0.5 0h1.5m-0.5 0h1.5m3.5 0h1.5m-0.5 0h1.5m-0.5 0h1.5m-0.5 0h1.5m1.5 0h1.5m-0.5 0h1.5m-0.5 0h1.5m-0.5 0h1.5m-0.5 0h1.5m-0.5 0h1.5m-0.5 0h1.5m-0.5 0h1.5m1.5 0h1.5m2.5 0h1.5m0.5 0h1.5m2.5 0h1.5m-0.5 0h1.5m1.5 0h1.5m1.5 0h1.5m0.5 0h1.5m3.5 0h1.5m-0.5 0h1.5m8.5 0h1.5m0.5 0h1.5m-0.5 0h1.5m1.5 0h1.5m18.5 0h1.5m-138.5 1h1.5m11.5 0h1.5m-0.5 0h1.5m3.5 0h1.5m1.5 0h1.5m15.5 0h1.5m0.5 0h1.5m9.5 0h1.5m10.5 0h1.5m1.5 0h1.5m-0.5 0h1.5m-0.5 0h1.5m-0.5 0h1.5m3.5 0h1.5m3.5 0h1.5m-0.5 0h1.5m4.5 0h1.5m0.5 0h1.5m2.5 0h1.5m0.5 0h1.5m-0.5 0h1.5m0.5 0h1.5m2.5 0h1.5m-0.5 0h1.5m6.5 0h1.5m-0.5 0h1.5m0.5 0h1.5m-0.5 0h1.5m0.5 0h1.5m-0.5 0h1.5m3.5 0h1.5m0.5 0h1.5m-123.5 1h1.5m7.5 0h1.5m-0.5 0h1.5m0.5 0h1.5m-0.5 0h1.5m5.5 0h1.5m8.5 0h1.5m3.5 0h1.5m0.5 0h1.5m4.5 0h1.5m-0.5 0h1.5m-0.5 0h1.5m3.5 0h1.5m1.5 0h1.5m-0.5 0h1.5m0.5 0h1.5m-0.5 0h1.5m0.5 0h1.5m-0.5 0h1.5m5.5 0h1.5m2.5 0h1.5m0.5 0h1.5m1.5 0h1.5m2.5 0h1.5m4.5 0h1.5m-0.5 0h1.5m-0.5 0h1.5m0.5 0h1.5m1.5 0h1.5m0.5 0h1.5m0.5 0h1.5m17.5 0h1.5m-0.5 0h1.5m-106.5 1h1.5m1.5 0h1.5m0.5 0h1.5m-0.5 0h1.5m5.5 0h1.5m2.5 0h1.5m-0.5 0h1.5m2.5 0h1.5m-0.5 0h1.5m-0.5 0h1.5m2.5 0h1.5m-0.5 0h1.5m1.5 0h1.5m0.5 0h1.5m-0.5 0h1.5m0.5 0h1.5m-0.5 0h1.5m-0.5 0h1.5m-0.5 0h1.5m-0.5 0h1.5m-0.5 0h1.5m2.5 0h1.5m2.5 0h1.5m2.5 0h1.5m1.5 0h1.5m1.5 0h1.5m0.5 0h1.5m0.5 0h1.5m-0.5 0h1.5m7.5 0h1.5m-0.5 0h1.5m1.5 0h1.5m-0.5 0h1.5m10.5 0h1.5m4.5 0h1.5m5.5 0h1.5m1.5 0h1.5m2.5 0h1.5m-145.5 1h1.5m30.5 0h1.5m3.5 0h1.5m-0.5 0h1.5m1.5 0h1.5m1.5 0h1.5m8.5 0h1.5m-0.5 0h1.5m-0.5 0h1.5m0.5 0h1.5m2.5 0h1.5m0.5 0h1.5m5.5 0h1.5m1.5 0h1.5m0.5 0h1.5m-0.5 0h1.5m-0.5 0h1.5m-0.5 0h1.5m1.5 0h1.5m-0.5 0h1.5m-0.5 0h1.5m0.5 0h1.5m0.5 0h1.5m0.5 0h1.5m-0.5 0h1.5m0.5 0h1.5m6.5 0h1.5m2.5 0h1.5m-0.5 0h1.5m-0.5 0h1.5m7.5 0h1.5m-0.5 0h1.5m1.5 0h1.5m0.5 0h1.5m1.5 0h1.5m-0.5 0h1.5m8.5 0h1.5m1.5 0h1.5m4.5 0h1.5m-146.5 1h1.5m13.5 0h1.5m1.5 0h1.5m13.5 0h1.5m15.5 0h1.5m4.5 0h1.5m2.5 0h1.5m1.5 0h1.5m-0.5 0h1.5m-0.5 0h1.5m6.5 0h1.5m2.5 0h1.5m-0.5 0h1.5m-0.5 0h1.5m-0.5 0h1.5m4.5 0h1.5m0.5 0h1.5m-0.5 0h1.5m0.5 0h1.5m-0.5 0h1.5m-0.5 0h1.5m0.5 0h1.5m0.5 0h1.5m9.5 0h1.5m-0.5 0h1.5m0.5 0h1.5m6.5 0h1.5m-0.5 0h1.5m0.5 0h1.5m2.5 0h1.5m5.5 0h1.5m-0.5 0h1.5m1.5 0h1.5m1.5 0h1.5m10.5 0h1.5m-136.5 1h1.5m17.5 0h1.5m5.5 0h1.5m-0.5 0h1.5m0.5 0h1.5m3.5 0h1.5m1.5 0h1.5m1.5 0h1.5m5.5 0h1.5m1.5 0h1.5m4.5 0h1.5m-0.5 0h1.5m0.5 0h1.5m-0.5 0h1.5m1.5 0h1.5m0.5 0h1.5m-0.5 0h1.5m-0.5 0h1.5m0.5 0h1.5m-0.5 0h1.5m6.5 0h1.5m-0.5 0h1.5m0.5 0h1.5m0.5 0h1.5m-0.5 0h1.5m-0.5 0h1.5m1.5 0h1.5m-0.5 0h1.5m1.5 0h1.5m-0.5 0h1.5m7.5 0h1.5m4.5 0h1.5m5.5 0h1.5m0.5 0h1.5m0.5 0h1.5m4.5 0h1.5m-147.5 1h1.5m12.5 0h1.5m8.5 0h1.5m19.5 0h1.5m2.5 0h1.5m-0.5 0h1.5m2.5 0h1.5m0.5 0h1.5m1.5 0h1.5m0.5 0h1.5m-0.5 0h1.5m2.5 0h1.5m-0.5 0h1.5m-0.5 0h1.5m1.5 0h1.5m3.5 0h1.5m0.5 0h1.5m1.5 0h1.5m-0.5 0h1.5m-0.5 0h1.5m0.5 0h1.5m-0.5 0h1.5m-0.5 0h1.5m0.5 0h1.5m3.5 0h1.5m-0.5 0h1.5m0.5 0h1.5m-0.5 0h1.5m-0.5 0h1.5m4.5 0h1.5m-0.5 0h1.5m0.5 0h1.5m0.5 0h1.5m0.5 0h1.5m-0.5 0h1.5m1.5 0h1.5m14.5 0h1.5m11.5 0h1.5m2.5 0h1.5m-132.5 1h1.5m1.5 0h1.5m8.5 0h1.5m4.5 0h1.5m-0.5 0h1.5m-0.5 0h1.5m5.5 0h1.5m2.5 0h1.5m-0.5 0h1.5m5.5 0h1.5m-0.5 0h1.5m0.5 0h1.5m-0.5 0h1.5m1.5 0h1.5m3.5 0h1.5m-0.5 0h1.5m1.5 0h1.5m0.5 0h1.5m0.5 0h1.5m0.5 0h1.5m-0.5 0h1.5m-0.5 0h1.5m1.5 0h1.5m2.5 0h1.5m2.5 0h1.5m-0.5 0h1.5m-0.5 0h1.5m3.5 0h1.5m-0.5 0h1.5m2.5 0h1.5m1.5 0h1.5m7.5 0h1.5m-0.5 0h1.5m-0.5 0h1.5m1.5 0h1.5m1.5 0h1.5m2.5 0h1.5m-0.5 0h1.5m5.5 0h1.5m10.5 0h1.5m-138.5 1h1.5m22.5 0h1.5m8.5 0h1.5m-0.5 0h1.5m3.5 0h1.5m5.5 0h1.5m-0.5 0h1.5m1.5 0h1.5m0.5 0h1.5m4.5 0h1.5m5.5 0h1.5m0.5 0h1.5m2.5 0h1.5m3.5 0h1.5m0.5 0h1.5m0.5 0h1.5m-0.5 0h1.5m-0.5 0h1.5m2.5 0h1.5m0.5 0h1.5m0.5 0h1.5m-0.5 0h1.5m7.5 0h1.5m0.5 0h1.5m5.5 0h1.5m8.5 0h1.5m1.5 0h1.5m0.5 0h1.5m13.5 0h1.5m-131.5 1h1.5m13.5 0h1.5m2.5 0h1.5m0.5 0h1.5m-0.5 0h1.5m3.5 0h1.5m-0.5 0h1.5m0.5 0h1.5m1.5 0h1.5m0.5 0h1.5m5.5 0h1.5m-0.5 0h1.5m4.5 0h1.5m-0.5 0h1.5m2.5 0h1.5m-0.5 0h1.5m0.5 0h1.5m-0.5 0h1.5m-0.5 0h1.5m-0.5 0h1.5m2.5 0h1.5m-0.5 0h1.5m1.5 0h1.5m-0.5 0h1.5m-0.5 0h1.5m1.5 0h1.5m1.5 0h1.5m1.5 0h1.5m0.5 0h1.5m-0.5 0h1.5m-0.5 0h1.5m1.5 0h1.5m2.5 0h1.5m-0.5 0h1.5m-0.5 0h1.5m4.5 0h1.5m-0.5 0h1.5m0.5 0h1.5m3.5 0h1.5m2.5 0h1.5m2.5 0h1.5m0.5 0h1.5m-116.5 1h1.5m6.5 0h1.5m11.5 0h1.5m0.5 0h1.5m3.5 0h1.5m0.5 0h1.5m3.5 0h1.5m0.5 0h1.5m1.5 0h1.5m-0.5 0h1.5m-0.5 0h1.5m-0.5 0h1.5m0.5 0h1.5m-0.5 0h1.5m2.5 0h1.5m2.5 0h1.5m10.5 0h1.5m1.5 0h1.5m2.5 0h1.5m2.5 0h1.5m0.5 0h1.5m-0.5 0h1.5m2.5 0h1.5m-0.5 0h1.5m3.5 0h1.5m-0.5 0h1.5m0.5 0h1.5m-0.5 0h1.5m0.5 0h1.5m1.5 0h1.5m0.5 0h1.5m-0.5 0h1.5m-0.5 0h1.5m1.5 0h1.5m2.5 0h1.5m1.5 0h1.5m5.5 0h1.5m0.5 0h1.5m-141.5 1h1.5m25.5 0h1.5m0.5 0h1.5m1.5 0h1.5m1.5 0h1.5m0.5 0h1.5m0.5 0h1.5m3.5 0h1.5m1.5 0h1.5m-0.5 0h1.5m4.5 0h1.5m0.5 0h1.5m3.5 0h1.5m0.5 0h1.5m0.5 0h1.5m-0.5 0h1.5m0.5 0h1.5m-0.5 0h1.5m-0.5 0h1.5m0.5 0h1.5m-0.5 0h1.5m-0.5 0h1.5m1.5 0h1.5m0.5 0h1.5m2.5 0h1.5m1.5 0h1.5m6.5 0h1.5m0.5 0h1.5m1.5 0h1.5m-0.5 0h1.5m1.5 0h1.5m-0.5 0h1.5m0.5 0h1.5m0.5 0h1.5m-0.5 0h1.5m0.5 0h1.5m1.5 0h1.5m-0.5 0h1.5m1.5 0h1.5m7.5 0h1.5m4.5 0h1.5m4.5 0h1.5m2.5 0h1.5m-0.5 0h1.5m10.5 0h1.5m-135.5 1h1.5m9.5 0h1.5m1.5 0h1.5m4.5 0h1.5m1.5 0h1.5m4.5 0h1.5m-0.5 0h1.5m1.5 0h1.5m1.5 0h1.5m1.5 0h1.5m1.5 0h1.5m-0.5 0h1.5m4.5 0h1.5m2.5 0h1.5m0.5 0h1.5m0.5 0h1.5m0.5 0h1.5m1.5 0h1.5m-0.5 0h1.5m-0.5 0h1.5m0.5 0h1.5m-0.5 0h1.5m5.5 0h1.5m2.5 0h1.5m2.5 0h1.5m6.5 0h1.5m5.5 0h1.5m-0.5 0h1.5m2.5 0h1.5m-130.5 1h1.5m30.5 0h1.5m1.5 0h1.5m6.5 0h1.5m8.5 0h1.5m-0.5 0h1.5m-0.5 0h1.5m1.5 0h1.5m-0.5 0h1.5m0.5 0h1.5m-0.5 0h1.5m0.5 0h1.5m2.5 0h1.5m0.5 0h1.5m-0.5 0h1.5m4.5 0h1.5m0.5 0h1.5m0.5 0h1.5m-0.5 0h1.5m-0.5 0h1.5m0.5 0h1.5m0.5 0h1.5m0.5 0h1.5m0.5 0h1.5m1.5 0h1.5m3.5 0h1.5m0.5 0h1.5m-0.5 0h1.5m5.5 0h1.5m0.5 0h1.5m0.5 0h1.5m0.5 0h1.5m0.5 0h1.5m1.5 0h1.5m1.5 0h1.5m0.5 0h1.5m-0.5 0h1.5m18.5 0h1.5m-130.5 1h1.5m2.5 0h1.5m7.5 0h1.5m9.5 0h1.5m1.5 0h1.5m-0.5 0h1.5m3.5 0h1.5m5.5 0h1.5m1.5 0h1.5m1.5 0h1.5m-0.5 0h1.5m-0.5 0h1.5m-0.5 0h1.5m0.5 0h1.5m-0.5 0h1.5m1.5 0h1.5m6.5 0h1.5m0.5 0h1.5m2.5 0h1.5m1.5 0h1.5m-0.5 0h1.5m-0.5 0h1.5m0.5 0h1.5m1.5 0h1.5m2.5 0h1.5m-0.5 0h1.5m0.5 0h1.5m0.5 0h1.5m-0.5 0h1.5m-0.5 0h1.5m0.5 0h1.5m-0.5 0h1.5m0.5 0h1.5m0.5 0h1.5m1.5 0h1.5m1.5 0h1.5m2.5 0h1.5m2.5 0h1.5m0.5 0h1.5m2.5 0h1.5m3.5 0h1.5m14.5 0h1.5m-134.5 1h1.5m3.5 0h1.5m-0.5 0h1.5m8.5 0h1.5m1.5 0h1.5m5.5 0h1.5m0.5 0h1.5m-0.5 0h1.5m-0.5 0h1.5m0.5 0h1.5m-0.5 0h1.5m0.5 0h1.5m2.5 0h1.5m-0.5 0h1.5m-0.5 0h1.5m-0.5 0h1.5m-0.5 0h1.5m6.5 0h1.5m1.5 0h1.5m0.5 0h1.5m2.5 0h1.5m-0.5 0h1.5m-0.5 0h1.5m0.5 0h1.5m1.5 0h1.5m-0.5 0h1.5m-0.5 0h1.5m-0.5 0h1.5m-0.5 0h1.5m-0.5 0h1.5m-0.5 0h1.5m-0.5 0h1.5m5.5 0h1.5m-0.5 0h1.5m0.5 0h1.5m-0.5 0h1.5m7.5 0h1.5m10.5 0h1.5m0.5 0h1.5m3.5 0h1.5m0.5 0h1.5m6.5 0h1.5m3.5 0h1.5m1.5 0h1.5m-134.5 1h1.5m6.5 0h1.5m8.5 0h1.5m2.5 0h1.5m2.5 0h1.5m-0.5 0h1.5m0.5 0h1.5m2.5 0h1.5m-0.5 0h1.5m0.5 0h1.5m0.5 0h1.5m-0.5 0h1.5m2.5 0h1.5m-0.5 0h1.5m-0.5 0h1.5m0.5 0h1.5m1.5 0h1.5m0.5 0h1.5m0.5 0h1.5m2.5 0h1.5m1.5 0h1.5m0.5 0h1.5m-0.5 0h1.5m3.5 0h1.5m-0.5 0h1.5m-0.5 0h1.5m-0.5 0h1.5m0.5 0h1.5m-0.5 0h1.5m10.5 0h1.5m6.5 0h1.5m1.5 0h1.5m7.5 0h1.5m10.5 0h1.5m-0.5 0h1.5m13.5 0h1.5m-135.5 1h1.5m8.5 0h1.5m11.5 0h1.5m1.5 0h1.5m-0.5 0h1.5m-0.5 0h1.5m2.5 0h1.5m-0.5 0h1.5m0.5 0h1.5m2.5 0h1.5m-0.5 0h1.5m0.5 0h1.5m-0.5 0h1.5m-0.5 0h1.5m-0.5 0h1.5m0.5 0h1.5m0.5 0h1.5m0.5 0h1.5m1.5 0h1.5m0.5 0h1.5m-0.5 0h1.5m-0.5 0h1.5m0.5 0h1.5m1.5 0h1.5m4.5 0h1.5m-0.5 0h1.5m1.5 0h1.5m1.5 0h1.5m3.5 0h1.5m3.5 0h1.5m-0.5 0h1.5m0.5 0h1.5m0.5 0h1.5m1.5 0h1.5m-0.5 0h1.5m3.5 0h1.5m3.5 0h1.5m-0.5 0h1.5m0.5 0h1.5m0.5 0h1.5m0.5 0h1.5m2.5 0h1.5m3.5 0h1.5m-130.5 1h1.5m2.5 0h1.5m2.5 0h1.5m4.5 0h1.5m19.5 0h1.5m0.5 0h1.5m0.5 0h1.5m1.5 0h1.5m0.5 0h1.5m-0.5 0h1.5m0.5 0h1.5m-0.5 0h1.5m2.5 0h1.5m0.5 0h1.5m-0.5 0h1.5m3.5 0h1.5m-0.5 0h1.5m-0.5 0h1.5m-0.5 0h1.5m-0.5 0h1.5m0.5 0h1.5m-0.5 0h1.5m-0.5 0h1.5m-0.5 0h1.5m2.5 0h1.5m-0.5 0h1.5m2.5 0h1.5m6.5 0h1.5m-0.5 0h1.5m-0.5 0h1.5m2.5 0h1.5m0.5 0h1.5m0.5 0h1.5m-0.5 0h1.5m4.5 0h1.5m-0.5 0h1.5m0.5 0h1.5m3.5 0h1.5m-107.5 1h1.5m20.5 0h1.5m0.5 0h1.5m2.5 0h1.5m3.5 0h1.5m1.5 0h1.5m0.5 0h1.5m1.5 0h1.5m-0.5 0h1.5m-0.5 0h1.5m0.5 0h1.5m2.5 0h1.5m0.5 0h1.5m0.5 0h1.5m1.5 0h1.5m0.5 0h1.5m-0.5 0h1.5m4.5 0h1.5m1.5 0h1.5m0.5 0h1.5m0.5 0h1.5m0.5 0h1.5m4.5 0h1.5m7.5 0h1.5m5.5 0h1.5m1.5 0h1.5m8.5 0h1.5m0.5 0h1.5m3.5 0h1.5m3.5 0h1.5m4.5 0h1.5m-113.5 1h1.5m7.5 0h1.5m1.5 0h1.5m0.5 0h1.5m3.5 0h1.5m1.5 0h1.5m-0.5 0h1.5m2.5 0h1.5m3.5 0h1.5m0.5 0h1.5m1.5 0h1.5m2.5 0h1.5m1.5 0h1.5m0.5 0h1.5m-0.5 0h1.5m0.5 0h1.5m-0.5 0h1.5m1.5 0h1.5m0.5 0h1.5m-0.5 0h1.5m-0.5 0h1.5m-0.5 0h1.5m1.5 0h1.5m-0.5 0h1.5m-0.5 0h1.5m-0.5 0h1.5m1.5 0h1.5m2.5 0h1.5m0.5 0h1.5m3.5 0h1.5m5.5 0h1.5m4.5 0h1.5m0.5 0h1.5m-0.5 0h1.5m5.5 0h1.5m0.5 0h1.5m-107.5 1h1.5m1.5 0h1.5m-0.5 0h1.5m4.5 0h1.5m6.5 0h1.5m17.5 0h1.5m-0.5 0h1.5m-0.5 0h1.5m-0.5 0h1.5m0.5 0h1.5m4.5 0h1.5m0.5 0h1.5m-0.5 0h1.5m-0.5 0h1.5m2.5 0h1.5m0.5 0h1.5m-0.5 0h1.5m-0.5 0h1.5m1.5 0h1.5m-0.5 0h1.5m0.5 0h1.5m5.5 0h1.5m0.5 0h1.5m4.5 0h1.5m0.5 0h1.5m1.5 0h1.5m3.5 0h1.5m3.5 0h1.5m-0.5 0h1.5m0.5 0h1.5m3.5 0h1.5m1.5 0h1.5m-107.5 1h1.5m2.5 0h1.5m5.5 0h1.5m6.5 0h1.5m-0.5 0h1.5m-0.5 0h1.5m1.5 0h1.5m0.5 0h1.5m-0.5 0h1.5m0.5 0h1.5m-0.5 0h1.5m5.5 0h1.5m-0.5 0h1.5m0.5 0h1.5m1.5 0h1.5m-0.5 0h1.5m-0.5 0h1.5m3.5 0h1.5m2.5 0h1.5m2.5 0h1.5m1.5 0h1.5m-0.5 0h1.5m-0.5 0h1.5m1.5 0h1.5m1.5 0h1.5m-0.5 0h1.5m0.5 0h1.5m-0.5 0h1.5m3.5 0h1.5m3.5 0h1.5m0.5 0h1.5m5.5 0h1.5m36.5 0h1.5m-0.5 0h1.5m-139.5 1h1.5m12.5 0h1.5m1.5 0h1.5m0.5 0h1.5m0.5 0h1.5m1.5 0h1.5m-0.5 0h1.5m6.5 0h1.5m5.5 0h1.5m-0.5 0h1.5m10.5 0h1.5m2.5 0h1.5m-0.5 0h1.5m-0.5 0h1.5m-0.5 0h1.5m1.5 0h1.5m-0.5 0h1.5m0.5 0h1.5m4.5 0h1.5m1.5 0h1.5m11.5 0h1.5m0.5 0h1.5m2.5 0h1.5m4.5 0h1.5m0.5 0h1.5m-0.5 0h1.5m5.5 0h1.5m-0.5 0h1.5m0.5 0h1.5m-154.5 1h1.5m22.5 0h1.5m12.5 0h1.5m8.5 0h1.5m3.5 0h1.5m1.5 0h1.5m-0.5 0h1.5m2.5 0h1.5m-0.5 0h1.5m2.5 0h1.5m2.5 0h1.5m-0.5 0h1.5m1.5 0h1.5m-0.5 0h1.5m0.5 0h1.5m-0.5 0h1.5m2.5 0h1.5m-0.5 0h1.5m-0.5 0h1.5m-0.5 0h1.5m1.5 0h1.5m0.5 0h1.5m0.5 0h1.5m0.5 0h1.5m0.5 0h1.5m-0.5 0h1.5m1.5 0h1.5m0.5 0h1.5m-0.5 0h1.5m4.5 0h1.5m1.5 0h1.5m4.5 0h1.5m3.5 0h1.5m0.5 0h1.5m0.5 0h1.5m3.5 0h1.5m-0.5 0h1.5m4.5 0h1.5m-0.5 0h1.5m23.5 0h1.5m5.5 0h1.5m-178.5 1h1.5m45.5 0h1.5m6.5 0h1.5m-0.5 0h1.5m0.5 0h1.5m-0.5 0h1.5m4.5 0h1.5m6.5 0h1.5m1.5 0h1.5m-0.5 0h1.5m0.5 0h1.5m2.5 0h1.5m-0.5 0h1.5m0.5 0h1.5m-0.5 0h1.5m0.5 0h1.5m2.5 0h1.5m1.5 0h1.5m2.5 0h1.5m-0.5 0h1.5m0.5 0h1.5m6.5 0h1.5m0.5 0h1.5m1.5 0h1.5m1.5 0h1.5m-0.5 0h1.5m1.5 0h1.5m6.5 0h1.5m1.5 0h1.5m0.5 0h1.5m3.5 0h1.5m3.5 0h1.5m-0.5 0h1.5m11.5 0h1.5m10.5 0h1.5m-131.5 1h1.5m7.5 0h1.5m9.5 0h1.5m0.5 0h1.5m1.5 0h1.5m-0.5 0h1.5m5.5 0h1.5m4.5 0h1.5m3.5 0h1.5m2.5 0h1.5m1.5 0h1.5m2.5 0h1.5m0.5 0h1.5m2.5 0h1.5m5.5 0h1.5m2.5 0h1.5m-0.5 0h1.5m0.5 0h1.5m-0.5 0h1.5m1.5 0h1.5m-0.5 0h1.5m3.5 0h1.5m-0.5 0h1.5m-0.5 0h1.5m2.5 0h1.5m3.5 0h1.5m4.5 0h1.5m3.5 0h1.5m-0.5 0h1.5m4.5 0h1.5m4.5 0h1.5m-117.5 1h1.5m6.5 0h1.5m14.5 0h1.5m3.5 0h1.5m-0.5 0h1.5m-0.5 0h1.5m6.5 0h1.5m0.5 0h1.5m-0.5 0h1.5m-0.5 0h1.5m1.5 0h1.5m-0.5 0h1.5m0.5 0h1.5m0.5 0h1.5m1.5 0h1.5m1.5 0h1.5m-0.5 0h1.5m1.5 0h1.5m0.5 0h1.5m-0.5 0h1.5m0.5 0h1.5m-0.5 0h1.5m2.5 0h1.5m2.5 0h1.5m1.5 0h1.5m1.5 0h1.5m0.5 0h1.5m-0.5 0h1.5m3.5 0h1.5m-0.5 0h1.5m0.5 0h1.5m2.5 0h1.5m1.5 0h1.5m2.5 0h1.5m7.5 0h1.5m6.5 0h1.5m6.5 0h1.5m-129.5 1h1.5m15.5 0h1.5m3.5 0h1.5m1.5 0h1.5m-0.5 0h1.5m-0.5 0h1.5m1.5 0h1.5m-0.5 0h1.5m-0.5 0h1.5m2.5 0h1.5m-0.5 0h1.5m2.5 0h1.5m2.5 0h1.5m-0.5 0h1.5m-0.5 0h1.5m2.5 0h1.5m0.5 0h1.5m1.5 0h1.5m0.5 0h1.5m2.5 0h1.5m0.5 0h1.5m-0.5 0h1.5m0.5 0h1.5m1.5 0h1.5m-0.5 0h1.5m-0.5 0h1.5m1.5 0h1.5m7.5 0h1.5m0.5 0h1.5m-0.5 0h1.5m8.5 0h1.5m0.5 0h1.5m1.5 0h1.5m-0.5 0h1.5m14.5 0h1.5m-135.5 1h1.5m22.5 0h1.5m5.5 0h1.5m1.5 0h1.5m3.5 0h1.5m-0.5 0h1.5m2.5 0h1.5m1.5 0h1.5m-0.5 0h1.5m5.5 0h1.5m1.5 0h1.5m-0.5 0h1.5m0.5 0h1.5m1.5 0h1.5m1.5 0h1.5m-0.5 0h1.5m4.5 0h1.5m2.5 0h1.5m-0.5 0h1.5m0.5 0h1.5m-0.5 0h1.5m-0.5 0h1.5m-0.5 0h1.5m-0.5 0h1.5m0.5 0h1.5m-0.5 0h1.5m1.5 0h1.5m1.5 0h1.5m8.5 0h1.5m4.5 0h1.5m6.5 0h1.5m1.5 0h1.5m6.5 0h1.5m-125.5 1h1.5m22.5 0h1.5m3.5 0h1.5m1.5 0h1.5m-0.5 0h1.5m0.5 0h1.5m-0.5 0h1.5m-0.5 0h1.5m1.5 0h1.5m-0.5 0h1.5m-0.5 0h1.5m0.5 0h1.5m3.5 0h1.5m4.5 0h1.5m2.5 0h1.5m1.5 0h1.5m-0.5 0h1.5m-0.5 0h1.5m-0.5 0h1.5m1.5 0h1.5m3.5 0h1.5m-0.5 0h1.5m-0.5 0h1.5m3.5 0h1.5m0.5 0h1.5m1.5 0h1.5m0.5 0h1.5m1.5 0h1.5m-0.5 0h1.5m0.5 0h1.5m6.5 0h1.5m0.5 0h1.5m3.5 0h1.5m-0.5 0h1.5m-0.5 0h1.5m7.5 0h1.5m0.5 0h1.5m9.5 0h1.5m1.5 0h1.5m0.5 0h1.5m-124.5 1h1.5m4.5 0h1.5m24.5 0h1.5m0.5 0h1.5m2.5 0h1.5m0.5 0h1.5m3.5 0h1.5m1.5 0h1.5m-0.5 0h1.5m0.5 0h1.5m-0.5 0h1.5m1.5 0h1.5m0.5 0h1.5m1.5 0h1.5m-0.5 0h1.5m0.5 0h1.5m4.5 0h1.5m-0.5 0h1.5m0.5 0h1.5m7.5 0h1.5m1.5 0h1.5m8.5 0h1.5m0.5 0h1.5m3.5 0h1.5m-98.5 1h1.5m6.5 0h1.5m6.5 0h1.5m3.5 0h1.5m8.5 0h1.5m-0.5 0h1.5m-0.5 0h1.5m0.5 0h1.5m2.5 0h1.5m-0.5 0h1.5m1.5 0h1.5m2.5 0h1.5m0.5 0h1.5m-0.5 0h1.5m2.5 0h1.5m9.5 0h1.5m2.5 0h1.5m-0.5 0h1.5m-0.5 0h1.5m-0.5 0h1.5m-0.5 0h1.5m2.5 0h1.5m4.5 0h1.5m2.5 0h1.5m0.5 0h1.5m2.5 0h1.5m1.5 0h1.5m8.5 0h1.5m-109.5 1h1.5m5.5 0h1.5m2.5 0h1.5m5.5 0h1.5m4.5 0h1.5m0.5 0h1.5m1.5 0h1.5m-0.5 0h1.5m0.5 0h1.5m2.5 0h1.5m-0.5 0h1.5m1.5 0h1.5m2.5 0h1.5m7.5 0h1.5m2.5 0h1.5m4.5 0h1.5m-0.5 0h1.5m-0.5 0h1.5m-0.5 0h1.5m0.5 0h1.5m0.5 0h1.5m7.5 0h1.5m3.5 0h1.5m3.5 0h1.5m3.5 0h1.5m4.5 0h1.5m8.5 0h1.5m0.5 0h1.5m3.5 0h1.5m-140.5 1h1.5m8.5 0h1.5m16.5 0h1.5m12.5 0h1.5m0.5 0h1.5m-0.5 0h1.5m0.5 0h1.5m0.5 0h1.5m2.5 0h1.5m9.5 0h1.5m5.5 0h1.5m-0.5 0h1.5m-0.5 0h1.5m-0.5 0h1.5m0.5 0h1.5m4.5 0h1.5m1.5 0h1.5m2.5 0h1.5m1.5 0h1.5m2.5 0h1.5m0.5 0h1.5m-0.5 0h1.5m3.5 0h1.5m0.5 0h1.5m-0.5 0h1.5m8.5 0h1.5m-102.5 1h1.5m7.5 0h1.5m7.5 0h1.5m-0.5 0h1.5m4.5 0h1.5m2.5 0h1.5m0.5 0h1.5m2.5 0h1.5m11.5 0h1.5m-0.5 0h1.5m0.5 0h1.5m0.5 0h1.5m-0.5 0h1.5m3.5 0h1.5m1.5 0h1.5m0.5 0h1.5m-0.5 0h1.5m-0.5 0h1.5m0.5 0h1.5m2.5 0h1.5m4.5 0h1.5m-0.5 0h1.5m1.5 0h1.5m1.5 0h1.5m-0.5 0h1.5m0.5 0h1.5m4.5 0h1.5m-0.5 0h1.5m11.5 0h1.5m23.5 0h1.5m-145.5 1h1.5m0.5 0h1.5m-0.5 0h1.5m3.5 0h1.5m1.5 0h1.5m0.5 0h1.5m0.5 0h1.5m4.5 0h1.5m8.5 0h1.5m3.5 0h1.5m0.5 0h1.5m7.5 0h1.5m-0.5 0h1.5m4.5 0h1.5m0.5 0h1.5m-0.5 0h1.5m-0.5 0h1.5m-0.5 0h1.5m0.5 0h1.5m3.5 0h1.5m10.5 0h1.5m9.5 0h1.5m-0.5 0h1.5m-0.5 0h1.5m-0.5 0h1.5m0.5 0h1.5m-0.5 0h1.5m18.5 0h1.5m-84.5 1h1.5m2.5 0h1.5m6.5 0h1.5m-0.5 0h1.5m3.5 0h1.5m-0.5 0h1.5m0.5 0h1.5m1.5 0h1.5m-0.5 0h1.5m-0.5 0h1.5m2.5 0h1.5m3.5 0h1.5m3.5 0h1.5m0.5 0h1.5m-0.5 0h1.5m0.5 0h1.5m-0.5 0h1.5m0.5 0h1.5m-0.5 0h1.5m-0.5 0h1.5m4.5 0h1.5m9.5 0h1.5m-0.5 0h1.5m-0.5 0h1.5m-0.5 0h1.5m4.5 0h1.5m11.5 0h1.5m-136.5 1h1.5m17.5 0h1.5m13.5 0h1.5m-0.5 0h1.5m-0.5 0h1.5m4.5 0h1.5m-0.5 0h1.5m4.5 0h1.5m0.5 0h1.5m2.5 0h1.5m-0.5 0h1.5m1.5 0h1.5m4.5 0h1.5m1.5 0h1.5m-0.5 0h1.5m0.5 0h1.5m0.5 0h1.5m-0.5 0h1.5m-0.5 0h1.5m-0.5 0h1.5m4.5 0h1.5m2.5 0h1.5m0.5 0h1.5m-0.5 0h1.5m-0.5 0h1.5m1.5 0h1.5m-0.5 0h1.5m-0.5 0h1.5m2.5 0h1.5m-0.5 0h1.5m3.5 0h1.5m-0.5 0h1.5m-0.5 0h1.5m-0.5 0h1.5m0.5 0h1.5m16.5 0h1.5m3.5 0h1.5m8.5 0h1.5m-99.5 1h1.5m12.5 0h1.5m-0.5 0h1.5m0.5 0h1.5m2.5 0h1.5m3.5 0h1.5m0.5 0h1.5m0.5 0h1.5m-0.5 0h1.5m4.5 0h1.5m-0.5 0h1.5m2.5 0h1.5m5.5 0h1.5m-0.5 0h1.5m3.5 0h1.5m1.5 0h1.5m5.5 0h1.5m2.5 0h1.5m3.5 0h1.5m2.5 0h1.5m6.5 0h1.5m-114.5 1h1.5m1.5 0h1.5m5.5 0h1.5m-0.5 0h1.5m1.5 0h1.5m6.5 0h1.5m-0.5 0h1.5m1.5 0h1.5m-0.5 0h1.5m-0.5 0h1.5m-0.5 0h1.5m0.5 0h1.5m0.5 0h1.5m-0.5 0h1.5m-0.5 0h1.5m-0.5 0h1.5m0.5 0h1.5m-0.5 0h1.5m-0.5 0h1.5m4.5 0h1.5m4.5 0h1.5m-0.5 0h1.5m1.5 0h1.5m-0.5 0h1.5m-0.5 0h1.5m0.5 0h1.5m1.5 0h1.5m1.5 0h1.5m1.5 0h1.5m1.5 0h1.5m3.5 0h1.5m-0.5 0h1.5m2.5 0h1.5m2.5 0h1.5m11.5 0h1.5m0.5 0h1.5m8.5 0h1.5m-0.5 0h1.5m7.5 0h1.5m0.5 0h1.5m-126.5 1h1.5m8.5 0h1.5m9.5 0h1.5m-0.5 0h1.5m1.5 0h1.5m3.5 0h1.5m6.5 0h1.5m-0.5 0h1.5m1.5 0h1.5m1.5 0h1.5m3.5 0h1.5m-0.5 0h1.5m2.5 0h1.5m-0.5 0h1.5m-0.5 0h1.5m0.5 0h1.5m0.5 0h1.5m1.5 0h1.5m1.5 0h1.5m-0.5 0h1.5m0.5 0h1.5m-0.5 0h1.5m3.5 0h1.5m0.5 0h1.5m1.5 0h1.5m12.5 0h1.5m1.5 0h1.5m1.5 0h1.5m-0.5 0h1.5m5.5 0h1.5m11.5 0h1.5m-0.5 0h1.5m-0.5 0h1.5m1.5 0h1.5m-125.5 1h1.5m1.5 0h1.5m11.5 0h1.5m1.5 0h1.5m3.5 0h1.5m0.5 0h1.5m4.5 0h1.5m-0.5 0h1.5m-0.5 0h1.5m-0.5 0h1.5m3.5 0h1.5m-0.5 0h1.5m0.5 0h1.5m-0.5 0h1.5m-0.5 0h1.5m-0.5 0h1.5m1.5 0h1.5m-0.5 0h1.5m-0.5 0h1.5m-0.5 0h1.5m-0.5 0h1.5m2.5 0h1.5m1.5 0h1.5m0.5 0h1.5m2.5 0h1.5m7.5 0h1.5m-0.5 0h1.5m1.5 0h1.5m-0.5 0h1.5m-0.5 0h1.5m3.5 0h1.5m1.5 0h1.5m2.5 0h1.5m5.5 0h1.5m4.5 0h1.5m3.5 0h1.5m-110.5 1h1.5m6.5 0h1.5m7.5 0h1.5m8.5 0h1.5m3.5 0h1.5m0.5 0h1.5m0.5 0h1.5m5.5 0h1.5m0.5 0h1.5m-0.5 0h1.5m-0.5 0h1.5m1.5 0h1.5m0.5 0h1.5m1.5 0h1.5m-0.5 0h1.5m-0.5 0h1.5m-0.5 0h1.5m1.5 0h1.5m-0.5 0h1.5m0.5 0h1.5m1.5 0h1.5m1.5 0h1.5m4.5 0h1.5m6.5 0h1.5m1.5 0h1.5m0.5 0h1.5m-0.5 0h1.5m0.5 0h1.5m-0.5 0h1.5m0.5 0h1.5m0.5 0h1.5m2.5 0h1.5m2.5 0h1.5m5.5 0h1.5m2.5 0h1.5m1.5 0h1.5m-118.5 1h1.5m16.5 0h1.5m0.5 0h1.5m-0.5 0h1.5m-0.5 0h1.5m-0.5 0h1.5m0.5 0h1.5m-0.5 0h1.5m1.5 0h1.5m1.5 0h1.5m0.5 0h1.5m2.5 0h1.5m-0.5 0h1.5m0.5 0h1.5m0.5 0h1.5m1.5 0h1.5m-0.5 0h1.5m-0.5 0h1.5m1.5 0h1.5m5.5 0h1.5m-0.5 0h1.5m0.5 0h1.5m-0.5 0h1.5m1.5 0h1.5m2.5 0h1.5m-0.5 0h1.5m-0.5 0h1.5m0.5 0h1.5m6.5 0h1.5m6.5 0h1.5m-0.5 0h1.5m-0.5 0h1.5m2.5 0h1.5m-102.5 1h1.5m18.5 0h1.5m-0.5 0h1.5m1.5 0h1.5m4.5 0h1.5m8.5 0h1.5m0.5 0h1.5m0.5 0h1.5m0.5 0h1.5m0.5 0h1.5m2.5 0h1.5m0.5 0h1.5m-0.5 0h1.5m-0.5 0h1.5m5.5 0h1.5m0.5 0h1.5m-0.5 0h1.5m-0.5 0h1.5m-0.5 0h1.5m2.5 0h1.5m-0.5 0h1.5m12.5 0h1.5m1.5 0h1.5m6.5 0h1.5m20.5 0h1.5m23.5 0h1.5m-135.5 1h1.5m2.5 0h1.5m3.5 0h1.5m2.5 0h1.5m10.5 0h1.5m3.5 0h1.5m0.5 0h1.5m10.5 0h1.5m-0.5 0h1.5m-0.5 0h1.5m7.5 0h1.5m6.5 0h1.5m-0.5 0h1.5m-0.5 0h1.5m-0.5 0h1.5m1.5 0h1.5m0.5 0h1.5m32.5 0h1.5m14.5 0h1.5m-138.5 1h1.5m16.5 0h1.5m0.5 0h1.5m-0.5 0h1.5m1.5 0h1.5m3.5 0h1.5m5.5 0h1.5m-0.5 0h1.5m9.5 0h1.5m2.5 0h1.5m0.5 0h1.5m-0.5 0h1.5m2.5 0h1.5m3.5 0h1.5m-0.5 0h1.5m1.5 0h1.5m-0.5 0h1.5m-0.5 0h1.5m5.5 0h1.5m2.5 0h1.5m4.5 0h1.5m6.5 0h1.5m0.5 0h1.5m31.5 0h1.5m-144.5 1h1.5m6.5 0h1.5m3.5 0h1.5m1.5 0h1.5m4.5 0h1.5m4.5 0h1.5m3.5 0h1.5m3.5 0h1.5m-0.5 0h1.5m2.5 0h1.5m8.5 0h1.5m0.5 0h1.5m0.5 0h1.5m0.5 0h1.5m1.5 0h1.5m-0.5 0h1.5m0.5 0h1.5m8.5 0h1.5m2.5 0h1.5m-0.5 0h1.5m6.5 0h1.5m4.5 0h1.5m4.5 0h1.5m0.5 0h1.5m6.5 0h1.5m8.5 0h1.5m1.5 0h1.5m-125.5 1h1.5m-0.5 0h1.5m5.5 0h1.5m9.5 0h1.5m7.5 0h1.5m4.5 0h1.5m7.5 0h1.5m3.5 0h1.5m-0.5 0h1.5m0.5 0h1.5m0.5 0h1.5m8.5 0h1.5m2.5 0h1.5m-0.5 0h1.5m0.5 0h1.5m-0.5 0h1.5m-0.5 0h1.5m-0.5 0h1.5m1.5 0h1.5m-0.5 0h1.5m1.5 0h1.5m3.5 0h1.5m4.5 0h1.5m0.5 0h1.5m9.5 0h1.5m-0.5 0h1.5m6.5 0h1.5m-0.5 0h1.5m-0.5 0h1.5m0.5 0h1.5m14.5 0h1.5m19.5 0h1.5m-135.5 1h1.5m12.5 0h1.5m-0.5 0h1.5m6.5 0h1.5m0.5 0h1.5m2.5 0h1.5m4.5 0h1.5m4.5 0h1.5m-0.5 0h1.5m-0.5 0h1.5m2.5 0h1.5m-0.5 0h1.5m2.5 0h1.5m1.5 0h1.5m-0.5 0h1.5m5.5 0h1.5m1.5 0h1.5m-0.5 0h1.5m6.5 0h1.5m4.5 0h1.5m3.5 0h1.5m0.5 0h1.5m0.5 0h1.5m6.5 0h1.5m8.5 0h1.5m-131.5 1h1.5m15.5 0h1.5m13.5 0h1.5m-0.5 0h1.5m6.5 0h1.5m11.5 0h1.5m3.5 0h1.5m1.5 0h1.5m7.5 0h1.5m6.5 0h1.5m-0.5 0h1.5m0.5 0h1.5m0.5 0h1.5m-0.5 0h1.5m1.5 0h1.5m0.5 0h1.5m2.5 0h1.5m-0.5 0h1.5m-0.5 0h1.5m7.5 0h1.5m9.5 0h1.5m15.5 0h1.5m7.5 0h1.5m13.5 0h1.5m-123.5 1h1.5m5.5 0h1.5m5.5 0h1.5m-0.5 0h1.5m-0.5 0h1.5m0.5 0h1.5m-0.5 0h1.5m5.5 0h1.5m6.5 0h1.5m5.5 0h1.5m1.5 0h1.5m-0.5 0h1.5m15.5 0h1.5m2.5 0h1.5m11.5 0h1.5m1.5 0h1.5m4.5 0h1.5m0.5 0h1.5m-90.5 1h1.5m0.5 0h1.5m1.5 0h1.5m1.5 0h1.5m-0.5 0h1.5m0.5 0h1.5m-0.5 0h1.5m1.5 0h1.5m-0.5 0h1.5m3.5 0h1.5m7.5 0h1.5m-0.5 0h1.5m3.5 0h1.5m1.5 0h1.5m2.5 0h1.5m2.5 0h1.5m4.5 0h1.5m-0.5 0h1.5m0.5 0h1.5m2.5 0h1.5m0.5 0h1.5m-0.5 0h1.5m2.5 0h1.5m-59.5 1h1.5m0.5 0h1.5m4.5 0h1.5m0.5 0h1.5m6.5 0h1.5m0.5 0h1.5m0.5 0h1.5m-0.5 0h1.5m2.5 0h1.5m-0.5 0h1.5m13.5 0h1.5m0.5 0h1.5m0.5 0h1.5m-0.5 0h1.5m0.5 0h1.5m4.5 0h1.5m2.5 0h1.5m-0.5 0h1.5m-69.5 1h1.5m1.5 0h1.5m0.5 0h1.5m6.5 0h1.5m1.5 0h1.5m-0.5 0h1.5m4.5 0h1.5m7.5 0h1.5m4.5 0h1.5m-0.5 0h1.5m0.5 0h1.5m2.5 0h1.5m-0.5 0h1.5m5.5 0h1.5m2.5 0h1.5m-0.5 0h1.5m3.5 0h1.5m-0.5 0h1.5m8.5 0h1.5m5.5 0h1.5m-103.5 1h1.5m21.5 0h1.5m9.5 0h1.5m0.5 0h1.5m-0.5 0h1.5m10.5 0h1.5m-0.5 0h1.5m-0.5 0h1.5m3.5 0h1.5m0.5 0h1.5m-0.5 0h1.5m-0.5 0h1.5m1.5 0h1.5m0.5 0h1.5m-0.5 0h1.5m-0.5 0h1.5m2.5 0h1.5m2.5 0h1.5m-0.5 0h1.5m1.5 0h1.5m0.5 0h1.5m-0.5 0h1.5m1.5 0h1.5m2.5 0h1.5m3.5 0h1.5m13.5 0h1.5m12.5 0h1.5m-144.5 1h1.5m44.5 0h1.5m3.5 0h1.5m9.5 0h1.5m1.5 0h1.5m0.5 0h1.5m-0.5 0h1.5m2.5 0h1.5m-0.5 0h1.5m3.5 0h1.5m-0.5 0h1.5m6.5 0h1.5m3.5 0h1.5m7.5 0h1.5m-0.5 0h1.5m2.5 0h1.5m8.5 0h1.5m18.5 0h1.5m-136.5 1h1.5m34.5 0h1.5m5.5 0h1.5m2.5 0h1.5m2.5 0h1.5m3.5 0h1.5m2.5 0h1.5m0.5 0h1.5m1.5 0h1.5m3.5 0h1.5m0.5 0h1.5m0.5 0h1.5m1.5 0h1.5m1.5 0h1.5m4.5 0h1.5m9.5 0h1.5m1.5 0h1.5m31.5 0h1.5m0.5 0h1.5m14.5 0h1.5m-138.5 1h1.5m14.5 0h1.5m26.5 0h1.5m2.5 0h1.5m-0.5 0h1.5m1.5 0h1.5m0.5 0h1.5m1.5 0h1.5m0.5 0h1.5m6.5 0h1.5m-0.5 0h1.5m0.5 0h1.5m16.5 0h1.5m3.5 0h1.5m-0.5 0h1.5m11.5 0h1.5m5.5 0h1.5m10.5 0h1.5m12.5 0h1.5m-129.5 1h1.5m7.5 0h1.5m-0.5 0h1.5m10.5 0h1.5m3.5 0h1.5m2.5 0h1.5m0.5 0h1.5m1.5 0h1.5m2.5 0h1.5m3.5 0h1.5m0.5 0h1.5m0.5 0h1.5m-0.5 0h1.5m1.5 0h1.5m-0.5 0h1.5m3.5 0h1.5m1.5 0h1.5m-0.5 0h1.5m1.5 0h1.5m0.5 0h1.5m9.5 0h1.5m3.5 0h1.5m6.5 0h1.5m0.5 0h1.5m12.5 0h1.5m7.5 0h1.5m-141.5 1h1.5m26.5 0h1.5m0.5 0h1.5m4.5 0h1.5m16.5 0h1.5m-0.5 0h1.5m-0.5 0h1.5m1.5 0h1.5m0.5 0h1.5m1.5 0h1.5m3.5 0h1.5m6.5 0h1.5m1.5 0h1.5m1.5 0h1.5m4.5 0h1.5m3.5 0h1.5m1.5 0h1.5m-0.5 0h1.5m6.5 0h1.5m7.5 0h1.5m4.5 0h1.5m9.5 0h1.5m1.5 0h1.5m-127.5 1h1.5m13.5 0h1.5m3.5 0h1.5m2.5 0h1.5m7.5 0h1.5m3.5 0h1.5m1.5 0h1.5m-0.5 0h1.5m6.5 0h1.5m-0.5 0h1.5m5.5 0h1.5m18.5 0h1.5m7.5 0h1.5m0.5 0h1.5m5.5 0h1.5m-83.5 1h1.5m12.5 0h1.5m-0.5 0h1.5m1.5 0h1.5m7.5 0h1.5m2.5 0h1.5m0.5 0h1.5m0.5 0h1.5m1.5 0h1.5m1.5 0h1.5m-0.5 0h1.5m0.5 0h1.5m4.5 0h1.5m-0.5 0h1.5m2.5 0h1.5m0.5 0h1.5m3.5 0h1.5m3.5 0h1.5m-0.5 0h1.5m-0.5 0h1.5m9.5 0h1.5m4.5 0h1.5m6.5 0h1.5m9.5 0h1.5m20.5 0h1.5m-115.5 1h1.5m8.5 0h1.5m18.5 0h1.5m-0.5 0h1.5m18.5 0h1.5m6.5 0h1.5m6.5 0h1.5m-80.5 1h1.5m15.5 0h1.5m3.5 0h1.5m14.5 0h1.5m9.5 0h1.5m-0.5 0h1.5m1.5 0h1.5m0.5 0h1.5m8.5 0h1.5m0.5 0h1.5m4.5 0h1.5m5.5 0h1.5m2.5 0h1.5m-99.5 1h1.5m5.5 0h1.5m10.5 0h1.5m9.5 0h1.5m16.5 0h1.5m-0.5 0h1.5m0.5 0h1.5m2.5 0h1.5m5.5 0h1.5m8.5 0h1.5m6.5 0h1.5m6.5 0h1.5m1.5 0h1.5m0.5 0h1.5m-0.5 0h1.5m15.5 0h1.5m-113.5 1h1.5m21.5 0h1.5m34.5 0h1.5m1.5 0h1.5m-0.5 0h1.5m-0.5 0h1.5m2.5 0h1.5m2.5 0h1.5m5.5 0h1.5m3.5 0h1.5m9.5 0h1.5m19.5 0h1.5m-111.5 1h1.5m27.5 0h1.5m1.5 0h1.5m6.5 0h1.5m7.5 0h1.5m9.5 0h1.5m1.5 0h1.5m2.5 0h1.5m31.5 0h1.5m-0.5 0h1.5m15.5 0h1.5m28.5 0h1.5m-188.5 1h1.5m20.5 0h1.5m20.5 0h1.5m-0.5 0h1.5m-0.5 0h1.5m2.5 0h1.5m27.5 0h1.5m2.5 0h1.5m17.5 0h1.5m0.5 0h1.5m8.5 0h1.5m7.5 0h1.5m6.5 0h1.5m3.5 0h1.5m-109.5 1h1.5m-0.5 0h1.5m25.5 0h1.5m3.5 0h1.5m1.5 0h1.5m5.5 0h1.5m-0.5 0h1.5m1.5 0h1.5m2.5 0h1.5m6.5 0h1.5m-0.5 0h1.5m-0.5 0h1.5m0.5 0h1.5m5.5 0h1.5m0.5 0h1.5m1.5 0h1.5m4.5 0h1.5m2.5 0h1.5m4.5 0h1.5m-0.5 0h1.5m0.5 0h1.5m20.5 0h1.5m33.5 0h1.5m-177.5 1h1.5m19.5 0h1.5m29.5 0h1.5m2.5 0h1.5m0.5 0h1.5m2.5 0h1.5m6.5 0h1.5m9.5 0h1.5m4.5 0h1.5m5.5 0h1.5m5.5 0h1.5m4.5 0h1.5m3.5 0h1.5m10.5 0h1.5m4.5 0h1.5m3.5 0h1.5m-110.5 1h1.5m4.5 0h1.5m6.5 0h1.5m1.5 0h1.5m22.5 0h1.5m9.5 0h1.5m-0.5 0h1.5m19.5 0h1.5m3.5 0h1.5m20.5 0h1.5m3.5 0h1.5" stroke="#0000ff" stroke-width="1.5" fill="none"/>
<path d="M821 717h1.5m-2.5 27h1.5m-1.5 10h1.5m-0.5 1h1.5m-2.5 9h1.5m-1.5 2h1.5m-8.5 1h1.5m-10.5 1h1.5m14.5 2h1.5m-67.5 2h1.5m65.5 0h1.5m-1.5 1h1.5m-2.5 1h1.5m-12.5 1h1.5m-0.5 0h1.5m9.5 0h1.5m-12.5 1h1.5m9.5 0h1.5m-44.5 2h1.5m36.5 1h1.5m-44.5 1h1.5m19.5 1h1.5m21.5 0h1.5m-26.5 1h1.5m4.5 0h1.5m17.5 0h1.5m-50.5 2h1.5m32.5 0h1.5m3.5 0h1.5m-27.5 1h1.5m1.5 0h1.5m12.5 0h1.5m20.5 0h1.5m-36.5 1h1.5m0.5 0h1.5m7.5 0h1.5m22.5 0h1.5m-57.5 2h1.5m5.5 0h1.5m10.5 0h1.5m2.5 0h1.5m-10.5 1h1.5m23.5 0h1.5m-36.5 1h1.5m17.5 0h1.5m0.5 0h1.5m6.5 0h1.5m-17.5 1h1.5m10.5 0h1.5m8.5 1h1.5m16.5 0h1.5m-27.5 1h1.5m23.5 0h1.5m-87.5 1h1.5m7.5 0h1.5m24.5 0h1.5m3.5 0h1.5m-19.5 1h1.5m6.5 0h1.5m1.5 0h1.5m14.5 0h1.5m3.5 0h1.5m0.5 0h1.5m1.5 1h1.5m26.5 0h1.5m-82.5 1h1.5m36.5 0h1.5m7.5 0h1.5m6.5 0h1.5m4.5 0h1.5m-16.5 1h1.5m3.5 0h1.5m28.5 0h1.5m-15.5 1h1.5m11.5 0h1.5m-0.5 0h1.5m-71.5 1h1.5m15.5 0h1.5m12.5 0h1.5m36.5 0h1.5m-51.5 1h1.5m28.5 0h1.5m-51.5 1h1.5m14.5 0h1.5m6.5 0h1.5m30.5 0h1.5m-48.5 1h1.5m6.5 0h1.5m5.5 0h1.5m28.5 0h1.5m-64.5 1h1.5m10.5 0h1.5m35.5 0h1.5m12.5 0h1.5m-61.5 1h1.5m4.5 0h1.5m13.5 0h1.5m31.5 0h1.5m6.5 0h1.5m-61.5 1h1.5m3.5 0h1.5m21.5 0h1.5m9.5 0h1.5m3.5 0h1.5m1.5 0h1.5m12.5 1h1.5m-25.5 1h1.5m-23.5 1h1.5m12.5 0h1.5m6.5 1h1.5m6.5 0h1.5m-24.5 1h1.5m5.5 0h1.5m8.5 0h1.5m33.5 0h1.5m-40.5 1h1.5m-40.5 1h1.5m46.5 0h1.5m15.5 0h1.5m11.5 0h1.5m-57.5 1h1.5m13.5 0h1.5m2.5 1h1.5m36.5 0h1.5m-35.5 1h1.5m1.5 0h1.5m-53.5 1h1.5m11.5 0h1.5m11.5 0h1.5m12.5 0h1.5m2.5 0h1.5m0.5 0h1.5m35.5 0h1.5m-102.5 1h1.5m39.5 0h1.5m36.5 0h1.5m-58.5 1h1.5m5.5 0h1.5m29.5 0h1.5m-30.5 1h1.5m22.5 0h1.5m44.5 0h1.5m-67.5 1h1.5m19.5 0h1.5m-26.5 1h1.5m51.5 0h1.5m15.5 1h1.5m-110.5 1h1.5m16.5 0h1.5m14.5 0h1.5m9.5 0h1.5m4.5 0h1.5m7.5 0h1.5m2.5 0h1.5m2.5 0h1.5m-42.5 1h1.5m18.5 0h1.5m11.5 0h1.5m12.5 0h1.5m-49.5 1h1.5m19.5 0h1.5m-9.5 1h1.5m13.5 0h1.5m0.5 0h1.5m3.5 0h1.5m-42.5 1h1.5m8.5 0h1.5m19.5 0h1.5m14.5 0h1.5m40.5 0h1.5m-85.5 1h1.5m0.5 0h1.5m9.5 0h1.5m8.5 0h1.5m3.5 0h1.5m-0.5 0h1.5m2.5 0h1.5m16.5 0h1.5m-20.5 1h1.5m1.5 0h1.5m46.5 0h1.5m-73.5 1h1.5m3.5 0h1.5m19.5 0h1.5m-56.5 1h1.5m2.5 0h1.5m20.5 0h1.5m1.5 0h1.5m23.5 0h1.5m6.5 0h1.5m-53.5 1h1.5m12.5 0h1.5m1.5 0h1.5m22.5 0h1.5m-0.5 0h1.5m7.5 0h1.5m-46.5 1h1.5m10.5 1h1.5m3.5 0h1.5m1.5 0h1.5m-0.5 0h1.5m17.5 0h1.5m-44.5 1h1.5m7.5 0h1.5m7.5 0h1.5m19.5 0h1.5m-20.5 1h1.5m22.5 0h1.5m22.5 0h1.5m-69.5 1h1.5m7.5 0h1.5m7.5 0h1.5m23.5 0h1.5m-34.5 1h1.5m8.5 0h1.5m6.5 0h1.5m-0.5 0h1.5m6.5 0h1.5m2.5 0h1.5m-0.5 0h1.5m-59.5 1h1.5m19.5 0h1.5m14.5 0h1.5m-0.5 0h1.5m9.5 0h1.5m53.5 0h1.5m-122.5 1h1.5m15.5 0h1.5m18.5 0h1.5m17.5 0h1.5m1.5 0h1.5m14.5 0h1.5m44.5 0h1.5m-0.5 0h1.5m-75.5 1h1.5m39.5 0h1.5m-45.5 1h1.5m7.5 0h1.5m21.5 0h1.5m-39.5 1h1.5m2.5 0h1.5m5.5 0h1.5m0.5 0h1.5m9.5 0h1.5m-43.5 1h1.5m5.5 0h1.5m32.5 0h1.5m2.5 0h1.5m4.5 0h1.5m1.5 0h1.5m-58.5 1h1.5m26.5 0h1.5m18.5 0h1.5m4.5 0h1.5m-46.5 2h1.5m6.5 0h1.5m13.5 0h1.5m0.5 0h1.5m6.5 0h1.5m7.5 0h1.5m12.5 0h1.5m2.5 0h1.5m32.5 0h1.5m-97.5 1h1.5m4.5 0h1.5m-11.5 1h1.5m23.5 0h1.5m10.5 0h1.5m0.5 0h1.5m3.5 0h1.5m-47.5 1h1.5m3.5 0h1.5m20.5 0h1.5m5.5 0h1.5m0.5 0h1.5m65.5 0h1.5m-86.5 1h1.5m82.5 0h1.5m-139.5 1h1.5m36.5 0h1.5m22.5 0h1.5m-0.5 0h1.5m1.5 0h1.5m3.5 0h1.5m13.5 0h1.5m-23.5 1h1.5m2.5 0h1.5m-14.5 1h1.5m0.5 0h1.5m30.5 0h1.5m-37.5 1h1.5m3.5 0h1.5m14.5 0h1.5m11.5 0h1.5m-0.5 0h1.5m-0.5 0h1.5m-43.5 1h1.5m5.5 0h1.5m3.5 0h1.5m7.5 0h1.5m3.5 0h1.5m2.5 0h1.5m15.5 0h1.5m-65.5 1h1.5m6.5 0h1.5m16.5 0h1.5m-0.5 0h1.5m-0.5 0h1.5m15.5 0h1.5m-29.5 1h1.5m5.5 0h1.5m1.5 0h1.5m3.5 0h1.5m2.5 0h1.5m1.5 0h1.5m-8.5 1h1.5m-27.5 1h1.5m7.5 0h1.5m13.5 0h1.5m25.5 0h1.5m-0.5 0h1.5m49.5 0h1.5m-108.5 1h1.5m12.5 0h1.5m2.5 0h1.5m38.5 0h1.5m1.5 0h1.5m-46.5 1h1.5m6.5 0h1.5m-0.5 0h1.5m41.5 0h1.5m-63.5 1h1.5m3.5 0h1.5m17.5 0h1.5m10.5 0h1.5m-48.5 1h1.5m29.5 0h1.5m-0.5 0h1.5m7.5 0h1.5m-46.5 1h1.5m37.5 0h1.5m-49.5 1h1.5m44.5 0h1.5m0.5 0h1.5m12.5 0h1.5m7.5 0h1.5m-50.5 1h1.5m0.5 0h1.5m11.5 0h1.5m-0.5 0h1.5m7.5 0h1.5m3.5 0h1.5m5.5 0h1.5m-8.5 1h1.5m1.5 0h1.5m-45.5 1h1.5m8.5 0h1.5m29.5 0h1.5m1.5 0h1.5m1.5 0h1.5m20.5 0h1.5m-66.5 1h1.5m29.5 0h1.5m10.5 0h1.5m-9.5 1h1.5m1.5 0h1.5m3.5 0h1.5m8.5 0h1.5m-51.5 1h1.5m17.5 0h1.5m1.5 0h1.5m24.5 0h1.5m-30.5 1h1.5m5.5 0h1.5m13.5 0h1.5m-26.5 1h1.5m6.5 0h1.5m-41.5 1h1.5m42.5 0h1.5m0.5 0h1.5m8.5 0h1.5m-1.5 1h1.5m-74.5 1h1.5m45.5 0h1.5m4.5 0h1.5m5.5 0h1.5m-0.5 0h1.5m-10.5 1h1.5m4.5 0h1.5m0.5 0h1.5m19.5 0h1.5m10.5 0h1.5m-41.5 1h1.5m0.5 1h1.5m14.5 0h1.5m-11.5 1h1.5m18.5 0h1.5m11.5 0h1.5m-60.5 1h1.5m15.5 0h1.5m-0.5 0h1.5m8.5 0h1.5m13.5 0h1.5m7.5 0h1.5m-19.5 1h1.5m-22.5 1h1.5m-0.5 0h1.5m15.5 0h1.5m3.5 0h1.5m9.5 0h1.5m0.5 0h1.5m-46.5 1h1.5m-7.5 1h1.5m19.5 0h1.5m-4.5 1h1.5m4.5 0h1.5m-40.5 1h1.5m0.5 0h1.5m-23.5 1h1.5m24.5 0h1.5m43.5 1h1.5m-22.5 2h1.5m-0.5 0h1.5m-1.5 1h1.5m-5.5 1h1.5m25.5 0h1.5m-32.5 1h1.5m20.5 1h1.5m-12.5 1h1.5m3.5 2h1.5m21.5 0h1.5m8.5 1h1.5m-46.5 2h1.5m-10.5 1h1.5m6.5 0h1.5m-1.5 1h1.5m-8.5 4h1.5m8.5 0h1.5m44.5 1h1.5m-65.5 2h1.5m11.5 0h1.5m12.5 0h1.5m-6.5 6h1.5" stroke="#b4ff00" stroke-width="1.5" fill="none"/>
<path d="M820 745h1.5m-1.5 16h1.5m-1.5 1h1.5m-34.5 6h1.5m31.5 1h1.5m-0.5 1h1.5m-34.5 1h1.5m27.5 0h1.5m2.5 0h1.5m-25.5 1h1.5m21.5 3h1.5m-1.5 2h1.5m-0.5 2h1.5m-5.5 1h1.5m2.5 0h1.5m-45.5 1h1.5m5.5 0h1.5m34.5 1h1.5m-0.5 0h1.5m-1.5 1h1.5m-2.5 1h1.5m-44.5 1h1.5m22.5 0h1.5m-16.5 1h1.5m33.5 0h1.5m-18.5 1h1.5m3.5 0h1.5m9.5 0h1.5m-39.5 3h1.5m11.5 0h1.5m23.5 1h1.5m-1.5 1h1.5m-0.5 0h1.5m-25.5 1h1.5m22.5 0h1.5m-65.5 1h1.5m32.5 0h1.5m1.5 0h1.5m24.5 0h1.5m-78.5 2h1.5m75.5 0h1.5m-48.5 1h1.5m46.5 0h1.5m-28.5 1h1.5m24.5 0h1.5m-60.5 1h1.5m16.5 0h1.5m39.5 0h1.5m-36.5 1h1.5m-2.5 2h1.5m34.5 0h1.5m-21.5 1h1.5m18.5 0h1.5m-0.5 0h1.5m-2.5 1h1.5m-0.5 3h1.5m-44.5 1h1.5m35.5 0h1.5m-34.5 2h1.5m36.5 0h1.5m-54.5 1h1.5m51.5 0h1.5m-1.5 1h1.5m-42.5 1h1.5m2.5 0h1.5m-8.5 2h1.5m43.5 0h1.5m-2.5 1h1.5m-73.5 1h1.5m23.5 0h1.5m45.5 0h1.5m-0.5 0h1.5m-83.5 1h1.5m80.5 0h1.5m-64.5 1h1.5m-8.5 1h1.5m68.5 0h1.5m-16.5 1h1.5m12.5 0h1.5m-0.5 2h1.5m-60.5 2h1.5m57.5 1h1.5m-48.5 1h1.5m31.5 0h1.5m-64.5 1h1.5m14.5 0h1.5m17.5 0h1.5m39.5 0h1.5m-61.5 1h1.5m-1.5 1h1.5m59.5 0h1.5m-75.5 1h1.5m9.5 0h1.5m60.5 1h1.5m-53.5 1h1.5m50.5 0h1.5m-51.5 1h1.5m49.5 1h1.5m-104.5 2h1.5m1.5 0h1.5m57.5 0h1.5m-25.5 1h1.5m14.5 0h1.5m-2.5 1h1.5m-45.5 1h1.5m7.5 0h1.5m-17.5 3h1.5m46.5 1h1.5m50.5 0h1.5m-75.5 1h1.5m-43.5 1h1.5m57.5 5h1.5m28.5 0h1.5m-50.5 1h1.5m75.5 2h1.5m-94.5 1h1.5m31.5 0h1.5m-33.5 1h1.5m9.5 1h1.5m78.5 2h1.5m-0.5 0h1.5m-91.5 1h1.5m4.5 1h1.5m14.5 0h1.5m34.5 0h1.5m-46.5 2h1.5m-3.5 1h1.5m6.5 0h1.5m68.5 0h1.5m-83.5 1h1.5m-32.5 1h1.5m15.5 0h1.5m14.5 1h1.5m-20.5 7h1.5m-12.5 4h1.5m32.5 0h1.5m-3.5 2h1.5m76.5 1h1.5m-60.5 4h1.5m-64.5 3h1.5m121.5 2h1.5m-99.5 6h1.5m10.5 3h1.5m-13.5 2h1.5m2.5 0h1.5m-12.5 6h1.5m-64.5 3h1.5m61.5 1h1.5m10.5 3h1.5" stroke="#ff0000" stroke-width="1.5" fill="none"/>
<path d="M820 766h1.3m-1.3 3h1.3m-0.3 1h1.3m-1.3 1h1.3m-2.3 2h1.3m-0.3 3h1.3m-1.3 2h1.3m-2.3 6h1.3m-0.3 0h1.3m-2.3 4h1.3m-0.3 2h1.3m-1.3 1h1.3m-2.3 4h1.3m-0.3 3h1.3m-2.3 2h1.3m-0.3 6h1.3m-2.3 3h1.3m-0.3 4h1.3m-1.3 4h1.3m-1.3 4h1.3m-2.3 1h1.3m-0.3 1h1.3m-2.3 3h1.3m-0.3 0h1.3m-1.3 1h1.3m-1.3 1h1.3m-1.3 1h1.3m-1.3 3h1.3" stroke="#0000ff" stroke-width="1.6" fill="none"/>
<path d="M821 766h1.3m-1.3 1h1.3m-1.3 7h1.3m-1.3 1h1.3m-1.3 6h1.3m-1.3 4h1.3m-2.3 1h1.3m-0.3 2h1.3m-1.3 3h1.3m-1.3 3h1.3m-2.3 5h1.3m-0.3 4h1.3m-2.3 5h1.3m-0.3 0h1.3m-1.3 1h1.3m-1.3 1h1.3m-1.3 2h1.3m-2.3 4h1.3m-0.3 3h1.3m-1.3 2h1.3m-1.3 3h1.3m-1.3 7h1.3m-1.3 1h1.3m-1.3 1h1.3" stroke="#b4ff00" stroke-width="1.6" fill="none"/>
<path d="M820 767h1.3m-0.3 4h1.3m-2.3 8h1.3m-1.3 1h1.3m-0.3 1h1.3m-2.3 4h1.3m-1.3 2h1.3m-0.3 7h1.3m-1.3 4h1.3m-2.3 2h1.3m-0.3 8h1.3m-2.3 9h1.3m-0.3 13h1.3" stroke="#ff9900" stroke-width="1.6" fill="none"/>
<path d="M821 767h1.3m-1.3 3h1.3m-1.3 1h1.3m-1.3 2h1.3m-2.3 1h1.3m-1.3 3h1.3m-0.3 0h1.3m-1.3 1h1.3m-1.3 1h1.3m-1.3 1h1.3m-1.3 2h1.3m-1.3 1h1.3m-2.3 1h1.3m-0.3 0h1.3m-2.3 4h1.3m-0.3 0h1.3m-1.3 2h1.3m-2.3 1h1.3m-1.3 1h1.3m-0.3 2h1.3m-2.3 1h1.3m-0.3 0h1.3m-2.3 2h1.3m-0.3 1h1.3m-2.3 3h1.3m-0.3 0h1.3m-1.3 1h1.3m-1.3 3h1.3m-1.3 2h1.3m-2.3 2h1.3m-0.3 0h1.3m-2.3 1h1.3m-1.3 7h1.3m-0.3 0h1.3m-1.3 1h1.3m-2.3 1h1.3m-1.3 1h1.3m-1.3 1h1.3m-0.3 0h1.3m-1.3 3h1.3m-1.3 4h1.3m-2.3 1h1.3m-0.3 0h1.3m-1.3 2h1.3m-1.3 1h1.3" stroke="#ff0000" stroke-width="1.6" fill="none"/>
<path d="M585 790h1.3m-1.3 2h1.3m-1.3 3h1.3m-1.3 3h1.3m-1.3 2h1.3m-1.3 2h1.3m-1.3 3h1.3m-1.3 3h1.3m-1.3 2h1.3m-1.3 2h1.3m-1.3 8h1.3m-1.3 2h1.3m-1.3 6h1.3m-1.3 10h1.3m-1.3 4h1.3m-1.3 6h1.3m-1.3 2h1.3m-1.3 2h1.3m-1.3 3h1.3m-1.3 5h1.3m-1.3 2h1.3m-1.3 3h1.3m-1.3 3h1.3m-1.3 4h1.3m-1.3 6h1.3m-1.3 2h1.3m-1.3 2h1.3m-1.3 3h1.3m-1.3 7h1.3m-1.3 3h1.3m-1.3 3h1.3m-1.3 2h1.3m-1.3 8h1.3m-1.3 2h1.3m-1.3 2h1.3" stroke="#0000ff" stroke-width="1.4" fill="none"/>
<path d="M585 830h1.3m-1.3 2h1.3m-1.3 38h1.3m-1.3 20h1.3m-1.3 12h1.3m-1.3 3h1.3" stroke="#b4ff00" stroke-width="1.4" fill="none"/>
<path d="M585 815h1.3m-1.3 3h1.3m-1.3 7h1.3m-1.3 10h1.3m-1.3 5h1.3m-1.3 5h1.3m-1.3 13h1.3m-1.3 17h1.3m-1.3 13h1.3" stroke="#ff0000" stroke-width="1.4" fill="none"/>
<rect x="43.2" y="671" width="263.8" height="264" fill="none" stroke="#000" stroke-width="2"/>
<rect x="312.9" y="671.3" width="263.2" height="263.2" fill="none" stroke="#000" stroke-width="2"/>
<rect x="590.8" y="670.7" width="263.7" height="263.2" fill="none" stroke="#000" stroke-width="2"/>
<path d="M298.8 691.4H249.5M244.1 691.4L236.2 831.2L196 925.1L291.7 926.4L292.9 692.6M572.7 691.4H524.5M518.7 691.4L511 829.7L470.8 925.3L566.1 926.4L567 692M846.2 690.5H797M791.4 690.5L784.5 829.7L743.5 924.4L838.7 925.9L840.2 691.4" fill="none" stroke="#000" stroke-width="2"/>
<path d="M461 1594h1.3m5.7 0h1.3m-24.3 1h1.3m1.7 0h1.3m-2.3 1h1.3m7.7 0h1.3m2.7 0h1.3m-17.3 1h1.3m3.7 1h1.3m-11.3 1h1.3m22.7 0h1.3m-24.3 1h1.3m12.7 0h1.3m3.7 0h1.3m-30.3 1h1.3m9.7 0h1.3m2.7 0h1.3m-0.3 0h1.3m2.7 0h1.3m-0.3 0h1.3m16.7 0h1.3m-22.3 1h1.3m-14.3 1h1.3m2.7 0h1.3m4.7 0h1.3m3.7 0h1.3m-17.3 1h1.3m20.7 0h1.3m5.7 0h1.3m-26.3 1h1.3m12.7 0h1.3m0.7 0h1.3m-14.3 1h1.3m1.7 0h1.3m8.7 0h1.3m-24.3 1h1.3m38.7 0h1.3m7.7 0h1.3m-39.3 1h1.3m0.7 0h1.3m6.7 0h1.3m-9.3 1h1.3m3.7 0h1.3m1.7 0h1.3m6.7 0h1.3m-8.3 1h1.3m9.7 0h1.3m-19.3 1h1.3m2.7 0h1.3m-0.3 0h1.3m2.7 0h1.3m2.7 0h1.3m0.7 0h1.3m3.7 0h1.3m-22.3 1h1.3m8.7 0h1.3m6.7 0h1.3m4.7 0h1.3m11.7 0h1.3m-30.3 1h1.3m4.7 0h1.3m0.7 0h1.3m-2.3 1h1.3m14.7 0h1.3m-11.3 1h1.3m-43.3 1h1.3m20.7 0h1.3m-17.3 1h1.3m13.7 0h1.3m7.7 0h1.3m4.7 0h1.3m-18.3 1h1.3m-18.3 1h1.3m9.7 0h1.3m12.7 0h1.3m2.7 0h1.3m4.7 0h1.3m5.7 0h1.3m7.7 1h1.3m-32.3 1h1.3m11.7 0h1.3m1.7 0h1.3m2.7 0h1.3m0.7 0h1.3m-32.3 1h1.3m11.7 0h1.3m9.7 0h1.3m-20.3 1h1.3m14.7 0h1.3m0.7 0h1.3m-22.3 1h1.3m10.7 0h1.3m18.7 0h1.3m17.7 0h1.3m-71.3 1h1.3m9.7 0h1.3m7.7 0h1.3m2.7 0h1.3m7.7 0h1.3m-0.3 0h1.3m10.7 0h1.3m-27.3 1h1.3m17.7 0h1.3m-15.3 1h1.3m-0.3 0h1.3m-0.3 0h1.3m6.7 0h1.3m1.7 0h1.3m-38.3 1h1.3m27.7 0h1.3m-0.3 0h1.3m2.7 0h1.3m0.7 0h1.3m6.7 0h1.3m9.7 0h1.3m6.7 0h1.3m-50.3 1h1.3m8.7 0h1.3m11.7 0h1.3m0.7 0h1.3m7.7 0h1.3m1.7 0h1.3m-41.3 1h1.3m2.7 0h1.3m8.7 0h1.3m6.7 0h1.3m1.7 0h1.3m-6.3 1h1.3m16.7 0h1.3m-38.3 1h1.3m4.7 0h1.3m16.7 0h1.3m-16.3 1h1.3m0.7 0h1.3m10.7 0h1.3m4.7 0h1.3m0.7 0h1.3m0.7 0h1.3m-29.3 1h1.3m1.7 0h1.3m9.7 0h1.3m-6.3 1h1.3m7.7 0h1.3m-0.3 0h1.3m-0.3 1h1.3m15.7 0h1.3m-40.3 1h1.3m0.7 0h1.3m4.7 0h1.3m24.7 0h1.3m-26.3 1h1.3m9.7 0h1.3m4.7 0h1.3m5.7 0h1.3m6.7 0h1.3m-53.3 1h1.3m5.7 0h1.3m11.7 0h1.3m-0.3 0h1.3m1.7 0h1.3m6.7 0h1.3m3.7 0h1.3m10.7 0h1.3m-18.3 1h1.3m-0.3 0h1.3m3.7 0h1.3m-17.3 1h1.3m34.7 0h1.3m-46.3 1h1.3m11.7 0h1.3m1.7 0h1.3m-26.3 1h1.3m0.7 0h1.3m11.7 0h1.3m15.7 0h1.3m-0.3 0h1.3m9.7 0h1.3m0.7 0h1.3m-23.3 1h1.3m-0.3 0h1.3m12.7 0h1.3m2.7 0h1.3m-29.3 1h1.3m-0.3 0h1.3m1.7 0h1.3m8.7 0h1.3m1.7 0h1.3m6.7 0h1.3m-21.3 1h1.3m27.7 0h1.3m-31.3 1h1.3m9.7 0h1.3m8.7 0h1.3m16.7 0h1.3m-65.3 1h1.3m15.7 0h1.3m17.7 0h1.3m16.7 0h1.3m3.7 0h1.3m-60.3 1h1.3m15.7 0h1.3m4.7 0h1.3m13.7 0h1.3m21.7 0h1.3m-39.3 1h1.3m-0.3 0h1.3m-0.3 0h1.3m11.7 0h1.3m-0.3 0h1.3m-26.3 1h1.3m11.7 0h1.3m-9.3 1h1.3m7.7 0h1.3m0.7 0h1.3m4.7 0h1.3m1.7 0h1.3m2.7 0h1.3m9.7 0h1.3m7.7 0h1.3m2.7 0h1.3m-51.3 1h1.3m14.7 0h1.3m-0.3 0h1.3m-0.3 0h1.3m12.7 0h1.3m-38.3 1h1.3m3.7 0h1.3m-0.3 0h1.3m0.7 0h1.3m11.7 0h1.3m7.7 0h1.3m4.7 0h1.3m34.7 0h1.3m-65.3 1h1.3m1.7 0h1.3m4.7 0h1.3m23.7 0h1.3m-37.3 1h1.3m-0.3 0h1.3m2.7 0h1.3m-0.3 0h1.3m1.7 0h1.3m6.7 0h1.3m-0.3 0h1.3m3.7 0h1.3m10.7 0h1.3m-44.3 1h1.3m5.7 0h1.3m-0.3 0h1.3m15.7 0h1.3m2.7 0h1.3m-0.3 0h1.3m8.7 0h1.3m3.7 0h1.3m-54.3 1h1.3m2.7 0h1.3m6.7 0h1.3m18.7 0h1.3m8.7 0h1.3m0.7 0h1.3m23.7 0h1.3m-70.3 1h1.3m7.7 0h1.3m4.7 0h1.3m3.7 0h1.3m4.7 0h1.3m2.7 0h1.3m3.7 0h1.3m-0.3 0h1.3m3.7 0h1.3m2.7 0h1.3m3.7 0h1.3m-0.3 0h1.3m0.7 0h1.3m-0.3 0h1.3m7.7 0h1.3m-55.3 1h1.3m18.7 0h1.3m1.7 0h1.3m-0.3 0h1.3m5.7 0h1.3m14.7 0h1.3m-57.3 1h1.3m-0.3 0h1.3m9.7 0h1.3m3.7 0h1.3m2.7 0h1.3m18.7 0h1.3m1.7 0h1.3m1.7 0h1.3m-38.3 1h1.3m0.7 0h1.3m15.7 0h1.3m0.7 0h1.3m5.7 0h1.3m13.7 0h1.3m6.7 0h1.3m-59.3 1h1.3m1.7 0h1.3m14.7 0h1.3m6.7 0h1.3m2.7 0h1.3m-0.3 0h1.3m1.7 0h1.3m4.7 0h1.3m-21.3 1h1.3m6.7 0h1.3m5.7 0h1.3m1.7 0h1.3m-36.3 1h1.3m6.7 0h1.3m1.7 0h1.3m-13.3 1h1.3m3.7 0h1.3m-0.3 0h1.3m13.7 0h1.3m0.7 0h1.3m10.7 0h1.3m-0.3 0h1.3m-0.3 0h1.3m17.7 0h1.3m-57.3 1h1.3m2.7 0h1.3m2.7 0h1.3m3.7 0h1.3m2.7 0h1.3m5.7 0h1.3m-0.3 0h1.3m-0.3 0h1.3m2.7 0h1.3m6.7 0h1.3m3.7 0h1.3m14.7 0h1.3m-63.3 1h1.3m3.7 0h1.3m7.7 0h1.3m2.7 0h1.3m2.7 0h1.3m4.7 0h1.3m4.7 0h1.3m3.7 0h1.3m-49.3 1h1.3m12.7 0h1.3m3.7 0h1.3m-0.3 0h1.3m4.7 0h1.3m13.7 0h1.3m4.7 0h1.3m-0.3 0h1.3m2.7 0h1.3m-35.3 1h1.3m6.7 0h1.3m1.7 0h1.3m11.7 0h1.3m4.7 0h1.3m0.7 0h1.3m1.7 0h1.3m-41.3 1h1.3m8.7 0h1.3m6.7 0h1.3m1.7 0h1.3m-0.3 0h1.3m3.7 0h1.3m2.7 0h1.3m17.7 0h1.3m-49.3 1h1.3m0.7 0h1.3m6.7 0h1.3m4.7 0h1.3m2.7 0h1.3m2.7 0h1.3m4.7 0h1.3m26.7 0h1.3m-63.3 1h1.3m1.7 0h1.3m6.7 0h1.3m0.7 0h1.3m-0.3 0h1.3m3.7 0h1.3m1.7 0h1.3m-0.3 0h1.3m-0.3 0h1.3m3.7 0h1.3m0.7 0h1.3m0.7 0h1.3m4.7 0h1.3m-0.3 0h1.3m1.7 0h1.3m10.7 0h1.3m-64.3 1h1.3m12.7 0h1.3m2.7 0h1.3m3.7 0h1.3m-0.3 0h1.3m7.7 0h1.3m2.7 0h1.3m2.7 0h1.3m23.7 0h1.3m-78.3 1h1.3m23.7 0h1.3m-0.3 0h1.3m13.7 0h1.3m5.7 0h1.3m6.7 0h1.3m5.7 0h1.3m-38.3 1h1.3m7.7 0h1.3m1.7 0h1.3m11.7 0h1.3m-30.3 1h1.3m3.7 0h1.3m8.7 0h1.3m8.7 0h1.3m0.7 0h1.3m12.7 0h1.3m-42.3 1h1.3m11.7 0h1.3m-0.3 0h1.3m1.7 0h1.3m-0.3 0h1.3m2.7 0h1.3m5.7 0h1.3m-0.3 0h1.3m-0.3 0h1.3m-0.3 0h1.3m9.7 0h1.3m7.7 0h1.3m-75.3 1h1.3m20.7 0h1.3m0.7 0h1.3m5.7 0h1.3m10.7 0h1.3m4.7 0h1.3m-0.3 0h1.3m-0.3 0h1.3m9.7 0h1.3m19.7 0h1.3m-62.3 1h1.3m6.7 0h1.3m4.7 0h1.3m-0.3 0h1.3m4.7 0h1.3m0.7 0h1.3m1.7 0h1.3m-0.3 0h1.3m1.7 0h1.3m9.7 0h1.3m16.7 0h1.3m-57.3 1h1.3m7.7 0h1.3m3.7 0h1.3m-0.3 0h1.3m1.7 0h1.3m-0.3 0h1.3m2.7 0h1.3m3.7 0h1.3m0.7 0h1.3m0.7 0h1.3m3.7 0h1.3m-65.3 1h1.3m36.7 0h1.3m2.7 0h1.3m1.7 0h1.3m-0.3 0h1.3m6.7 0h1.3m11.7 0h1.3m-72.3 1h1.3m14.7 0h1.3m8.7 0h1.3m6.7 0h1.3m3.7 0h1.3m-0.3 0h1.3m1.7 0h1.3m20.7 0h1.3m14.7 0h1.3m-54.3 1h1.3m-0.3 0h1.3m7.7 0h1.3m1.7 0h1.3m-0.3 0h1.3m1.7 0h1.3m0.7 0h1.3m2.7 0h1.3m0.7 0h1.3m7.7 0h1.3m4.7 0h1.3m1.7 0h1.3m7.7 0h1.3m-72.3 1h1.3m13.7 0h1.3m3.7 0h1.3m9.7 0h1.3m0.7 0h1.3m2.7 0h1.3m-0.3 0h1.3m6.7 0h1.3m-0.3 0h1.3m0.7 0h1.3m10.7 0h1.3m3.7 0h1.3m14.7 0h1.3m-74.3 1h1.3m2.7 0h1.3m9.7 0h1.3m0.7 0h1.3m12.7 0h1.3m2.7 0h1.3m7.7 0h1.3m1.7 0h1.3m2.7 0h1.3m15.7 0h1.3m34.7 0h1.3m-96.3 1h1.3m3.7 0h1.3m12.7 0h1.3m1.7 0h1.3m1.7 0h1.3m3.7 0h1.3m6.7 0h1.3m-0.3 0h1.3m8.7 0h1.3m37.7 0h1.3m-113.3 1h1.3m34.7 0h1.3m0.7 0h1.3m-0.3 0h1.3m0.7 0h1.3m-0.3 0h1.3m3.7 0h1.3m-0.3 0h1.3m7.7 0h1.3m0.7 0h1.3m1.7 0h1.3m3.7 0h1.3m17.7 0h1.3m0.7 0h1.3m-79.3 1h1.3m4.7 0h1.3m6.7 0h1.3m3.7 0h1.3m10.7 0h1.3m3.7 0h1.3m2.7 0h1.3m2.7 0h1.3m-39.3 1h1.3m13.7 0h1.3m4.7 0h1.3m-0.3 0h1.3m3.7 0h1.3m2.7 0h1.3m7.7 0h1.3m0.7 0h1.3m2.7 0h1.3m2.7 0h1.3m-63.3 1h1.3m20.7 0h1.3m0.7 0h1.3m10.7 0h1.3m-0.3 0h1.3m1.7 0h1.3m1.7 0h1.3m1.7 0h1.3m0.7 0h1.3m4.7 0h1.3m3.7 0h1.3m2.7 0h1.3m4.7 0h1.3m0.7 0h1.3m-47.3 1h1.3m0.7 0h1.3m3.7 0h1.3m-0.3 0h1.3m3.7 0h1.3m0.7 0h1.3m3.7 0h1.3m5.7 0h1.3m4.7 0h1.3m9.7 0h1.3m6.7 0h1.3m-53.3 1h1.3m4.7 0h1.3m-0.3 0h1.3m1.7 0h1.3m2.7 0h1.3m-0.3 0h1.3m-0.3 0h1.3m-0.3 0h1.3m-0.3 0h1.3m6.7 0h1.3m4.7 0h1.3m-0.3 0h1.3m22.7 0h1.3m-51.3 1h1.3m0.7 0h1.3m0.7 0h1.3m-0.3 0h1.3m8.7 0h1.3m-0.3 0h1.3m1.7 0h1.3m0.7 0h1.3m-0.3 0h1.3m4.7 0h1.3m4.7 0h1.3m0.7 0h1.3m6.7 0h1.3m0.7 0h1.3m-79.3 1h1.3m18.7 0h1.3m12.7 0h1.3m3.7 0h1.3m4.7 0h1.3m0.7 0h1.3m10.7 0h1.3m21.7 0h1.3m-72.3 1h1.3m1.7 0h1.3m10.7 0h1.3m6.7 0h1.3m-0.3 0h1.3m0.7 0h1.3m-0.3 0h1.3m3.7 0h1.3m2.7 0h1.3m9.7 0h1.3m1.7 0h1.3m1.7 0h1.3m3.7 0h1.3m27.7 0h1.3m-82.3 1h1.3m10.7 0h1.3m7.7 0h1.3m0.7 0h1.3m1.7 0h1.3m2.7 0h1.3m0.7 0h1.3m1.7 0h1.3m9.7 0h1.3m25.7 0h1.3m-78.3 1h1.3m6.7 0h1.3m1.7 0h1.3m11.7 0h1.3m-0.3 0h1.3m1.7 0h1.3m1.7 0h1.3m-0.3 0h1.3m-0.3 0h1.3m7.7 0h1.3m20.7 0h1.3m-85.3 1h1.3m11.7 0h1.3m8.7 0h1.3m12.7 0h1.3m1.7 0h1.3m1.7 0h1.3m0.7 0h1.3m6.7 0h1.3m1.7 0h1.3m8.7 0h1.3m0.7 0h1.3m1.7 0h1.3m0.7 0h1.3m10.7 0h1.3m-86.3 1h1.3m13.7 0h1.3m10.7 0h1.3m1.7 0h1.3m-0.3 0h1.3m3.7 0h1.3m1.7 0h1.3m-0.3 0h1.3m3.7 0h1.3m1.7 0h1.3m-0.3 0h1.3m-0.3 0h1.3m-0.3 0h1.3m6.7 0h1.3m1.7 0h1.3m5.7 0h1.3m15.7 0h1.3m31.7 0h1.3m-120.3 1h1.3m12.7 0h1.3m13.7 0h1.3m4.7 0h1.3m2.7 0h1.3m-0.3 0h1.3m1.7 0h1.3m1.7 0h1.3m3.7 0h1.3m-0.3 0h1.3m1.7 0h1.3m0.7 0h1.3m0.7 0h1.3m-0.3 0h1.3m-0.3 0h1.3m3.7 0h1.3m12.7 0h1.3m18.7 0h1.3m-95.3 1h1.3m2.7 0h1.3m26.7 0h1.3m4.7 0h1.3m0.7 0h1.3m6.7 0h1.3m0.7 0h1.3m1.7 0h1.3m0.7 0h1.3m-0.3 0h1.3m19.7 0h1.3m1.7 0h1.3m-88.3 1h1.3m4.7 0h1.3m5.7 0h1.3m4.7 0h1.3m16.7 0h1.3m2.7 0h1.3m-0.3 0h1.3m4.7 0h1.3m1.7 0h1.3m4.7 0h1.3m1.7 0h1.3m0.7 0h1.3m-0.3 0h1.3m3.7 0h1.3m1.7 0h1.3m1.7 0h1.3m-64.3 1h1.3m13.7 0h1.3m-0.3 0h1.3m14.7 0h1.3m1.7 0h1.3m-0.3 0h1.3m2.7 0h1.3m1.7 0h1.3m0.7 0h1.3m0.7 0h1.3m3.7 0h1.3m2.7 0h1.3m1.7 0h1.3m4.7 0h1.3m3.7 0h1.3m-80.3 1h1.3m6.7 0h1.3m4.7 0h1.3m8.7 0h1.3m0.7 0h1.3m2.7 0h1.3m2.7 0h1.3m1.7 0h1.3m3.7 0h1.3m-0.3 0h1.3m-0.3 0h1.3m8.7 0h1.3m-0.3 0h1.3m2.7 0h1.3m1.7 0h1.3m0.7 0h1.3m0.7 0h1.3m2.7 0h1.3m5.7 0h1.3m-0.3 0h1.3m0.7 0h1.3m9.7 0h1.3m-70.3 1h1.3m2.7 0h1.3m1.7 0h1.3m3.7 0h1.3m-0.3 0h1.3m1.7 0h1.3m-0.3 0h1.3m2.7 0h1.3m0.7 0h1.3m0.7 0h1.3m3.7 0h1.3m0.7 0h1.3m-0.3 0h1.3m0.7 0h1.3m1.7 0h1.3m0.7 0h1.3m6.7 0h1.3m2.7 0h1.3m-0.3 0h1.3m-0.3 0h1.3m-59.3 1h1.3m10.7 0h1.3m4.7 0h1.3m3.7 0h1.3m1.7 0h1.3m-0.3 0h1.3m2.7 0h1.3m7.7 0h1.3m-0.3 0h1.3m1.7 0h1.3m-0.3 0h1.3m-0.3 0h1.3m1.7 0h1.3m0.7 0h1.3m4.7 0h1.3m3.7 0h1.3m3.7 0h1.3m5.7 0h1.3m-93.3 1h1.3m2.7 0h1.3m19.7 0h1.3m1.7 0h1.3m13.7 0h1.3m1.7 0h1.3m3.7 0h1.3m-0.3 0h1.3m3.7 0h1.3m-0.3 0h1.3m-0.3 0h1.3m-0.3 0h1.3m-0.3 0h1.3m-0.3 0h1.3m-0.3 0h1.3m-0.3 0h1.3m10.7 0h1.3m-0.3 0h1.3m0.7 0h1.3m-79.3 1h1.3m1.7 0h1.3m-0.3 0h1.3m3.7 0h1.3m2.7 0h1.3m12.7 0h1.3m2.7 0h1.3m3.7 0h1.3m3.7 0h1.3m1.7 0h1.3m9.7 0h1.3m0.7 0h1.3m0.7 0h1.3m0.7 0h1.3m0.7 0h1.3m2.7 0h1.3m0.7 0h1.3m7.7 0h1.3m-0.3 0h1.3m5.7 0h1.3m-84.3 1h1.3m1.7 0h1.3m7.7 0h1.3m4.7 0h1.3m2.7 0h1.3m6.7 0h1.3m-0.3 0h1.3m-0.3 0h1.3m-0.3 0h1.3m6.7 0h1.3m1.7 0h1.3m-0.3 0h1.3m0.7 0h1.3m-0.3 0h1.3m7.7 0h1.3m1.7 0h1.3m3.7 0h1.3m1.7 0h1.3m-75.3 1h1.3m4.7 0h1.3m7.7 0h1.3m4.7 0h1.3m-0.3 0h1.3m6.7 0h1.3m1.7 0h1.3m0.7 0h1.3m-0.3 0h1.3m0.7 0h1.3m-0.3 0h1.3m-0.3 0h1.3m4.7 0h1.3m0.7 0h1.3m-0.3 0h1.3m0.7 0h1.3m2.7 0h1.3m9.7 0h1.3m1.7 0h1.3m-0.3 0h1.3m2.7 0h1.3m-65.3 1h1.3m12.7 0h1.3m3.7 0h1.3m8.7 0h1.3m5.7 0h1.3m1.7 0h1.3m-0.3 0h1.3m1.7 0h1.3m0.7 0h1.3m-0.3 0h1.3m1.7 0h1.3m2.7 0h1.3m0.7 0h1.3m0.7 0h1.3m-65.3 1h1.3m7.7 0h1.3m15.7 0h1.3m0.7 0h1.3m0.7 0h1.3m2.7 0h1.3m1.7 0h1.3m0.7 0h1.3m1.7 0h1.3m4.7 0h1.3m2.7 0h1.3m-0.3 0h1.3m6.7 0h1.3m2.7 0h1.3m-0.3 0h1.3m0.7 0h1.3m1.7 0h1.3m-0.3 0h1.3m4.7 0h1.3m54.7 0h1.3m-124.3 1h1.3m0.7 0h1.3m4.7 0h1.3m-0.3 0h1.3m7.7 0h1.3m3.7 0h1.3m-0.3 0h1.3m-0.3 0h1.3m-0.3 0h1.3m0.7 0h1.3m0.7 0h1.3m0.7 0h1.3m0.7 0h1.3m-0.3 0h1.3m-0.3 0h1.3m5.7 0h1.3m0.7 0h1.3m0.7 0h1.3m1.7 0h1.3m1.7 0h1.3m1.7 0h1.3m-0.3 0h1.3m3.7 0h1.3m3.7 0h1.3m4.7 0h1.3m11.7 0h1.3m-92.3 1h1.3m-0.3 0h1.3m4.7 0h1.3m1.7 0h1.3m0.7 0h1.3m0.7 0h1.3m1.7 0h1.3m-0.3 0h1.3m5.7 0h1.3m-0.3 0h1.3m0.7 0h1.3m1.7 0h1.3m0.7 0h1.3m3.7 0h1.3m3.7 0h1.3m0.7 0h1.3m-0.3 0h1.3m-0.3 0h1.3m-0.3 0h1.3m1.7 0h1.3m8.7 0h1.3m4.7 0h1.3m1.7 0h1.3m2.7 0h1.3m0.7 0h1.3m2.7 0h1.3m-88.3 1h1.3m1.7 0h1.3m1.7 0h1.3m3.7 0h1.3m8.7 0h1.3m-0.3 0h1.3m0.7 0h1.3m-0.3 0h1.3m0.7 0h1.3m-0.3 0h1.3m2.7 0h1.3m0.7 0h1.3m-0.3 0h1.3m0.7 0h1.3m6.7 0h1.3m-0.3 0h1.3m0.7 0h1.3m2.7 0h1.3m-0.3 0h1.3m-0.3 0h1.3m-0.3 0h1.3m0.7 0h1.3m2.7 0h1.3m0.7 0h1.3m0.7 0h1.3m1.7 0h1.3m5.7 0h1.3m5.7 0h1.3m-0.3 0h1.3m4.7 0h1.3m-88.3 1h1.3m3.7 0h1.3m-0.3 0h1.3m1.7 0h1.3m2.7 0h1.3m1.7 0h1.3m4.7 0h1.3m2.7 0h1.3m0.7 0h1.3m1.7 0h1.3m2.7 0h1.3m-0.3 0h1.3m4.7 0h1.3m1.7 0h1.3m1.7 0h1.3m6.7 0h1.3m3.7 0h1.3m-0.3 0h1.3m3.7 0h1.3m0.7 0h1.3m1.7 0h1.3m15.7 0h1.3m-91.3 1h1.3m1.7 0h1.3m11.7 0h1.3m2.7 0h1.3m1.7 0h1.3m1.7 0h1.3m-0.3 0h1.3m0.7 0h1.3m7.7 0h1.3m0.7 0h1.3m-0.3 0h1.3m-0.3 0h1.3m1.7 0h1.3m3.7 0h1.3m1.7 0h1.3m-0.3 0h1.3m0.7 0h1.3m0.7 0h1.3m0.7 0h1.3m-0.3 0h1.3m0.7 0h1.3m0.7 0h1.3m3.7 0h1.3m1.7 0h1.3m1.7 0h1.3m-0.3 0h1.3m-81.3 1h1.3m2.7 0h1.3m0.7 0h1.3m1.7 0h1.3m-0.3 0h1.3m4.7 0h1.3m-0.3 0h1.3m4.7 0h1.3m3.7 0h1.3m5.7 0h1.3m1.7 0h1.3m-0.3 0h1.3m-0.3 0h1.3m1.7 0h1.3m-0.3 0h1.3m-0.3 0h1.3m6.7 0h1.3m-0.3 0h1.3m0.7 0h1.3m1.7 0h1.3m-0.3 0h1.3m-0.3 0h1.3m-0.3 0h1.3m-0.3 0h1.3m0.7 0h1.3m1.7 0h1.3m4.7 0h1.3m-0.3 0h1.3m7.7 0h1.3m4.7 0h1.3m0.7 0h1.3m-84.3 1h1.3m0.7 0h1.3m16.7 0h1.3m-0.3 0h1.3m0.7 0h1.3m1.7 0h1.3m0.7 0h1.3m4.7 0h1.3m8.7 0h1.3m-0.3 0h1.3m0.7 0h1.3m1.7 0h1.3m-0.3 0h1.3m3.7 0h1.3m4.7 0h1.3m2.7 0h1.3m1.7 0h1.3m-0.3 0h1.3m2.7 0h1.3m-0.3 0h1.3m8.7 0h1.3m-94.3 1h1.3m6.7 0h1.3m10.7 0h1.3m0.7 0h1.3m-0.3 0h1.3m-0.3 0h1.3m2.7 0h1.3m-0.3 0h1.3m-0.3 0h1.3m2.7 0h1.3m1.7 0h1.3m-0.3 0h1.3m-0.3 0h1.3m-0.3 0h1.3m1.7 0h1.3m-0.3 0h1.3m0.7 0h1.3m-0.3 0h1.3m1.7 0h1.3m0.7 0h1.3m-0.3 0h1.3m5.7 0h1.3m3.7 0h1.3m-0.3 0h1.3m-0.3 0h1.3m2.7 0h1.3m5.7 0h1.3m1.7 0h1.3m7.7 0h1.3m3.7 0h1.3m-96.3 1h1.3m2.7 0h1.3m-0.3 0h1.3m0.7 0h1.3m0.7 0h1.3m4.7 0h1.3m4.7 0h1.3m2.7 0h1.3m0.7 0h1.3m0.7 0h1.3m2.7 0h1.3m3.7 0h1.3m3.7 0h1.3m2.7 0h1.3m-0.3 0h1.3m0.7 0h1.3m-0.3 0h1.3m0.7 0h1.3m1.7 0h1.3m-0.3 0h1.3m-0.3 0h1.3m2.7 0h1.3m-0.3 0h1.3m-0.3 0h1.3m0.7 0h1.3m-0.3 0h1.3m1.7 0h1.3m-0.3 0h1.3m-0.3 0h1.3m1.7 0h1.3m3.7 0h1.3m9.7 0h1.3m6.7 0h1.3m-98.3 1h1.3m-0.3 0h1.3m1.7 0h1.3m6.7 0h1.3m2.7 0h1.3m0.7 0h1.3m-0.3 0h1.3m0.7 0h1.3m4.7 0h1.3m-0.3 0h1.3m-0.3 0h1.3m4.7 0h1.3m0.7 0h1.3m-0.3 0h1.3m-0.3 0h1.3m-0.3 0h1.3m-0.3 0h1.3m0.7 0h1.3m-0.3 0h1.3m4.7 0h1.3m2.7 0h1.3m-0.3 0h1.3m4.7 0h1.3m4.7 0h1.3m4.7 0h1.3m1.7 0h1.3m0.7 0h1.3m0.7 0h1.3m2.7 0h1.3m4.7 0h1.3m-92.3 1h1.3m1.7 0h1.3m0.7 0h1.3m-0.3 0h1.3m7.7 0h1.3m0.7 0h1.3m-0.3 0h1.3m4.7 0h1.3m-0.3 0h1.3m0.7 0h1.3m4.7 0h1.3m0.7 0h1.3m-0.3 0h1.3m-0.3 0h1.3m-0.3 0h1.3m1.7 0h1.3m1.7 0h1.3m0.7 0h1.3m5.7 0h1.3m-0.3 0h1.3m2.7 0h1.3m1.7 0h1.3m-0.3 0h1.3m4.7 0h1.3m0.7 0h1.3m1.7 0h1.3m-0.3 0h1.3m19.7 0h1.3m3.7 0h1.3m-100.3 1h1.3m-0.3 0h1.3m1.7 0h1.3m-0.3 0h1.3m0.7 0h1.3m-0.3 0h1.3m2.7 0h1.3m-0.3 0h1.3m-0.3 0h1.3m-0.3 0h1.3m1.7 0h1.3m-0.3 0h1.3m0.7 0h1.3m1.7 0h1.3m1.7 0h1.3m1.7 0h1.3m1.7 0h1.3m0.7 0h1.3m3.7 0h1.3m-0.3 0h1.3m1.7 0h1.3m-0.3 0h1.3m-0.3 0h1.3m1.7 0h1.3m0.7 0h1.3m0.7 0h1.3m-0.3 0h1.3m-0.3 0h1.3m-0.3 0h1.3m-0.3 0h1.3m0.7 0h1.3m0.7 0h1.3m0.7 0h1.3m0.7 0h1.3m3.7 0h1.3m-0.3 0h1.3m-0.3 0h1.3m-0.3 0h1.3m1.7 0h1.3m1.7 0h1.3m1.7 0h1.3m-0.3 0h1.3m0.7 0h1.3m-0.3 0h1.3m1.7 0h1.3m-92.3 1h1.3m-0.3 0h1.3m12.7 0h1.3m-0.3 0h1.3m0.7 0h1.3m1.7 0h1.3m2.7 0h1.3m4.7 0h1.3m1.7 0h1.3m0.7 0h1.3m-0.3 0h1.3m-0.3 0h1.3m-0.3 0h1.3m0.7 0h1.3m1.7 0h1.3m-0.3 0h1.3m1.7 0h1.3m5.7 0h1.3m1.7 0h1.3m0.7 0h1.3m1.7 0h1.3m0.7 0h1.3m2.7 0h1.3m0.7 0h1.3m1.7 0h1.3m0.7 0h1.3m1.7 0h1.3m-0.3 0h1.3m-0.3 0h1.3m0.7 0h1.3m0.7 0h1.3m0.7 0h1.3m4.7 0h1.3m1.7 0h1.3m0.7 0h1.3m1.7 0h1.3m-97.3 1h1.3m0.7 0h1.3m6.7 0h1.3m0.7 0h1.3m0.7 0h1.3m2.7 0h1.3m1.7 0h1.3m-0.3 0h1.3m3.7 0h1.3m-0.3 0h1.3m0.7 0h1.3m3.7 0h1.3m-0.3 0h1.3m0.7 0h1.3m-0.3 0h1.3m1.7 0h1.3m0.7 0h1.3m7.7 0h1.3m1.7 0h1.3m0.7 0h1.3m2.7 0h1.3m-0.3 0h1.3m-0.3 0h1.3m-0.3 0h1.3m0.7 0h1.3m1.7 0h1.3m6.7 0h1.3m0.7 0h1.3m-0.3 0h1.3m1.7 0h1.3m8.7 0h1.3m-100.3 1h1.3m-0.3 0h1.3m3.7 0h1.3m3.7 0h1.3m3.7 0h1.3m5.7 0h1.3m3.7 0h1.3m-0.3 0h1.3m1.7 0h1.3m-0.3 0h1.3m0.7 0h1.3m7.7 0h1.3m-0.3 0h1.3m-0.3 0h1.3m1.7 0h1.3m-0.3 0h1.3m5.7 0h1.3m-0.3 0h1.3m2.7 0h1.3m1.7 0h1.3m0.7 0h1.3m-0.3 0h1.3m1.7 0h1.3m0.7 0h1.3m2.7 0h1.3m1.7 0h1.3m1.7 0h1.3m-0.3 0h1.3m3.7 0h1.3m8.7 0h1.3m2.7 0h1.3m-104.3 1h1.3m12.7 0h1.3m3.7 0h1.3m5.7 0h1.3m6.7 0h1.3m1.7 0h1.3m1.7 0h1.3m0.7 0h1.3m0.7 0h1.3m0.7 0h1.3m0.7 0h1.3m0.7 0h1.3m-0.3 0h1.3m1.7 0h1.3m0.7 0h1.3m0.7 0h1.3m0.7 0h1.3m-0.3 0h1.3m-0.3 0h1.3m-0.3 0h1.3m-0.3 0h1.3m-0.3 0h1.3m0.7 0h1.3m2.7 0h1.3m-0.3 0h1.3m5.7 0h1.3m1.7 0h1.3m-0.3 0h1.3m2.7 0h1.3m-0.3 0h1.3m-0.3 0h1.3m-0.3 0h1.3m2.7 0h1.3m19.7 0h1.3m-116.3 1h1.3m-0.3 0h1.3m-0.3 0h1.3m0.7 0h1.3m0.7 0h1.3m0.7 0h1.3m-0.3 0h1.3m-0.3 0h1.3m2.7 0h1.3m1.7 0h1.3m2.7 0h1.3m1.7 0h1.3m-0.3 0h1.3m0.7 0h1.3m2.7 0h1.3m0.7 0h1.3m-0.3 0h1.3m5.7 0h1.3m-0.3 0h1.3m-0.3 0h1.3m3.7 0h1.3m-0.3 0h1.3m-0.3 0h1.3m-0.3 0h1.3m2.7 0h1.3m-0.3 0h1.3m3.7 0h1.3m1.7 0h1.3m-0.3 0h1.3m0.7 0h1.3m0.7 0h1.3m5.7 0h1.3m-0.3 0h1.3m0.7 0h1.3m1.7 0h1.3m0.7 0h1.3m0.7 0h1.3m0.7 0h1.3m2.7 0h1.3m2.7 0h1.3m1.7 0h1.3m-0.3 0h1.3m-0.3 0h1.3m14.7 0h1.3m-117.3 1h1.3m0.7 0h1.3m0.7 0h1.3m1.7 0h1.3m1.7 0h1.3m0.7 0h1.3m0.7 0h1.3m1.7 0h1.3m0.7 0h1.3m-0.3 0h1.3m-0.3 0h1.3m0.7 0h1.3m1.7 0h1.3m0.7 0h1.3m0.7 0h1.3m4.7 0h1.3m0.7 0h1.3m-0.3 0h1.3m0.7 0h1.3m-0.3 0h1.3m-0.3 0h1.3m2.7 0h1.3m3.7 0h1.3m7.7 0h1.3m-0.3 0h1.3m-0.3 0h1.3m0.7 0h1.3m0.7 0h1.3m0.7 0h1.3m-0.3 0h1.3m0.7 0h1.3m-0.3 0h1.3m-0.3 0h1.3m0.7 0h1.3m1.7 0h1.3m1.7 0h1.3m27.7 0h1.3m-112.3 1h1.3m1.7 0h1.3m8.7 0h1.3m2.7 0h1.3m-0.3 0h1.3m-0.3 0h1.3m0.7 0h1.3m-0.3 0h1.3m0.7 0h1.3m0.7 0h1.3m-0.3 0h1.3m-0.3 0h1.3m-0.3 0h1.3m-0.3 0h1.3m-0.3 0h1.3m-0.3 0h1.3m1.7 0h1.3m-0.3 0h1.3m1.7 0h1.3m-0.3 0h1.3m-0.3 0h1.3m1.7 0h1.3m0.7 0h1.3m4.7 0h1.3m1.7 0h1.3m2.7 0h1.3m-0.3 0h1.3m1.7 0h1.3m-0.3 0h1.3m8.7 0h1.3m-0.3 0h1.3m-0.3 0h1.3m0.7 0h1.3m0.7 0h1.3m2.7 0h1.3m0.7 0h1.3m0.7 0h1.3m-0.3 0h1.3m8.7 0h1.3m3.7 0h1.3m-0.3 0h1.3m-107.3 1h1.3m-0.3 0h1.3m-0.3 0h1.3m0.7 0h1.3m1.7 0h1.3m-0.3 0h1.3m5.7 0h1.3m3.7 0h1.3m-0.3 0h1.3m-0.3 0h1.3m1.7 0h1.3m1.7 0h1.3m0.7 0h1.3m3.7 0h1.3m0.7 0h1.3m0.7 0h1.3m5.7 0h1.3m0.7 0h1.3m5.7 0h1.3m1.7 0h1.3m3.7 0h1.3m0.7 0h1.3m2.7 0h1.3m2.7 0h1.3m-0.3 0h1.3m-0.3 0h1.3m0.7 0h1.3m-0.3 0h1.3m6.7 0h1.3m0.7 0h1.3m11.7 0h1.3m-100.3 1h1.3m-0.3 0h1.3m-0.3 0h1.3m0.7 0h1.3m1.7 0h1.3m1.7 0h1.3m9.7 0h1.3m0.7 0h1.3m-0.3 0h1.3m1.7 0h1.3m1.7 0h1.3m3.7 0h1.3m2.7 0h1.3m-0.3 0h1.3m-0.3 0h1.3m-0.3 0h1.3m-0.3 0h1.3m1.7 0h1.3m4.7 0h1.3m1.7 0h1.3m-0.3 0h1.3m0.7 0h1.3m-0.3 0h1.3m0.7 0h1.3m-0.3 0h1.3m-0.3 0h1.3m-0.3 0h1.3m1.7 0h1.3m1.7 0h1.3m1.7 0h1.3m1.7 0h1.3m0.7 0h1.3m3.7 0h1.3m-0.3 0h1.3m0.7 0h1.3m-87.3 1h1.3m1.7 0h1.3m-0.3 0h1.3m-0.3 0h1.3m-0.3 0h1.3m1.7 0h1.3m-0.3 0h1.3m-0.3 0h1.3m-0.3 0h1.3m-0.3 0h1.3m2.7 0h1.3m0.7 0h1.3m-0.3 0h1.3m-0.3 0h1.3m-0.3 0h1.3m3.7 0h1.3m3.7 0h1.3m1.7 0h1.3m1.7 0h1.3m-0.3 0h1.3m0.7 0h1.3m-0.3 0h1.3m1.7 0h1.3m0.7 0h1.3m2.7 0h1.3m1.7 0h1.3m-0.3 0h1.3m1.7 0h1.3m-0.3 0h1.3m1.7 0h1.3m-0.3 0h1.3m-0.3 0h1.3m0.7 0h1.3m-0.3 0h1.3m0.7 0h1.3m-0.3 0h1.3m-0.3 0h1.3m-0.3 0h1.3m-0.3 0h1.3m-0.3 0h1.3m3.7 0h1.3m-0.3 0h1.3m-0.3 0h1.3m-0.3 0h1.3m-0.3 0h1.3m0.7 0h1.3m11.7 0h1.3m-100.3 1h1.3m-0.3 0h1.3m-0.3 0h1.3m3.7 0h1.3m0.7 0h1.3m-0.3 0h1.3m0.7 0h1.3m0.7 0h1.3m-0.3 0h1.3m0.7 0h1.3m1.7 0h1.3m-0.3 0h1.3m1.7 0h1.3m-0.3 0h1.3m0.7 0h1.3m4.7 0h1.3m-0.3 0h1.3m1.7 0h1.3m3.7 0h1.3m-0.3 0h1.3m8.7 0h1.3m0.7 0h1.3m-0.3 0h1.3m0.7 0h1.3m-0.3 0h1.3m0.7 0h1.3m-0.3 0h1.3m2.7 0h1.3m0.7 0h1.3m14.7 0h1.3m5.7 0h1.3m-0.3 0h1.3m-0.3 0h1.3m-96.3 1h1.3m-0.3 0h1.3m0.7 0h1.3m-0.3 0h1.3m-0.3 0h1.3m0.7 0h1.3m-0.3 0h1.3m0.7 0h1.3m2.7 0h1.3m0.7 0h1.3m2.7 0h1.3m0.7 0h1.3m0.7 0h1.3m7.7 0h1.3m-0.3 0h1.3m-0.3 0h1.3m1.7 0h1.3m-0.3 0h1.3m1.7 0h1.3m0.7 0h1.3m-0.3 0h1.3m3.7 0h1.3m0.7 0h1.3m-0.3 0h1.3m-0.3 0h1.3m-0.3 0h1.3m-0.3 0h1.3m-0.3 0h1.3m1.7 0h1.3m7.7 0h1.3m3.7 0h1.3m0.7 0h1.3m-0.3 0h1.3m-0.3 0h1.3m-0.3 0h1.3m5.7 0h1.3m4.7 0h1.3m2.7 0h1.3m1.7 0h1.3m-0.3 0h1.3m-0.3 0h1.3m-100.3 1h1.3m1.7 0h1.3m0.7 0h1.3m-0.3 0h1.3m1.7 0h1.3m1.7 0h1.3m3.7 0h1.3m3.7 0h1.3m-0.3 0h1.3m0.7 0h1.3m1.7 0h1.3m-0.3 0h1.3m1.7 0h1.3m4.7 0h1.3m3.7 0h1.3m0.7 0h1.3m0.7 0h1.3m-0.3 0h1.3m1.7 0h1.3m-0.3 0h1.3m2.7 0h1.3m1.7 0h1.3m0.7 0h1.3m-0.3 0h1.3m1.7 0h1.3m0.7 0h1.3m-0.3 0h1.3m-0.3 0h1.3m-0.3 0h1.3m-0.3 0h1.3m0.7 0h1.3m-0.3 0h1.3m1.7 0h1.3m3.7 0h1.3m0.7 0h1.3m1.7 0h1.3m3.7 0h1.3m3.7 0h1.3m1.7 0h1.3m-103.3 1h1.3m0.7 0h1.3m1.7 0h1.3m0.7 0h1.3m3.7 0h1.3m0.7 0h1.3m0.7 0h1.3m-0.3 0h1.3m0.7 0h1.3m-0.3 0h1.3m-0.3 0h1.3m7.7 0h1.3m2.7 0h1.3m1.7 0h1.3m2.7 0h1.3m3.7 0h1.3m0.7 0h1.3m0.7 0h1.3m0.7 0h1.3m0.7 0h1.3m6.7 0h1.3m0.7 0h1.3m2.7 0h1.3m1.7 0h1.3m2.7 0h1.3m7.7 0h1.3m0.7 0h1.3m8.7 0h1.3m-97.3 1h1.3m-0.3 0h1.3m-0.3 0h1.3m0.7 0h1.3m0.7 0h1.3m-0.3 0h1.3m-0.3 0h1.3m0.7 0h1.3m-0.3 0h1.3m3.7 0h1.3m3.7 0h1.3m5.7 0h1.3m7.7 0h1.3m7.7 0h1.3m0.7 0h1.3m-0.3 0h1.3m-0.3 0h1.3m-0.3 0h1.3m0.7 0h1.3m0.7 0h1.3m-0.3 0h1.3m-0.3 0h1.3m0.7 0h1.3m4.7 0h1.3m3.7 0h1.3m1.7 0h1.3m-0.3 0h1.3m-0.3 0h1.3m-0.3 0h1.3m2.7 0h1.3m-0.3 0h1.3m0.7 0h1.3m0.7 0h1.3m-0.3 0h1.3m1.7 0h1.3m0.7 0h1.3m-0.3 0h1.3m-0.3 0h1.3m3.7 0h1.3m-95.3 1h1.3m-0.3 0h1.3m-0.3 0h1.3m-0.3 0h1.3m7.7 0h1.3m0.7 0h1.3m1.7 0h1.3m4.7 0h1.3m2.7 0h1.3m-0.3 0h1.3m-0.3 0h1.3m-0.3 0h1.3m0.7 0h1.3m-0.3 0h1.3m3.7 0h1.3m2.7 0h1.3m1.7 0h1.3m7.7 0h1.3m3.7 0h1.3m-0.3 0h1.3m0.7 0h1.3m1.7 0h1.3m-0.3 0h1.3m-0.3 0h1.3m3.7 0h1.3m2.7 0h1.3m15.7 0h1.3m-98.3 1h1.3m0.7 0h1.3m-0.3 0h1.3m-0.3 0h1.3m-0.3 0h1.3m0.7 0h1.3m-0.3 0h1.3m3.7 0h1.3m0.7 0h1.3m0.7 0h1.3m2.7 0h1.3m8.7 0h1.3m0.7 0h1.3m0.7 0h1.3m-0.3 0h1.3m-0.3 0h1.3m9.7 0h1.3m1.7 0h1.3m-0.3 0h1.3m-0.3 0h1.3m2.7 0h1.3m0.7 0h1.3m2.7 0h1.3m4.7 0h1.3m-0.3 0h1.3m2.7 0h1.3m-0.3 0h1.3m2.7 0h1.3m0.7 0h1.3m0.7 0h1.3m0.7 0h1.3m0.7 0h1.3m0.7 0h1.3m-0.3 0h1.3m2.7 0h1.3m2.7 0h1.3m11.7 0h1.3m-111.3 1h1.3m0.7 0h1.3m-0.3 0h1.3m1.7 0h1.3m-0.3 0h1.3m1.7 0h1.3m1.7 0h1.3m-0.3 0h1.3m5.7 0h1.3m3.7 0h1.3m-0.3 0h1.3m1.7 0h1.3m6.7 0h1.3m2.7 0h1.3m0.7 0h1.3m0.7 0h1.3m0.7 0h1.3m-0.3 0h1.3m1.7 0h1.3m-0.3 0h1.3m-0.3 0h1.3m3.7 0h1.3m7.7 0h1.3m1.7 0h1.3m1.7 0h1.3m-0.3 0h1.3m1.7 0h1.3m-0.3 0h1.3m-0.3 0h1.3m3.7 0h1.3m-0.3 0h1.3m2.7 0h1.3m0.7 0h1.3m-0.3 0h1.3m1.7 0h1.3m3.7 0h1.3m3.7 0h1.3m-108.3 1h1.3m-0.3 0h1.3m-0.3 0h1.3m-0.3 0h1.3m-0.3 0h1.3m0.7 0h1.3m1.7 0h1.3m0.7 0h1.3m0.7 0h1.3m0.7 0h1.3m-0.3 0h1.3m2.7 0h1.3m-0.3 0h1.3m-0.3 0h1.3m-0.3 0h1.3m-0.3 0h1.3m0.7 0h1.3m4.7 0h1.3m0.7 0h1.3m-0.3 0h1.3m1.7 0h1.3m-0.3 0h1.3m1.7 0h1.3m1.7 0h1.3m1.7 0h1.3m1.7 0h1.3m-0.3 0h1.3m0.7 0h1.3m0.7 0h1.3m0.7 0h1.3m0.7 0h1.3m3.7 0h1.3m1.7 0h1.3m2.7 0h1.3m1.7 0h1.3m-0.3 0h1.3m3.7 0h1.3m3.7 0h1.3m-0.3 0h1.3m9.7 0h1.3m-98.3 1h1.3m-0.3 0h1.3m0.7 0h1.3m-0.3 0h1.3m7.7 0h1.3m0.7 0h1.3m1.7 0h1.3m0.7 0h1.3m0.7 0h1.3m-0.3 0h1.3m1.7 0h1.3m-0.3 0h1.3m1.7 0h1.3m0.7 0h1.3m2.7 0h1.3m1.7 0h1.3m8.7 0h1.3m3.7 0h1.3m3.7 0h1.3m-0.3 0h1.3m-0.3 0h1.3m0.7 0h1.3m1.7 0h1.3m-0.3 0h1.3m2.7 0h1.3m0.7 0h1.3m3.7 0h1.3m1.7 0h1.3m-0.3 0h1.3m0.7 0h1.3m-0.3 0h1.3m-0.3 0h1.3m1.7 0h1.3m-0.3 0h1.3m4.7 0h1.3m-97.3 1h1.3m1.7 0h1.3m2.7 0h1.3m6.7 0h1.3m-0.3 0h1.3m1.7 0h1.3m-0.3 0h1.3m4.7 0h1.3m-0.3 0h1.3m4.7 0h1.3m1.7 0h1.3m-0.3 0h1.3m-0.3 0h1.3m-0.3 0h1.3m-0.3 0h1.3m-0.3 0h1.3m0.7 0h1.3m-0.3 0h1.3m1.7 0h1.3m0.7 0h1.3m-0.3 0h1.3m2.7 0h1.3m2.7 0h1.3m0.7 0h1.3m-0.3 0h1.3m-0.3 0h1.3m0.7 0h1.3m2.7 0h1.3m0.7 0h1.3m-0.3 0h1.3m-0.3 0h1.3m-0.3 0h1.3m0.7 0h1.3m-0.3 0h1.3m7.7 0h1.3m5.7 0h1.3m0.7 0h1.3m11.7 0h1.3m2.7 0h1.3m-110.3 1h1.3m-0.3 0h1.3m-0.3 0h1.3m-0.3 0h1.3m-0.3 0h1.3m0.7 0h1.3m2.7 0h1.3m4.7 0h1.3m0.7 0h1.3m0.7 0h1.3m-0.3 0h1.3m7.7 0h1.3m4.7 0h1.3m4.7 0h1.3m-0.3 0h1.3m-0.3 0h1.3m-0.3 0h1.3m-0.3 0h1.3m1.7 0h1.3m3.7 0h1.3m0.7 0h1.3m2.7 0h1.3m0.7 0h1.3m1.7 0h1.3m1.7 0h1.3m1.7 0h1.3m2.7 0h1.3m-0.3 0h1.3m1.7 0h1.3m2.7 0h1.3m-0.3 0h1.3m0.7 0h1.3m5.7 0h1.3m2.7 0h1.3m10.7 0h1.3m-113.3 1h1.3m-0.3 0h1.3m0.7 0h1.3m2.7 0h1.3m0.7 0h1.3m0.7 0h1.3m-0.3 0h1.3m-0.3 0h1.3m1.7 0h1.3m1.7 0h1.3m4.7 0h1.3m-0.3 0h1.3m-0.3 0h1.3m-0.3 0h1.3m-0.3 0h1.3m0.7 0h1.3m-0.3 0h1.3m-0.3 0h1.3m2.7 0h1.3m3.7 0h1.3m0.7 0h1.3m0.7 0h1.3m-0.3 0h1.3m5.7 0h1.3m1.7 0h1.3m-0.3 0h1.3m6.7 0h1.3m1.7 0h1.3m-0.3 0h1.3m1.7 0h1.3m0.7 0h1.3m-0.3 0h1.3m-0.3 0h1.3m3.7 0h1.3m-0.3 0h1.3m1.7 0h1.3m1.7 0h1.3m1.7 0h1.3m0.7 0h1.3m-0.3 0h1.3m-96.3 1h1.3m-0.3 0h1.3m4.7 0h1.3m-0.3 0h1.3m2.7 0h1.3m-0.3 0h1.3m0.7 0h1.3m2.7 0h1.3m2.7 0h1.3m0.7 0h1.3m1.7 0h1.3m-0.3 0h1.3m3.7 0h1.3m0.7 0h1.3m1.7 0h1.3m-0.3 0h1.3m1.7 0h1.3m0.7 0h1.3m-0.3 0h1.3m5.7 0h1.3m2.7 0h1.3m1.7 0h1.3m-0.3 0h1.3m1.7 0h1.3m0.7 0h1.3m3.7 0h1.3m-0.3 0h1.3m0.7 0h1.3m-0.3 0h1.3m1.7 0h1.3m2.7 0h1.3m-0.3 0h1.3m-0.3 0h1.3m-0.3 0h1.3m0.7 0h1.3m0.7 0h1.3m0.7 0h1.3m2.7 0h1.3m1.7 0h1.3m-98.3 1h1.3m-0.3 0h1.3m-0.3 0h1.3m-0.3 0h1.3m1.7 0h1.3m0.7 0h1.3m0.7 0h1.3m-0.3 0h1.3m-0.3 0h1.3m4.7 0h1.3m1.7 0h1.3m1.7 0h1.3m0.7 0h1.3m3.7 0h1.3m0.7 0h1.3m-0.3 0h1.3m4.7 0h1.3m-0.3 0h1.3m0.7 0h1.3m1.7 0h1.3m3.7 0h1.3m0.7 0h1.3m0.7 0h1.3m0.7 0h1.3m-0.3 0h1.3m0.7 0h1.3m0.7 0h1.3m1.7 0h1.3m1.7 0h1.3m6.7 0h1.3m4.7 0h1.3m2.7 0h1.3m2.7 0h1.3m-92.3 1h1.3m-0.3 0h1.3m-0.3 0h1.3m1.7 0h1.3m1.7 0h1.3m4.7 0h1.3m0.7 0h1.3m0.7 0h1.3m-0.3 0h1.3m-0.3 0h1.3m1.7 0h1.3m2.7 0h1.3m0.7 0h1.3m0.7 0h1.3m1.7 0h1.3m3.7 0h1.3m0.7 0h1.3m0.7 0h1.3m2.7 0h1.3m0.7 0h1.3m-0.3 0h1.3m-0.3 0h1.3m-0.3 0h1.3m-0.3 0h1.3m4.7 0h1.3m0.7 0h1.3m2.7 0h1.3m5.7 0h1.3m2.7 0h1.3m-0.3 0h1.3m1.7 0h1.3m1.7 0h1.3m-0.3 0h1.3m1.7 0h1.3m6.7 0h1.3m-0.3 0h1.3m5.7 0h1.3m-104.3 1h1.3m0.7 0h1.3m-0.3 0h1.3m7.7 0h1.3m0.7 0h1.3m-0.3 0h1.3m3.7 0h1.3m-0.3 0h1.3m-0.3 0h1.3m-0.3 0h1.3m5.7 0h1.3m-0.3 0h1.3m1.7 0h1.3m2.7 0h1.3m0.7 0h1.3m-0.3 0h1.3m-0.3 0h1.3m0.7 0h1.3m0.7 0h1.3m1.7 0h1.3m-0.3 0h1.3m2.7 0h1.3m3.7 0h1.3m2.7 0h1.3m3.7 0h1.3m0.7 0h1.3m-0.3 0h1.3m-0.3 0h1.3m-0.3 0h1.3m1.7 0h1.3m2.7 0h1.3m2.7 0h1.3m0.7 0h1.3m-0.3 0h1.3m1.7 0h1.3m1.7 0h1.3m0.7 0h1.3m3.7 0h1.3m-100.3 1h1.3m-0.3 0h1.3m-0.3 0h1.3m0.7 0h1.3m-0.3 0h1.3m0.7 0h1.3m2.7 0h1.3m1.7 0h1.3m0.7 0h1.3m-0.3 0h1.3m-0.3 0h1.3m2.7 0h1.3m1.7 0h1.3m-0.3 0h1.3m2.7 0h1.3m-0.3 0h1.3m0.7 0h1.3m2.7 0h1.3m1.7 0h1.3m1.7 0h1.3m0.7 0h1.3m-0.3 0h1.3m3.7 0h1.3m-0.3 0h1.3m-0.3 0h1.3m4.7 0h1.3m1.7 0h1.3m2.7 0h1.3m1.7 0h1.3m2.7 0h1.3m0.7 0h1.3m1.7 0h1.3m0.7 0h1.3m-0.3 0h1.3m1.7 0h1.3m-0.3 0h1.3m-0.3 0h1.3m-0.3 0h1.3m1.7 0h1.3m8.7 0h1.3m-102.3 1h1.3m1.7 0h1.3m-0.3 0h1.3m-0.3 0h1.3m-0.3 0h1.3m-0.3 0h1.3m-0.3 0h1.3m-0.3 0h1.3m1.7 0h1.3m1.7 0h1.3m-0.3 0h1.3m3.7 0h1.3m2.7 0h1.3m-0.3 0h1.3m-0.3 0h1.3m-0.3 0h1.3m7.7 0h1.3m0.7 0h1.3m-0.3 0h1.3m0.7 0h1.3m1.7 0h1.3m-0.3 0h1.3m4.7 0h1.3m2.7 0h1.3m5.7 0h1.3m4.7 0h1.3m-0.3 0h1.3m3.7 0h1.3m7.7 0h1.3m-0.3 0h1.3m0.7 0h1.3m-0.3 0h1.3m2.7 0h1.3m-0.3 0h1.3m0.7 0h1.3m0.7 0h1.3m10.7 0h1.3m-110.3 1h1.3m-0.3 0h1.3m0.7 0h1.3m-0.3 0h1.3m-0.3 0h1.3m-0.3 0h1.3m-0.3 0h1.3m5.7 0h1.3m3.7 0h1.3m3.7 0h1.3m2.7 0h1.3m2.7 0h1.3m-0.3 0h1.3m8.7 0h1.3m-0.3 0h1.3m-0.3 0h1.3m-0.3 0h1.3m4.7 0h1.3m1.7 0h1.3m1.7 0h1.3m5.7 0h1.3m-0.3 0h1.3m-0.3 0h1.3m0.7 0h1.3m-0.3 0h1.3m1.7 0h1.3m0.7 0h1.3m-0.3 0h1.3m-0.3 0h1.3m3.7 0h1.3m2.7 0h1.3m-0.3 0h1.3m-86.3 1h1.3m2.7 0h1.3m1.7 0h1.3m4.7 0h1.3m-0.3 0h1.3m-0.3 0h1.3m2.7 0h1.3m1.7 0h1.3m1.7 0h1.3m6.7 0h1.3m-0.3 0h1.3m0.7 0h1.3m2.7 0h1.3m5.7 0h1.3m7.7 0h1.3m-0.3 0h1.3m-0.3 0h1.3m-0.3 0h1.3m-0.3 0h1.3m2.7 0h1.3m5.7 0h1.3m0.7 0h1.3m-0.3 0h1.3m1.7 0h1.3m0.7 0h1.3m-0.3 0h1.3m1.7 0h1.3m-0.3 0h1.3m-0.3 0h1.3m0.7 0h1.3m3.7 0h1.3m10.7 0h1.3m4.7 0h1.3m-113.3 1h1.3m-0.3 0h1.3m6.7 0h1.3m-0.3 0h1.3m0.7 0h1.3m0.7 0h1.3m-0.3 0h1.3m0.7 0h1.3m0.7 0h1.3m-0.3 0h1.3m3.7 0h1.3m-0.3 0h1.3m1.7 0h1.3m-0.3 0h1.3m-0.3 0h1.3m3.7 0h1.3m-0.3 0h1.3m0.7 0h1.3m-0.3 0h1.3m0.7 0h1.3m5.7 0h1.3m9.7 0h1.3m-0.3 0h1.3m7.7 0h1.3m0.7 0h1.3m0.7 0h1.3m1.7 0h1.3m3.7 0h1.3m-0.3 0h1.3m-0.3 0h1.3m5.7 0h1.3m7.7 0h1.3m-101.3 1h1.3m-0.3 0h1.3m4.7 0h1.3m-0.3 0h1.3m3.7 0h1.3m-0.3 0h1.3m0.7 0h1.3m1.7 0h1.3m2.7 0h1.3m3.7 0h1.3m-0.3 0h1.3m1.7 0h1.3m-0.3 0h1.3m2.7 0h1.3m-0.3 0h1.3m1.7 0h1.3m0.7 0h1.3m-0.3 0h1.3m3.7 0h1.3m-0.3 0h1.3m-0.3 0h1.3m1.7 0h1.3m1.7 0h1.3m6.7 0h1.3m1.7 0h1.3m4.7 0h1.3m-0.3 0h1.3m0.7 0h1.3m-0.3 0h1.3m2.7 0h1.3m0.7 0h1.3m-0.3 0h1.3m3.7 0h1.3m0.7 0h1.3m2.7 0h1.3m-0.3 0h1.3m14.7 0h1.3m-114.3 1h1.3m-0.3 0h1.3m0.7 0h1.3m-0.3 0h1.3m0.7 0h1.3m0.7 0h1.3m3.7 0h1.3m4.7 0h1.3m0.7 0h1.3m-0.3 0h1.3m1.7 0h1.3m2.7 0h1.3m4.7 0h1.3m0.7 0h1.3m1.7 0h1.3m7.7 0h1.3m3.7 0h1.3m-0.3 0h1.3m3.7 0h1.3m-0.3 0h1.3m-0.3 0h1.3m0.7 0h1.3m-0.3 0h1.3m-0.3 0h1.3m0.7 0h1.3m3.7 0h1.3m-0.3 0h1.3m-0.3 0h1.3m0.7 0h1.3m0.7 0h1.3m-0.3 0h1.3m1.7 0h1.3m2.7 0h1.3m3.7 0h1.3m6.7 0h1.3m17.7 0h1.3m-120.3 1h1.3m-0.3 0h1.3m2.7 0h1.3m-0.3 0h1.3m-0.3 0h1.3m-0.3 0h1.3m-0.3 0h1.3m-0.3 0h1.3m-0.3 0h1.3m-0.3 0h1.3m6.7 0h1.3m-0.3 0h1.3m-0.3 0h1.3m2.7 0h1.3m4.7 0h1.3m0.7 0h1.3m2.7 0h1.3m-0.3 0h1.3m4.7 0h1.3m-0.3 0h1.3m2.7 0h1.3m-0.3 0h1.3m0.7 0h1.3m3.7 0h1.3m-0.3 0h1.3m3.7 0h1.3m-0.3 0h1.3m1.7 0h1.3m0.7 0h1.3m-0.3 0h1.3m0.7 0h1.3m0.7 0h1.3m-0.3 0h1.3m1.7 0h1.3m-0.3 0h1.3m1.7 0h1.3m3.7 0h1.3m4.7 0h1.3m-0.3 0h1.3m-0.3 0h1.3m8.7 0h1.3m-106.3 1h1.3m-0.3 0h1.3m0.7 0h1.3m-0.3 0h1.3m0.7 0h1.3m0.7 0h1.3m1.7 0h1.3m-0.3 0h1.3m-0.3 0h1.3m2.7 0h1.3m2.7 0h1.3m2.7 0h1.3m-0.3 0h1.3m-0.3 0h1.3m-0.3 0h1.3m1.7 0h1.3m1.7 0h1.3m3.7 0h1.3m0.7 0h1.3m-0.3 0h1.3m0.7 0h1.3m-0.3 0h1.3m-0.3 0h1.3m0.7 0h1.3m-0.3 0h1.3m-0.3 0h1.3m3.7 0h1.3m2.7 0h1.3m0.7 0h1.3m1.7 0h1.3m3.7 0h1.3m0.7 0h1.3m-0.3 0h1.3m3.7 0h1.3m0.7 0h1.3m2.7 0h1.3m-0.3 0h1.3m1.7 0h1.3m-0.3 0h1.3m2.7 0h1.3m6.7 0h1.3m-101.3 1h1.3m0.7 0h1.3m-0.3 0h1.3m2.7 0h1.3m1.7 0h1.3m0.7 0h1.3m2.7 0h1.3m0.7 0h1.3m4.7 0h1.3m-0.3 0h1.3m6.7 0h1.3m-0.3 0h1.3m1.7 0h1.3m2.7 0h1.3m3.7 0h1.3m10.7 0h1.3m5.7 0h1.3m5.7 0h1.3m0.7 0h1.3m8.7 0h1.3m4.7 0h1.3m11.7 0h1.3m2.7 0h1.3m-0.3 0h1.3m-0.3 0h1.3m-111.3 1h1.3m-0.3 0h1.3m-0.3 0h1.3m-0.3 0h1.3m-0.3 0h1.3m-0.3 0h1.3m-0.3 0h1.3m0.7 0h1.3m0.7 0h1.3m2.7 0h1.3m2.7 0h1.3m-0.3 0h1.3m-0.3 0h1.3m1.7 0h1.3m1.7 0h1.3m1.7 0h1.3m3.7 0h1.3m1.7 0h1.3m2.7 0h1.3m3.7 0h1.3m1.7 0h1.3m-0.3 0h1.3m0.7 0h1.3m0.7 0h1.3m-0.3 0h1.3m0.7 0h1.3m2.7 0h1.3m6.7 0h1.3m-0.3 0h1.3m0.7 0h1.3m-0.3 0h1.3m5.7 0h1.3m1.7 0h1.3m-0.3 0h1.3m0.7 0h1.3m-0.3 0h1.3m2.7 0h1.3m1.7 0h1.3m6.7 0h1.3m4.7 0h1.3m-109.3 1h1.3m-0.3 0h1.3m-0.3 0h1.3m-0.3 0h1.3m0.7 0h1.3m-0.3 0h1.3m1.7 0h1.3m-0.3 0h1.3m1.7 0h1.3m0.7 0h1.3m4.7 0h1.3m0.7 0h1.3m1.7 0h1.3m-0.3 0h1.3m0.7 0h1.3m2.7 0h1.3m3.7 0h1.3m-0.3 0h1.3m5.7 0h1.3m-0.3 0h1.3m2.7 0h1.3m1.7 0h1.3m-0.3 0h1.3m4.7 0h1.3m1.7 0h1.3m0.7 0h1.3m-0.3 0h1.3m5.7 0h1.3m1.7 0h1.3m0.7 0h1.3m-0.3 0h1.3m-0.3 0h1.3m-0.3 0h1.3m-0.3 0h1.3m-0.3 0h1.3m2.7 0h1.3m1.7 0h1.3m7.7 0h1.3m3.7 0h1.3m-106.3 1h1.3m0.7 0h1.3m0.7 0h1.3m0.7 0h1.3m-0.3 0h1.3m-0.3 0h1.3m-0.3 0h1.3m-0.3 0h1.3m-0.3 0h1.3m1.7 0h1.3m5.7 0h1.3m2.7 0h1.3m-0.3 0h1.3m-0.3 0h1.3m4.7 0h1.3m3.7 0h1.3m0.7 0h1.3m-0.3 0h1.3m2.7 0h1.3m-0.3 0h1.3m-0.3 0h1.3m-0.3 0h1.3m1.7 0h1.3m-0.3 0h1.3m2.7 0h1.3m3.7 0h1.3m-0.3 0h1.3m-0.3 0h1.3m0.7 0h1.3m4.7 0h1.3m-0.3 0h1.3m0.7 0h1.3m6.7 0h1.3m-0.3 0h1.3m3.7 0h1.3m-0.3 0h1.3m4.7 0h1.3m-0.3 0h1.3m-0.3 0h1.3m5.7 0h1.3m-105.3 1h1.3m-0.3 0h1.3m-0.3 0h1.3m-0.3 0h1.3m1.7 0h1.3m4.7 0h1.3m-0.3 0h1.3m-0.3 0h1.3m2.7 0h1.3m1.7 0h1.3m-0.3 0h1.3m-0.3 0h1.3m0.7 0h1.3m-0.3 0h1.3m1.7 0h1.3m0.7 0h1.3m0.7 0h1.3m2.7 0h1.3m-0.3 0h1.3m-0.3 0h1.3m0.7 0h1.3m1.7 0h1.3m-0.3 0h1.3m3.7 0h1.3m-0.3 0h1.3m-0.3 0h1.3m1.7 0h1.3m0.7 0h1.3m5.7 0h1.3m0.7 0h1.3m1.7 0h1.3m1.7 0h1.3m0.7 0h1.3m-0.3 0h1.3m3.7 0h1.3m2.7 0h1.3m2.7 0h1.3m1.7 0h1.3m-0.3 0h1.3m-0.3 0h1.3m17.7 0h1.3m10.7 0h1.3m-124.3 1h1.3m-0.3 0h1.3m-0.3 0h1.3m-0.3 0h1.3m-0.3 0h1.3m2.7 0h1.3m2.7 0h1.3m1.7 0h1.3m-0.3 0h1.3m0.7 0h1.3m4.7 0h1.3m0.7 0h1.3m-0.3 0h1.3m0.7 0h1.3m3.7 0h1.3m1.7 0h1.3m8.7 0h1.3m0.7 0h1.3m4.7 0h1.3m0.7 0h1.3m4.7 0h1.3m2.7 0h1.3m-0.3 0h1.3m1.7 0h1.3m1.7 0h1.3m-0.3 0h1.3m0.7 0h1.3m-0.3 0h1.3m-0.3 0h1.3m4.7 0h1.3m1.7 0h1.3m4.7 0h1.3m2.7 0h1.3m-0.3 0h1.3m2.7 0h1.3m7.7 0h1.3m-113.3 1h1.3m1.7 0h1.3m-0.3 0h1.3m0.7 0h1.3m3.7 0h1.3m0.7 0h1.3m-0.3 0h1.3m1.7 0h1.3m-0.3 0h1.3m-0.3 0h1.3m2.7 0h1.3m1.7 0h1.3m1.7 0h1.3m-0.3 0h1.3m0.7 0h1.3m-0.3 0h1.3m-0.3 0h1.3m0.7 0h1.3m1.7 0h1.3m2.7 0h1.3m1.7 0h1.3m3.7 0h1.3m2.7 0h1.3m2.7 0h1.3m-0.3 0h1.3m12.7 0h1.3m-0.3 0h1.3m0.7 0h1.3m0.7 0h1.3m0.7 0h1.3m0.7 0h1.3m0.7 0h1.3m0.7 0h1.3m-0.3 0h1.3m-0.3 0h1.3m-0.3 0h1.3m4.7 0h1.3m-0.3 0h1.3m2.7 0h1.3m4.7 0h1.3m-109.3 1h1.3m0.7 0h1.3m0.7 0h1.3m0.7 0h1.3m-0.3 0h1.3m-0.3 0h1.3m-0.3 0h1.3m0.7 0h1.3m1.7 0h1.3m-0.3 0h1.3m2.7 0h1.3m-0.3 0h1.3m0.7 0h1.3m-0.3 0h1.3m0.7 0h1.3m1.7 0h1.3m0.7 0h1.3m-0.3 0h1.3m-0.3 0h1.3m0.7 0h1.3m0.7 0h1.3m-0.3 0h1.3m9.7 0h1.3m0.7 0h1.3m4.7 0h1.3m3.7 0h1.3m0.7 0h1.3m-0.3 0h1.3m3.7 0h1.3m2.7 0h1.3m0.7 0h1.3m3.7 0h1.3m2.7 0h1.3m-0.3 0h1.3m-0.3 0h1.3m1.7 0h1.3m-0.3 0h1.3m1.7 0h1.3m9.7 0h1.3m3.7 0h1.3m11.7 0h1.3m-0.3 0h1.3m-123.3 1h1.3m2.7 0h1.3m0.7 0h1.3m-0.3 0h1.3m-0.3 0h1.3m0.7 0h1.3m-0.3 0h1.3m1.7 0h1.3m1.7 0h1.3m1.7 0h1.3m1.7 0h1.3m0.7 0h1.3m3.7 0h1.3m-0.3 0h1.3m-0.3 0h1.3m-0.3 0h1.3m-0.3 0h1.3m-0.3 0h1.3m1.7 0h1.3m-0.3 0h1.3m1.7 0h1.3m-0.3 0h1.3m2.7 0h1.3m0.7 0h1.3m1.7 0h1.3m0.7 0h1.3m1.7 0h1.3m-0.3 0h1.3m-0.3 0h1.3m-0.3 0h1.3m-0.3 0h1.3m-0.3 0h1.3m1.7 0h1.3m-0.3 0h1.3m-0.3 0h1.3m0.7 0h1.3m-0.3 0h1.3m-0.3 0h1.3m0.7 0h1.3m5.7 0h1.3m0.7 0h1.3m-0.3 0h1.3m1.7 0h1.3m-0.3 0h1.3m2.7 0h1.3m-0.3 0h1.3m2.7 0h1.3m5.7 0h1.3m-104.3 1h1.3m1.7 0h1.3m1.7 0h1.3m0.7 0h1.3m1.7 0h1.3m-0.3 0h1.3m1.7 0h1.3m-0.3 0h1.3m4.7 0h1.3m8.7 0h1.3m1.7 0h1.3m1.7 0h1.3m-0.3 0h1.3m3.7 0h1.3m0.7 0h1.3m-0.3 0h1.3m0.7 0h1.3m-0.3 0h1.3m-0.3 0h1.3m10.7 0h1.3m5.7 0h1.3m0.7 0h1.3m2.7 0h1.3m3.7 0h1.3m12.7 0h1.3m-0.3 0h1.3m1.7 0h1.3m6.7 0h1.3m-106.3 1h1.3m0.7 0h1.3m1.7 0h1.3m-0.3 0h1.3m1.7 0h1.3m-0.3 0h1.3m0.7 0h1.3m-0.3 0h1.3m1.7 0h1.3m4.7 0h1.3m2.7 0h1.3m4.7 0h1.3m-0.3 0h1.3m1.7 0h1.3m2.7 0h1.3m0.7 0h1.3m-0.3 0h1.3m-0.3 0h1.3m1.7 0h1.3m-0.3 0h1.3m8.7 0h1.3m-0.3 0h1.3m-0.3 0h1.3m2.7 0h1.3m-0.3 0h1.3m-0.3 0h1.3m2.7 0h1.3m3.7 0h1.3m3.7 0h1.3m-0.3 0h1.3m0.7 0h1.3m0.7 0h1.3m1.7 0h1.3m1.7 0h1.3m3.7 0h1.3m2.7 0h1.3m-103.3 1h1.3m5.7 0h1.3m-0.3 0h1.3m-0.3 0h1.3m0.7 0h1.3m4.7 0h1.3m-0.3 0h1.3m-0.3 0h1.3m-0.3 0h1.3m-0.3 0h1.3m-0.3 0h1.3m9.7 0h1.3m-0.3 0h1.3m1.7 0h1.3m1.7 0h1.3m-0.3 0h1.3m6.7 0h1.3m2.7 0h1.3m3.7 0h1.3m-0.3 0h1.3m2.7 0h1.3m7.7 0h1.3m3.7 0h1.3m0.7 0h1.3m2.7 0h1.3m1.7 0h1.3m-0.3 0h1.3m-89.3 1h1.3m-0.3 0h1.3m-0.3 0h1.3m5.7 0h1.3m-0.3 0h1.3m3.7 0h1.3m7.7 0h1.3m0.7 0h1.3m-0.3 0h1.3m-0.3 0h1.3m-0.3 0h1.3m2.7 0h1.3m3.7 0h1.3m5.7 0h1.3m-0.3 0h1.3m2.7 0h1.3m-0.3 0h1.3m-0.3 0h1.3m0.7 0h1.3m9.7 0h1.3m5.7 0h1.3m-0.3 0h1.3m1.7 0h1.3m-0.3 0h1.3m-0.3 0h1.3m-0.3 0h1.3m-0.3 0h1.3m2.7 0h1.3m8.7 0h1.3m0.7 0h1.3m5.7 0h1.3m-0.3 0h1.3m2.7 0h1.3m5.7 0h1.3m-116.3 1h1.3m-0.3 0h1.3m-0.3 0h1.3m-0.3 0h1.3m-0.3 0h1.3m-0.3 0h1.3m-0.3 0h1.3m0.7 0h1.3m0.7 0h1.3m3.7 0h1.3m1.7 0h1.3m-0.3 0h1.3m2.7 0h1.3m1.7 0h1.3m0.7 0h1.3m-0.3 0h1.3m-0.3 0h1.3m0.7 0h1.3m-0.3 0h1.3m-0.3 0h1.3m0.7 0h1.3m3.7 0h1.3m3.7 0h1.3m1.7 0h1.3m9.7 0h1.3m3.7 0h1.3m0.7 0h1.3m-0.3 0h1.3m-0.3 0h1.3m-0.3 0h1.3m0.7 0h1.3m-0.3 0h1.3m1.7 0h1.3m1.7 0h1.3m-0.3 0h1.3m-0.3 0h1.3m1.7 0h1.3m2.7 0h1.3m8.7 0h1.3m-0.3 0h1.3m-100.3 1h1.3m-0.3 0h1.3m1.7 0h1.3m0.7 0h1.3m-0.3 0h1.3m0.7 0h1.3m-0.3 0h1.3m4.7 0h1.3m3.7 0h1.3m-0.3 0h1.3m-0.3 0h1.3m1.7 0h1.3m-0.3 0h1.3m3.7 0h1.3m0.7 0h1.3m4.7 0h1.3m1.7 0h1.3m-0.3 0h1.3m4.7 0h1.3m0.7 0h1.3m5.7 0h1.3m1.7 0h1.3m5.7 0h1.3m1.7 0h1.3m-0.3 0h1.3m4.7 0h1.3m-0.3 0h1.3m-0.3 0h1.3m-0.3 0h1.3m1.7 0h1.3m-0.3 0h1.3m0.7 0h1.3m-0.3 0h1.3m-0.3 0h1.3m0.7 0h1.3m2.7 0h1.3m1.7 0h1.3m-100.3 1h1.3m-0.3 0h1.3m1.7 0h1.3m-0.3 0h1.3m1.7 0h1.3m-0.3 0h1.3m5.7 0h1.3m0.7 0h1.3m-0.3 0h1.3m4.7 0h1.3m-0.3 0h1.3m0.7 0h1.3m-0.3 0h1.3m0.7 0h1.3m4.7 0h1.3m0.7 0h1.3m0.7 0h1.3m2.7 0h1.3m0.7 0h1.3m-0.3 0h1.3m1.7 0h1.3m4.7 0h1.3m0.7 0h1.3m0.7 0h1.3m2.7 0h1.3m2.7 0h1.3m0.7 0h1.3m-0.3 0h1.3m0.7 0h1.3m-0.3 0h1.3m-0.3 0h1.3m0.7 0h1.3m-0.3 0h1.3m0.7 0h1.3m-0.3 0h1.3m-0.3 0h1.3m-0.3 0h1.3m1.7 0h1.3m9.7 0h1.3m-99.3 1h1.3m-0.3 0h1.3m0.7 0h1.3m4.7 0h1.3m-0.3 0h1.3m9.7 0h1.3m-0.3 0h1.3m1.7 0h1.3m-0.3 0h1.3m-0.3 0h1.3m26.7 0h1.3m-0.3 0h1.3m-0.3 0h1.3m2.7 0h1.3m3.7 0h1.3m-0.3 0h1.3m-0.3 0h1.3m-0.3 0h1.3m0.7 0h1.3m4.7 0h1.3m1.7 0h1.3m-0.3 0h1.3m2.7 0h1.3m-0.3 0h1.3m2.7 0h1.3m7.7 0h1.3m6.7 0h1.3m-0.3 0h1.3m15.7 0h1.3m-126.3 1h1.3m-0.3 0h1.3m0.7 0h1.3m-0.3 0h1.3m-0.3 0h1.3m0.7 0h1.3m-0.3 0h1.3m-0.3 0h1.3m-0.3 0h1.3m-0.3 0h1.3m0.7 0h1.3m1.7 0h1.3m0.7 0h1.3m0.7 0h1.3m3.7 0h1.3m3.7 0h1.3m-0.3 0h1.3m2.7 0h1.3m-0.3 0h1.3m1.7 0h1.3m2.7 0h1.3m-0.3 0h1.3m-0.3 0h1.3m1.7 0h1.3m-0.3 0h1.3m0.7 0h1.3m8.7 0h1.3m-0.3 0h1.3m0.7 0h1.3m3.7 0h1.3m-0.3 0h1.3m-0.3 0h1.3m1.7 0h1.3m1.7 0h1.3m2.7 0h1.3m-0.3 0h1.3m4.7 0h1.3m6.7 0h1.3m14.7 0h1.3m-113.3 1h1.3m2.7 0h1.3m0.7 0h1.3m0.7 0h1.3m-0.3 0h1.3m1.7 0h1.3m-0.3 0h1.3m-0.3 0h1.3m-0.3 0h1.3m3.7 0h1.3m0.7 0h1.3m-0.3 0h1.3m0.7 0h1.3m2.7 0h1.3m1.7 0h1.3m4.7 0h1.3m-0.3 0h1.3m-0.3 0h1.3m0.7 0h1.3m5.7 0h1.3m-0.3 0h1.3m-0.3 0h1.3m1.7 0h1.3m2.7 0h1.3m-0.3 0h1.3m1.7 0h1.3m0.7 0h1.3m-0.3 0h1.3m6.7 0h1.3m2.7 0h1.3m-0.3 0h1.3m0.7 0h1.3m-0.3 0h1.3m1.7 0h1.3m3.7 0h1.3m-0.3 0h1.3m0.7 0h1.3m-0.3 0h1.3m6.7 0h1.3m1.7 0h1.3m-105.3 1h1.3m2.7 0h1.3m-0.3 0h1.3m-0.3 0h1.3m-0.3 0h1.3m0.7 0h1.3m2.7 0h1.3m-0.3 0h1.3m2.7 0h1.3m-0.3 0h1.3m1.7 0h1.3m3.7 0h1.3m1.7 0h1.3m0.7 0h1.3m-0.3 0h1.3m0.7 0h1.3m-0.3 0h1.3m-0.3 0h1.3m0.7 0h1.3m5.7 0h1.3m-0.3 0h1.3m-0.3 0h1.3m-0.3 0h1.3m4.7 0h1.3m0.7 0h1.3m-0.3 0h1.3m0.7 0h1.3m0.7 0h1.3m-0.3 0h1.3m-0.3 0h1.3m2.7 0h1.3m2.7 0h1.3m1.7 0h1.3m1.7 0h1.3m-0.3 0h1.3m0.7 0h1.3m2.7 0h1.3m4.7 0h1.3m11.7 0h1.3m-105.3 1h1.3m0.7 0h1.3m-0.3 0h1.3m-0.3 0h1.3m0.7 0h1.3m0.7 0h1.3m-0.3 0h1.3m-0.3 0h1.3m-0.3 0h1.3m2.7 0h1.3m2.7 0h1.3m-0.3 0h1.3m1.7 0h1.3m-0.3 0h1.3m-0.3 0h1.3m0.7 0h1.3m0.7 0h1.3m0.7 0h1.3m0.7 0h1.3m-0.3 0h1.3m3.7 0h1.3m-0.3 0h1.3m-0.3 0h1.3m2.7 0h1.3m-0.3 0h1.3m-0.3 0h1.3m-0.3 0h1.3m0.7 0h1.3m-0.3 0h1.3m1.7 0h1.3m-0.3 0h1.3m0.7 0h1.3m-0.3 0h1.3m-0.3 0h1.3m-0.3 0h1.3m-0.3 0h1.3m-0.3 0h1.3m2.7 0h1.3m-0.3 0h1.3m1.7 0h1.3m-0.3 0h1.3m0.7 0h1.3m-0.3 0h1.3m2.7 0h1.3m-0.3 0h1.3m5.7 0h1.3m2.7 0h1.3m2.7 0h1.3m0.7 0h1.3m1.7 0h1.3m-100.3 1h1.3m1.7 0h1.3m0.7 0h1.3m-0.3 0h1.3m0.7 0h1.3m0.7 0h1.3m-0.3 0h1.3m-0.3 0h1.3m2.7 0h1.3m7.7 0h1.3m4.7 0h1.3m-0.3 0h1.3m2.7 0h1.3m0.7 0h1.3m-0.3 0h1.3m0.7 0h1.3m2.7 0h1.3m-0.3 0h1.3m0.7 0h1.3m7.7 0h1.3m-0.3 0h1.3m3.7 0h1.3m0.7 0h1.3m1.7 0h1.3m1.7 0h1.3m-0.3 0h1.3m1.7 0h1.3m0.7 0h1.3m2.7 0h1.3m1.7 0h1.3m4.7 0h1.3m5.7 0h1.3m-98.3 1h1.3m1.7 0h1.3m-0.3 0h1.3m0.7 0h1.3m3.7 0h1.3m0.7 0h1.3m5.7 0h1.3m4.7 0h1.3m1.7 0h1.3m4.7 0h1.3m-0.3 0h1.3m-0.3 0h1.3m0.7 0h1.3m-0.3 0h1.3m9.7 0h1.3m-0.3 0h1.3m-0.3 0h1.3m1.7 0h1.3m2.7 0h1.3m-0.3 0h1.3m-0.3 0h1.3m-0.3 0h1.3m0.7 0h1.3m-0.3 0h1.3m1.7 0h1.3m2.7 0h1.3m-0.3 0h1.3m0.7 0h1.3m0.7 0h1.3m0.7 0h1.3m2.7 0h1.3m1.7 0h1.3m-0.3 0h1.3m5.7 0h1.3m19.7 0h1.3m17.7 0h1.3m-133.3 1h1.3m-0.3 0h1.3m1.7 0h1.3m-0.3 0h1.3m0.7 0h1.3m1.7 0h1.3m0.7 0h1.3m0.7 0h1.3m2.7 0h1.3m0.7 0h1.3m2.7 0h1.3m0.7 0h1.3m-0.3 0h1.3m3.7 0h1.3m-0.3 0h1.3m1.7 0h1.3m4.7 0h1.3m3.7 0h1.3m10.7 0h1.3m0.7 0h1.3m-0.3 0h1.3m1.7 0h1.3m6.7 0h1.3m0.7 0h1.3m1.7 0h1.3m-0.3 0h1.3m4.7 0h1.3m1.7 0h1.3m1.7 0h1.3m1.7 0h1.3m0.7 0h1.3m17.7 0h1.3m-119.3 1h1.3m0.7 0h1.3m-0.3 0h1.3m0.7 0h1.3m-0.3 0h1.3m3.7 0h1.3m0.7 0h1.3m0.7 0h1.3m1.7 0h1.3m5.7 0h1.3m2.7 0h1.3m0.7 0h1.3m3.7 0h1.3m1.7 0h1.3m0.7 0h1.3m1.7 0h1.3m-0.3 0h1.3m0.7 0h1.3m-0.3 0h1.3m1.7 0h1.3m-0.3 0h1.3m1.7 0h1.3m2.7 0h1.3m-0.3 0h1.3m-0.3 0h1.3m0.7 0h1.3m-0.3 0h1.3m-0.3 0h1.3m0.7 0h1.3m1.7 0h1.3m1.7 0h1.3m-0.3 0h1.3m2.7 0h1.3m4.7 0h1.3m3.7 0h1.3m4.7 0h1.3m1.7 0h1.3m2.7 0h1.3m6.7 0h1.3m6.7 0h1.3m-119.3 1h1.3m-0.3 0h1.3m3.7 0h1.3m2.7 0h1.3m-0.3 0h1.3m8.7 0h1.3m2.7 0h1.3m-0.3 0h1.3m3.7 0h1.3m1.7 0h1.3m2.7 0h1.3m3.7 0h1.3m1.7 0h1.3m-0.3 0h1.3m7.7 0h1.3m0.7 0h1.3m-0.3 0h1.3m0.7 0h1.3m0.7 0h1.3m9.7 0h1.3m-0.3 0h1.3m0.7 0h1.3m2.7 0h1.3m0.7 0h1.3m-0.3 0h1.3m0.7 0h1.3m-0.3 0h1.3m2.7 0h1.3m6.7 0h1.3m-100.3 1h1.3m-0.3 0h1.3m0.7 0h1.3m-0.3 0h1.3m1.7 0h1.3m1.7 0h1.3m0.7 0h1.3m1.7 0h1.3m4.7 0h1.3m-0.3 0h1.3m0.7 0h1.3m1.7 0h1.3m-0.3 0h1.3m-0.3 0h1.3m-0.3 0h1.3m0.7 0h1.3m-0.3 0h1.3m-0.3 0h1.3m-0.3 0h1.3m-0.3 0h1.3m-0.3 0h1.3m-0.3 0h1.3m-0.3 0h1.3m-0.3 0h1.3m-0.3 0h1.3m2.7 0h1.3m2.7 0h1.3m-0.3 0h1.3m-0.3 0h1.3m0.7 0h1.3m2.7 0h1.3m-0.3 0h1.3m4.7 0h1.3m6.7 0h1.3m1.7 0h1.3m-0.3 0h1.3m2.7 0h1.3m-0.3 0h1.3m0.7 0h1.3m-0.3 0h1.3m5.7 0h1.3m-0.3 0h1.3m-91.3 1h1.3m-0.3 0h1.3m-0.3 0h1.3m0.7 0h1.3m1.7 0h1.3m-0.3 0h1.3m-0.3 0h1.3m0.7 0h1.3m5.7 0h1.3m1.7 0h1.3m-0.3 0h1.3m-0.3 0h1.3m0.7 0h1.3m0.7 0h1.3m-0.3 0h1.3m-0.3 0h1.3m0.7 0h1.3m-0.3 0h1.3m0.7 0h1.3m2.7 0h1.3m-0.3 0h1.3m-0.3 0h1.3m-0.3 0h1.3m-0.3 0h1.3m0.7 0h1.3m3.7 0h1.3m0.7 0h1.3m0.7 0h1.3m0.7 0h1.3m-0.3 0h1.3m0.7 0h1.3m-0.3 0h1.3m0.7 0h1.3m-0.3 0h1.3m1.7 0h1.3m0.7 0h1.3m-0.3 0h1.3m-0.3 0h1.3m-0.3 0h1.3m0.7 0h1.3m-0.3 0h1.3m-0.3 0h1.3m0.7 0h1.3m2.7 0h1.3m0.7 0h1.3m0.7 0h1.3m1.7 0h1.3m-90.3 1h1.3m-0.3 0h1.3m-0.3 0h1.3m-0.3 0h1.3m0.7 0h1.3m0.7 0h1.3m-0.3 0h1.3m0.7 0h1.3m2.7 0h1.3m0.7 0h1.3m-0.3 0h1.3m0.7 0h1.3m0.7 0h1.3m0.7 0h1.3m-0.3 0h1.3m-0.3 0h1.3m-0.3 0h1.3m0.7 0h1.3m-0.3 0h1.3m-0.3 0h1.3m-0.3 0h1.3m3.7 0h1.3m-0.3 0h1.3m1.7 0h1.3m0.7 0h1.3m1.7 0h1.3m-0.3 0h1.3m-0.3 0h1.3m-0.3 0h1.3m1.7 0h1.3m-0.3 0h1.3m1.7 0h1.3m1.7 0h1.3m1.7 0h1.3m3.7 0h1.3m0.7 0h1.3m0.7 0h1.3m5.7 0h1.3m1.7 0h1.3m2.7 0h1.3m2.7 0h1.3m-86.3 1h1.3m0.7 0h1.3m-0.3 0h1.3m0.7 0h1.3m-0.3 0h1.3m0.7 0h1.3m2.7 0h1.3m-0.3 0h1.3m-0.3 0h1.3m-0.3 0h1.3m0.7 0h1.3m-0.3 0h1.3m-0.3 0h1.3m7.7 0h1.3m-0.3 0h1.3m8.7 0h1.3m-0.3 0h1.3m-0.3 0h1.3m0.7 0h1.3m0.7 0h1.3m1.7 0h1.3m0.7 0h1.3m2.7 0h1.3m-0.3 0h1.3m-0.3 0h1.3m2.7 0h1.3m1.7 0h1.3m5.7 0h1.3m1.7 0h1.3m1.7 0h1.3m12.7 0h1.3m14.7 0h1.3m-110.3 1h1.3m-0.3 0h1.3m2.7 0h1.3m-0.3 0h1.3m-0.3 0h1.3m-0.3 0h1.3m-0.3 0h1.3m9.7 0h1.3m-0.3 0h1.3m3.7 0h1.3m1.7 0h1.3m-0.3 0h1.3m-0.3 0h1.3m3.7 0h1.3m2.7 0h1.3m-0.3 0h1.3m5.7 0h1.3m2.7 0h1.3m0.7 0h1.3m-0.3 0h1.3m0.7 0h1.3m-0.3 0h1.3m-0.3 0h1.3m0.7 0h1.3m4.7 0h1.3m-0.3 0h1.3m0.7 0h1.3m-0.3 0h1.3m-0.3 0h1.3m1.7 0h1.3m5.7 0h1.3m1.7 0h1.3m0.7 0h1.3m4.7 0h1.3m-90.3 1h1.3m-0.3 0h1.3m0.7 0h1.3m0.7 0h1.3m1.7 0h1.3m0.7 0h1.3m1.7 0h1.3m5.7 0h1.3m1.7 0h1.3m3.7 0h1.3m1.7 0h1.3m8.7 0h1.3m-0.3 0h1.3m2.7 0h1.3m4.7 0h1.3m-0.3 0h1.3m4.7 0h1.3m-0.3 0h1.3m1.7 0h1.3m0.7 0h1.3m0.7 0h1.3m0.7 0h1.3m1.7 0h1.3m-0.3 0h1.3m-0.3 0h1.3m-0.3 0h1.3m-0.3 0h1.3m3.7 0h1.3m-0.3 0h1.3m1.7 0h1.3m2.7 0h1.3m-0.3 0h1.3m-0.3 0h1.3m-96.3 1h1.3m1.7 0h1.3m0.7 0h1.3m-0.3 0h1.3m0.7 0h1.3m3.7 0h1.3m-0.3 0h1.3m0.7 0h1.3m-0.3 0h1.3m-0.3 0h1.3m-0.3 0h1.3m4.7 0h1.3m-0.3 0h1.3m3.7 0h1.3m2.7 0h1.3m-0.3 0h1.3m0.7 0h1.3m0.7 0h1.3m3.7 0h1.3m-0.3 0h1.3m1.7 0h1.3m0.7 0h1.3m2.7 0h1.3m-0.3 0h1.3m0.7 0h1.3m1.7 0h1.3m0.7 0h1.3m5.7 0h1.3m-0.3 0h1.3m0.7 0h1.3m0.7 0h1.3m0.7 0h1.3m5.7 0h1.3m0.7 0h1.3m-84.3 1h1.3m-0.3 0h1.3m5.7 0h1.3m-0.3 0h1.3m2.7 0h1.3m0.7 0h1.3m5.7 0h1.3m-0.3 0h1.3m1.7 0h1.3m0.7 0h1.3m0.7 0h1.3m-0.3 0h1.3m2.7 0h1.3m2.7 0h1.3m0.7 0h1.3m2.7 0h1.3m1.7 0h1.3m-0.3 0h1.3m-0.3 0h1.3m2.7 0h1.3m7.7 0h1.3m-0.3 0h1.3m-0.3 0h1.3m0.7 0h1.3m2.7 0h1.3m-0.3 0h1.3m0.7 0h1.3m-0.3 0h1.3m0.7 0h1.3m0.7 0h1.3m44.7 0h1.3m-129.3 1h1.3m2.7 0h1.3m2.7 0h1.3m-0.3 0h1.3m11.7 0h1.3m0.7 0h1.3m3.7 0h1.3m-0.3 0h1.3m-0.3 0h1.3m-0.3 0h1.3m1.7 0h1.3m-0.3 0h1.3m1.7 0h1.3m2.7 0h1.3m-0.3 0h1.3m0.7 0h1.3m-0.3 0h1.3m1.7 0h1.3m0.7 0h1.3m0.7 0h1.3m2.7 0h1.3m-0.3 0h1.3m0.7 0h1.3m0.7 0h1.3m1.7 0h1.3m8.7 0h1.3m0.7 0h1.3m0.7 0h1.3m-0.3 0h1.3m-0.3 0h1.3m6.7 0h1.3m2.7 0h1.3m4.7 0h1.3m-99.3 1h1.3m9.7 0h1.3m-0.3 0h1.3m0.7 0h1.3m0.7 0h1.3m5.7 0h1.3m-0.3 0h1.3m0.7 0h1.3m-0.3 0h1.3m0.7 0h1.3m-0.3 0h1.3m2.7 0h1.3m2.7 0h1.3m3.7 0h1.3m0.7 0h1.3m-0.3 0h1.3m1.7 0h1.3m7.7 0h1.3m0.7 0h1.3m3.7 0h1.3m2.7 0h1.3m-0.3 0h1.3m7.7 0h1.3m6.7 0h1.3m0.7 0h1.3m11.7 0h1.3m8.7 0h1.3m-113.3 1h1.3m-0.3 0h1.3m2.7 0h1.3m7.7 0h1.3m3.7 0h1.3m0.7 0h1.3m4.7 0h1.3m-0.3 0h1.3m0.7 0h1.3m0.7 0h1.3m-0.3 0h1.3m0.7 0h1.3m-0.3 0h1.3m5.7 0h1.3m3.7 0h1.3m-0.3 0h1.3m1.7 0h1.3m-0.3 0h1.3m1.7 0h1.3m2.7 0h1.3m-0.3 0h1.3m2.7 0h1.3m-0.3 0h1.3m-0.3 0h1.3m-0.3 0h1.3m2.7 0h1.3m2.7 0h1.3m-0.3 0h1.3m4.7 0h1.3m-0.3 0h1.3m3.7 0h1.3m-0.3 0h1.3m3.7 0h1.3m7.7 0h1.3m-106.3 1h1.3m1.7 0h1.3m0.7 0h1.3m1.7 0h1.3m1.7 0h1.3m2.7 0h1.3m7.7 0h1.3m0.7 0h1.3m0.7 0h1.3m0.7 0h1.3m0.7 0h1.3m-0.3 0h1.3m1.7 0h1.3m-0.3 0h1.3m0.7 0h1.3m0.7 0h1.3m0.7 0h1.3m0.7 0h1.3m1.7 0h1.3m0.7 0h1.3m-0.3 0h1.3m-0.3 0h1.3m-0.3 0h1.3m-0.3 0h1.3m-0.3 0h1.3m3.7 0h1.3m-0.3 0h1.3m1.7 0h1.3m1.7 0h1.3m-0.3 0h1.3m-0.3 0h1.3m4.7 0h1.3m-0.3 0h1.3m-0.3 0h1.3m17.7 0h1.3m4.7 0h1.3m-102.3 1h1.3m2.7 0h1.3m-0.3 0h1.3m0.7 0h1.3m1.7 0h1.3m-0.3 0h1.3m-0.3 0h1.3m0.7 0h1.3m1.7 0h1.3m5.7 0h1.3m6.7 0h1.3m-0.3 0h1.3m4.7 0h1.3m2.7 0h1.3m-0.3 0h1.3m-0.3 0h1.3m0.7 0h1.3m3.7 0h1.3m0.7 0h1.3m1.7 0h1.3m2.7 0h1.3m-0.3 0h1.3m1.7 0h1.3m-0.3 0h1.3m0.7 0h1.3m0.7 0h1.3m1.7 0h1.3m9.7 0h1.3m-84.3 1h1.3m0.7 0h1.3m1.7 0h1.3m0.7 0h1.3m-0.3 0h1.3m1.7 0h1.3m0.7 0h1.3m5.7 0h1.3m-0.3 0h1.3m3.7 0h1.3m1.7 0h1.3m-0.3 0h1.3m1.7 0h1.3m3.7 0h1.3m-0.3 0h1.3m-0.3 0h1.3m2.7 0h1.3m-0.3 0h1.3m0.7 0h1.3m-0.3 0h1.3m-0.3 0h1.3m0.7 0h1.3m3.7 0h1.3m1.7 0h1.3m-0.3 0h1.3m3.7 0h1.3m0.7 0h1.3m1.7 0h1.3m3.7 0h1.3m8.7 0h1.3m10.7 0h1.3m1.7 0h1.3m-104.3 1h1.3m-0.3 0h1.3m-0.3 0h1.3m-0.3 0h1.3m0.7 0h1.3m-0.3 0h1.3m0.7 0h1.3m-0.3 0h1.3m27.7 0h1.3m0.7 0h1.3m1.7 0h1.3m-0.3 0h1.3m2.7 0h1.3m0.7 0h1.3m0.7 0h1.3m4.7 0h1.3m1.7 0h1.3m-0.3 0h1.3m0.7 0h1.3m-0.3 0h1.3m8.7 0h1.3m-0.3 0h1.3m1.7 0h1.3m3.7 0h1.3m37.7 0h1.3m-124.3 1h1.3m5.7 0h1.3m0.7 0h1.3m1.7 0h1.3m-0.3 0h1.3m3.7 0h1.3m0.7 0h1.3m14.7 0h1.3m-0.3 0h1.3m-0.3 0h1.3m1.7 0h1.3m1.7 0h1.3m0.7 0h1.3m5.7 0h1.3m3.7 0h1.3m-0.3 0h1.3m0.7 0h1.3m0.7 0h1.3m5.7 0h1.3m0.7 0h1.3m1.7 0h1.3m-0.3 0h1.3m0.7 0h1.3m0.7 0h1.3m4.7 0h1.3m0.7 0h1.3m-0.3 0h1.3m-87.3 1h1.3m0.7 0h1.3m-0.3 0h1.3m15.7 0h1.3m-0.3 0h1.3m0.7 0h1.3m3.7 0h1.3m-0.3 0h1.3m0.7 0h1.3m-0.3 0h1.3m-0.3 0h1.3m0.7 0h1.3m2.7 0h1.3m0.7 0h1.3m5.7 0h1.3m0.7 0h1.3m7.7 0h1.3m0.7 0h1.3m2.7 0h1.3m7.7 0h1.3m1.7 0h1.3m5.7 0h1.3m12.7 0h1.3m0.7 0h1.3m1.7 0h1.3m-106.3 1h1.3m-0.3 0h1.3m-0.3 0h1.3m2.7 0h1.3m0.7 0h1.3m-0.3 0h1.3m2.7 0h1.3m0.7 0h1.3m5.7 0h1.3m1.7 0h1.3m1.7 0h1.3m-0.3 0h1.3m0.7 0h1.3m0.7 0h1.3m7.7 0h1.3m3.7 0h1.3m-0.3 0h1.3m0.7 0h1.3m0.7 0h1.3m3.7 0h1.3m-0.3 0h1.3m0.7 0h1.3m0.7 0h1.3m-0.3 0h1.3m3.7 0h1.3m2.7 0h1.3m1.7 0h1.3m2.7 0h1.3m0.7 0h1.3m15.7 0h1.3m-98.3 1h1.3m3.7 0h1.3m0.7 0h1.3m8.7 0h1.3m5.7 0h1.3m2.7 0h1.3m1.7 0h1.3m2.7 0h1.3m7.7 0h1.3m0.7 0h1.3m1.7 0h1.3m1.7 0h1.3m1.7 0h1.3m-0.3 0h1.3m2.7 0h1.3m6.7 0h1.3m0.7 0h1.3m6.7 0h1.3m2.7 0h1.3m7.7 0h1.3m-88.3 1h1.3m8.7 0h1.3m4.7 0h1.3m-0.3 0h1.3m7.7 0h1.3m4.7 0h1.3m0.7 0h1.3m-0.3 0h1.3m0.7 0h1.3m0.7 0h1.3m1.7 0h1.3m-0.3 0h1.3m6.7 0h1.3m-0.3 0h1.3m-0.3 0h1.3m0.7 0h1.3m3.7 0h1.3m0.7 0h1.3m-0.3 0h1.3m0.7 0h1.3m-0.3 0h1.3m-67.3 1h1.3m-0.3 0h1.3m-0.3 0h1.3m0.7 0h1.3m3.7 0h1.3m10.7 0h1.3m2.7 0h1.3m0.7 0h1.3m0.7 0h1.3m-0.3 0h1.3m-0.3 0h1.3m0.7 0h1.3m3.7 0h1.3m-0.3 0h1.3m0.7 0h1.3m0.7 0h1.3m2.7 0h1.3m1.7 0h1.3m4.7 0h1.3m2.7 0h1.3m-0.3 0h1.3m0.7 0h1.3m8.7 0h1.3m-80.3 1h1.3m0.7 0h1.3m-0.3 0h1.3m0.7 0h1.3m14.7 0h1.3m5.7 0h1.3m0.7 0h1.3m1.7 0h1.3m0.7 0h1.3m1.7 0h1.3m1.7 0h1.3m8.7 0h1.3m1.7 0h1.3m-0.3 0h1.3m3.7 0h1.3m-0.3 0h1.3m0.7 0h1.3m0.7 0h1.3m2.7 0h1.3m1.7 0h1.3m6.7 0h1.3m-0.3 0h1.3m9.7 0h1.3m-92.3 1h1.3m9.7 0h1.3m1.7 0h1.3m10.7 0h1.3m-0.3 0h1.3m2.7 0h1.3m19.7 0h1.3m-0.3 0h1.3m1.7 0h1.3m1.7 0h1.3m-0.3 0h1.3m3.7 0h1.3m2.7 0h1.3m15.7 0h1.3m-85.3 1h1.3m13.7 0h1.3m7.7 0h1.3m8.7 0h1.3m1.7 0h1.3m-0.3 0h1.3m-0.3 0h1.3m1.7 0h1.3m2.7 0h1.3m0.7 0h1.3m1.7 0h1.3m0.7 0h1.3m-0.3 0h1.3m3.7 0h1.3m-0.3 0h1.3m4.7 0h1.3m0.7 0h1.3m18.7 0h1.3m-88.3 1h1.3m7.7 0h1.3m2.7 0h1.3m-0.3 0h1.3m1.7 0h1.3m3.7 0h1.3m2.7 0h1.3m7.7 0h1.3m-0.3 0h1.3m0.7 0h1.3m6.7 0h1.3m-0.3 0h1.3m1.7 0h1.3m0.7 0h1.3m7.7 0h1.3m-0.3 0h1.3m4.7 0h1.3m1.7 0h1.3m3.7 0h1.3m12.7 0h1.3m-93.3 1h1.3m3.7 0h1.3m5.7 0h1.3m9.7 0h1.3m0.7 0h1.3m-0.3 0h1.3m9.7 0h1.3m0.7 0h1.3m8.7 0h1.3m12.7 0h1.3m8.7 0h1.3m-71.3 1h1.3m3.7 0h1.3m5.7 0h1.3m1.7 0h1.3m10.7 0h1.3m1.7 0h1.3m2.7 0h1.3m6.7 0h1.3m-0.3 0h1.3m2.7 0h1.3m1.7 0h1.3m-0.3 0h1.3m-0.3 0h1.3m1.7 0h1.3m6.7 0h1.3m0.7 0h1.3m8.7 0h1.3m-78.3 1h1.3m3.7 0h1.3m5.7 0h1.3m4.7 0h1.3m3.7 0h1.3m0.7 0h1.3m12.7 0h1.3m-0.3 0h1.3m2.7 0h1.3m14.7 0h1.3m3.7 0h1.3m0.7 0h1.3m4.7 0h1.3m5.7 0h1.3m11.7 0h1.3m-94.3 1h1.3m1.7 0h1.3m9.7 0h1.3m0.7 0h1.3m3.7 0h1.3m15.7 0h1.3m4.7 0h1.3m8.7 0h1.3m-0.3 0h1.3m0.7 0h1.3m6.7 0h1.3m-0.3 0h1.3m6.7 0h1.3m2.7 0h1.3m-77.3 1h1.3m0.7 0h1.3m3.7 0h1.3m3.7 0h1.3m12.7 0h1.3m4.7 0h1.3m-0.3 0h1.3m2.7 0h1.3m13.7 0h1.3m3.7 0h1.3m2.7 0h1.3m0.7 0h1.3m1.7 0h1.3m7.7 0h1.3m13.7 0h1.3m-96.3 1h1.3m0.7 0h1.3m-0.3 0h1.3m-0.3 0h1.3m-0.3 0h1.3m-0.3 0h1.3m-0.3 0h1.3m-0.3 0h1.3m-0.3 0h1.3m-0.3 0h1.3m-0.3 0h1.3m-0.3 0h1.3m-0.3 0h1.3m-0.3 0h1.3m-0.3 0h1.3m-0.3 0h1.3m-0.3 0h1.3m-0.3 0h1.3m-0.3 0h1.3m-0.3 0h1.3m-0.3 0h1.3m0.7 0h1.3m0.7 0h1.3m0.7 0h1.3m0.7 0h1.3m-0.3 0h1.3m1.7 0h1.3m-0.3 0h1.3m0.7 0h1.3m-0.3 0h1.3m-0.3 0h1.3m-0.3 0h1.3m-0.3 0h1.3m0.7 0h1.3m-0.3 0h1.3m-0.3 0h1.3m-0.3 0h1.3m-0.3 0h1.3m-0.3 0h1.3m-0.3 0h1.3m-0.3 0h1.3m-0.3 0h1.3m-0.3 0h1.3m-0.3 0h1.3m-0.3 0h1.3m-0.3 0h1.3m-0.3 0h1.3m-0.3 0h1.3m0.7 0h1.3m0.7 0h1.3m-0.3 0h1.3m-0.3 0h1.3m-0.3 0h1.3m-0.3 0h1.3m-0.3 0h1.3m-0.3 0h1.3m0.7 0h1.3m0.7 0h1.3m0.7 0h1.3m-0.3 0h1.3m-0.3 0h1.3m0.7 0h1.3m-0.3 0h1.3m-0.3 0h1.3m0.7 0h1.3m0.7 0h1.3m0.7 0h1.3m1.7 0h1.3m-0.3 0h1.3m-0.3 0h1.3" stroke="#0000ff" stroke-width="1.3" fill="none"/>
<path d="M458 1698h1.3m-6.3 8h1.3m-13.3 5h1.3m2.7 1h1.3m19.7 0h1.3m-35.3 1h1.3m16.7 1h1.3m2.7 0h1.3m3.7 0h1.3m2.7 0h1.3m0.7 0h1.3m8.7 0h1.3m-28.3 1h1.3m3.7 0h1.3m2.7 0h1.3m0.7 1h1.3m-7.3 1h1.3m3.7 0h1.3m10.7 0h1.3m-20.3 1h1.3m4.7 0h1.3m6.7 0h1.3m0.7 0h1.3m6.7 0h1.3m-28.3 1h1.3m0.7 0h1.3m1.7 0h1.3m5.7 0h1.3m3.7 0h1.3m-23.3 1h1.3m12.7 0h1.3m7.7 0h1.3m5.7 0h1.3m-39.3 1h1.3m2.7 0h1.3m5.7 0h1.3m8.7 0h1.3m-1.3 1h1.3m-0.3 0h1.3m0.7 0h1.3m-0.3 0h1.3m-14.3 1h1.3m1.7 0h1.3m2.7 0h1.3m-0.3 0h1.3m5.7 0h1.3m0.7 0h1.3m7.7 0h1.3m-47.3 1h1.3m6.7 0h1.3m-0.3 0h1.3m11.7 0h1.3m1.7 0h1.3m1.7 0h1.3m-0.3 0h1.3m1.7 0h1.3m-0.3 0h1.3m-0.3 0h1.3m1.7 0h1.3m8.7 0h1.3m2.7 0h1.3m-43.3 1h1.3m12.7 0h1.3m1.7 0h1.3m5.7 0h1.3m0.7 0h1.3m0.7 0h1.3m0.7 0h1.3m0.7 0h1.3m-0.3 0h1.3m4.7 0h1.3m-39.3 1h1.3m-0.3 0h1.3m3.7 0h1.3m0.7 0h1.3m0.7 0h1.3m5.7 0h1.3m-0.3 0h1.3m-0.3 0h1.3m0.7 0h1.3m2.7 0h1.3m0.7 0h1.3m-0.3 0h1.3m-0.3 0h1.3m-0.3 0h1.3m6.7 0h1.3m2.7 0h1.3m-34.3 1h1.3m3.7 0h1.3m6.7 0h1.3m1.7 0h1.3m4.7 0h1.3m-0.3 0h1.3m4.7 0h1.3m5.7 0h1.3m-53.3 1h1.3m22.7 0h1.3m2.7 0h1.3m4.7 0h1.3m-0.3 0h1.3m-0.3 0h1.3m-0.3 0h1.3m-0.3 0h1.3m-35.3 1h1.3m2.7 0h1.3m3.7 0h1.3m-0.3 0h1.3m-0.3 0h1.3m2.7 0h1.3m-0.3 0h1.3m0.7 0h1.3m0.7 0h1.3m-0.3 0h1.3m-0.3 0h1.3m1.7 0h1.3m-0.3 0h1.3m0.7 0h1.3m0.7 0h1.3m0.7 0h1.3m1.7 0h1.3m-0.3 0h1.3m7.7 0h1.3m-71.3 1h1.3m16.7 0h1.3m1.7 0h1.3m6.7 0h1.3m2.7 0h1.3m0.7 0h1.3m-0.3 0h1.3m3.7 0h1.3m0.7 0h1.3m-0.3 0h1.3m2.7 0h1.3m2.7 0h1.3m3.7 0h1.3m-0.3 0h1.3m1.7 0h1.3m2.7 0h1.3m0.7 0h1.3m0.7 0h1.3m2.7 0h1.3m-56.3 1h1.3m6.7 0h1.3m0.7 0h1.3m3.7 0h1.3m-0.3 0h1.3m1.7 0h1.3m2.7 0h1.3m-0.3 0h1.3m1.7 0h1.3m0.7 0h1.3m2.7 0h1.3m-0.3 0h1.3m0.7 0h1.3m1.7 0h1.3m3.7 0h1.3m0.7 0h1.3m1.7 0h1.3m-0.3 0h1.3m1.7 0h1.3m-0.3 0h1.3m-60.3 1h1.3m13.7 0h1.3m0.7 0h1.3m2.7 0h1.3m-0.3 0h1.3m1.7 0h1.3m0.7 0h1.3m-0.3 0h1.3m0.7 0h1.3m4.7 0h1.3m2.7 0h1.3m0.7 0h1.3m-0.3 0h1.3m2.7 0h1.3m1.7 0h1.3m0.7 0h1.3m0.7 0h1.3m2.7 0h1.3m-41.3 1h1.3m0.7 0h1.3m-0.3 0h1.3m0.7 0h1.3m-0.3 0h1.3m3.7 0h1.3m3.7 0h1.3m0.7 0h1.3m-0.3 0h1.3m0.7 0h1.3m0.7 0h1.3m1.7 0h1.3m-0.3 0h1.3m2.7 0h1.3m0.7 0h1.3m-0.3 0h1.3m-0.3 0h1.3m-57.3 1h1.3m6.7 0h1.3m10.7 0h1.3m0.7 0h1.3m1.7 0h1.3m3.7 0h1.3m8.7 0h1.3m-0.3 0h1.3m-0.3 0h1.3m2.7 0h1.3m1.7 0h1.3m1.7 0h1.3m-0.3 0h1.3m-0.3 0h1.3m0.7 0h1.3m2.7 0h1.3m-47.3 1h1.3m2.7 0h1.3m5.7 0h1.3m1.7 0h1.3m7.7 0h1.3m0.7 0h1.3m1.7 0h1.3m4.7 0h1.3m0.7 0h1.3m1.7 0h1.3m-0.3 0h1.3m0.7 0h1.3m-51.3 1h1.3m2.7 0h1.3m13.7 0h1.3m3.7 0h1.3m1.7 0h1.3m1.7 0h1.3m4.7 0h1.3m9.7 0h1.3m-0.3 0h1.3m-0.3 0h1.3m4.7 0h1.3m-75.3 1h1.3m4.7 0h1.3m14.7 0h1.3m5.7 0h1.3m-0.3 0h1.3m3.7 0h1.3m0.7 0h1.3m-0.3 0h1.3m4.7 0h1.3m0.7 0h1.3m1.7 0h1.3m9.7 0h1.3m0.7 0h1.3m3.7 0h1.3m-0.3 0h1.3m1.7 0h1.3m0.7 0h1.3m0.7 0h1.3m-50.3 1h1.3m4.7 0h1.3m-0.3 0h1.3m0.7 0h1.3m2.7 0h1.3m0.7 0h1.3m4.7 0h1.3m1.7 0h1.3m14.7 0h1.3m1.7 0h1.3m2.7 0h1.3m-0.3 0h1.3m0.7 0h1.3m-52.3 1h1.3m0.7 0h1.3m4.7 0h1.3m4.7 0h1.3m0.7 0h1.3m16.7 0h1.3m13.7 0h1.3m0.7 0h1.3m-68.3 1h1.3m29.7 0h1.3m0.7 0h1.3m5.7 0h1.3m-0.3 0h1.3m2.7 0h1.3m6.7 0h1.3m-0.3 0h1.3m-0.3 0h1.3m1.7 0h1.3m-0.3 0h1.3m0.7 0h1.3m-0.3 0h1.3m1.7 0h1.3m-44.3 1h1.3m3.7 0h1.3m-0.3 0h1.3m-0.3 0h1.3m-0.3 0h1.3m19.7 0h1.3m-0.3 0h1.3m12.7 0h1.3m3.7 0h1.3m-73.3 1h1.3m9.7 0h1.3m4.7 0h1.3m3.7 0h1.3m0.7 0h1.3m0.7 0h1.3m1.7 0h1.3m-0.3 0h1.3m-0.3 0h1.3m-0.3 0h1.3m0.7 0h1.3m0.7 0h1.3m-0.3 0h1.3m11.7 0h1.3m3.7 0h1.3m3.7 0h1.3m-0.3 0h1.3m-0.3 0h1.3m2.7 0h1.3m1.7 0h1.3m2.7 0h1.3m-80.3 1h1.3m23.7 0h1.3m13.7 0h1.3m20.7 0h1.3m0.7 0h1.3m3.7 0h1.3m-0.3 0h1.3m3.7 0h1.3m-73.3 1h1.3m16.7 0h1.3m6.7 0h1.3m-0.3 0h1.3m0.7 0h1.3m20.7 0h1.3m13.7 0h1.3m2.7 0h1.3m-0.3 0h1.3m-0.3 0h1.3m6.7 0h1.3m-85.3 1h1.3m2.7 0h1.3m16.7 0h1.3m4.7 0h1.3m0.7 0h1.3m-0.3 0h1.3m-0.3 0h1.3m-0.3 0h1.3m0.7 0h1.3m-0.3 0h1.3m-0.3 0h1.3m24.7 0h1.3m1.7 0h1.3m-0.3 0h1.3m2.7 0h1.3m-0.3 0h1.3m1.7 0h1.3m-74.3 1h1.3m16.7 0h1.3m0.7 0h1.3m0.7 0h1.3m0.7 0h1.3m-0.3 0h1.3m-0.3 0h1.3m-0.3 0h1.3m1.7 0h1.3m-0.3 0h1.3m-0.3 0h1.3m6.7 0h1.3m18.7 0h1.3m2.7 0h1.3m0.7 0h1.3m-0.3 0h1.3m0.7 0h1.3m3.7 0h1.3m1.7 0h1.3m-75.3 1h1.3m0.7 0h1.3m4.7 0h1.3m9.7 0h1.3m1.7 0h1.3m-0.3 0h1.3m-0.3 0h1.3m0.7 0h1.3m-0.3 0h1.3m2.7 0h1.3m-0.3 0h1.3m7.7 0h1.3m25.7 0h1.3m0.7 0h1.3m-65.3 1h1.3m14.7 0h1.3m5.7 0h1.3m4.7 0h1.3m2.7 0h1.3m20.7 0h1.3m1.7 0h1.3m0.7 0h1.3m-0.3 0h1.3m-76.3 1h1.3m4.7 0h1.3m7.7 0h1.3m3.7 0h1.3m10.7 0h1.3m1.7 0h1.3m-0.3 0h1.3m-0.3 0h1.3m30.7 0h1.3m-0.3 0h1.3m2.7 0h1.3m-0.3 0h1.3m2.7 0h1.3m0.7 0h1.3m-77.3 1h1.3m-0.3 0h1.3m15.7 0h1.3m3.7 0h1.3m4.7 0h1.3m1.7 0h1.3m2.7 0h1.3m31.7 0h1.3m2.7 0h1.3m-0.3 0h1.3m0.7 0h1.3m-71.3 1h1.3m5.7 0h1.3m6.7 0h1.3m0.7 0h1.3m-0.3 0h1.3m0.7 0h1.3m1.7 0h1.3m-0.3 0h1.3m0.7 0h1.3m30.7 0h1.3m5.7 0h1.3m-0.3 0h1.3m-0.3 0h1.3m-0.3 0h1.3m-0.3 0h1.3m0.7 0h1.3m-68.3 1h1.3m3.7 0h1.3m-0.3 0h1.3m3.7 0h1.3m1.7 0h1.3m0.7 0h1.3m-0.3 0h1.3m0.7 0h1.3m-0.3 0h1.3m1.7 0h1.3m-0.3 0h1.3m27.7 0h1.3m8.7 0h1.3m-0.3 0h1.3m-59.3 1h1.3m4.7 0h1.3m1.7 0h1.3m-0.3 0h1.3m-0.3 0h1.3m1.7 0h1.3m0.7 0h1.3m32.7 0h1.3m3.7 0h1.3m-0.3 0h1.3m5.7 0h1.3m-74.3 1h1.3m8.7 0h1.3m1.7 0h1.3m8.7 0h1.3m37.7 0h1.3m6.7 0h1.3m-79.3 1h1.3m9.7 0h1.3m1.7 0h1.3m0.7 0h1.3m2.7 0h1.3m1.7 0h1.3m44.7 0h1.3m0.7 0h1.3m1.7 0h1.3m-72.3 1h1.3m11.7 0h1.3m-0.3 0h1.3m9.7 0h1.3m-0.3 0h1.3m42.7 0h1.3m-0.3 0h1.3m1.7 0h1.3m-68.3 1h1.3m-0.3 0h1.3m3.7 0h1.3m0.7 0h1.3m-0.3 0h1.3m3.7 0h1.3m-0.3 0h1.3m4.7 0h1.3m45.7 0h1.3m-0.3 0h1.3m-81.3 1h1.3m13.7 0h1.3m3.7 0h1.3m-0.3 0h1.3m-0.3 0h1.3m2.7 0h1.3m-0.3 0h1.3m-0.3 0h1.3m2.7 0h1.3m-0.3 0h1.3m-0.3 0h1.3m37.7 0h1.3m1.7 0h1.3m0.7 0h1.3m-0.3 0h1.3m-0.3 0h1.3m-79.3 1h1.3m1.7 0h1.3m-0.3 0h1.3m2.7 0h1.3m2.7 0h1.3m-0.3 0h1.3m0.7 0h1.3m0.7 0h1.3m-0.3 0h1.3m1.7 0h1.3m-0.3 0h1.3m-0.3 0h1.3m-0.3 0h1.3m-0.3 0h1.3m46.7 0h1.3m0.7 0h1.3m-0.3 0h1.3m-0.3 0h1.3m-78.3 1h1.3m0.7 0h1.3m1.7 0h1.3m-0.3 0h1.3m7.7 0h1.3m2.7 0h1.3m-0.3 0h1.3m-0.3 0h1.3m0.7 0h1.3m-0.3 0h1.3m6.7 0h1.3m39.7 0h1.3m-0.3 0h1.3m0.7 0h1.3m0.7 0h1.3m-74.3 1h1.3m4.7 0h1.3m-0.3 0h1.3m-0.3 0h1.3m-0.3 0h1.3m0.7 0h1.3m0.7 0h1.3m3.7 0h1.3m0.7 0h1.3m0.7 0h1.3m-0.3 0h1.3m38.7 0h1.3m-0.3 0h1.3m1.7 0h1.3m-0.3 0h1.3m-73.3 1h1.3m2.7 0h1.3m2.7 0h1.3m1.7 0h1.3m-0.3 0h1.3m-0.3 0h1.3m-0.3 0h1.3m3.7 0h1.3m7.7 0h1.3m41.7 0h1.3m1.7 0h1.3m0.7 0h1.3m0.7 0h1.3m-78.3 1h1.3m-0.3 0h1.3m2.7 0h1.3m0.7 0h1.3m-0.3 0h1.3m3.7 0h1.3m-0.3 0h1.3m1.7 0h1.3m0.7 0h1.3m5.7 0h1.3m36.7 0h1.3m4.7 0h1.3m1.7 0h1.3m-79.3 1h1.3m0.7 0h1.3m1.7 0h1.3m-0.3 0h1.3m-0.3 0h1.3m7.7 0h1.3m1.7 0h1.3m-0.3 0h1.3m-0.3 0h1.3m5.7 0h1.3m1.7 0h1.3m46.7 0h1.3m-0.3 0h1.3m-74.3 1h1.3m13.7 0h1.3m1.7 0h1.3m-0.3 0h1.3m-0.3 0h1.3m2.7 0h1.3m38.7 0h1.3m3.7 0h1.3m-0.3 0h1.3m1.7 0h1.3m-78.3 1h1.3m-0.3 0h1.3m2.7 0h1.3m0.7 0h1.3m5.7 0h1.3m6.7 0h1.3m1.7 0h1.3m-0.3 0h1.3m2.7 0h1.3m45.7 0h1.3m0.7 0h1.3m5.7 0h1.3m-91.3 1h1.3m2.7 0h1.3m1.7 0h1.3m0.7 0h1.3m-0.3 0h1.3m-0.3 0h1.3m1.7 0h1.3m56.7 0h1.3m2.7 0h1.3m0.7 0h1.3m0.7 0h1.3m2.7 0h1.3m-84.3 1h1.3m-0.3 0h1.3m-0.3 0h1.3m0.7 0h1.3m2.7 0h1.3m-0.3 0h1.3m1.7 0h1.3m0.7 0h1.3m8.7 0h1.3m1.7 0h1.3m5.7 0h1.3m35.7 0h1.3m6.7 0h1.3m-0.3 0h1.3m-79.3 1h1.3m-0.3 0h1.3m1.7 0h1.3m0.7 0h1.3m2.7 0h1.3m3.7 0h1.3m0.7 0h1.3m1.7 0h1.3m49.7 0h1.3m2.7 0h1.3m2.7 0h1.3m-80.3 1h1.3m-0.3 0h1.3m0.7 0h1.3m-0.3 0h1.3m-0.3 0h1.3m-0.3 0h1.3m-0.3 0h1.3m0.7 0h1.3m6.7 0h1.3m2.7 0h1.3m-0.3 0h1.3m1.7 0h1.3m1.7 0h1.3m46.7 0h1.3m5.7 0h1.3m-84.3 1h1.3m-0.3 0h1.3m1.7 0h1.3m0.7 0h1.3m8.7 0h1.3m-0.3 0h1.3m0.7 0h1.3m1.7 0h1.3m1.7 0h1.3m-0.3 0h1.3m2.7 0h1.3m40.7 0h1.3m-0.3 0h1.3m-0.3 0h1.3m-0.3 0h1.3m0.7 0h1.3m-0.3 0h1.3m-78.3 1h1.3m2.7 0h1.3m0.7 0h1.3m-0.3 0h1.3m-0.3 0h1.3m7.7 0h1.3m0.7 0h1.3m1.7 0h1.3m-0.3 0h1.3m0.7 0h1.3m0.7 0h1.3m3.7 0h1.3m35.7 0h1.3m2.7 0h1.3m-76.3 1h1.3m1.7 0h1.3m0.7 0h1.3m-0.3 0h1.3m0.7 0h1.3m0.7 0h1.3m0.7 0h1.3m0.7 0h1.3m0.7 0h1.3m3.7 0h1.3m0.7 0h1.3m4.7 0h1.3m-0.3 0h1.3m0.7 0h1.3m4.7 0h1.3m28.7 0h1.3m4.7 0h1.3m-0.3 0h1.3m-0.3 0h1.3m-0.3 0h1.3m-0.3 0h1.3m3.7 0h1.3m-82.3 1h1.3m0.7 0h1.3m0.7 0h1.3m2.7 0h1.3m1.7 0h1.3m6.7 0h1.3m1.7 0h1.3m1.7 0h1.3m1.7 0h1.3m40.7 0h1.3m0.7 0h1.3m-75.3 1h1.3m9.7 0h1.3m2.7 0h1.3m0.7 0h1.3m0.7 0h1.3m1.7 0h1.3m-0.3 0h1.3m4.7 0h1.3m33.7 0h1.3m2.7 0h1.3m5.7 0h1.3m0.7 0h1.3m-76.3 1h1.3m1.7 0h1.3m4.7 0h1.3m0.7 0h1.3m2.7 0h1.3m2.7 0h1.3m0.7 0h1.3m2.7 0h1.3m0.7 0h1.3m41.7 0h1.3m1.7 0h1.3m2.7 0h1.3m2.7 0h1.3m-86.3 1h1.3m-0.3 0h1.3m4.7 0h1.3m0.7 0h1.3m-0.3 0h1.3m1.7 0h1.3m4.7 0h1.3m5.7 0h1.3m0.7 0h1.3m39.7 0h1.3m1.7 0h1.3m-0.3 0h1.3m-0.3 0h1.3m5.7 0h1.3m0.7 0h1.3m6.7 0h1.3m-89.3 1h1.3m-0.3 0h1.3m2.7 0h1.3m1.7 0h1.3m-0.3 0h1.3m0.7 0h1.3m7.7 0h1.3m0.7 0h1.3m-0.3 0h1.3m0.7 0h1.3m-0.3 0h1.3m-0.3 0h1.3m0.7 0h1.3m37.7 0h1.3m-70.3 1h1.3m-0.3 0h1.3m10.7 0h1.3m4.7 0h1.3m3.7 0h1.3m-0.3 0h1.3m0.7 0h1.3m-0.3 0h1.3m0.7 0h1.3m40.7 0h1.3m-0.3 0h1.3m-0.3 0h1.3m-0.3 0h1.3m1.7 0h1.3m-73.3 1h1.3m7.7 0h1.3m6.7 0h1.3m3.7 0h1.3m-0.3 0h1.3m-0.3 0h1.3m36.7 0h1.3m-0.3 0h1.3m0.7 0h1.3m-0.3 0h1.3m5.7 0h1.3m-79.3 1h1.3m0.7 0h1.3m12.7 0h1.3m6.7 0h1.3m-0.3 0h1.3m-0.3 0h1.3m3.7 0h1.3m34.7 0h1.3m0.7 0h1.3m2.7 0h1.3m1.7 0h1.3m-75.3 1h1.3m3.7 0h1.3m3.7 0h1.3m0.7 0h1.3m-0.3 0h1.3m2.7 0h1.3m4.7 0h1.3m-0.3 0h1.3m0.7 0h1.3m5.7 0h1.3m24.7 0h1.3m9.7 0h1.3m-0.3 0h1.3m-0.3 0h1.3m0.7 0h1.3m-70.3 1h1.3m-0.3 0h1.3m0.7 0h1.3m4.7 0h1.3m4.7 0h1.3m3.7 0h1.3m-0.3 0h1.3m4.7 0h1.3m27.7 0h1.3m0.7 0h1.3m1.7 0h1.3m0.7 0h1.3m0.7 0h1.3m-0.3 0h1.3m-75.3 1h1.3m5.7 0h1.3m-0.3 0h1.3m13.7 0h1.3m1.7 0h1.3m2.7 0h1.3m2.7 0h1.3m27.7 0h1.3m0.7 0h1.3m0.7 0h1.3m3.7 0h1.3m-0.3 0h1.3m1.7 0h1.3m-0.3 0h1.3m7.7 0h1.3m-84.3 1h1.3m1.7 0h1.3m-0.3 0h1.3m2.7 0h1.3m6.7 0h1.3m1.7 0h1.3m-0.3 0h1.3m0.7 0h1.3m0.7 0h1.3m2.7 0h1.3m1.7 0h1.3m31.7 0h1.3m1.7 0h1.3m2.7 0h1.3m0.7 0h1.3m-69.3 1h1.3m1.7 0h1.3m0.7 0h1.3m-0.3 0h1.3m1.7 0h1.3m5.7 0h1.3m-0.3 0h1.3m2.7 0h1.3m-0.3 0h1.3m0.7 0h1.3m-0.3 0h1.3m3.7 0h1.3m0.7 0h1.3m16.7 0h1.3m5.7 0h1.3m1.7 0h1.3m1.7 0h1.3m-0.3 0h1.3m9.7 0h1.3m-77.3 1h1.3m13.7 0h1.3m-0.3 0h1.3m0.7 0h1.3m7.7 0h1.3m-0.3 0h1.3m4.7 0h1.3m12.7 0h1.3m5.7 0h1.3m1.7 0h1.3m0.7 0h1.3m-0.3 0h1.3m1.7 0h1.3m-0.3 0h1.3m4.7 0h1.3m-75.3 1h1.3m-0.3 0h1.3m-0.3 0h1.3m-0.3 0h1.3m2.7 0h1.3m0.7 0h1.3m3.7 0h1.3m10.7 0h1.3m0.7 0h1.3m4.7 0h1.3m1.7 0h1.3m20.7 0h1.3m0.7 0h1.3m-0.3 0h1.3m2.7 0h1.3m-0.3 0h1.3m2.7 0h1.3m-59.3 1h1.3m8.7 0h1.3m2.7 0h1.3m2.7 0h1.3m20.7 0h1.3m0.7 0h1.3m4.7 0h1.3m2.7 0h1.3m1.7 0h1.3m0.7 0h1.3m3.7 0h1.3m-71.3 1h1.3m1.7 0h1.3m8.7 0h1.3m4.7 0h1.3m7.7 0h1.3m9.7 0h1.3m6.7 0h1.3m12.7 0h1.3m2.7 0h1.3m-0.3 0h1.3m-69.3 1h1.3m15.7 0h1.3m0.7 0h1.3m0.7 0h1.3m-0.3 0h1.3m1.7 0h1.3m1.7 0h1.3m-0.3 0h1.3m1.7 0h1.3m1.7 0h1.3m0.7 0h1.3m1.7 0h1.3m0.7 0h1.3m2.7 0h1.3m2.7 0h1.3m2.7 0h1.3m0.7 0h1.3m3.7 0h1.3m0.7 0h1.3m-49.3 1h1.3m0.7 0h1.3m6.7 0h1.3m-0.3 0h1.3m6.7 0h1.3m1.7 0h1.3m4.7 0h1.3m3.7 0h1.3m1.7 0h1.3m-0.3 0h1.3m-0.3 0h1.3m2.7 0h1.3m-0.3 0h1.3m-0.3 0h1.3m1.7 0h1.3m-0.3 0h1.3m-49.3 1h1.3m5.7 0h1.3m1.7 0h1.3m0.7 0h1.3m-0.3 0h1.3m0.7 0h1.3m0.7 0h1.3m-0.3 0h1.3m0.7 0h1.3m-0.3 0h1.3m0.7 0h1.3m1.7 0h1.3m2.7 0h1.3m0.7 0h1.3m0.7 0h1.3m0.7 0h1.3m9.7 0h1.3m-49.3 1h1.3m6.7 0h1.3m0.7 0h1.3m4.7 0h1.3m3.7 0h1.3m-0.3 0h1.3m0.7 0h1.3m-0.3 0h1.3m0.7 0h1.3m1.7 0h1.3m1.7 0h1.3m9.7 0h1.3m-0.3 0h1.3m3.7 0h1.3m-52.3 1h1.3m9.7 0h1.3m-0.3 0h1.3m-0.3 0h1.3m-0.3 0h1.3m4.7 0h1.3m0.7 0h1.3m1.7 0h1.3m0.7 0h1.3m0.7 0h1.3m1.7 0h1.3m0.7 0h1.3m0.7 0h1.3m2.7 0h1.3m-0.3 0h1.3m-32.3 1h1.3m4.7 0h1.3m4.7 0h1.3m-0.3 0h1.3m4.7 0h1.3m0.7 0h1.3m3.7 0h1.3m1.7 0h1.3m0.7 0h1.3m-0.3 0h1.3m-0.3 0h1.3m3.7 0h1.3m3.7 0h1.3m-44.3 1h1.3m0.7 0h1.3m6.7 0h1.3m1.7 0h1.3m1.7 0h1.3m-0.3 0h1.3m0.7 0h1.3m1.7 0h1.3m0.7 0h1.3m2.7 0h1.3m3.7 0h1.3m-26.3 1h1.3m0.7 0h1.3m-0.3 0h1.3m3.7 0h1.3m3.7 0h1.3m11.7 0h1.3m-37.3 1h1.3m1.7 0h1.3m3.7 0h1.3m2.7 0h1.3m-0.3 0h1.3m-0.3 0h1.3m5.7 0h1.3m1.7 0h1.3m-0.3 0h1.3m1.7 0h1.3m1.7 0h1.3m1.7 0h1.3m0.7 0h1.3m-33.3 1h1.3m-0.3 0h1.3m5.7 0h1.3m1.7 0h1.3m-0.3 0h1.3m0.7 0h1.3m2.7 0h1.3m-0.3 0h1.3m6.7 0h1.3m4.7 0h1.3m-25.3 1h1.3m10.7 0h1.3m5.7 0h1.3m-9.3 1h1.3m7.7 0h1.3m-12.3 2h1.3m-3.3 2h1.3m3.7 3h1.3" stroke="#00e0ff" stroke-width="1.3" fill="none"/>
<path d="M457 1726h1.3m13.7 0h1.3m-12.3 2h1.3m-6.3 1h1.3m0.7 0h1.3m-0.3 0h1.3m1.7 0h1.3m-12.3 1h1.3m5.7 0h1.3m-0.3 0h1.3m0.7 0h1.3m-11.3 1h1.3m0.7 0h1.3m1.7 0h1.3m3.7 0h1.3m1.7 0h1.3m-14.3 1h1.3m1.7 0h1.3m2.7 0h1.3m0.7 0h1.3m1.7 0h1.3m2.7 0h1.3m4.7 0h1.3m-25.3 1h1.3m1.7 0h1.3m-0.3 0h1.3m2.7 0h1.3m-0.3 0h1.3m2.7 0h1.3m-0.3 0h1.3m-0.3 0h1.3m0.7 0h1.3m5.7 0h1.3m-27.3 1h1.3m6.7 0h1.3m-0.3 0h1.3m1.7 0h1.3m0.7 0h1.3m6.7 0h1.3m-23.3 1h1.3m4.7 0h1.3m0.7 0h1.3m3.7 0h1.3m0.7 0h1.3m1.7 0h1.3m5.7 0h1.3m-19.3 1h1.3m0.7 0h1.3m0.7 0h1.3m-0.3 0h1.3m0.7 0h1.3m0.7 0h1.3m-0.3 0h1.3m4.7 0h1.3m1.7 0h1.3m0.7 0h1.3m-28.3 1h1.3m-0.3 0h1.3m5.7 0h1.3m1.7 0h1.3m-0.3 0h1.3m-0.3 0h1.3m-0.3 0h1.3m-0.3 0h1.3m-0.3 0h1.3m0.7 0h1.3m1.7 0h1.3m-20.3 1h1.3m-0.3 0h1.3m0.7 0h1.3m-0.3 0h1.3m-0.3 0h1.3m-0.3 0h1.3m-0.3 0h1.3m1.7 0h1.3m-0.3 0h1.3m2.7 0h1.3m-0.3 0h1.3m-24.3 1h1.3m4.7 0h1.3m1.7 0h1.3m0.7 0h1.3m-0.3 0h1.3m-0.3 0h1.3m-0.3 0h1.3m2.7 0h1.3m0.7 0h1.3m4.7 0h1.3m-0.3 0h1.3m0.7 0h1.3m-27.3 1h1.3m3.7 0h1.3m1.7 0h1.3m-0.3 0h1.3m-0.3 0h1.3m-0.3 0h1.3m1.7 0h1.3m-0.3 0h1.3m-0.3 0h1.3m-0.3 0h1.3m0.7 0h1.3m-0.3 0h1.3m1.7 0h1.3m-22.3 1h1.3m-0.3 0h1.3m-0.3 0h1.3m5.7 0h1.3m0.7 0h1.3m0.7 0h1.3m-0.3 0h1.3m-0.3 0h1.3m-0.3 0h1.3m2.7 0h1.3m2.7 0h1.3m-0.3 0h1.3m-23.3 1h1.3m0.7 0h1.3m0.7 0h1.3m-0.3 0h1.3m-0.3 0h1.3m1.7 0h1.3m0.7 0h1.3m0.7 0h1.3m-0.3 0h1.3m-0.3 0h1.3m1.7 0h1.3m0.7 0h1.3m-0.3 0h1.3m-0.3 0h1.3m-0.3 0h1.3m-29.3 1h1.3m-0.3 0h1.3m2.7 0h1.3m-0.3 0h1.3m-0.3 0h1.3m-0.3 0h1.3m1.7 0h1.3m-0.3 0h1.3m-0.3 0h1.3m-0.3 0h1.3m-0.3 0h1.3m-0.3 0h1.3m-0.3 0h1.3m-0.3 0h1.3m-0.3 0h1.3m1.7 0h1.3m-0.3 0h1.3m4.7 0h1.3m-0.3 0h1.3m1.7 0h1.3m-36.3 1h1.3m1.7 0h1.3m0.7 0h1.3m2.7 0h1.3m0.7 0h1.3m7.7 0h1.3m1.7 0h1.3m-0.3 0h1.3m-0.3 0h1.3m3.7 0h1.3m-0.3 0h1.3m-29.3 1h1.3m0.7 0h1.3m5.7 0h1.3m-0.3 0h1.3m0.7 0h1.3m-0.3 0h1.3m-0.3 0h1.3m-0.3 0h1.3m-0.3 0h1.3m0.7 0h1.3m-0.3 0h1.3m-0.3 0h1.3m0.7 0h1.3m0.7 0h1.3m0.7 0h1.3m-0.3 0h1.3m-35.3 1h1.3m2.7 0h1.3m5.7 0h1.3m-0.3 0h1.3m0.7 0h1.3m-0.3 0h1.3m-0.3 0h1.3m-0.3 0h1.3m0.7 0h1.3m0.7 0h1.3m-0.3 0h1.3m-0.3 0h1.3m-0.3 0h1.3m0.7 0h1.3m-0.3 0h1.3m-0.3 0h1.3m-0.3 0h1.3m0.7 0h1.3m-27.3 1h1.3m0.7 0h1.3m0.7 0h1.3m-0.3 0h1.3m0.7 0h1.3m-0.3 0h1.3m-0.3 0h1.3m-0.3 0h1.3m0.7 0h1.3m-0.3 0h1.3m1.7 0h1.3m2.7 0h1.3m-0.3 0h1.3m0.7 0h1.3m0.7 0h1.3m-0.3 0h1.3m0.7 0h1.3m-30.3 1h1.3m-0.3 0h1.3m1.7 0h1.3m0.7 0h1.3m0.7 0h1.3m0.7 0h1.3m0.7 0h1.3m-0.3 0h1.3m0.7 0h1.3m1.7 0h1.3m-0.3 0h1.3m-0.3 0h1.3m1.7 0h1.3m-0.3 0h1.3m-0.3 0h1.3m-0.3 0h1.3m-0.3 0h1.3m-0.3 0h1.3m-0.3 0h1.3m-0.3 0h1.3m-0.3 0h1.3m-0.3 0h1.3m-38.3 1h1.3m0.7 0h1.3m0.7 0h1.3m1.7 0h1.3m2.7 0h1.3m0.7 0h1.3m1.7 0h1.3m0.7 0h1.3m0.7 0h1.3m0.7 0h1.3m0.7 0h1.3m-0.3 0h1.3m-0.3 0h1.3m-0.3 0h1.3m3.7 0h1.3m1.7 0h1.3m-0.3 0h1.3m-39.3 1h1.3m0.7 0h1.3m0.7 0h1.3m3.7 0h1.3m0.7 0h1.3m0.7 0h1.3m0.7 0h1.3m-0.3 0h1.3m2.7 0h1.3m-0.3 0h1.3m2.7 0h1.3m-0.3 0h1.3m3.7 0h1.3m-0.3 0h1.3m-0.3 0h1.3m-0.3 0h1.3m1.7 0h1.3m-0.3 0h1.3m-30.3 1h1.3m2.7 0h1.3m4.7 0h1.3m-0.3 0h1.3m-0.3 0h1.3m1.7 0h1.3m-0.3 0h1.3m0.7 0h1.3m1.7 0h1.3m-0.3 0h1.3m-0.3 0h1.3m0.7 0h1.3m-0.3 0h1.3m1.7 0h1.3m-0.3 0h1.3m-0.3 0h1.3m-0.3 0h1.3m0.7 0h1.3m-44.3 1h1.3m5.7 0h1.3m1.7 0h1.3m0.7 0h1.3m-0.3 0h1.3m-0.3 0h1.3m-0.3 0h1.3m0.7 0h1.3m-0.3 0h1.3m0.7 0h1.3m-0.3 0h1.3m0.7 0h1.3m2.7 0h1.3m-0.3 0h1.3m-0.3 0h1.3m-0.3 0h1.3m-0.3 0h1.3m2.7 0h1.3m-0.3 0h1.3m4.7 0h1.3m-46.3 1h1.3m1.7 0h1.3m1.7 0h1.3m0.7 0h1.3m-0.3 0h1.3m-0.3 0h1.3m-0.3 0h1.3m0.7 0h1.3m0.7 0h1.3m-0.3 0h1.3m-0.3 0h1.3m1.7 0h1.3m-0.3 0h1.3m-0.3 0h1.3m-0.3 0h1.3m0.7 0h1.3m-0.3 0h1.3m-0.3 0h1.3m0.7 0h1.3m-0.3 0h1.3m-0.3 0h1.3m-0.3 0h1.3m-0.3 0h1.3m1.7 0h1.3m0.7 0h1.3m1.7 0h1.3m-0.3 0h1.3m0.7 0h1.3m0.7 0h1.3m-48.3 1h1.3m1.7 0h1.3m1.7 0h1.3m0.7 0h1.3m-0.3 0h1.3m-0.3 0h1.3m-0.3 0h1.3m0.7 0h1.3m-0.3 0h1.3m1.7 0h1.3m-0.3 0h1.3m-0.3 0h1.3m-0.3 0h1.3m0.7 0h1.3m-0.3 0h1.3m-0.3 0h1.3m-0.3 0h1.3m-0.3 0h1.3m0.7 0h1.3m0.7 0h1.3m2.7 0h1.3m4.7 0h1.3m-0.3 0h1.3m-0.3 0h1.3m0.7 0h1.3m2.7 0h1.3m-46.3 1h1.3m-0.3 0h1.3m-0.3 0h1.3m0.7 0h1.3m-0.3 0h1.3m0.7 0h1.3m0.7 0h1.3m-0.3 0h1.3m2.7 0h1.3m-0.3 0h1.3m0.7 0h1.3m4.7 0h1.3m-0.3 0h1.3m1.7 0h1.3m-0.3 0h1.3m0.7 0h1.3m-0.3 0h1.3m2.7 0h1.3m-0.3 0h1.3m0.7 0h1.3m2.7 0h1.3m0.7 0h1.3m-0.3 0h1.3m-41.3 1h1.3m-0.3 0h1.3m0.7 0h1.3m0.7 0h1.3m-0.3 0h1.3m-0.3 0h1.3m-0.3 0h1.3m-0.3 0h1.3m-0.3 0h1.3m-0.3 0h1.3m-0.3 0h1.3m-0.3 0h1.3m-0.3 0h1.3m-0.3 0h1.3m1.7 0h1.3m-0.3 0h1.3m0.7 0h1.3m-0.3 0h1.3m0.7 0h1.3m-0.3 0h1.3m-0.3 0h1.3m2.7 0h1.3m-0.3 0h1.3m-0.3 0h1.3m1.7 0h1.3m5.7 0h1.3m-53.3 1h1.3m7.7 0h1.3m-0.3 0h1.3m2.7 0h1.3m-0.3 0h1.3m-0.3 0h1.3m-0.3 0h1.3m-0.3 0h1.3m0.7 0h1.3m0.7 0h1.3m-0.3 0h1.3m0.7 0h1.3m-0.3 0h1.3m0.7 0h1.3m3.7 0h1.3m-0.3 0h1.3m-0.3 0h1.3m-0.3 0h1.3m0.7 0h1.3m0.7 0h1.3m-0.3 0h1.3m-0.3 0h1.3m2.7 0h1.3m-0.3 0h1.3m-0.3 0h1.3m-46.3 1h1.3m-0.3 0h1.3m1.7 0h1.3m0.7 0h1.3m-0.3 0h1.3m-0.3 0h1.3m-0.3 0h1.3m1.7 0h1.3m-0.3 0h1.3m-0.3 0h1.3m0.7 0h1.3m-0.3 0h1.3m-0.3 0h1.3m2.7 0h1.3m-0.3 0h1.3m-0.3 0h1.3m2.7 0h1.3m0.7 0h1.3m2.7 0h1.3m-0.3 0h1.3m-0.3 0h1.3m-0.3 0h1.3m-0.3 0h1.3m-0.3 0h1.3m-0.3 0h1.3m-0.3 0h1.3m4.7 0h1.3m-50.3 1h1.3m0.7 0h1.3m3.7 0h1.3m-0.3 0h1.3m1.7 0h1.3m2.7 0h1.3m-0.3 0h1.3m1.7 0h1.3m0.7 0h1.3m-0.3 0h1.3m2.7 0h1.3m-0.3 0h1.3m5.7 0h1.3m-0.3 0h1.3m0.7 0h1.3m-0.3 0h1.3m0.7 0h1.3m-0.3 0h1.3m0.7 0h1.3m0.7 0h1.3m-42.3 1h1.3m-0.3 0h1.3m1.7 0h1.3m0.7 0h1.3m-0.3 0h1.3m-0.3 0h1.3m0.7 0h1.3m-0.3 0h1.3m-0.3 0h1.3m-0.3 0h1.3m-0.3 0h1.3m-0.3 0h1.3m0.7 0h1.3m0.7 0h1.3m1.7 0h1.3m4.7 0h1.3m0.7 0h1.3m-0.3 0h1.3m-0.3 0h1.3m-0.3 0h1.3m-0.3 0h1.3m0.7 0h1.3m-0.3 0h1.3m-0.3 0h1.3m0.7 0h1.3m0.7 0h1.3m-42.3 1h1.3m0.7 0h1.3m0.7 0h1.3m-0.3 0h1.3m0.7 0h1.3m-0.3 0h1.3m-0.3 0h1.3m-0.3 0h1.3m0.7 0h1.3m1.7 0h1.3m2.7 0h1.3m-0.3 0h1.3m4.7 0h1.3m-0.3 0h1.3m-0.3 0h1.3m0.7 0h1.3m0.7 0h1.3m2.7 0h1.3m0.7 0h1.3m-0.3 0h1.3m3.7 0h1.3m0.7 0h1.3m-49.3 1h1.3m-0.3 0h1.3m-0.3 0h1.3m-0.3 0h1.3m0.7 0h1.3m-0.3 0h1.3m1.7 0h1.3m0.7 0h1.3m0.7 0h1.3m-0.3 0h1.3m-0.3 0h1.3m1.7 0h1.3m2.7 0h1.3m0.7 0h1.3m-0.3 0h1.3m0.7 0h1.3m0.7 0h1.3m-0.3 0h1.3m-0.3 0h1.3m1.7 0h1.3m-0.3 0h1.3m-0.3 0h1.3m-0.3 0h1.3m-0.3 0h1.3m-0.3 0h1.3m-0.3 0h1.3m-0.3 0h1.3m1.7 0h1.3m-0.3 0h1.3m-49.3 1h1.3m4.7 0h1.3m-0.3 0h1.3m-0.3 0h1.3m3.7 0h1.3m3.7 0h1.3m-0.3 0h1.3m0.7 0h1.3m-0.3 0h1.3m-0.3 0h1.3m-0.3 0h1.3m-0.3 0h1.3m-0.3 0h1.3m-0.3 0h1.3m-0.3 0h1.3m0.7 0h1.3m1.7 0h1.3m-0.3 0h1.3m-0.3 0h1.3m3.7 0h1.3m-0.3 0h1.3m-0.3 0h1.3m-0.3 0h1.3m0.7 0h1.3m-0.3 0h1.3m-51.3 1h1.3m0.7 0h1.3m1.7 0h1.3m-0.3 0h1.3m2.7 0h1.3m-0.3 0h1.3m-0.3 0h1.3m-0.3 0h1.3m-0.3 0h1.3m0.7 0h1.3m-0.3 0h1.3m-0.3 0h1.3m-0.3 0h1.3m0.7 0h1.3m0.7 0h1.3m-0.3 0h1.3m0.7 0h1.3m-0.3 0h1.3m0.7 0h1.3m0.7 0h1.3m-0.3 0h1.3m-0.3 0h1.3m-0.3 0h1.3m-0.3 0h1.3m-0.3 0h1.3m0.7 0h1.3m0.7 0h1.3m3.7 0h1.3m0.7 0h1.3m6.7 0h1.3m-50.3 1h1.3m0.7 0h1.3m1.7 0h1.3m-0.3 0h1.3m-0.3 0h1.3m-0.3 0h1.3m2.7 0h1.3m0.7 0h1.3m-0.3 0h1.3m-0.3 0h1.3m-0.3 0h1.3m-0.3 0h1.3m-0.3 0h1.3m0.7 0h1.3m0.7 0h1.3m1.7 0h1.3m-0.3 0h1.3m-0.3 0h1.3m-0.3 0h1.3m0.7 0h1.3m0.7 0h1.3m1.7 0h1.3m-0.3 0h1.3m1.7 0h1.3m-0.3 0h1.3m-0.3 0h1.3m-43.3 1h1.3m5.7 0h1.3m1.7 0h1.3m0.7 0h1.3m-0.3 0h1.3m0.7 0h1.3m2.7 0h1.3m-0.3 0h1.3m0.7 0h1.3m-0.3 0h1.3m0.7 0h1.3m-0.3 0h1.3m-0.3 0h1.3m1.7 0h1.3m-0.3 0h1.3m-0.3 0h1.3m1.7 0h1.3m-0.3 0h1.3m1.7 0h1.3m-0.3 0h1.3m0.7 0h1.3m0.7 0h1.3m-0.3 0h1.3m-0.3 0h1.3m-47.3 1h1.3m0.7 0h1.3m-0.3 0h1.3m-0.3 0h1.3m0.7 0h1.3m2.7 0h1.3m2.7 0h1.3m0.7 0h1.3m0.7 0h1.3m1.7 0h1.3m0.7 0h1.3m5.7 0h1.3m2.7 0h1.3m-0.3 0h1.3m1.7 0h1.3m2.7 0h1.3m3.7 0h1.3m-43.3 1h1.3m0.7 0h1.3m-0.3 0h1.3m0.7 0h1.3m4.7 0h1.3m3.7 0h1.3m0.7 0h1.3m-0.3 0h1.3m-0.3 0h1.3m-0.3 0h1.3m0.7 0h1.3m-0.3 0h1.3m-0.3 0h1.3m-0.3 0h1.3m-0.3 0h1.3m2.7 0h1.3m2.7 0h1.3m0.7 0h1.3m1.7 0h1.3m-46.3 1h1.3m2.7 0h1.3m2.7 0h1.3m2.7 0h1.3m-0.3 0h1.3m1.7 0h1.3m-0.3 0h1.3m-0.3 0h1.3m-0.3 0h1.3m-0.3 0h1.3m0.7 0h1.3m-0.3 0h1.3m-0.3 0h1.3m1.7 0h1.3m2.7 0h1.3m1.7 0h1.3m1.7 0h1.3m0.7 0h1.3m-0.3 0h1.3m1.7 0h1.3m-0.3 0h1.3m-69.3 1h1.3m22.7 0h1.3m0.7 0h1.3m1.7 0h1.3m0.7 0h1.3m0.7 0h1.3m1.7 0h1.3m3.7 0h1.3m1.7 0h1.3m-0.3 0h1.3m-0.3 0h1.3m3.7 0h1.3m0.7 0h1.3m-0.3 0h1.3m-0.3 0h1.3m-0.3 0h1.3m2.7 0h1.3m-0.3 0h1.3m1.7 0h1.3m1.7 0h1.3m-0.3 0h1.3m-0.3 0h1.3m3.7 0h1.3m-56.3 1h1.3m0.7 0h1.3m2.7 0h1.3m0.7 0h1.3m1.7 0h1.3m-0.3 0h1.3m-0.3 0h1.3m-0.3 0h1.3m0.7 0h1.3m0.7 0h1.3m0.7 0h1.3m-0.3 0h1.3m0.7 0h1.3m0.7 0h1.3m0.7 0h1.3m-0.3 0h1.3m-0.3 0h1.3m1.7 0h1.3m0.7 0h1.3m-0.3 0h1.3m-0.3 0h1.3m-0.3 0h1.3m-0.3 0h1.3m0.7 0h1.3m2.7 0h1.3m0.7 0h1.3m-0.3 0h1.3m-0.3 0h1.3m-0.3 0h1.3m0.7 0h1.3m-0.3 0h1.3m-69.3 1h1.3m1.7 0h1.3m12.7 0h1.3m-0.3 0h1.3m2.7 0h1.3m3.7 0h1.3m0.7 0h1.3m-0.3 0h1.3m0.7 0h1.3m0.7 0h1.3m-0.3 0h1.3m3.7 0h1.3m-0.3 0h1.3m0.7 0h1.3m-0.3 0h1.3m-0.3 0h1.3m0.7 0h1.3m-0.3 0h1.3m0.7 0h1.3m-0.3 0h1.3m-0.3 0h1.3m0.7 0h1.3m0.7 0h1.3m-0.3 0h1.3m0.7 0h1.3m0.7 0h1.3m0.7 0h1.3m-0.3 0h1.3m0.7 0h1.3m1.7 0h1.3m3.7 0h1.3m-75.3 1h1.3m17.7 0h1.3m1.7 0h1.3m1.7 0h1.3m-0.3 0h1.3m-0.3 0h1.3m-0.3 0h1.3m0.7 0h1.3m-0.3 0h1.3m-0.3 0h1.3m3.7 0h1.3m0.7 0h1.3m1.7 0h1.3m-0.3 0h1.3m1.7 0h1.3m-0.3 0h1.3m0.7 0h1.3m-0.3 0h1.3m-0.3 0h1.3m-0.3 0h1.3m-0.3 0h1.3m0.7 0h1.3m-0.3 0h1.3m-0.3 0h1.3m-0.3 0h1.3m1.7 0h1.3m-0.3 0h1.3m1.7 0h1.3m0.7 0h1.3m-69.3 1h1.3m21.7 0h1.3m1.7 0h1.3m-0.3 0h1.3m-0.3 0h1.3m-0.3 0h1.3m1.7 0h1.3m-0.3 0h1.3m-0.3 0h1.3m-0.3 0h1.3m-0.3 0h1.3m-0.3 0h1.3m0.7 0h1.3m0.7 0h1.3m1.7 0h1.3m-0.3 0h1.3m-0.3 0h1.3m-0.3 0h1.3m0.7 0h1.3m-0.3 0h1.3m5.7 0h1.3m-0.3 0h1.3m-0.3 0h1.3m-0.3 0h1.3m1.7 0h1.3m1.7 0h1.3m-0.3 0h1.3m-69.3 1h1.3m18.7 0h1.3m5.7 0h1.3m0.7 0h1.3m-0.3 0h1.3m0.7 0h1.3m2.7 0h1.3m0.7 0h1.3m0.7 0h1.3m-0.3 0h1.3m0.7 0h1.3m-0.3 0h1.3m1.7 0h1.3m0.7 0h1.3m-0.3 0h1.3m2.7 0h1.3m1.7 0h1.3m-0.3 0h1.3m-0.3 0h1.3m-0.3 0h1.3m-0.3 0h1.3m-0.3 0h1.3m-0.3 0h1.3m0.7 0h1.3m0.7 0h1.3m-48.3 1h1.3m1.7 0h1.3m0.7 0h1.3m1.7 0h1.3m-0.3 0h1.3m1.7 0h1.3m-0.3 0h1.3m0.7 0h1.3m0.7 0h1.3m1.7 0h1.3m-0.3 0h1.3m0.7 0h1.3m-0.3 0h1.3m1.7 0h1.3m1.7 0h1.3m-0.3 0h1.3m-0.3 0h1.3m2.7 0h1.3m0.7 0h1.3m1.7 0h1.3m-0.3 0h1.3m-0.3 0h1.3m-0.3 0h1.3m0.7 0h1.3m-43.3 1h1.3m-0.3 0h1.3m0.7 0h1.3m0.7 0h1.3m-0.3 0h1.3m-0.3 0h1.3m0.7 0h1.3m-0.3 0h1.3m-0.3 0h1.3m-0.3 0h1.3m0.7 0h1.3m0.7 0h1.3m-0.3 0h1.3m2.7 0h1.3m0.7 0h1.3m1.7 0h1.3m-0.3 0h1.3m-0.3 0h1.3m-0.3 0h1.3m3.7 0h1.3m0.7 0h1.3m-0.3 0h1.3m2.7 0h1.3m-41.3 1h1.3m3.7 0h1.3m-0.3 0h1.3m0.7 0h1.3m-0.3 0h1.3m2.7 0h1.3m1.7 0h1.3m-0.3 0h1.3m0.7 0h1.3m-0.3 0h1.3m2.7 0h1.3m0.7 0h1.3m-0.3 0h1.3m0.7 0h1.3m4.7 0h1.3m7.7 0h1.3m-48.3 1h1.3m4.7 0h1.3m-0.3 0h1.3m1.7 0h1.3m1.7 0h1.3m-0.3 0h1.3m-0.3 0h1.3m-0.3 0h1.3m0.7 0h1.3m-0.3 0h1.3m-0.3 0h1.3m-0.3 0h1.3m0.7 0h1.3m-0.3 0h1.3m1.7 0h1.3m-0.3 0h1.3m-0.3 0h1.3m0.7 0h1.3m4.7 0h1.3m-0.3 0h1.3m-0.3 0h1.3m-35.3 1h1.3m1.7 0h1.3m-0.3 0h1.3m0.7 0h1.3m0.7 0h1.3m-0.3 0h1.3m0.7 0h1.3m2.7 0h1.3m1.7 0h1.3m1.7 0h1.3m0.7 0h1.3m3.7 0h1.3m-0.3 0h1.3m1.7 0h1.3m-0.3 0h1.3m-0.3 0h1.3m4.7 0h1.3m0.7 0h1.3m-44.3 1h1.3m-0.3 0h1.3m-0.3 0h1.3m0.7 0h1.3m-0.3 0h1.3m1.7 0h1.3m1.7 0h1.3m-0.3 0h1.3m0.7 0h1.3m-0.3 0h1.3m0.7 0h1.3m0.7 0h1.3m3.7 0h1.3m1.7 0h1.3m-0.3 0h1.3m0.7 0h1.3m-0.3 0h1.3m-0.3 0h1.3m-0.3 0h1.3m-36.3 1h1.3m1.7 0h1.3m-0.3 0h1.3m-0.3 0h1.3m3.7 0h1.3m0.7 0h1.3m-0.3 0h1.3m2.7 0h1.3m-0.3 0h1.3m0.7 0h1.3m4.7 0h1.3m-0.3 0h1.3m-0.3 0h1.3m1.7 0h1.3m-0.3 0h1.3m0.7 0h1.3m0.7 0h1.3m-0.3 0h1.3m0.7 0h1.3m-0.3 0h1.3m0.7 0h1.3m-36.3 1h1.3m-0.3 0h1.3m1.7 0h1.3m-0.3 0h1.3m0.7 0h1.3m-0.3 0h1.3m-0.3 0h1.3m-0.3 0h1.3m-0.3 0h1.3m0.7 0h1.3m-0.3 0h1.3m-0.3 0h1.3m-0.3 0h1.3m-0.3 0h1.3m-0.3 0h1.3m0.7 0h1.3m-0.3 0h1.3m-0.3 0h1.3m-0.3 0h1.3m0.7 0h1.3m0.7 0h1.3m1.7 0h1.3m1.7 0h1.3m-44.3 1h1.3m6.7 0h1.3m5.7 0h1.3m-0.3 0h1.3m-0.3 0h1.3m-0.3 0h1.3m1.7 0h1.3m-0.3 0h1.3m2.7 0h1.3m-0.3 0h1.3m-0.3 0h1.3m1.7 0h1.3m-0.3 0h1.3m0.7 0h1.3m0.7 0h1.3m-0.3 0h1.3m0.7 0h1.3m0.7 0h1.3m3.7 0h1.3m-44.3 1h1.3m1.7 0h1.3m0.7 0h1.3m4.7 0h1.3m-0.3 0h1.3m-0.3 0h1.3m-0.3 0h1.3m0.7 0h1.3m-0.3 0h1.3m-0.3 0h1.3m-0.3 0h1.3m-0.3 0h1.3m-0.3 0h1.3m-0.3 0h1.3m0.7 0h1.3m3.7 0h1.3m-0.3 0h1.3m0.7 0h1.3m-0.3 0h1.3m-0.3 0h1.3m1.7 0h1.3m3.7 0h1.3m-35.3 1h1.3m-0.3 0h1.3m-0.3 0h1.3m-0.3 0h1.3m-0.3 0h1.3m-0.3 0h1.3m0.7 0h1.3m-0.3 0h1.3m-0.3 0h1.3m1.7 0h1.3m0.7 0h1.3m-0.3 0h1.3m-0.3 0h1.3m0.7 0h1.3m1.7 0h1.3m-0.3 0h1.3m0.7 0h1.3m-0.3 0h1.3m3.7 0h1.3m-32.3 1h1.3m0.7 0h1.3m0.7 0h1.3m0.7 0h1.3m-0.3 0h1.3m0.7 0h1.3m0.7 0h1.3m0.7 0h1.3m-0.3 0h1.3m-0.3 0h1.3m-0.3 0h1.3m1.7 0h1.3m0.7 0h1.3m-0.3 0h1.3m-0.3 0h1.3m0.7 0h1.3m0.7 0h1.3m3.7 0h1.3m-36.3 1h1.3m3.7 0h1.3m-0.3 0h1.3m-0.3 0h1.3m-0.3 0h1.3m-0.3 0h1.3m-0.3 0h1.3m0.7 0h1.3m2.7 0h1.3m1.7 0h1.3m1.7 0h1.3m-0.3 0h1.3m-0.3 0h1.3m1.7 0h1.3m2.7 0h1.3m-0.3 0h1.3m-30.3 1h1.3m0.7 0h1.3m6.7 0h1.3m1.7 0h1.3m-0.3 0h1.3m2.7 0h1.3m-0.3 0h1.3m-0.3 0h1.3m-0.3 0h1.3m-0.3 0h1.3m-0.3 0h1.3m-21.3 1h1.3m-0.3 0h1.3m0.7 0h1.3m-0.3 0h1.3m4.7 0h1.3m4.7 0h1.3m-22.3 1h1.3m3.7 0h1.3m1.7 0h1.3m-0.3 0h1.3m1.7 0h1.3m2.7 0h1.3m-0.3 0h1.3m0.7 0h1.3m1.7 0h1.3m-18.3 1h1.3m5.7 0h1.3m-0.3 0h1.3m-0.3 0h1.3m0.7 0h1.3m-0.3 0h1.3m-0.3 0h1.3m-0.3 0h1.3m-0.3 0h1.3m0.7 0h1.3m-0.3 0h1.3m2.7 0h1.3m-21.3 1h1.3m4.7 0h1.3m-16.3 1h1.3m3.7 0h1.3m-0.3 0h1.3m4.7 0h1.3m1.7 0h1.3m6.7 0h1.3m-20.3 1h1.3m10.7 0h1.3m6.7 0h1.3" stroke="#00ff00" stroke-width="1.3" fill="none"/>
<path d="M454 1741h1.3m5.7 1h1.3m5.7 1h1.3m-14.3 1h1.3m4.7 0h1.3m-13.3 1h1.3m5.7 0h1.3m2.7 0h1.3m0.7 1h1.3m0.7 0h1.3m-5.3 1h1.3m-0.3 0h1.3m-0.3 0h1.3m6.7 0h1.3m-19.3 1h1.3m2.7 0h1.3m-5.3 1h1.3m0.7 0h1.3m-0.3 0h1.3m1.7 0h1.3m0.7 0h1.3m-0.3 0h1.3m-0.3 0h1.3m0.7 0h1.3m0.7 0h1.3m-0.3 0h1.3m-0.3 0h1.3m-17.3 1h1.3m-0.3 0h1.3m1.7 0h1.3m0.7 0h1.3m-0.3 0h1.3m-0.3 0h1.3m0.7 0h1.3m-0.3 0h1.3m1.7 0h1.3m0.7 0h1.3m-22.3 1h1.3m1.7 0h1.3m0.7 0h1.3m-0.3 0h1.3m-0.3 0h1.3m-0.3 0h1.3m-0.3 0h1.3m-0.3 0h1.3m1.7 0h1.3m3.7 0h1.3m0.7 0h1.3m-21.3 1h1.3m2.7 0h1.3m3.7 0h1.3m-0.3 0h1.3m2.7 0h1.3m0.7 0h1.3m0.7 0h1.3m-12.3 1h1.3m0.7 0h1.3m-0.3 0h1.3m1.7 0h1.3m2.7 0h1.3m-0.3 0h1.3m-0.3 0h1.3m-19.3 1h1.3m1.7 0h1.3m6.7 0h1.3m0.7 0h1.3m1.7 0h1.3m0.7 0h1.3m-0.3 0h1.3m-9.3 1h1.3m4.7 0h1.3m2.7 0h1.3m3.7 0h1.3m-30.3 1h1.3m12.7 0h1.3m-20.3 1h1.3m6.7 0h1.3m6.7 0h1.3m9.7 0h1.3m-19.3 1h1.3m0.7 0h1.3m0.7 0h1.3m0.7 0h1.3m2.7 0h1.3m4.7 0h1.3m1.7 0h1.3m-0.3 0h1.3m-25.3 1h1.3m18.7 0h1.3m0.7 0h1.3m1.7 0h1.3m1.7 0h1.3m-12.3 1h1.3m1.7 0h1.3m3.7 1h1.3m-0.3 0h1.3m-33.3 1h1.3m1.7 0h1.3m-0.3 0h1.3m2.7 0h1.3m9.7 0h1.3m2.7 0h1.3m8.7 0h1.3m-0.3 0h1.3m-31.3 1h1.3m1.7 0h1.3m17.7 0h1.3m-0.3 0h1.3m1.7 0h1.3m-31.3 1h1.3m1.7 0h1.3m-0.3 0h1.3m-0.3 0h1.3m-0.3 0h1.3m8.7 0h1.3m11.7 0h1.3m6.7 0h1.3m-34.3 1h1.3m3.7 0h1.3m19.7 0h1.3m-0.3 0h1.3m-26.3 1h1.3m25.7 0h1.3m-0.3 0h1.3m-34.3 1h1.3m1.7 0h1.3m5.7 0h1.3m12.7 0h1.3m3.7 0h1.3m0.7 0h1.3m-29.3 1h1.3m-0.3 0h1.3m0.7 0h1.3m0.7 0h1.3m-0.3 0h1.3m18.7 0h1.3m1.7 0h1.3m0.7 0h1.3m-0.3 0h1.3m-32.3 1h1.3m21.7 0h1.3m-4.3 1h1.3m5.7 0h1.3m-0.3 0h1.3m-31.3 1h1.3m0.7 0h1.3m23.7 0h1.3m-25.3 1h1.3m2.7 0h1.3m1.7 0h1.3m12.7 0h1.3m3.7 0h1.3m0.7 0h1.3m0.7 0h1.3m-32.3 1h1.3m5.7 0h1.3m0.7 0h1.3m9.7 0h1.3m3.7 0h1.3m-23.3 1h1.3m0.7 0h1.3m-0.3 0h1.3m16.7 0h1.3m-0.3 0h1.3m0.7 0h1.3m-25.3 1h1.3m0.7 0h1.3m12.7 0h1.3m5.7 0h1.3m2.7 0h1.3m-31.3 1h1.3m0.7 0h1.3m19.7 0h1.3m-0.3 0h1.3m-0.3 0h1.3m-25.3 1h1.3m1.7 0h1.3m-0.3 0h1.3m-0.3 0h1.3m2.7 0h1.3m0.7 0h1.3m3.7 0h1.3m0.7 0h1.3m-0.3 0h1.3m-0.3 0h1.3m-15.3 1h1.3m2.7 0h1.3m5.7 0h1.3m4.7 0h1.3m-25.3 1h1.3m3.7 0h1.3m-0.3 0h1.3m-0.3 0h1.3m5.7 0h1.3m-0.3 0h1.3m0.7 0h1.3m-18.3 1h1.3m2.7 0h1.3m0.7 0h1.3m0.7 0h1.3m0.7 0h1.3m-0.3 0h1.3m1.7 0h1.3m-0.3 0h1.3m0.7 0h1.3m1.7 0h1.3m-0.3 0h1.3m0.7 0h1.3m-15.3 1h1.3m-0.3 0h1.3m3.7 0h1.3m-0.3 0h1.3m1.7 0h1.3m-15.3 1h1.3m-0.3 0h1.3m-0.3 0h1.3m-0.3 0h1.3m-0.3 0h1.3m0.7 0h1.3m1.7 0h1.3m-0.3 0h1.3m2.7 0h1.3m-14.3 1h1.3m3.7 0h1.3m1.7 0h1.3m-0.3 0h1.3m-0.3 0h1.3m-7.3 1h1.3m4.7 0h1.3m1.7 0h1.3m-7.3 1h1.3m4.7 0h1.3m-9.3 1h1.3m2.7 0h1.3m-12.3 1h1.3m-0.3 0h1.3m-0.3 0h1.3m4.7 0h1.3m-4.3 1h1.3m0.7 0h1.3" stroke="#b4ff00" stroke-width="1.3" fill="none"/>
<path d="M462 1748h1.3m-2.3 1h1.3m2.7 0h1.3m-9.3 1h1.3m-0.3 0h1.3m2.7 0h1.3m0.7 0h1.3m-0.3 0h1.3m-10.3 1h1.3m0.7 0h1.3m-0.3 0h1.3m-0.3 0h1.3m0.7 0h1.3m-4.3 1h1.3m-0.3 0h1.3m2.7 0h1.3m-0.3 0h1.3m-19.3 1h1.3m4.7 0h1.3m2.7 0h1.3m6.7 0h1.3m-9.3 1h1.3m-0.3 0h1.3m0.7 0h1.3m0.7 0h1.3m1.7 0h1.3m0.7 0h1.3m-22.3 1h1.3m4.7 0h1.3m1.7 0h1.3m2.7 0h1.3m0.7 0h1.3m1.7 0h1.3m-0.3 0h1.3m-0.3 0h1.3m-20.3 1h1.3m3.7 0h1.3m-0.3 0h1.3m2.7 0h1.3m1.7 0h1.3m0.7 0h1.3m-14.3 1h1.3m0.7 0h1.3m1.7 0h1.3m1.7 0h1.3m4.7 0h1.3m-0.3 0h1.3m-0.3 0h1.3m-19.3 1h1.3m3.7 0h1.3m-0.3 0h1.3m5.7 0h1.3m-0.3 0h1.3m1.7 0h1.3m-0.3 0h1.3m3.7 0h1.3m-24.3 1h1.3m0.7 0h1.3m-0.3 0h1.3m-0.3 0h1.3m-0.3 0h1.3m-0.3 0h1.3m-0.3 0h1.3m3.7 0h1.3m-0.3 0h1.3m8.7 0h1.3m-0.3 0h1.3m-24.3 1h1.3m-0.3 0h1.3m3.7 0h1.3m-0.3 0h1.3m0.7 0h1.3m-0.3 0h1.3m2.7 0h1.3m0.7 0h1.3m1.7 0h1.3m2.7 0h1.3m-22.3 1h1.3m-0.3 0h1.3m1.7 0h1.3m0.7 0h1.3m9.7 0h1.3m-17.3 1h1.3m2.7 0h1.3m0.7 0h1.3m0.7 0h1.3m1.7 0h1.3m0.7 0h1.3m-0.3 0h1.3m1.7 0h1.3m0.7 0h1.3m-23.3 1h1.3m-0.3 0h1.3m-0.3 0h1.3m1.7 0h1.3m5.7 0h1.3m0.7 0h1.3m0.7 0h1.3m1.7 0h1.3m2.7 0h1.3m-0.3 0h1.3m-24.3 1h1.3m5.7 0h1.3m2.7 0h1.3m-0.3 0h1.3m-0.3 0h1.3m1.7 0h1.3m-0.3 0h1.3m5.7 0h1.3m-29.3 1h1.3m0.7 0h1.3m8.7 0h1.3m-0.3 0h1.3m-0.3 0h1.3m2.7 0h1.3m3.7 0h1.3m0.7 0h1.3m-25.3 1h1.3m-0.3 0h1.3m-0.3 0h1.3m0.7 0h1.3m0.7 0h1.3m3.7 0h1.3m1.7 0h1.3m-0.3 0h1.3m-0.3 0h1.3m-0.3 0h1.3m0.7 0h1.3m2.7 0h1.3m1.7 0h1.3m-27.3 1h1.3m3.7 0h1.3m-0.3 0h1.3m0.7 0h1.3m-0.3 0h1.3m6.7 0h1.3m-0.3 0h1.3m0.7 0h1.3m1.7 0h1.3m-19.3 1h1.3m0.7 0h1.3m-0.3 0h1.3m-0.3 0h1.3m1.7 0h1.3m-0.3 0h1.3m0.7 0h1.3m-0.3 0h1.3m-0.3 0h1.3m0.7 0h1.3m-0.3 0h1.3m1.7 0h1.3m0.7 0h1.3m-28.3 1h1.3m1.7 0h1.3m1.7 0h1.3m4.7 0h1.3m2.7 0h1.3m0.7 0h1.3m3.7 0h1.3m-0.3 0h1.3m-21.3 1h1.3m1.7 0h1.3m-0.3 0h1.3m1.7 0h1.3m0.7 0h1.3m6.7 0h1.3m0.7 0h1.3m0.7 0h1.3m-23.3 1h1.3m1.7 0h1.3m0.7 0h1.3m0.7 0h1.3m1.7 0h1.3m4.7 0h1.3m2.7 0h1.3m2.7 0h1.3m-21.3 1h1.3m6.7 0h1.3m-0.3 0h1.3m0.7 0h1.3m1.7 0h1.3m-21.3 1h1.3m2.7 0h1.3m-0.3 0h1.3m-0.3 0h1.3m2.7 0h1.3m-0.3 0h1.3m0.7 0h1.3m-0.3 0h1.3m-0.3 0h1.3m3.7 0h1.3m2.7 0h1.3m-24.3 1h1.3m-0.3 0h1.3m0.7 0h1.3m-0.3 0h1.3m1.7 0h1.3m0.7 0h1.3m1.7 0h1.3m1.7 0h1.3m4.7 0h1.3m-22.3 1h1.3m0.7 0h1.3m-0.3 0h1.3m1.7 0h1.3m0.7 0h1.3m1.7 0h1.3m4.7 0h1.3m0.7 0h1.3m-0.3 0h1.3m-18.3 1h1.3m5.7 0h1.3m2.7 0h1.3m4.7 0h1.3m-0.3 0h1.3m-19.3 1h1.3m0.7 0h1.3m3.7 0h1.3m4.7 0h1.3m0.7 0h1.3m0.7 0h1.3m2.7 0h1.3m-15.3 1h1.3m1.7 0h1.3m0.7 0h1.3m-0.3 0h1.3m-8.3 1h1.3m0.7 0h1.3m2.7 0h1.3m-4.3 2h1.3m-0.3 0h1.3m-10.3 1h1.3m-0.3 1h1.3m7.7 0h1.3m-2.3 2h1.3" stroke="#ffff00" stroke-width="1.3" fill="none"/>
<path d="M463 1749h1.3m-5.3 1h1.3m0.7 0h1.3m-1.3 1h1.3m1.7 1h1.3m-10.3 1h1.3m1.7 0h1.3m4.7 0h1.3m-10.3 1h1.3m-0.3 0h1.3m0.7 0h1.3m0.7 0h1.3m2.7 0h1.3m-12.3 1h1.3m1.7 0h1.3m4.7 0h1.3m-9.3 1h1.3m0.7 0h1.3m1.7 0h1.3m-0.3 0h1.3m2.7 0h1.3m0.7 0h1.3m-13.3 1h1.3m-2.3 1h1.3m-0.3 0h1.3m3.7 0h1.3m2.7 0h1.3m1.7 0h1.3m1.7 0h1.3m-19.3 1h1.3m14.7 0h1.3m0.7 0h1.3m-15.3 1h1.3m-0.3 0h1.3m3.7 0h1.3m1.7 0h1.3m0.7 0h1.3m-15.3 1h1.3m1.7 0h1.3m4.7 0h1.3m-10.3 1h1.3m5.7 0h1.3m4.7 0h1.3m-0.3 0h1.3m-0.3 0h1.3m-0.3 0h1.3m-11.3 1h1.3m0.7 0h1.3m-0.3 0h1.3m-0.3 0h1.3m-13.3 1h1.3m3.7 0h1.3m0.7 0h1.3m2.7 0h1.3m3.7 0h1.3m-17.3 1h1.3m1.7 0h1.3m0.7 0h1.3m4.7 0h1.3m-15.3 1h1.3m3.7 0h1.3m0.7 0h1.3m1.7 0h1.3m1.7 0h1.3m1.7 0h1.3m1.7 0h1.3m0.7 0h1.3m-0.3 0h1.3m-0.3 0h1.3m-19.3 1h1.3m-0.3 0h1.3m0.7 0h1.3m2.7 0h1.3m0.7 0h1.3m1.7 0h1.3m3.7 0h1.3m-25.3 1h1.3m2.7 0h1.3m0.7 0h1.3m-0.3 0h1.3m-0.3 0h1.3m0.7 0h1.3m0.7 0h1.3m8.7 0h1.3m-21.3 1h1.3m-0.3 0h1.3m0.7 0h1.3m1.7 0h1.3m0.7 0h1.3m1.7 0h1.3m6.7 0h1.3m1.7 0h1.3m-0.3 0h1.3m-19.3 1h1.3m-0.3 0h1.3m-0.3 0h1.3m1.7 0h1.3m1.7 0h1.3m-0.3 0h1.3m0.7 0h1.3m-11.3 1h1.3m6.7 0h1.3m3.7 0h1.3m-18.3 1h1.3m6.7 0h1.3m3.7 0h1.3m0.7 0h1.3m-15.3 1h1.3m1.7 0h1.3m8.7 0h1.3m-17.3 1h1.3m8.7 0h1.3m1.7 0h1.3m-15.3 1h1.3m8.7 0h1.3m0.7 0h1.3m-11.3 1h1.3m0.7 0h1.3m0.7 0h1.3m2.7 0h1.3m-0.3 0h1.3m-9.3 1h1.3m4.7 0h1.3m-0.3 0h1.3m7.7 0h1.3m-6.3 1h1.3m0.7 0h1.3m1.7 0h1.3m-18.3 1h1.3m2.7 1h1.3m-0.3 1h1.3" stroke="#ff9900" stroke-width="1.3" fill="none"/>
<path d="M462 1748h1.3m-9.3 4h1.3m-2.3 2h1.3m9.7 1h1.3m-6.3 1h1.3m0.7 0h1.3m-2.3 1h1.3m-7.3 1h1.3m1.7 0h1.3m3.7 1h1.3m-0.3 0h1.3m-0.3 0h1.3m-0.3 0h1.3m-4.3 1h1.3m0.7 0h1.3m-2.3 1h1.3m-6.3 1h1.3m-0.3 0h1.3m2.7 0h1.3m0.7 0h1.3m1.7 0h1.3m-0.3 0h1.3m-20.3 1h1.3m1.7 1h1.3m1.7 0h1.3m-0.3 0h1.3m3.7 0h1.3m-8.3 1h1.3m2.7 0h1.3m3.7 0h1.3m-9.3 1h1.3m2.7 0h1.3m0.7 0h1.3m2.7 0h1.3m-11.3 1h1.3m1.7 0h1.3m-0.3 0h1.3m2.7 0h1.3m0.7 0h1.3m-10.3 1h1.3m-0.3 0h1.3m-5.3 1h1.3m-0.3 0h1.3m1.7 0h1.3m1.7 0h1.3m1.7 0h1.3m-5.3 1h1.3m-0.3 0h1.3m0.7 0h1.3m0.7 0h1.3m-13.3 1h1.3m1.7 0h1.3m4.7 0h1.3m-8.3 1h1.3m6.7 0h1.3m2.7 0h1.3m-11.3 1h1.3m1.7 0h1.3m-14.3 1h1.3m1.7 0h1.3m0.7 0h1.3m6.7 0h1.3m-8.3 2h1.3m7.7 0h1.3m-9.3 1h1.3m-8.3 1h1.3" stroke="#ff0000" stroke-width="1.3" fill="none"/>
<path d="M405 1818h1.3m0.7 0h1.3m0.7 0h1.3m0.7 0h1.3m0.7 0h1.3m0.7 0h1.3m0.7 0h1.3m0.7 0h1.3m0.7 0h1.3m0.7 0h1.3m0.7 0h1.3m0.7 0h1.3m0.7 0h1.3m56.7 0h1.3m0.7 0h1.3m0.7 0h1.3m0.7 0h1.3m0.7 0h1.3m0.7 0h1.3" stroke="#0000ff" stroke-width="1.0" fill="none"/>
<path d="M431 1818h1.3m0.7 0h1.3m0.7 0h1.3m44.7 0h1.3m0.7 0h1.3m0.7 0h1.3" stroke="#00ff00" stroke-width="1.0" fill="none"/>
<path d="M437 1818h1.3m0.7 0h1.3m0.7 0h1.3m0.7 0h1.3m28.7 0h1.3m0.7 0h1.3m0.7 0h1.3m0.7 0h1.3" stroke="#ffff00" stroke-width="1.0" fill="none"/>
<path d="M445 1818h1.3m0.7 0h1.3m0.7 0h1.3m0.7 0h1.3m0.7 0h1.3m0.7 0h1.3m0.7 0h1.3m0.7 0h1.3m0.7 0h1.3m0.7 0h1.3m0.7 0h1.3m0.7 0h1.3m0.7 0h1.3m0.7 0h1.3" stroke="#ff0000" stroke-width="1.0" fill="none"/>
<rect x="283.7" y="1538.8" width="281" height="281" fill="none" stroke="#000" stroke-width="2"/>
<rect x="392.3" y="1562.4" width="136" height="173.1" fill="none" stroke="#000" stroke-width="2"/>
<path d="M724 1596h1.3m11.7 0h1.3m15.7 0h1.3m-32.3 1h1.3m13.7 1h1.3m7.7 0h1.3m2.7 0h1.3m3.7 0h1.3m-20.3 1h1.3m2.7 0h1.3m1.7 0h1.3m4.7 0h1.3m-21.3 1h1.3m-0.3 0h1.3m8.7 0h1.3m2.7 0h1.3m32.7 0h1.3m-53.3 1h1.3m4.7 0h1.3m4.7 0h1.3m-27.3 1h1.3m13.7 0h1.3m16.7 0h1.3m-17.3 1h1.3m20.7 0h1.3m1.7 0h1.3m5.7 0h1.3m-29.3 1h1.3m0.7 0h1.3m-3.3 1h1.3m11.7 0h1.3m1.7 0h1.3m12.7 0h1.3m-37.3 1h1.3m16.7 0h1.3m6.7 0h1.3m10.7 0h1.3m-22.3 1h1.3m6.7 1h1.3m-18.3 1h1.3m0.7 0h1.3m-0.3 0h1.3m15.7 0h1.3m8.7 0h1.3m-38.3 1h1.3m13.7 0h1.3m-8.3 1h1.3m10.7 0h1.3m2.7 0h1.3m-33.3 1h1.3m16.7 0h1.3m-0.3 0h1.3m3.7 1h1.3m-18.3 1h1.3m2.7 0h1.3m12.7 0h1.3m-0.3 0h1.3m5.7 0h1.3m0.7 0h1.3m-22.3 1h1.3m1.7 0h1.3m-22.3 1h1.3m17.7 0h1.3m1.7 0h1.3m7.7 0h1.3m-31.3 1h1.3m26.7 0h1.3m0.7 0h1.3m3.7 0h1.3m-33.3 1h1.3m12.7 1h1.3m4.7 0h1.3m6.7 0h1.3m-0.3 0h1.3m3.7 0h1.3m-44.3 1h1.3m19.7 0h1.3m5.7 1h1.3m0.7 0h1.3m5.7 0h1.3m7.7 0h1.3m4.7 0h1.3m-55.3 1h1.3m4.7 0h1.3m15.7 0h1.3m13.7 0h1.3m9.7 0h1.3m-32.3 1h1.3m-0.3 0h1.3m22.7 0h1.3m1.7 0h1.3m-32.3 1h1.3m16.7 0h1.3m6.7 0h1.3m-20.3 1h1.3m2.7 0h1.3m1.7 0h1.3m11.7 0h1.3m0.7 0h1.3m-43.3 1h1.3m17.7 0h1.3m6.7 0h1.3m24.7 0h1.3m-30.3 1h1.3m-20.3 1h1.3m16.7 0h1.3m4.7 0h1.3m8.7 0h1.3m0.7 0h1.3m-20.3 1h1.3m1.7 1h1.3m0.7 0h1.3m5.7 0h1.3m5.7 0h1.3m2.7 0h1.3m-47.3 1h1.3m22.7 0h1.3m17.7 0h1.3m-21.3 1h1.3m2.7 0h1.3m12.7 0h1.3m-30.3 2h1.3m7.7 0h1.3m0.7 0h1.3m4.7 0h1.3m14.7 0h1.3m2.7 0h1.3m-35.3 1h1.3m2.7 0h1.3m18.7 0h1.3m0.7 0h1.3m12.7 1h1.3m-27.3 1h1.3m19.7 0h1.3m-26.3 1h1.3m0.7 0h1.3m12.7 0h1.3m-17.3 1h1.3m18.7 0h1.3m-0.3 0h1.3m6.7 0h1.3m-27.3 1h1.3m-0.3 0h1.3m7.7 0h1.3m-18.3 1h1.3m13.7 0h1.3m-24.3 1h1.3m16.7 0h1.3m-12.3 1h1.3m5.7 0h1.3m-6.3 1h1.3m2.7 0h1.3m-0.3 0h1.3m16.7 0h1.3m2.7 0h1.3m-44.3 1h1.3m13.7 0h1.3m14.7 0h1.3m19.7 0h1.3m16.7 0h1.3m-64.3 1h1.3m1.7 0h1.3m-0.3 0h1.3m2.7 0h1.3m-0.3 0h1.3m3.7 0h1.3m0.7 0h1.3m-0.3 0h1.3m-0.3 0h1.3m2.7 0h1.3m1.7 0h1.3m0.7 0h1.3m-12.3 1h1.3m5.7 0h1.3m-39.3 1h1.3m5.7 0h1.3m22.7 0h1.3m1.7 0h1.3m-2.3 1h1.3m2.7 0h1.3m2.7 0h1.3m-0.3 0h1.3m1.7 0h1.3m0.7 0h1.3m11.7 0h1.3m-51.3 1h1.3m15.7 0h1.3m5.7 0h1.3m3.7 0h1.3m-0.3 0h1.3m4.7 0h1.3m-18.3 1h1.3m15.7 0h1.3m3.7 0h1.3m11.7 0h1.3m-49.3 1h1.3m13.7 0h1.3m18.7 0h1.3m-38.3 1h1.3m2.7 0h1.3m4.7 0h1.3m2.7 0h1.3m10.7 0h1.3m3.7 0h1.3m0.7 0h1.3m-40.3 1h1.3m17.7 0h1.3m0.7 0h1.3m1.7 0h1.3m-0.3 0h1.3m2.7 0h1.3m4.7 0h1.3m-12.3 1h1.3m-0.3 0h1.3m2.7 0h1.3m-37.3 1h1.3m2.7 0h1.3m4.7 0h1.3m-0.3 0h1.3m2.7 0h1.3m1.7 0h1.3m6.7 0h1.3m7.7 0h1.3m14.7 0h1.3m4.7 0h1.3m-36.3 1h1.3m18.7 0h1.3m1.7 0h1.3m20.7 0h1.3m-26.3 1h1.3m-23.3 1h1.3m4.7 0h1.3m1.7 0h1.3m7.7 0h1.3m2.7 0h1.3m2.7 0h1.3m1.7 0h1.3m-34.3 1h1.3m7.7 0h1.3m-0.3 0h1.3m-0.3 0h1.3m3.7 0h1.3m0.7 0h1.3m1.7 0h1.3m1.7 0h1.3m-37.3 1h1.3m24.7 0h1.3m7.7 0h1.3m1.7 0h1.3m3.7 0h1.3m2.7 0h1.3m-19.3 1h1.3m0.7 0h1.3m4.7 0h1.3m3.7 0h1.3m14.7 0h1.3m-34.3 1h1.3m15.7 0h1.3m-0.3 0h1.3m9.7 0h1.3m25.7 0h1.3m-103.3 1h1.3m23.7 0h1.3m7.7 0h1.3m3.7 0h1.3m1.7 0h1.3m-0.3 0h1.3m0.7 0h1.3m1.7 0h1.3m0.7 0h1.3m12.7 0h1.3m5.7 0h1.3m-45.3 1h1.3m4.7 0h1.3m6.7 0h1.3m-0.3 0h1.3m6.7 0h1.3m1.7 0h1.3m-0.3 0h1.3m-38.3 1h1.3m14.7 0h1.3m6.7 0h1.3m6.7 0h1.3m-18.3 1h1.3m10.7 0h1.3m10.7 0h1.3m0.7 0h1.3m-0.3 0h1.3m-30.3 1h1.3m13.7 0h1.3m-0.3 0h1.3m-0.3 0h1.3m9.7 0h1.3m2.7 0h1.3m-0.3 0h1.3m0.7 0h1.3m-39.3 1h1.3m6.7 0h1.3m0.7 0h1.3m11.7 0h1.3m18.7 0h1.3m-27.3 1h1.3m8.7 0h1.3m2.7 0h1.3m2.7 0h1.3m-30.3 1h1.3m0.7 0h1.3m13.7 0h1.3m-0.3 0h1.3m5.7 0h1.3m0.7 0h1.3m7.7 0h1.3m16.7 0h1.3m-58.3 1h1.3m4.7 0h1.3m6.7 0h1.3m10.7 0h1.3m2.7 0h1.3m-18.3 1h1.3m4.7 0h1.3m2.7 0h1.3m1.7 0h1.3m12.7 0h1.3m3.7 0h1.3m-0.3 0h1.3m-52.3 1h1.3m6.7 0h1.3m7.7 0h1.3m7.7 0h1.3m3.7 0h1.3m0.7 0h1.3m1.7 0h1.3m-42.3 1h1.3m18.7 0h1.3m-0.3 0h1.3m8.7 0h1.3m7.7 0h1.3m17.7 0h1.3m-0.3 0h1.3m-64.3 1h1.3m7.7 0h1.3m5.7 0h1.3m0.7 0h1.3m4.7 0h1.3m0.7 0h1.3m5.7 0h1.3m19.7 0h1.3m0.7 0h1.3m-43.3 1h1.3m2.7 0h1.3m0.7 0h1.3m5.7 0h1.3m1.7 0h1.3m3.7 0h1.3m-0.3 0h1.3m1.7 0h1.3m8.7 0h1.3m-50.3 1h1.3m15.7 0h1.3m-0.3 0h1.3m8.7 0h1.3m2.7 0h1.3m5.7 0h1.3m-51.3 1h1.3m24.7 0h1.3m5.7 0h1.3m4.7 0h1.3m1.7 0h1.3m3.7 0h1.3m-0.3 0h1.3m8.7 0h1.3m-29.3 1h1.3m8.7 0h1.3m-0.3 0h1.3m17.7 0h1.3m-31.3 1h1.3m3.7 0h1.3m1.7 0h1.3m0.7 0h1.3m-0.3 0h1.3m-0.3 0h1.3m4.7 0h1.3m13.7 0h1.3m20.7 0h1.3m-75.3 1h1.3m5.7 0h1.3m1.7 0h1.3m8.7 0h1.3m2.7 0h1.3m0.7 0h1.3m6.7 0h1.3m1.7 0h1.3m23.7 0h1.3m8.7 0h1.3m-82.3 1h1.3m17.7 0h1.3m0.7 0h1.3m4.7 0h1.3m3.7 0h1.3m0.7 0h1.3m0.7 0h1.3m2.7 0h1.3m5.7 0h1.3m0.7 0h1.3m5.7 0h1.3m16.7 0h1.3m4.7 0h1.3m-61.3 1h1.3m5.7 0h1.3m18.7 0h1.3m-0.3 0h1.3m1.7 0h1.3m7.7 0h1.3m19.7 0h1.3m-57.3 1h1.3m8.7 0h1.3m1.7 0h1.3m13.7 0h1.3m20.7 0h1.3m-61.3 1h1.3m0.7 0h1.3m8.7 0h1.3m3.7 0h1.3m-0.3 0h1.3m0.7 0h1.3m20.7 0h1.3m-0.3 0h1.3m-42.3 1h1.3m3.7 0h1.3m6.7 0h1.3m2.7 0h1.3m-0.3 0h1.3m0.7 0h1.3m2.7 0h1.3m4.7 0h1.3m-49.3 1h1.3m3.7 0h1.3m9.7 0h1.3m1.7 0h1.3m17.7 0h1.3m3.7 0h1.3m3.7 0h1.3m-0.3 0h1.3m-0.3 0h1.3m16.7 0h1.3m-60.3 1h1.3m11.7 0h1.3m5.7 0h1.3m2.7 0h1.3m3.7 0h1.3m4.7 0h1.3m0.7 0h1.3m7.7 0h1.3m0.7 0h1.3m2.7 0h1.3m0.7 0h1.3m-59.3 1h1.3m0.7 0h1.3m15.7 0h1.3m5.7 0h1.3m1.7 0h1.3m-0.3 0h1.3m-0.3 0h1.3m4.7 0h1.3m-0.3 0h1.3m-0.3 0h1.3m6.7 0h1.3m-0.3 0h1.3m4.7 0h1.3m6.7 0h1.3m1.7 0h1.3m7.7 0h1.3m-82.3 1h1.3m3.7 0h1.3m21.7 0h1.3m4.7 0h1.3m1.7 0h1.3m3.7 0h1.3m-0.3 0h1.3m0.7 0h1.3m-0.3 0h1.3m3.7 0h1.3m4.7 0h1.3m3.7 0h1.3m16.7 0h1.3m-72.3 1h1.3m19.7 0h1.3m1.7 0h1.3m0.7 0h1.3m2.7 0h1.3m3.7 0h1.3m1.7 0h1.3m0.7 0h1.3m2.7 0h1.3m-0.3 0h1.3m0.7 0h1.3m-0.3 0h1.3m8.7 0h1.3m1.7 0h1.3m0.7 0h1.3m0.7 0h1.3m-53.3 1h1.3m0.7 0h1.3m1.7 0h1.3m8.7 0h1.3m4.7 0h1.3m0.7 0h1.3m-0.3 0h1.3m2.7 0h1.3m2.7 0h1.3m1.7 0h1.3m-0.3 0h1.3m0.7 0h1.3m-0.3 0h1.3m1.7 0h1.3m-0.3 0h1.3m19.7 0h1.3m1.7 0h1.3m-92.3 1h1.3m21.7 0h1.3m1.7 0h1.3m14.7 0h1.3m16.7 0h1.3m0.7 0h1.3m-48.3 1h1.3m9.7 0h1.3m1.7 0h1.3m3.7 0h1.3m0.7 0h1.3m-0.3 0h1.3m2.7 0h1.3m1.7 0h1.3m4.7 0h1.3m0.7 0h1.3m4.7 0h1.3m3.7 0h1.3m-0.3 0h1.3m5.7 0h1.3m-42.3 1h1.3m3.7 0h1.3m10.7 0h1.3m5.7 0h1.3m2.7 0h1.3m0.7 0h1.3m0.7 0h1.3m-66.3 1h1.3m18.7 0h1.3m4.7 0h1.3m9.7 0h1.3m10.7 0h1.3m0.7 0h1.3m4.7 0h1.3m1.7 0h1.3m5.7 0h1.3m-0.3 0h1.3m5.7 0h1.3m-63.3 1h1.3m-0.3 0h1.3m16.7 0h1.3m3.7 0h1.3m-0.3 0h1.3m6.7 0h1.3m6.7 0h1.3m11.7 0h1.3m3.7 0h1.3m32.7 0h1.3m-81.3 1h1.3m11.7 0h1.3m3.7 0h1.3m3.7 0h1.3m3.7 0h1.3m1.7 0h1.3m2.7 0h1.3m9.7 0h1.3m2.7 0h1.3m-74.3 1h1.3m10.7 0h1.3m3.7 0h1.3m4.7 0h1.3m5.7 0h1.3m8.7 0h1.3m1.7 0h1.3m1.7 0h1.3m4.7 0h1.3m22.7 0h1.3m-75.3 1h1.3m9.7 0h1.3m11.7 0h1.3m1.7 0h1.3m1.7 0h1.3m7.7 0h1.3m-0.3 0h1.3m0.7 0h1.3m8.7 0h1.3m0.7 0h1.3m0.7 0h1.3m2.7 0h1.3m32.7 0h1.3m-78.3 1h1.3m6.7 0h1.3m1.7 0h1.3m-0.3 0h1.3m0.7 0h1.3m-0.3 0h1.3m5.7 0h1.3m3.7 0h1.3m4.7 0h1.3m10.7 0h1.3m1.7 0h1.3m-35.3 1h1.3m1.7 0h1.3m-0.3 0h1.3m-0.3 0h1.3m1.7 0h1.3m3.7 0h1.3m0.7 0h1.3m-0.3 0h1.3m6.7 0h1.3m4.7 0h1.3m1.7 0h1.3m-59.3 1h1.3m3.7 0h1.3m3.7 0h1.3m4.7 0h1.3m2.7 0h1.3m15.7 0h1.3m2.7 0h1.3m2.7 0h1.3m5.7 0h1.3m1.7 0h1.3m11.7 0h1.3m-80.3 1h1.3m15.7 0h1.3m-0.3 0h1.3m-0.3 0h1.3m11.7 0h1.3m4.7 0h1.3m5.7 0h1.3m-0.3 0h1.3m10.7 0h1.3m6.7 0h1.3m8.7 0h1.3m-75.3 1h1.3m-0.3 0h1.3m9.7 0h1.3m0.7 0h1.3m13.7 0h1.3m3.7 0h1.3m16.7 0h1.3m-0.3 0h1.3m-0.3 0h1.3m-0.3 0h1.3m-0.3 0h1.3m6.7 0h1.3m1.7 0h1.3m9.7 0h1.3m-71.3 1h1.3m-0.3 0h1.3m14.7 0h1.3m7.7 0h1.3m1.7 0h1.3m-0.3 0h1.3m3.7 0h1.3m2.7 0h1.3m0.7 0h1.3m4.7 0h1.3m2.7 0h1.3m0.7 0h1.3m-0.3 0h1.3m6.7 0h1.3m3.7 0h1.3m-72.3 1h1.3m4.7 0h1.3m13.7 0h1.3m-0.3 0h1.3m1.7 0h1.3m2.7 0h1.3m2.7 0h1.3m2.7 0h1.3m9.7 0h1.3m-0.3 0h1.3m1.7 0h1.3m10.7 0h1.3m5.7 0h1.3m3.7 0h1.3m-78.3 1h1.3m4.7 0h1.3m1.7 0h1.3m7.7 0h1.3m-0.3 0h1.3m-0.3 0h1.3m10.7 0h1.3m1.7 0h1.3m10.7 0h1.3m0.7 0h1.3m5.7 0h1.3m-0.3 0h1.3m-0.3 0h1.3m6.7 0h1.3m-56.3 1h1.3m14.7 0h1.3m1.7 0h1.3m-0.3 0h1.3m-0.3 0h1.3m1.7 0h1.3m1.7 0h1.3m-0.3 0h1.3m0.7 0h1.3m3.7 0h1.3m0.7 0h1.3m1.7 0h1.3m2.7 0h1.3m-0.3 0h1.3m3.7 0h1.3m2.7 0h1.3m-0.3 0h1.3m-0.3 0h1.3m3.7 0h1.3m5.7 0h1.3m-67.3 1h1.3m13.7 0h1.3m0.7 0h1.3m-0.3 0h1.3m4.7 0h1.3m-0.3 0h1.3m-0.3 0h1.3m-0.3 0h1.3m9.7 0h1.3m5.7 0h1.3m2.7 0h1.3m0.7 0h1.3m2.7 0h1.3m4.7 0h1.3m13.7 0h1.3m-92.3 1h1.3m0.7 0h1.3m6.7 0h1.3m6.7 0h1.3m4.7 0h1.3m5.7 0h1.3m2.7 0h1.3m1.7 0h1.3m2.7 0h1.3m0.7 0h1.3m0.7 0h1.3m4.7 0h1.3m1.7 0h1.3m-0.3 0h1.3m6.7 0h1.3m-0.3 0h1.3m0.7 0h1.3m10.7 0h1.3m42.7 0h1.3m-112.3 1h1.3m4.7 0h1.3m3.7 0h1.3m2.7 0h1.3m2.7 0h1.3m0.7 0h1.3m-0.3 0h1.3m4.7 0h1.3m0.7 0h1.3m1.7 0h1.3m1.7 0h1.3m2.7 0h1.3m0.7 0h1.3m4.7 0h1.3m-0.3 0h1.3m2.7 0h1.3m-0.3 0h1.3m5.7 0h1.3m-64.3 1h1.3m1.7 0h1.3m-0.3 0h1.3m0.7 0h1.3m0.7 0h1.3m1.7 0h1.3m-0.3 0h1.3m0.7 0h1.3m1.7 0h1.3m0.7 0h1.3m0.7 0h1.3m-0.3 0h1.3m0.7 0h1.3m0.7 0h1.3m0.7 0h1.3m1.7 0h1.3m1.7 0h1.3m4.7 0h1.3m-0.3 0h1.3m-0.3 0h1.3m2.7 0h1.3m1.7 0h1.3m-0.3 0h1.3m0.7 0h1.3m-0.3 0h1.3m-0.3 0h1.3m-0.3 0h1.3m6.7 0h1.3m-0.3 0h1.3m-0.3 0h1.3m-78.3 1h1.3m4.7 0h1.3m7.7 0h1.3m0.7 0h1.3m4.7 0h1.3m8.7 0h1.3m1.7 0h1.3m1.7 0h1.3m-0.3 0h1.3m1.7 0h1.3m1.7 0h1.3m-0.3 0h1.3m-0.3 0h1.3m-0.3 0h1.3m3.7 0h1.3m5.7 0h1.3m-0.3 0h1.3m-0.3 0h1.3m0.7 0h1.3m3.7 0h1.3m0.7 0h1.3m-0.3 0h1.3m6.7 0h1.3m0.7 0h1.3m-78.3 1h1.3m-0.3 0h1.3m5.7 0h1.3m6.7 0h1.3m-0.3 0h1.3m8.7 0h1.3m1.7 0h1.3m0.7 0h1.3m6.7 0h1.3m-0.3 0h1.3m1.7 0h1.3m1.7 0h1.3m0.7 0h1.3m-0.3 0h1.3m7.7 0h1.3m1.7 0h1.3m11.7 0h1.3m-0.3 0h1.3m2.7 0h1.3m2.7 0h1.3m8.7 0h1.3m-98.3 1h1.3m-0.3 0h1.3m1.7 0h1.3m5.7 0h1.3m0.7 0h1.3m-0.3 0h1.3m1.7 0h1.3m6.7 0h1.3m5.7 0h1.3m4.7 0h1.3m2.7 0h1.3m0.7 0h1.3m1.7 0h1.3m-0.3 0h1.3m0.7 0h1.3m2.7 0h1.3m3.7 0h1.3m5.7 0h1.3m0.7 0h1.3m-0.3 0h1.3m4.7 0h1.3m-0.3 0h1.3m9.7 0h1.3m57.7 0h1.3m-134.3 1h1.3m14.7 0h1.3m0.7 0h1.3m4.7 0h1.3m0.7 0h1.3m1.7 0h1.3m-0.3 0h1.3m0.7 0h1.3m0.7 0h1.3m7.7 0h1.3m0.7 0h1.3m10.7 0h1.3m2.7 0h1.3m10.7 0h1.3m13.7 0h1.3m-102.3 1h1.3m-0.3 0h1.3m4.7 0h1.3m3.7 0h1.3m3.7 0h1.3m0.7 0h1.3m0.7 0h1.3m0.7 0h1.3m0.7 0h1.3m0.7 0h1.3m3.7 0h1.3m0.7 0h1.3m1.7 0h1.3m0.7 0h1.3m2.7 0h1.3m-0.3 0h1.3m10.7 0h1.3m1.7 0h1.3m-0.3 0h1.3m-0.3 0h1.3m-0.3 0h1.3m0.7 0h1.3m-0.3 0h1.3m-0.3 0h1.3m-0.3 0h1.3m7.7 0h1.3m0.7 0h1.3m-75.3 1h1.3m3.7 0h1.3m7.7 0h1.3m2.7 0h1.3m1.7 0h1.3m0.7 0h1.3m1.7 0h1.3m-0.3 0h1.3m0.7 0h1.3m8.7 0h1.3m-0.3 0h1.3m1.7 0h1.3m12.7 0h1.3m-0.3 0h1.3m-0.3 0h1.3m14.7 0h1.3m10.7 0h1.3m-96.3 1h1.3m1.7 0h1.3m1.7 0h1.3m-0.3 0h1.3m-0.3 0h1.3m3.7 0h1.3m6.7 0h1.3m-0.3 0h1.3m1.7 0h1.3m0.7 0h1.3m-0.3 0h1.3m3.7 0h1.3m3.7 0h1.3m4.7 0h1.3m-0.3 0h1.3m3.7 0h1.3m3.7 0h1.3m0.7 0h1.3m3.7 0h1.3m-0.3 0h1.3m2.7 0h1.3m0.7 0h1.3m15.7 0h1.3m0.7 0h1.3m-0.3 0h1.3m4.7 0h1.3m2.7 0h1.3m-100.3 1h1.3m4.7 0h1.3m4.7 0h1.3m-0.3 0h1.3m13.7 0h1.3m-0.3 0h1.3m6.7 0h1.3m0.7 0h1.3m-0.3 0h1.3m-0.3 0h1.3m-0.3 0h1.3m2.7 0h1.3m1.7 0h1.3m-0.3 0h1.3m0.7 0h1.3m2.7 0h1.3m1.7 0h1.3m-0.3 0h1.3m0.7 0h1.3m-0.3 0h1.3m1.7 0h1.3m5.7 0h1.3m-0.3 0h1.3m5.7 0h1.3m29.7 0h1.3m-111.3 1h1.3m10.7 0h1.3m-0.3 0h1.3m5.7 0h1.3m2.7 0h1.3m1.7 0h1.3m0.7 0h1.3m0.7 0h1.3m-0.3 0h1.3m8.7 0h1.3m0.7 0h1.3m-0.3 0h1.3m0.7 0h1.3m-0.3 0h1.3m3.7 0h1.3m-0.3 0h1.3m1.7 0h1.3m0.7 0h1.3m3.7 0h1.3m4.7 0h1.3m-0.3 0h1.3m-0.3 0h1.3m2.7 0h1.3m0.7 0h1.3m8.7 0h1.3m-91.3 1h1.3m1.7 0h1.3m5.7 0h1.3m8.7 0h1.3m3.7 0h1.3m2.7 0h1.3m-0.3 0h1.3m-0.3 0h1.3m8.7 0h1.3m2.7 0h1.3m0.7 0h1.3m9.7 0h1.3m2.7 0h1.3m-0.3 0h1.3m-0.3 0h1.3m2.7 0h1.3m8.7 0h1.3m3.7 0h1.3m0.7 0h1.3m0.7 0h1.3m14.7 0h1.3m-87.3 1h1.3m1.7 0h1.3m3.7 0h1.3m4.7 0h1.3m2.7 0h1.3m-0.3 0h1.3m0.7 0h1.3m1.7 0h1.3m2.7 0h1.3m0.7 0h1.3m0.7 0h1.3m0.7 0h1.3m0.7 0h1.3m-0.3 0h1.3m-0.3 0h1.3m0.7 0h1.3m0.7 0h1.3m0.7 0h1.3m-0.3 0h1.3m-0.3 0h1.3m6.7 0h1.3m-0.3 0h1.3m9.7 0h1.3m0.7 0h1.3m5.7 0h1.3m-90.3 1h1.3m2.7 0h1.3m0.7 0h1.3m0.7 0h1.3m0.7 0h1.3m-0.3 0h1.3m-0.3 0h1.3m1.7 0h1.3m-0.3 0h1.3m3.7 0h1.3m1.7 0h1.3m0.7 0h1.3m1.7 0h1.3m3.7 0h1.3m-0.3 0h1.3m3.7 0h1.3m0.7 0h1.3m-0.3 0h1.3m4.7 0h1.3m0.7 0h1.3m-0.3 0h1.3m-0.3 0h1.3m2.7 0h1.3m5.7 0h1.3m-0.3 0h1.3m2.7 0h1.3m-0.3 0h1.3m12.7 0h1.3m7.7 0h1.3m-85.3 1h1.3m3.7 0h1.3m0.7 0h1.3m8.7 0h1.3m0.7 0h1.3m0.7 0h1.3m5.7 0h1.3m1.7 0h1.3m-0.3 0h1.3m-0.3 0h1.3m0.7 0h1.3m2.7 0h1.3m2.7 0h1.3m-0.3 0h1.3m5.7 0h1.3m-0.3 0h1.3m4.7 0h1.3m-0.3 0h1.3m-0.3 0h1.3m4.7 0h1.3m-0.3 0h1.3m-0.3 0h1.3m0.7 0h1.3m0.7 0h1.3m1.7 0h1.3m-87.3 1h1.3m0.7 0h1.3m1.7 0h1.3m0.7 0h1.3m-0.3 0h1.3m0.7 0h1.3m1.7 0h1.3m-0.3 0h1.3m1.7 0h1.3m3.7 0h1.3m3.7 0h1.3m-0.3 0h1.3m0.7 0h1.3m-0.3 0h1.3m-0.3 0h1.3m1.7 0h1.3m-0.3 0h1.3m5.7 0h1.3m-0.3 0h1.3m-0.3 0h1.3m2.7 0h1.3m-0.3 0h1.3m-0.3 0h1.3m0.7 0h1.3m-0.3 0h1.3m2.7 0h1.3m-0.3 0h1.3m3.7 0h1.3m1.7 0h1.3m-0.3 0h1.3m-0.3 0h1.3m5.7 0h1.3m24.7 0h1.3m-102.3 1h1.3m0.7 0h1.3m2.7 0h1.3m-0.3 0h1.3m3.7 0h1.3m1.7 0h1.3m6.7 0h1.3m-0.3 0h1.3m0.7 0h1.3m-0.3 0h1.3m0.7 0h1.3m0.7 0h1.3m-0.3 0h1.3m0.7 0h1.3m-0.3 0h1.3m1.7 0h1.3m1.7 0h1.3m1.7 0h1.3m-0.3 0h1.3m1.7 0h1.3m2.7 0h1.3m0.7 0h1.3m3.7 0h1.3m7.7 0h1.3m3.7 0h1.3m3.7 0h1.3m0.7 0h1.3m-0.3 0h1.3m-82.3 1h1.3m2.7 0h1.3m2.7 0h1.3m1.7 0h1.3m0.7 0h1.3m11.7 0h1.3m1.7 0h1.3m0.7 0h1.3m-0.3 0h1.3m2.7 0h1.3m-0.3 0h1.3m0.7 0h1.3m-0.3 0h1.3m1.7 0h1.3m0.7 0h1.3m-0.3 0h1.3m-0.3 0h1.3m1.7 0h1.3m0.7 0h1.3m0.7 0h1.3m0.7 0h1.3m0.7 0h1.3m2.7 0h1.3m-0.3 0h1.3m1.7 0h1.3m0.7 0h1.3m1.7 0h1.3m0.7 0h1.3m0.7 0h1.3m0.7 0h1.3m-0.3 0h1.3m1.7 0h1.3m-0.3 0h1.3m-0.3 0h1.3m3.7 0h1.3m25.7 0h1.3m-116.3 1h1.3m0.7 0h1.3m2.7 0h1.3m-0.3 0h1.3m2.7 0h1.3m-0.3 0h1.3m-0.3 0h1.3m1.7 0h1.3m-0.3 0h1.3m3.7 0h1.3m2.7 0h1.3m2.7 0h1.3m1.7 0h1.3m-0.3 0h1.3m1.7 0h1.3m-0.3 0h1.3m3.7 0h1.3m0.7 0h1.3m1.7 0h1.3m-0.3 0h1.3m1.7 0h1.3m1.7 0h1.3m0.7 0h1.3m-0.3 0h1.3m-0.3 0h1.3m0.7 0h1.3m3.7 0h1.3m2.7 0h1.3m0.7 0h1.3m1.7 0h1.3m-0.3 0h1.3m2.7 0h1.3m0.7 0h1.3m-0.3 0h1.3m7.7 0h1.3m-94.3 1h1.3m3.7 0h1.3m-0.3 0h1.3m-0.3 0h1.3m1.7 0h1.3m3.7 0h1.3m0.7 0h1.3m0.7 0h1.3m3.7 0h1.3m0.7 0h1.3m-0.3 0h1.3m0.7 0h1.3m1.7 0h1.3m1.7 0h1.3m3.7 0h1.3m1.7 0h1.3m3.7 0h1.3m0.7 0h1.3m0.7 0h1.3m4.7 0h1.3m2.7 0h1.3m-0.3 0h1.3m0.7 0h1.3m-0.3 0h1.3m4.7 0h1.3m1.7 0h1.3m0.7 0h1.3m4.7 0h1.3m0.7 0h1.3m1.7 0h1.3m3.7 0h1.3m41.7 0h1.3m-138.3 1h1.3m1.7 0h1.3m-0.3 0h1.3m0.7 0h1.3m-0.3 0h1.3m4.7 0h1.3m0.7 0h1.3m5.7 0h1.3m1.7 0h1.3m-0.3 0h1.3m0.7 0h1.3m1.7 0h1.3m2.7 0h1.3m-0.3 0h1.3m-0.3 0h1.3m0.7 0h1.3m-0.3 0h1.3m1.7 0h1.3m1.7 0h1.3m0.7 0h1.3m-0.3 0h1.3m-0.3 0h1.3m0.7 0h1.3m-0.3 0h1.3m2.7 0h1.3m6.7 0h1.3m-0.3 0h1.3m3.7 0h1.3m-0.3 0h1.3m1.7 0h1.3m6.7 0h1.3m4.7 0h1.3m2.7 0h1.3m-94.3 1h1.3m1.7 0h1.3m-0.3 0h1.3m2.7 0h1.3m1.7 0h1.3m0.7 0h1.3m4.7 0h1.3m1.7 0h1.3m-0.3 0h1.3m2.7 0h1.3m4.7 0h1.3m-0.3 0h1.3m0.7 0h1.3m1.7 0h1.3m1.7 0h1.3m1.7 0h1.3m-0.3 0h1.3m-0.3 0h1.3m-0.3 0h1.3m0.7 0h1.3m0.7 0h1.3m-0.3 0h1.3m-0.3 0h1.3m-0.3 0h1.3m0.7 0h1.3m0.7 0h1.3m2.7 0h1.3m2.7 0h1.3m2.7 0h1.3m0.7 0h1.3m0.7 0h1.3m3.7 0h1.3m6.7 0h1.3m-88.3 1h1.3m0.7 0h1.3m0.7 0h1.3m-0.3 0h1.3m0.7 0h1.3m0.7 0h1.3m0.7 0h1.3m2.7 0h1.3m0.7 0h1.3m-0.3 0h1.3m-0.3 0h1.3m-0.3 0h1.3m0.7 0h1.3m0.7 0h1.3m-0.3 0h1.3m-0.3 0h1.3m5.7 0h1.3m0.7 0h1.3m3.7 0h1.3m0.7 0h1.3m-0.3 0h1.3m3.7 0h1.3m3.7 0h1.3m-0.3 0h1.3m-0.3 0h1.3m0.7 0h1.3m-0.3 0h1.3m-0.3 0h1.3m2.7 0h1.3m-0.3 0h1.3m1.7 0h1.3m-0.3 0h1.3m-0.3 0h1.3m4.7 0h1.3m2.7 0h1.3m-0.3 0h1.3m3.7 0h1.3m-0.3 0h1.3m4.7 0h1.3m-94.3 1h1.3m0.7 0h1.3m0.7 0h1.3m0.7 0h1.3m-0.3 0h1.3m1.7 0h1.3m1.7 0h1.3m-0.3 0h1.3m0.7 0h1.3m-0.3 0h1.3m0.7 0h1.3m0.7 0h1.3m-0.3 0h1.3m4.7 0h1.3m-0.3 0h1.3m-0.3 0h1.3m-0.3 0h1.3m0.7 0h1.3m-0.3 0h1.3m1.7 0h1.3m-0.3 0h1.3m-0.3 0h1.3m0.7 0h1.3m0.7 0h1.3m0.7 0h1.3m-0.3 0h1.3m-0.3 0h1.3m-0.3 0h1.3m0.7 0h1.3m-0.3 0h1.3m-0.3 0h1.3m0.7 0h1.3m0.7 0h1.3m-0.3 0h1.3m-0.3 0h1.3m1.7 0h1.3m-0.3 0h1.3m3.7 0h1.3m0.7 0h1.3m5.7 0h1.3m-0.3 0h1.3m17.7 0h1.3m5.7 0h1.3m-99.3 1h1.3m-0.3 0h1.3m-0.3 0h1.3m-0.3 0h1.3m5.7 0h1.3m2.7 0h1.3m0.7 0h1.3m-0.3 0h1.3m0.7 0h1.3m-0.3 0h1.3m2.7 0h1.3m1.7 0h1.3m1.7 0h1.3m2.7 0h1.3m1.7 0h1.3m0.7 0h1.3m1.7 0h1.3m1.7 0h1.3m-0.3 0h1.3m1.7 0h1.3m3.7 0h1.3m-0.3 0h1.3m6.7 0h1.3m-0.3 0h1.3m-0.3 0h1.3m0.7 0h1.3m-0.3 0h1.3m0.7 0h1.3m0.7 0h1.3m1.7 0h1.3m6.7 0h1.3m4.7 0h1.3m29.7 0h1.3m-126.3 1h1.3m-0.3 0h1.3m-0.3 0h1.3m0.7 0h1.3m-0.3 0h1.3m1.7 0h1.3m0.7 0h1.3m1.7 0h1.3m-0.3 0h1.3m-0.3 0h1.3m-0.3 0h1.3m1.7 0h1.3m3.7 0h1.3m1.7 0h1.3m0.7 0h1.3m3.7 0h1.3m-0.3 0h1.3m0.7 0h1.3m4.7 0h1.3m1.7 0h1.3m0.7 0h1.3m-0.3 0h1.3m-0.3 0h1.3m-0.3 0h1.3m-0.3 0h1.3m1.7 0h1.3m-0.3 0h1.3m-0.3 0h1.3m1.7 0h1.3m0.7 0h1.3m-0.3 0h1.3m-0.3 0h1.3m-0.3 0h1.3m-0.3 0h1.3m0.7 0h1.3m0.7 0h1.3m2.7 0h1.3m-0.3 0h1.3m9.7 0h1.3m0.7 0h1.3m-0.3 0h1.3m1.7 0h1.3m14.7 0h1.3m6.7 0h1.3m-117.3 1h1.3m-0.3 0h1.3m1.7 0h1.3m0.7 0h1.3m-0.3 0h1.3m-0.3 0h1.3m1.7 0h1.3m7.7 0h1.3m0.7 0h1.3m1.7 0h1.3m0.7 0h1.3m1.7 0h1.3m-0.3 0h1.3m1.7 0h1.3m-0.3 0h1.3m5.7 0h1.3m2.7 0h1.3m5.7 0h1.3m3.7 0h1.3m3.7 0h1.3m0.7 0h1.3m0.7 0h1.3m0.7 0h1.3m2.7 0h1.3m-0.3 0h1.3m0.7 0h1.3m0.7 0h1.3m2.7 0h1.3m1.7 0h1.3m1.7 0h1.3m-89.3 1h1.3m-0.3 0h1.3m1.7 0h1.3m1.7 0h1.3m-0.3 0h1.3m1.7 0h1.3m-0.3 0h1.3m4.7 0h1.3m3.7 0h1.3m0.7 0h1.3m1.7 0h1.3m-0.3 0h1.3m-0.3 0h1.3m1.7 0h1.3m3.7 0h1.3m3.7 0h1.3m4.7 0h1.3m-0.3 0h1.3m4.7 0h1.3m3.7 0h1.3m-0.3 0h1.3m-0.3 0h1.3m-0.3 0h1.3m2.7 0h1.3m1.7 0h1.3m-0.3 0h1.3m-0.3 0h1.3m2.7 0h1.3m-0.3 0h1.3m-0.3 0h1.3m4.7 0h1.3m-0.3 0h1.3m2.7 0h1.3m9.7 0h1.3m-101.3 1h1.3m3.7 0h1.3m-0.3 0h1.3m-0.3 0h1.3m-0.3 0h1.3m0.7 0h1.3m0.7 0h1.3m4.7 0h1.3m0.7 0h1.3m10.7 0h1.3m-0.3 0h1.3m1.7 0h1.3m-0.3 0h1.3m-0.3 0h1.3m-0.3 0h1.3m1.7 0h1.3m0.7 0h1.3m0.7 0h1.3m-0.3 0h1.3m0.7 0h1.3m9.7 0h1.3m1.7 0h1.3m-0.3 0h1.3m3.7 0h1.3m4.7 0h1.3m-0.3 0h1.3m4.7 0h1.3m-0.3 0h1.3m0.7 0h1.3m0.7 0h1.3m1.7 0h1.3m7.7 0h1.3m6.7 0h1.3m-108.3 1h1.3m0.7 0h1.3m-0.3 0h1.3m1.7 0h1.3m3.7 0h1.3m3.7 0h1.3m0.7 0h1.3m-0.3 0h1.3m1.7 0h1.3m1.7 0h1.3m-0.3 0h1.3m5.7 0h1.3m1.7 0h1.3m-0.3 0h1.3m-0.3 0h1.3m2.7 0h1.3m-0.3 0h1.3m3.7 0h1.3m3.7 0h1.3m-0.3 0h1.3m-0.3 0h1.3m0.7 0h1.3m4.7 0h1.3m2.7 0h1.3m0.7 0h1.3m-0.3 0h1.3m-0.3 0h1.3m2.7 0h1.3m1.7 0h1.3m-0.3 0h1.3m-0.3 0h1.3m2.7 0h1.3m2.7 0h1.3m1.7 0h1.3m10.7 0h1.3m-97.3 1h1.3m0.7 0h1.3m-0.3 0h1.3m-0.3 0h1.3m-0.3 0h1.3m0.7 0h1.3m2.7 0h1.3m-0.3 0h1.3m2.7 0h1.3m0.7 0h1.3m-0.3 0h1.3m3.7 0h1.3m0.7 0h1.3m2.7 0h1.3m-0.3 0h1.3m2.7 0h1.3m-0.3 0h1.3m-0.3 0h1.3m0.7 0h1.3m3.7 0h1.3m9.7 0h1.3m-0.3 0h1.3m0.7 0h1.3m1.7 0h1.3m0.7 0h1.3m4.7 0h1.3m1.7 0h1.3m0.7 0h1.3m0.7 0h1.3m5.7 0h1.3m-90.3 1h1.3m-0.3 0h1.3m-0.3 0h1.3m1.7 0h1.3m-0.3 0h1.3m0.7 0h1.3m0.7 0h1.3m-0.3 0h1.3m2.7 0h1.3m0.7 0h1.3m0.7 0h1.3m-0.3 0h1.3m2.7 0h1.3m1.7 0h1.3m1.7 0h1.3m1.7 0h1.3m-0.3 0h1.3m4.7 0h1.3m2.7 0h1.3m1.7 0h1.3m3.7 0h1.3m-0.3 0h1.3m0.7 0h1.3m-0.3 0h1.3m0.7 0h1.3m4.7 0h1.3m-0.3 0h1.3m4.7 0h1.3m9.7 0h1.3m-85.3 1h1.3m-0.3 0h1.3m0.7 0h1.3m0.7 0h1.3m2.7 0h1.3m0.7 0h1.3m0.7 0h1.3m-0.3 0h1.3m0.7 0h1.3m0.7 0h1.3m-0.3 0h1.3m-0.3 0h1.3m4.7 0h1.3m0.7 0h1.3m-0.3 0h1.3m5.7 0h1.3m3.7 0h1.3m3.7 0h1.3m-0.3 0h1.3m0.7 0h1.3m3.7 0h1.3m1.7 0h1.3m-0.3 0h1.3m0.7 0h1.3m4.7 0h1.3m-0.3 0h1.3m0.7 0h1.3m0.7 0h1.3m2.7 0h1.3m1.7 0h1.3m3.7 0h1.3m-0.3 0h1.3m0.7 0h1.3m4.7 0h1.3m7.7 0h1.3m-0.3 0h1.3m-103.3 1h1.3m1.7 0h1.3m1.7 0h1.3m7.7 0h1.3m1.7 0h1.3m4.7 0h1.3m-0.3 0h1.3m-0.3 0h1.3m1.7 0h1.3m-0.3 0h1.3m-0.3 0h1.3m1.7 0h1.3m-0.3 0h1.3m-0.3 0h1.3m1.7 0h1.3m1.7 0h1.3m0.7 0h1.3m3.7 0h1.3m5.7 0h1.3m1.7 0h1.3m-0.3 0h1.3m0.7 0h1.3m4.7 0h1.3m1.7 0h1.3m-0.3 0h1.3m-0.3 0h1.3m4.7 0h1.3m-0.3 0h1.3m-0.3 0h1.3m1.7 0h1.3m0.7 0h1.3m-86.3 1h1.3m-0.3 0h1.3m-0.3 0h1.3m-0.3 0h1.3m0.7 0h1.3m-0.3 0h1.3m0.7 0h1.3m1.7 0h1.3m1.7 0h1.3m6.7 0h1.3m0.7 0h1.3m-0.3 0h1.3m0.7 0h1.3m2.7 0h1.3m-0.3 0h1.3m1.7 0h1.3m2.7 0h1.3m1.7 0h1.3m-0.3 0h1.3m1.7 0h1.3m-0.3 0h1.3m0.7 0h1.3m-0.3 0h1.3m-0.3 0h1.3m0.7 0h1.3m0.7 0h1.3m-0.3 0h1.3m1.7 0h1.3m2.7 0h1.3m6.7 0h1.3m3.7 0h1.3m2.7 0h1.3m-0.3 0h1.3m3.7 0h1.3m0.7 0h1.3m-0.3 0h1.3m-0.3 0h1.3m-92.3 1h1.3m0.7 0h1.3m1.7 0h1.3m-0.3 0h1.3m-0.3 0h1.3m-0.3 0h1.3m-0.3 0h1.3m0.7 0h1.3m-0.3 0h1.3m-0.3 0h1.3m2.7 0h1.3m1.7 0h1.3m0.7 0h1.3m1.7 0h1.3m2.7 0h1.3m-0.3 0h1.3m0.7 0h1.3m2.7 0h1.3m-0.3 0h1.3m3.7 0h1.3m0.7 0h1.3m-0.3 0h1.3m-0.3 0h1.3m1.7 0h1.3m-0.3 0h1.3m-0.3 0h1.3m-0.3 0h1.3m-0.3 0h1.3m-0.3 0h1.3m4.7 0h1.3m-0.3 0h1.3m6.7 0h1.3m-0.3 0h1.3m-0.3 0h1.3m0.7 0h1.3m0.7 0h1.3m2.7 0h1.3m0.7 0h1.3m-0.3 0h1.3m5.7 0h1.3m1.7 0h1.3m-93.3 1h1.3m2.7 0h1.3m-0.3 0h1.3m2.7 0h1.3m8.7 0h1.3m-0.3 0h1.3m1.7 0h1.3m1.7 0h1.3m-0.3 0h1.3m3.7 0h1.3m-0.3 0h1.3m8.7 0h1.3m3.7 0h1.3m-0.3 0h1.3m3.7 0h1.3m-0.3 0h1.3m2.7 0h1.3m-0.3 0h1.3m1.7 0h1.3m-0.3 0h1.3m7.7 0h1.3m4.7 0h1.3m6.7 0h1.3m0.7 0h1.3m-90.3 1h1.3m-0.3 0h1.3m-0.3 0h1.3m-0.3 0h1.3m-0.3 0h1.3m-0.3 0h1.3m-0.3 0h1.3m0.7 0h1.3m0.7 0h1.3m-0.3 0h1.3m-0.3 0h1.3m3.7 0h1.3m-0.3 0h1.3m6.7 0h1.3m-0.3 0h1.3m3.7 0h1.3m1.7 0h1.3m0.7 0h1.3m0.7 0h1.3m-0.3 0h1.3m1.7 0h1.3m-0.3 0h1.3m-0.3 0h1.3m1.7 0h1.3m7.7 0h1.3m-0.3 0h1.3m-0.3 0h1.3m-0.3 0h1.3m2.7 0h1.3m0.7 0h1.3m-0.3 0h1.3m-0.3 0h1.3m0.7 0h1.3m-0.3 0h1.3m0.7 0h1.3m1.7 0h1.3m-0.3 0h1.3m5.7 0h1.3m0.7 0h1.3m1.7 0h1.3m6.7 0h1.3m-0.3 0h1.3m13.7 0h1.3m-112.3 1h1.3m2.7 0h1.3m0.7 0h1.3m1.7 0h1.3m-0.3 0h1.3m-0.3 0h1.3m0.7 0h1.3m0.7 0h1.3m0.7 0h1.3m6.7 0h1.3m-0.3 0h1.3m0.7 0h1.3m1.7 0h1.3m0.7 0h1.3m0.7 0h1.3m1.7 0h1.3m-0.3 0h1.3m0.7 0h1.3m-0.3 0h1.3m-0.3 0h1.3m0.7 0h1.3m2.7 0h1.3m1.7 0h1.3m7.7 0h1.3m0.7 0h1.3m1.7 0h1.3m2.7 0h1.3m-0.3 0h1.3m-0.3 0h1.3m-0.3 0h1.3m-0.3 0h1.3m0.7 0h1.3m1.7 0h1.3m1.7 0h1.3m-0.3 0h1.3m6.7 0h1.3m1.7 0h1.3m-97.3 1h1.3m0.7 0h1.3m0.7 0h1.3m1.7 0h1.3m1.7 0h1.3m0.7 0h1.3m1.7 0h1.3m0.7 0h1.3m1.7 0h1.3m-0.3 0h1.3m2.7 0h1.3m1.7 0h1.3m1.7 0h1.3m1.7 0h1.3m3.7 0h1.3m2.7 0h1.3m3.7 0h1.3m-0.3 0h1.3m1.7 0h1.3m-0.3 0h1.3m0.7 0h1.3m-0.3 0h1.3m1.7 0h1.3m-0.3 0h1.3m-0.3 0h1.3m4.7 0h1.3m1.7 0h1.3m0.7 0h1.3m-0.3 0h1.3m-0.3 0h1.3m2.7 0h1.3m0.7 0h1.3m-0.3 0h1.3m11.7 0h1.3m6.7 0h1.3m-102.3 1h1.3m-0.3 0h1.3m0.7 0h1.3m-0.3 0h1.3m-0.3 0h1.3m-0.3 0h1.3m-0.3 0h1.3m-0.3 0h1.3m5.7 0h1.3m-0.3 0h1.3m-0.3 0h1.3m2.7 0h1.3m1.7 0h1.3m-0.3 0h1.3m1.7 0h1.3m0.7 0h1.3m-0.3 0h1.3m3.7 0h1.3m-0.3 0h1.3m0.7 0h1.3m1.7 0h1.3m-0.3 0h1.3m4.7 0h1.3m-0.3 0h1.3m4.7 0h1.3m-0.3 0h1.3m0.7 0h1.3m4.7 0h1.3m0.7 0h1.3m0.7 0h1.3m0.7 0h1.3m3.7 0h1.3m2.7 0h1.3m1.7 0h1.3m0.7 0h1.3m0.7 0h1.3m2.7 0h1.3m1.7 0h1.3m-0.3 0h1.3m-95.3 1h1.3m1.7 0h1.3m-0.3 0h1.3m4.7 0h1.3m0.7 0h1.3m0.7 0h1.3m2.7 0h1.3m0.7 0h1.3m3.7 0h1.3m-0.3 0h1.3m1.7 0h1.3m2.7 0h1.3m0.7 0h1.3m0.7 0h1.3m-0.3 0h1.3m-0.3 0h1.3m-0.3 0h1.3m1.7 0h1.3m-0.3 0h1.3m0.7 0h1.3m1.7 0h1.3m-0.3 0h1.3m1.7 0h1.3m0.7 0h1.3m-0.3 0h1.3m-0.3 0h1.3m3.7 0h1.3m-0.3 0h1.3m-0.3 0h1.3m2.7 0h1.3m1.7 0h1.3m-0.3 0h1.3m8.7 0h1.3m1.7 0h1.3m12.7 0h1.3m-101.3 1h1.3m-0.3 0h1.3m0.7 0h1.3m-0.3 0h1.3m-0.3 0h1.3m-0.3 0h1.3m-0.3 0h1.3m3.7 0h1.3m2.7 0h1.3m-0.3 0h1.3m0.7 0h1.3m0.7 0h1.3m-0.3 0h1.3m0.7 0h1.3m-0.3 0h1.3m6.7 0h1.3m3.7 0h1.3m0.7 0h1.3m-0.3 0h1.3m-0.3 0h1.3m2.7 0h1.3m0.7 0h1.3m-0.3 0h1.3m-0.3 0h1.3m-0.3 0h1.3m0.7 0h1.3m0.7 0h1.3m0.7 0h1.3m-0.3 0h1.3m-0.3 0h1.3m2.7 0h1.3m1.7 0h1.3m-0.3 0h1.3m-0.3 0h1.3m0.7 0h1.3m-0.3 0h1.3m-0.3 0h1.3m-0.3 0h1.3m0.7 0h1.3m-0.3 0h1.3m-0.3 0h1.3m1.7 0h1.3m3.7 0h1.3m3.7 0h1.3m9.7 0h1.3m-0.3 0h1.3m-104.3 1h1.3m-0.3 0h1.3m-0.3 0h1.3m3.7 0h1.3m-0.3 0h1.3m4.7 0h1.3m0.7 0h1.3m2.7 0h1.3m-0.3 0h1.3m0.7 0h1.3m1.7 0h1.3m-0.3 0h1.3m4.7 0h1.3m0.7 0h1.3m5.7 0h1.3m0.7 0h1.3m2.7 0h1.3m4.7 0h1.3m-0.3 0h1.3m-0.3 0h1.3m-0.3 0h1.3m0.7 0h1.3m6.7 0h1.3m2.7 0h1.3m9.7 0h1.3m-0.3 0h1.3m2.7 0h1.3m-0.3 0h1.3m5.7 0h1.3m-0.3 0h1.3m-97.3 1h1.3m1.7 0h1.3m0.7 0h1.3m0.7 0h1.3m3.7 0h1.3m2.7 0h1.3m0.7 0h1.3m15.7 0h1.3m4.7 0h1.3m1.7 0h1.3m6.7 0h1.3m3.7 0h1.3m0.7 0h1.3m0.7 0h1.3m4.7 0h1.3m3.7 0h1.3m2.7 0h1.3m0.7 0h1.3m1.7 0h1.3m0.7 0h1.3m5.7 0h1.3m1.7 0h1.3m4.7 0h1.3m4.7 0h1.3m-104.3 1h1.3m-0.3 0h1.3m-0.3 0h1.3m1.7 0h1.3m1.7 0h1.3m5.7 0h1.3m-0.3 0h1.3m2.7 0h1.3m1.7 0h1.3m1.7 0h1.3m0.7 0h1.3m-0.3 0h1.3m0.7 0h1.3m3.7 0h1.3m-0.3 0h1.3m-0.3 0h1.3m0.7 0h1.3m1.7 0h1.3m-0.3 0h1.3m-0.3 0h1.3m1.7 0h1.3m4.7 0h1.3m0.7 0h1.3m1.7 0h1.3m-0.3 0h1.3m1.7 0h1.3m3.7 0h1.3m-0.3 0h1.3m-0.3 0h1.3m-0.3 0h1.3m1.7 0h1.3m0.7 0h1.3m1.7 0h1.3m0.7 0h1.3m42.7 0h1.3m-122.3 1h1.3m0.7 0h1.3m0.7 0h1.3m1.7 0h1.3m0.7 0h1.3m-0.3 0h1.3m0.7 0h1.3m1.7 0h1.3m1.7 0h1.3m1.7 0h1.3m0.7 0h1.3m0.7 0h1.3m0.7 0h1.3m11.7 0h1.3m-0.3 0h1.3m4.7 0h1.3m-0.3 0h1.3m4.7 0h1.3m-0.3 0h1.3m-0.3 0h1.3m5.7 0h1.3m0.7 0h1.3m0.7 0h1.3m-0.3 0h1.3m0.7 0h1.3m-0.3 0h1.3m0.7 0h1.3m2.7 0h1.3m0.7 0h1.3m2.7 0h1.3m17.7 0h1.3m-109.3 1h1.3m-0.3 0h1.3m-0.3 0h1.3m1.7 0h1.3m1.7 0h1.3m0.7 0h1.3m-0.3 0h1.3m1.7 0h1.3m1.7 0h1.3m2.7 0h1.3m0.7 0h1.3m1.7 0h1.3m2.7 0h1.3m0.7 0h1.3m3.7 0h1.3m2.7 0h1.3m4.7 0h1.3m1.7 0h1.3m2.7 0h1.3m3.7 0h1.3m1.7 0h1.3m0.7 0h1.3m3.7 0h1.3m4.7 0h1.3m2.7 0h1.3m-0.3 0h1.3m-0.3 0h1.3m0.7 0h1.3m-0.3 0h1.3m1.7 0h1.3m1.7 0h1.3m1.7 0h1.3m7.7 0h1.3m-103.3 1h1.3m0.7 0h1.3m0.7 0h1.3m-0.3 0h1.3m-0.3 0h1.3m1.7 0h1.3m-0.3 0h1.3m-0.3 0h1.3m0.7 0h1.3m-0.3 0h1.3m4.7 0h1.3m10.7 0h1.3m0.7 0h1.3m3.7 0h1.3m-0.3 0h1.3m2.7 0h1.3m-0.3 0h1.3m-0.3 0h1.3m2.7 0h1.3m0.7 0h1.3m7.7 0h1.3m-0.3 0h1.3m3.7 0h1.3m0.7 0h1.3m2.7 0h1.3m0.7 0h1.3m-0.3 0h1.3m5.7 0h1.3m-0.3 0h1.3m1.7 0h1.3m0.7 0h1.3m-0.3 0h1.3m-0.3 0h1.3m6.7 0h1.3m2.7 0h1.3m-102.3 1h1.3m0.7 0h1.3m-0.3 0h1.3m2.7 0h1.3m2.7 0h1.3m6.7 0h1.3m-0.3 0h1.3m1.7 0h1.3m1.7 0h1.3m1.7 0h1.3m-0.3 0h1.3m2.7 0h1.3m1.7 0h1.3m2.7 0h1.3m1.7 0h1.3m3.7 0h1.3m1.7 0h1.3m-0.3 0h1.3m4.7 0h1.3m-0.3 0h1.3m1.7 0h1.3m-0.3 0h1.3m2.7 0h1.3m4.7 0h1.3m-0.3 0h1.3m-0.3 0h1.3m-0.3 0h1.3m1.7 0h1.3m0.7 0h1.3m2.7 0h1.3m1.7 0h1.3m5.7 0h1.3m-99.3 1h1.3m0.7 0h1.3m0.7 0h1.3m6.7 0h1.3m-0.3 0h1.3m2.7 0h1.3m4.7 0h1.3m1.7 0h1.3m1.7 0h1.3m-0.3 0h1.3m-0.3 0h1.3m1.7 0h1.3m-0.3 0h1.3m0.7 0h1.3m0.7 0h1.3m4.7 0h1.3m4.7 0h1.3m0.7 0h1.3m3.7 0h1.3m0.7 0h1.3m-0.3 0h1.3m4.7 0h1.3m1.7 0h1.3m4.7 0h1.3m0.7 0h1.3m-0.3 0h1.3m2.7 0h1.3m2.7 0h1.3m2.7 0h1.3m-89.3 1h1.3m-0.3 0h1.3m0.7 0h1.3m11.7 0h1.3m-0.3 0h1.3m-0.3 0h1.3m1.7 0h1.3m0.7 0h1.3m3.7 0h1.3m-0.3 0h1.3m0.7 0h1.3m1.7 0h1.3m-0.3 0h1.3m9.7 0h1.3m1.7 0h1.3m3.7 0h1.3m-0.3 0h1.3m-0.3 0h1.3m0.7 0h1.3m-0.3 0h1.3m-0.3 0h1.3m3.7 0h1.3m-0.3 0h1.3m-0.3 0h1.3m7.7 0h1.3m-0.3 0h1.3m0.7 0h1.3m0.7 0h1.3m-0.3 0h1.3m-0.3 0h1.3m7.7 0h1.3m24.7 0h1.3m-120.3 1h1.3m0.7 0h1.3m0.7 0h1.3m0.7 0h1.3m-0.3 0h1.3m1.7 0h1.3m1.7 0h1.3m3.7 0h1.3m-0.3 0h1.3m8.7 0h1.3m0.7 0h1.3m0.7 0h1.3m2.7 0h1.3m-0.3 0h1.3m0.7 0h1.3m0.7 0h1.3m-0.3 0h1.3m4.7 0h1.3m-0.3 0h1.3m1.7 0h1.3m4.7 0h1.3m4.7 0h1.3m-0.3 0h1.3m-0.3 0h1.3m-0.3 0h1.3m-0.3 0h1.3m2.7 0h1.3m4.7 0h1.3m-0.3 0h1.3m2.7 0h1.3m-0.3 0h1.3m2.7 0h1.3m3.7 0h1.3m-96.3 1h1.3m-0.3 0h1.3m-0.3 0h1.3m0.7 0h1.3m2.7 0h1.3m0.7 0h1.3m-0.3 0h1.3m-0.3 0h1.3m0.7 0h1.3m3.7 0h1.3m6.7 0h1.3m-0.3 0h1.3m-0.3 0h1.3m0.7 0h1.3m1.7 0h1.3m-0.3 0h1.3m0.7 0h1.3m5.7 0h1.3m1.7 0h1.3m1.7 0h1.3m7.7 0h1.3m-0.3 0h1.3m0.7 0h1.3m-0.3 0h1.3m3.7 0h1.3m4.7 0h1.3m-0.3 0h1.3m-0.3 0h1.3m2.7 0h1.3m-0.3 0h1.3m0.7 0h1.3m2.7 0h1.3m3.7 0h1.3m12.7 0h1.3m-0.3 0h1.3m-109.3 1h1.3m-0.3 0h1.3m-0.3 0h1.3m-0.3 0h1.3m0.7 0h1.3m-0.3 0h1.3m0.7 0h1.3m-0.3 0h1.3m1.7 0h1.3m1.7 0h1.3m-0.3 0h1.3m2.7 0h1.3m0.7 0h1.3m0.7 0h1.3m0.7 0h1.3m0.7 0h1.3m0.7 0h1.3m0.7 0h1.3m1.7 0h1.3m-0.3 0h1.3m5.7 0h1.3m1.7 0h1.3m0.7 0h1.3m5.7 0h1.3m1.7 0h1.3m1.7 0h1.3m0.7 0h1.3m0.7 0h1.3m0.7 0h1.3m-0.3 0h1.3m-0.3 0h1.3m2.7 0h1.3m5.7 0h1.3m0.7 0h1.3m-0.3 0h1.3m3.7 0h1.3m-0.3 0h1.3m0.7 0h1.3m2.7 0h1.3m29.7 0h1.3m-125.3 1h1.3m-0.3 0h1.3m-0.3 0h1.3m2.7 0h1.3m-0.3 0h1.3m0.7 0h1.3m0.7 0h1.3m-0.3 0h1.3m-0.3 0h1.3m2.7 0h1.3m3.7 0h1.3m1.7 0h1.3m1.7 0h1.3m0.7 0h1.3m1.7 0h1.3m0.7 0h1.3m2.7 0h1.3m0.7 0h1.3m0.7 0h1.3m0.7 0h1.3m-0.3 0h1.3m5.7 0h1.3m-0.3 0h1.3m0.7 0h1.3m-0.3 0h1.3m3.7 0h1.3m1.7 0h1.3m5.7 0h1.3m0.7 0h1.3m4.7 0h1.3m4.7 0h1.3m-0.3 0h1.3m2.7 0h1.3m-94.3 1h1.3m-0.3 0h1.3m0.7 0h1.3m-0.3 0h1.3m-0.3 0h1.3m-0.3 0h1.3m2.7 0h1.3m5.7 0h1.3m1.7 0h1.3m-0.3 0h1.3m-0.3 0h1.3m-0.3 0h1.3m-0.3 0h1.3m-0.3 0h1.3m0.7 0h1.3m0.7 0h1.3m8.7 0h1.3m0.7 0h1.3m10.7 0h1.3m3.7 0h1.3m3.7 0h1.3m2.7 0h1.3m4.7 0h1.3m1.7 0h1.3m2.7 0h1.3m0.7 0h1.3m0.7 0h1.3m3.7 0h1.3m1.7 0h1.3m-91.3 1h1.3m1.7 0h1.3m-0.3 0h1.3m2.7 0h1.3m-0.3 0h1.3m1.7 0h1.3m0.7 0h1.3m-0.3 0h1.3m-0.3 0h1.3m0.7 0h1.3m1.7 0h1.3m-0.3 0h1.3m3.7 0h1.3m1.7 0h1.3m0.7 0h1.3m-0.3 0h1.3m5.7 0h1.3m6.7 0h1.3m-0.3 0h1.3m4.7 0h1.3m-0.3 0h1.3m-0.3 0h1.3m3.7 0h1.3m1.7 0h1.3m-0.3 0h1.3m-0.3 0h1.3m0.7 0h1.3m0.7 0h1.3m0.7 0h1.3m0.7 0h1.3m0.7 0h1.3m-0.3 0h1.3m9.7 0h1.3m10.7 0h1.3m-103.3 1h1.3m-0.3 0h1.3m0.7 0h1.3m2.7 0h1.3m-0.3 0h1.3m-0.3 0h1.3m4.7 0h1.3m-0.3 0h1.3m-0.3 0h1.3m0.7 0h1.3m3.7 0h1.3m4.7 0h1.3m-0.3 0h1.3m3.7 0h1.3m-0.3 0h1.3m0.7 0h1.3m-0.3 0h1.3m4.7 0h1.3m2.7 0h1.3m-0.3 0h1.3m7.7 0h1.3m1.7 0h1.3m3.7 0h1.3m0.7 0h1.3m0.7 0h1.3m-0.3 0h1.3m-0.3 0h1.3m1.7 0h1.3m-0.3 0h1.3m0.7 0h1.3m2.7 0h1.3m3.7 0h1.3m2.7 0h1.3m-94.3 1h1.3m0.7 0h1.3m1.7 0h1.3m0.7 0h1.3m0.7 0h1.3m-0.3 0h1.3m-0.3 0h1.3m-0.3 0h1.3m-0.3 0h1.3m1.7 0h1.3m2.7 0h1.3m-0.3 0h1.3m0.7 0h1.3m3.7 0h1.3m2.7 0h1.3m-0.3 0h1.3m-0.3 0h1.3m-0.3 0h1.3m8.7 0h1.3m0.7 0h1.3m5.7 0h1.3m-0.3 0h1.3m0.7 0h1.3m-0.3 0h1.3m2.7 0h1.3m1.7 0h1.3m9.7 0h1.3m-0.3 0h1.3m0.7 0h1.3m-0.3 0h1.3m0.7 0h1.3m3.7 0h1.3m-87.3 1h1.3m0.7 0h1.3m-0.3 0h1.3m-0.3 0h1.3m-0.3 0h1.3m-0.3 0h1.3m-0.3 0h1.3m1.7 0h1.3m0.7 0h1.3m-0.3 0h1.3m0.7 0h1.3m1.7 0h1.3m0.7 0h1.3m0.7 0h1.3m1.7 0h1.3m0.7 0h1.3m-0.3 0h1.3m2.7 0h1.3m-0.3 0h1.3m4.7 0h1.3m5.7 0h1.3m2.7 0h1.3m0.7 0h1.3m-0.3 0h1.3m1.7 0h1.3m7.7 0h1.3m1.7 0h1.3m2.7 0h1.3m0.7 0h1.3m0.7 0h1.3m1.7 0h1.3m-0.3 0h1.3m-0.3 0h1.3m0.7 0h1.3m2.7 0h1.3m2.7 0h1.3m-0.3 0h1.3m8.7 0h1.3m-105.3 1h1.3m-0.3 0h1.3m1.7 0h1.3m3.7 0h1.3m-0.3 0h1.3m1.7 0h1.3m1.7 0h1.3m-0.3 0h1.3m-0.3 0h1.3m3.7 0h1.3m1.7 0h1.3m0.7 0h1.3m-0.3 0h1.3m-0.3 0h1.3m8.7 0h1.3m1.7 0h1.3m3.7 0h1.3m1.7 0h1.3m-0.3 0h1.3m-0.3 0h1.3m-0.3 0h1.3m0.7 0h1.3m-0.3 0h1.3m-0.3 0h1.3m4.7 0h1.3m4.7 0h1.3m0.7 0h1.3m-0.3 0h1.3m-0.3 0h1.3m1.7 0h1.3m-0.3 0h1.3m-0.3 0h1.3m0.7 0h1.3m-0.3 0h1.3m-0.3 0h1.3m-0.3 0h1.3m0.7 0h1.3m8.7 0h1.3m-0.3 0h1.3m-0.3 0h1.3m7.7 0h1.3m-105.3 1h1.3m3.7 0h1.3m-0.3 0h1.3m0.7 0h1.3m2.7 0h1.3m-0.3 0h1.3m-0.3 0h1.3m-0.3 0h1.3m1.7 0h1.3m-0.3 0h1.3m1.7 0h1.3m-0.3 0h1.3m-0.3 0h1.3m0.7 0h1.3m2.7 0h1.3m0.7 0h1.3m-0.3 0h1.3m3.7 0h1.3m3.7 0h1.3m1.7 0h1.3m-0.3 0h1.3m4.7 0h1.3m-0.3 0h1.3m6.7 0h1.3m-0.3 0h1.3m0.7 0h1.3m-0.3 0h1.3m0.7 0h1.3m1.7 0h1.3m0.7 0h1.3m5.7 0h1.3m0.7 0h1.3m12.7 0h1.3m-94.3 1h1.3m3.7 0h1.3m1.7 0h1.3m-0.3 0h1.3m2.7 0h1.3m3.7 0h1.3m2.7 0h1.3m0.7 0h1.3m0.7 0h1.3m0.7 0h1.3m-0.3 0h1.3m-0.3 0h1.3m-0.3 0h1.3m-0.3 0h1.3m0.7 0h1.3m0.7 0h1.3m0.7 0h1.3m1.7 0h1.3m0.7 0h1.3m3.7 0h1.3m-0.3 0h1.3m0.7 0h1.3m4.7 0h1.3m-0.3 0h1.3m-0.3 0h1.3m1.7 0h1.3m-0.3 0h1.3m0.7 0h1.3m-0.3 0h1.3m2.7 0h1.3m1.7 0h1.3m-0.3 0h1.3m2.7 0h1.3m-0.3 0h1.3m12.7 0h1.3m6.7 0h1.3m-107.3 1h1.3m-0.3 0h1.3m0.7 0h1.3m2.7 0h1.3m-0.3 0h1.3m0.7 0h1.3m3.7 0h1.3m-0.3 0h1.3m-0.3 0h1.3m0.7 0h1.3m0.7 0h1.3m-0.3 0h1.3m0.7 0h1.3m0.7 0h1.3m-0.3 0h1.3m0.7 0h1.3m0.7 0h1.3m1.7 0h1.3m2.7 0h1.3m1.7 0h1.3m3.7 0h1.3m1.7 0h1.3m10.7 0h1.3m0.7 0h1.3m0.7 0h1.3m-0.3 0h1.3m1.7 0h1.3m-0.3 0h1.3m0.7 0h1.3m2.7 0h1.3m0.7 0h1.3m0.7 0h1.3m-0.3 0h1.3m11.7 0h1.3m2.7 0h1.3m5.7 0h1.3m-107.3 1h1.3m-0.3 0h1.3m-0.3 0h1.3m-0.3 0h1.3m-0.3 0h1.3m0.7 0h1.3m2.7 0h1.3m-0.3 0h1.3m3.7 0h1.3m8.7 0h1.3m-0.3 0h1.3m0.7 0h1.3m-0.3 0h1.3m-0.3 0h1.3m0.7 0h1.3m0.7 0h1.3m-0.3 0h1.3m-0.3 0h1.3m1.7 0h1.3m1.7 0h1.3m2.7 0h1.3m0.7 0h1.3m1.7 0h1.3m-0.3 0h1.3m0.7 0h1.3m2.7 0h1.3m3.7 0h1.3m0.7 0h1.3m2.7 0h1.3m-0.3 0h1.3m-0.3 0h1.3m0.7 0h1.3m2.7 0h1.3m1.7 0h1.3m1.7 0h1.3m-0.3 0h1.3m0.7 0h1.3m7.7 0h1.3m-96.3 1h1.3m-0.3 0h1.3m3.7 0h1.3m-0.3 0h1.3m-0.3 0h1.3m-0.3 0h1.3m5.7 0h1.3m0.7 0h1.3m2.7 0h1.3m-0.3 0h1.3m-0.3 0h1.3m0.7 0h1.3m4.7 0h1.3m0.7 0h1.3m7.7 0h1.3m5.7 0h1.3m2.7 0h1.3m4.7 0h1.3m1.7 0h1.3m1.7 0h1.3m0.7 0h1.3m-0.3 0h1.3m1.7 0h1.3m-0.3 0h1.3m1.7 0h1.3m-0.3 0h1.3m-0.3 0h1.3m0.7 0h1.3m-0.3 0h1.3m0.7 0h1.3m-0.3 0h1.3m-0.3 0h1.3m3.7 0h1.3m1.7 0h1.3m4.7 0h1.3m-101.3 1h1.3m1.7 0h1.3m-0.3 0h1.3m4.7 0h1.3m-0.3 0h1.3m5.7 0h1.3m0.7 0h1.3m2.7 0h1.3m-0.3 0h1.3m0.7 0h1.3m2.7 0h1.3m1.7 0h1.3m1.7 0h1.3m-0.3 0h1.3m0.7 0h1.3m0.7 0h1.3m-0.3 0h1.3m-0.3 0h1.3m-0.3 0h1.3m15.7 0h1.3m0.7 0h1.3m6.7 0h1.3m2.7 0h1.3m0.7 0h1.3m-0.3 0h1.3m2.7 0h1.3m2.7 0h1.3m1.7 0h1.3m2.7 0h1.3m33.7 0h1.3m-130.3 1h1.3m-0.3 0h1.3m-0.3 0h1.3m-0.3 0h1.3m-0.3 0h1.3m-0.3 0h1.3m2.7 0h1.3m0.7 0h1.3m0.7 0h1.3m1.7 0h1.3m-0.3 0h1.3m0.7 0h1.3m3.7 0h1.3m0.7 0h1.3m1.7 0h1.3m1.7 0h1.3m0.7 0h1.3m4.7 0h1.3m-0.3 0h1.3m1.7 0h1.3m3.7 0h1.3m-0.3 0h1.3m2.7 0h1.3m-0.3 0h1.3m0.7 0h1.3m5.7 0h1.3m0.7 0h1.3m-0.3 0h1.3m-0.3 0h1.3m10.7 0h1.3m-0.3 0h1.3m0.7 0h1.3m2.7 0h1.3m-0.3 0h1.3m-0.3 0h1.3m-0.3 0h1.3m-0.3 0h1.3m-92.3 1h1.3m0.7 0h1.3m0.7 0h1.3m0.7 0h1.3m0.7 0h1.3m2.7 0h1.3m-0.3 0h1.3m0.7 0h1.3m0.7 0h1.3m-0.3 0h1.3m4.7 0h1.3m2.7 0h1.3m0.7 0h1.3m1.7 0h1.3m-0.3 0h1.3m0.7 0h1.3m5.7 0h1.3m0.7 0h1.3m0.7 0h1.3m0.7 0h1.3m5.7 0h1.3m21.7 0h1.3m-0.3 0h1.3m6.7 0h1.3m-0.3 0h1.3m1.7 0h1.3m-0.3 0h1.3m-0.3 0h1.3m3.7 0h1.3m3.7 0h1.3m-103.3 1h1.3m0.7 0h1.3m0.7 0h1.3m-0.3 0h1.3m-0.3 0h1.3m0.7 0h1.3m1.7 0h1.3m-0.3 0h1.3m-0.3 0h1.3m-0.3 0h1.3m1.7 0h1.3m1.7 0h1.3m-0.3 0h1.3m1.7 0h1.3m0.7 0h1.3m-0.3 0h1.3m4.7 0h1.3m-0.3 0h1.3m-0.3 0h1.3m0.7 0h1.3m3.7 0h1.3m-0.3 0h1.3m-0.3 0h1.3m-0.3 0h1.3m0.7 0h1.3m-0.3 0h1.3m1.7 0h1.3m-0.3 0h1.3m0.7 0h1.3m-0.3 0h1.3m5.7 0h1.3m0.7 0h1.3m0.7 0h1.3m0.7 0h1.3m-0.3 0h1.3m0.7 0h1.3m0.7 0h1.3m1.7 0h1.3m1.7 0h1.3m4.7 0h1.3m1.7 0h1.3m-0.3 0h1.3m1.7 0h1.3m-95.3 1h1.3m-0.3 0h1.3m-0.3 0h1.3m-0.3 0h1.3m0.7 0h1.3m-0.3 0h1.3m1.7 0h1.3m1.7 0h1.3m2.7 0h1.3m1.7 0h1.3m1.7 0h1.3m6.7 0h1.3m0.7 0h1.3m3.7 0h1.3m1.7 0h1.3m-0.3 0h1.3m6.7 0h1.3m3.7 0h1.3m0.7 0h1.3m-0.3 0h1.3m0.7 0h1.3m1.7 0h1.3m0.7 0h1.3m0.7 0h1.3m0.7 0h1.3m0.7 0h1.3m-0.3 0h1.3m2.7 0h1.3m0.7 0h1.3m-0.3 0h1.3m0.7 0h1.3m5.7 0h1.3m-0.3 0h1.3m3.7 0h1.3m8.7 0h1.3m5.7 0h1.3m-109.3 1h1.3m-0.3 0h1.3m1.7 0h1.3m0.7 0h1.3m-0.3 0h1.3m0.7 0h1.3m-0.3 0h1.3m-0.3 0h1.3m6.7 0h1.3m-0.3 0h1.3m3.7 0h1.3m3.7 0h1.3m-0.3 0h1.3m6.7 0h1.3m3.7 0h1.3m6.7 0h1.3m2.7 0h1.3m1.7 0h1.3m0.7 0h1.3m-0.3 0h1.3m2.7 0h1.3m2.7 0h1.3m-0.3 0h1.3m-0.3 0h1.3m0.7 0h1.3m0.7 0h1.3m0.7 0h1.3m-0.3 0h1.3m-0.3 0h1.3m-0.3 0h1.3m3.7 0h1.3m-0.3 0h1.3m2.7 0h1.3m-93.3 1h1.3m3.7 0h1.3m0.7 0h1.3m5.7 0h1.3m-0.3 0h1.3m1.7 0h1.3m-0.3 0h1.3m0.7 0h1.3m0.7 0h1.3m-0.3 0h1.3m0.7 0h1.3m-0.3 0h1.3m-0.3 0h1.3m-0.3 0h1.3m-0.3 0h1.3m-0.3 0h1.3m1.7 0h1.3m-0.3 0h1.3m1.7 0h1.3m-0.3 0h1.3m0.7 0h1.3m0.7 0h1.3m1.7 0h1.3m5.7 0h1.3m0.7 0h1.3m2.7 0h1.3m0.7 0h1.3m1.7 0h1.3m-0.3 0h1.3m-0.3 0h1.3m0.7 0h1.3m1.7 0h1.3m0.7 0h1.3m6.7 0h1.3m3.7 0h1.3m-0.3 0h1.3m0.7 0h1.3m-0.3 0h1.3m-91.3 1h1.3m-0.3 0h1.3m-0.3 0h1.3m0.7 0h1.3m1.7 0h1.3m2.7 0h1.3m4.7 0h1.3m-0.3 0h1.3m6.7 0h1.3m-0.3 0h1.3m2.7 0h1.3m4.7 0h1.3m1.7 0h1.3m-0.3 0h1.3m1.7 0h1.3m1.7 0h1.3m1.7 0h1.3m1.7 0h1.3m-0.3 0h1.3m1.7 0h1.3m-0.3 0h1.3m-0.3 0h1.3m0.7 0h1.3m-0.3 0h1.3m1.7 0h1.3m5.7 0h1.3m-0.3 0h1.3m-0.3 0h1.3m4.7 0h1.3m1.7 0h1.3m1.7 0h1.3m3.7 0h1.3m-0.3 0h1.3m11.7 0h1.3m-107.3 1h1.3m0.7 0h1.3m-0.3 0h1.3m0.7 0h1.3m-0.3 0h1.3m1.7 0h1.3m0.7 0h1.3m-0.3 0h1.3m2.7 0h1.3m3.7 0h1.3m1.7 0h1.3m0.7 0h1.3m-0.3 0h1.3m-0.3 0h1.3m0.7 0h1.3m0.7 0h1.3m0.7 0h1.3m-0.3 0h1.3m-0.3 0h1.3m3.7 0h1.3m15.7 0h1.3m0.7 0h1.3m-0.3 0h1.3m-0.3 0h1.3m0.7 0h1.3m-0.3 0h1.3m0.7 0h1.3m1.7 0h1.3m0.7 0h1.3m1.7 0h1.3m0.7 0h1.3m0.7 0h1.3m0.7 0h1.3m3.7 0h1.3m6.7 0h1.3m1.7 0h1.3m10.7 0h1.3m-110.3 1h1.3m-0.3 0h1.3m-0.3 0h1.3m-0.3 0h1.3m-0.3 0h1.3m-0.3 0h1.3m-0.3 0h1.3m-0.3 0h1.3m-0.3 0h1.3m-0.3 0h1.3m-0.3 0h1.3m1.7 0h1.3m-0.3 0h1.3m4.7 0h1.3m-0.3 0h1.3m-0.3 0h1.3m0.7 0h1.3m5.7 0h1.3m1.7 0h1.3m1.7 0h1.3m2.7 0h1.3m0.7 0h1.3m2.7 0h1.3m-0.3 0h1.3m1.7 0h1.3m2.7 0h1.3m2.7 0h1.3m0.7 0h1.3m0.7 0h1.3m3.7 0h1.3m6.7 0h1.3m-0.3 0h1.3m1.7 0h1.3m0.7 0h1.3m-0.3 0h1.3m5.7 0h1.3m30.7 0h1.3m-121.3 1h1.3m0.7 0h1.3m0.7 0h1.3m-0.3 0h1.3m0.7 0h1.3m1.7 0h1.3m0.7 0h1.3m-0.3 0h1.3m2.7 0h1.3m-0.3 0h1.3m0.7 0h1.3m0.7 0h1.3m0.7 0h1.3m-0.3 0h1.3m-0.3 0h1.3m4.7 0h1.3m0.7 0h1.3m-0.3 0h1.3m0.7 0h1.3m1.7 0h1.3m-0.3 0h1.3m4.7 0h1.3m2.7 0h1.3m2.7 0h1.3m-0.3 0h1.3m-0.3 0h1.3m1.7 0h1.3m3.7 0h1.3m2.7 0h1.3m0.7 0h1.3m-0.3 0h1.3m3.7 0h1.3m-0.3 0h1.3m-0.3 0h1.3m1.7 0h1.3m-0.3 0h1.3m7.7 0h1.3m-95.3 1h1.3m0.7 0h1.3m-0.3 0h1.3m1.7 0h1.3m0.7 0h1.3m3.7 0h1.3m-0.3 0h1.3m-0.3 0h1.3m2.7 0h1.3m1.7 0h1.3m-0.3 0h1.3m-0.3 0h1.3m4.7 0h1.3m2.7 0h1.3m0.7 0h1.3m-0.3 0h1.3m1.7 0h1.3m2.7 0h1.3m-0.3 0h1.3m1.7 0h1.3m-0.3 0h1.3m0.7 0h1.3m-0.3 0h1.3m-0.3 0h1.3m0.7 0h1.3m0.7 0h1.3m2.7 0h1.3m0.7 0h1.3m0.7 0h1.3m0.7 0h1.3m2.7 0h1.3m-0.3 0h1.3m0.7 0h1.3m0.7 0h1.3m-0.3 0h1.3m-0.3 0h1.3m-0.3 0h1.3m-0.3 0h1.3m-0.3 0h1.3m-0.3 0h1.3m1.7 0h1.3m15.7 0h1.3m-102.3 1h1.3m0.7 0h1.3m0.7 0h1.3m-0.3 0h1.3m1.7 0h1.3m4.7 0h1.3m-0.3 0h1.3m0.7 0h1.3m0.7 0h1.3m2.7 0h1.3m2.7 0h1.3m-0.3 0h1.3m0.7 0h1.3m2.7 0h1.3m-0.3 0h1.3m0.7 0h1.3m1.7 0h1.3m-0.3 0h1.3m0.7 0h1.3m-0.3 0h1.3m0.7 0h1.3m1.7 0h1.3m0.7 0h1.3m0.7 0h1.3m0.7 0h1.3m1.7 0h1.3m0.7 0h1.3m10.7 0h1.3m1.7 0h1.3m-0.3 0h1.3m-0.3 0h1.3m2.7 0h1.3m16.7 0h1.3m-96.3 1h1.3m2.7 0h1.3m5.7 0h1.3m0.7 0h1.3m-0.3 0h1.3m0.7 0h1.3m2.7 0h1.3m0.7 0h1.3m-0.3 0h1.3m-0.3 0h1.3m2.7 0h1.3m-0.3 0h1.3m1.7 0h1.3m-0.3 0h1.3m4.7 0h1.3m0.7 0h1.3m-0.3 0h1.3m0.7 0h1.3m3.7 0h1.3m5.7 0h1.3m2.7 0h1.3m0.7 0h1.3m-0.3 0h1.3m-0.3 0h1.3m-0.3 0h1.3m10.7 0h1.3m0.7 0h1.3m5.7 0h1.3m-92.3 1h1.3m3.7 0h1.3m3.7 0h1.3m2.7 0h1.3m-0.3 0h1.3m-0.3 0h1.3m2.7 0h1.3m2.7 0h1.3m-0.3 0h1.3m-0.3 0h1.3m-0.3 0h1.3m2.7 0h1.3m-0.3 0h1.3m2.7 0h1.3m3.7 0h1.3m-0.3 0h1.3m-0.3 0h1.3m2.7 0h1.3m-0.3 0h1.3m-0.3 0h1.3m0.7 0h1.3m-0.3 0h1.3m3.7 0h1.3m-0.3 0h1.3m0.7 0h1.3m1.7 0h1.3m-0.3 0h1.3m0.7 0h1.3m1.7 0h1.3m2.7 0h1.3m0.7 0h1.3m1.7 0h1.3m1.7 0h1.3m3.7 0h1.3m4.7 0h1.3m-93.3 1h1.3m-0.3 0h1.3m3.7 0h1.3m-0.3 0h1.3m2.7 0h1.3m4.7 0h1.3m1.7 0h1.3m-0.3 0h1.3m1.7 0h1.3m2.7 0h1.3m0.7 0h1.3m-0.3 0h1.3m-0.3 0h1.3m0.7 0h1.3m1.7 0h1.3m-0.3 0h1.3m-0.3 0h1.3m0.7 0h1.3m-0.3 0h1.3m3.7 0h1.3m0.7 0h1.3m8.7 0h1.3m-0.3 0h1.3m2.7 0h1.3m3.7 0h1.3m-0.3 0h1.3m-0.3 0h1.3m-0.3 0h1.3m0.7 0h1.3m-0.3 0h1.3m-0.3 0h1.3m-0.3 0h1.3m2.7 0h1.3m3.7 0h1.3m-0.3 0h1.3m7.7 0h1.3m1.7 0h1.3m0.7 0h1.3m-100.3 1h1.3m-0.3 0h1.3m-0.3 0h1.3m1.7 0h1.3m0.7 0h1.3m0.7 0h1.3m-0.3 0h1.3m1.7 0h1.3m0.7 0h1.3m-0.3 0h1.3m2.7 0h1.3m3.7 0h1.3m-0.3 0h1.3m-0.3 0h1.3m8.7 0h1.3m0.7 0h1.3m-0.3 0h1.3m-0.3 0h1.3m2.7 0h1.3m5.7 0h1.3m0.7 0h1.3m-0.3 0h1.3m0.7 0h1.3m1.7 0h1.3m3.7 0h1.3m0.7 0h1.3m-0.3 0h1.3m1.7 0h1.3m-0.3 0h1.3m-0.3 0h1.3m1.7 0h1.3m1.7 0h1.3m9.7 0h1.3m22.7 0h1.3m-116.3 1h1.3m0.7 0h1.3m0.7 0h1.3m1.7 0h1.3m0.7 0h1.3m-0.3 0h1.3m-0.3 0h1.3m0.7 0h1.3m2.7 0h1.3m9.7 0h1.3m0.7 0h1.3m3.7 0h1.3m1.7 0h1.3m0.7 0h1.3m-0.3 0h1.3m2.7 0h1.3m-0.3 0h1.3m-0.3 0h1.3m-0.3 0h1.3m2.7 0h1.3m0.7 0h1.3m0.7 0h1.3m1.7 0h1.3m0.7 0h1.3m-0.3 0h1.3m-0.3 0h1.3m2.7 0h1.3m-0.3 0h1.3m-0.3 0h1.3m-0.3 0h1.3m-0.3 0h1.3m0.7 0h1.3m4.7 0h1.3m0.7 0h1.3m1.7 0h1.3m2.7 0h1.3m4.7 0h1.3m5.7 0h1.3m4.7 0h1.3m-109.3 1h1.3m0.7 0h1.3m-0.3 0h1.3m-0.3 0h1.3m0.7 0h1.3m-0.3 0h1.3m-0.3 0h1.3m4.7 0h1.3m0.7 0h1.3m3.7 0h1.3m-0.3 0h1.3m-0.3 0h1.3m-0.3 0h1.3m8.7 0h1.3m1.7 0h1.3m-0.3 0h1.3m1.7 0h1.3m-0.3 0h1.3m-0.3 0h1.3m0.7 0h1.3m0.7 0h1.3m1.7 0h1.3m-0.3 0h1.3m2.7 0h1.3m0.7 0h1.3m-0.3 0h1.3m-0.3 0h1.3m-0.3 0h1.3m3.7 0h1.3m2.7 0h1.3m5.7 0h1.3m-0.3 0h1.3m3.7 0h1.3m9.7 0h1.3m9.7 0h1.3m-105.3 1h1.3m-0.3 0h1.3m-0.3 0h1.3m-0.3 0h1.3m-0.3 0h1.3m1.7 0h1.3m-0.3 0h1.3m-0.3 0h1.3m2.7 0h1.3m-0.3 0h1.3m4.7 0h1.3m-0.3 0h1.3m-0.3 0h1.3m4.7 0h1.3m-0.3 0h1.3m1.7 0h1.3m1.7 0h1.3m0.7 0h1.3m7.7 0h1.3m3.7 0h1.3m-0.3 0h1.3m2.7 0h1.3m0.7 0h1.3m2.7 0h1.3m0.7 0h1.3m0.7 0h1.3m0.7 0h1.3m-0.3 0h1.3m-0.3 0h1.3m-0.3 0h1.3m-0.3 0h1.3m1.7 0h1.3m0.7 0h1.3m3.7 0h1.3m35.7 0h1.3m-120.3 1h1.3m-0.3 0h1.3m1.7 0h1.3m1.7 0h1.3m-0.3 0h1.3m6.7 0h1.3m2.7 0h1.3m1.7 0h1.3m2.7 0h1.3m0.7 0h1.3m0.7 0h1.3m2.7 0h1.3m-0.3 0h1.3m-0.3 0h1.3m-0.3 0h1.3m0.7 0h1.3m4.7 0h1.3m2.7 0h1.3m-0.3 0h1.3m-0.3 0h1.3m0.7 0h1.3m1.7 0h1.3m0.7 0h1.3m2.7 0h1.3m-0.3 0h1.3m1.7 0h1.3m1.7 0h1.3m0.7 0h1.3m-0.3 0h1.3m-0.3 0h1.3m0.7 0h1.3m0.7 0h1.3m1.7 0h1.3m2.7 0h1.3m-0.3 0h1.3m-86.3 1h1.3m-0.3 0h1.3m-0.3 0h1.3m1.7 0h1.3m-0.3 0h1.3m-0.3 0h1.3m2.7 0h1.3m1.7 0h1.3m-0.3 0h1.3m2.7 0h1.3m6.7 0h1.3m-0.3 0h1.3m-0.3 0h1.3m-0.3 0h1.3m-0.3 0h1.3m-0.3 0h1.3m-0.3 0h1.3m-0.3 0h1.3m-0.3 0h1.3m2.7 0h1.3m5.7 0h1.3m-0.3 0h1.3m0.7 0h1.3m3.7 0h1.3m-0.3 0h1.3m-0.3 0h1.3m-0.3 0h1.3m-0.3 0h1.3m2.7 0h1.3m0.7 0h1.3m-0.3 0h1.3m-0.3 0h1.3m5.7 0h1.3m1.7 0h1.3m-0.3 0h1.3m6.7 0h1.3m27.7 0h1.3m-116.3 1h1.3m0.7 0h1.3m0.7 0h1.3m0.7 0h1.3m-0.3 0h1.3m4.7 0h1.3m-0.3 0h1.3m-0.3 0h1.3m1.7 0h1.3m3.7 0h1.3m-0.3 0h1.3m-0.3 0h1.3m2.7 0h1.3m-0.3 0h1.3m6.7 0h1.3m1.7 0h1.3m2.7 0h1.3m0.7 0h1.3m-0.3 0h1.3m4.7 0h1.3m2.7 0h1.3m1.7 0h1.3m-0.3 0h1.3m8.7 0h1.3m3.7 0h1.3m0.7 0h1.3m5.7 0h1.3m-0.3 0h1.3m3.7 0h1.3m-92.3 1h1.3m-0.3 0h1.3m1.7 0h1.3m2.7 0h1.3m-0.3 0h1.3m0.7 0h1.3m-0.3 0h1.3m-0.3 0h1.3m-0.3 0h1.3m-0.3 0h1.3m2.7 0h1.3m4.7 0h1.3m-0.3 0h1.3m-0.3 0h1.3m-0.3 0h1.3m-0.3 0h1.3m0.7 0h1.3m-0.3 0h1.3m-0.3 0h1.3m-0.3 0h1.3m-0.3 0h1.3m-0.3 0h1.3m4.7 0h1.3m1.7 0h1.3m2.7 0h1.3m2.7 0h1.3m0.7 0h1.3m6.7 0h1.3m2.7 0h1.3m-0.3 0h1.3m1.7 0h1.3m1.7 0h1.3m1.7 0h1.3m2.7 0h1.3m12.7 0h1.3m-95.3 1h1.3m3.7 0h1.3m-0.3 0h1.3m2.7 0h1.3m2.7 0h1.3m2.7 0h1.3m-0.3 0h1.3m0.7 0h1.3m2.7 0h1.3m1.7 0h1.3m-0.3 0h1.3m-0.3 0h1.3m-0.3 0h1.3m0.7 0h1.3m0.7 0h1.3m0.7 0h1.3m1.7 0h1.3m-0.3 0h1.3m0.7 0h1.3m-0.3 0h1.3m2.7 0h1.3m-0.3 0h1.3m0.7 0h1.3m5.7 0h1.3m0.7 0h1.3m3.7 0h1.3m3.7 0h1.3m3.7 0h1.3m1.7 0h1.3m2.7 0h1.3m-0.3 0h1.3m0.7 0h1.3m8.7 0h1.3m-95.3 1h1.3m-0.3 0h1.3m0.7 0h1.3m-0.3 0h1.3m0.7 0h1.3m0.7 0h1.3m6.7 0h1.3m0.7 0h1.3m0.7 0h1.3m4.7 0h1.3m-0.3 0h1.3m0.7 0h1.3m-0.3 0h1.3m1.7 0h1.3m2.7 0h1.3m0.7 0h1.3m-0.3 0h1.3m-0.3 0h1.3m3.7 0h1.3m0.7 0h1.3m0.7 0h1.3m0.7 0h1.3m0.7 0h1.3m1.7 0h1.3m4.7 0h1.3m5.7 0h1.3m0.7 0h1.3m-0.3 0h1.3m-0.3 0h1.3m5.7 0h1.3m-0.3 0h1.3m0.7 0h1.3m3.7 0h1.3m1.7 0h1.3m2.7 0h1.3m2.7 0h1.3m-104.3 1h1.3m3.7 0h1.3m2.7 0h1.3m1.7 0h1.3m0.7 0h1.3m1.7 0h1.3m7.7 0h1.3m0.7 0h1.3m-0.3 0h1.3m-0.3 0h1.3m-0.3 0h1.3m0.7 0h1.3m0.7 0h1.3m1.7 0h1.3m2.7 0h1.3m2.7 0h1.3m1.7 0h1.3m0.7 0h1.3m0.7 0h1.3m-0.3 0h1.3m-0.3 0h1.3m0.7 0h1.3m0.7 0h1.3m-0.3 0h1.3m2.7 0h1.3m-0.3 0h1.3m2.7 0h1.3m1.7 0h1.3m0.7 0h1.3m2.7 0h1.3m-0.3 0h1.3m10.7 0h1.3m35.7 0h1.3m-129.3 1h1.3m0.7 0h1.3m2.7 0h1.3m1.7 0h1.3m0.7 0h1.3m-0.3 0h1.3m11.7 0h1.3m3.7 0h1.3m-0.3 0h1.3m0.7 0h1.3m2.7 0h1.3m5.7 0h1.3m1.7 0h1.3m-0.3 0h1.3m-0.3 0h1.3m0.7 0h1.3m1.7 0h1.3m0.7 0h1.3m0.7 0h1.3m0.7 0h1.3m3.7 0h1.3m0.7 0h1.3m3.7 0h1.3m-0.3 0h1.3m0.7 0h1.3m2.7 0h1.3m12.7 0h1.3m-94.3 1h1.3m0.7 0h1.3m1.7 0h1.3m-0.3 0h1.3m3.7 0h1.3m13.7 0h1.3m4.7 0h1.3m2.7 0h1.3m-0.3 0h1.3m2.7 0h1.3m7.7 0h1.3m-0.3 0h1.3m1.7 0h1.3m0.7 0h1.3m1.7 0h1.3m0.7 0h1.3m0.7 0h1.3m0.7 0h1.3m6.7 0h1.3m-0.3 0h1.3m0.7 0h1.3m0.7 0h1.3m2.7 0h1.3m15.7 0h1.3m-99.3 1h1.3m5.7 0h1.3m0.7 0h1.3m1.7 0h1.3m2.7 0h1.3m-0.3 0h1.3m-0.3 0h1.3m2.7 0h1.3m-0.3 0h1.3m-0.3 0h1.3m3.7 0h1.3m-0.3 0h1.3m-0.3 0h1.3m-0.3 0h1.3m1.7 0h1.3m6.7 0h1.3m0.7 0h1.3m-0.3 0h1.3m0.7 0h1.3m-0.3 0h1.3m-0.3 0h1.3m-0.3 0h1.3m2.7 0h1.3m0.7 0h1.3m7.7 0h1.3m4.7 0h1.3m3.7 0h1.3m0.7 0h1.3m2.7 0h1.3m2.7 0h1.3m-0.3 0h1.3m-88.3 1h1.3m2.7 0h1.3m-0.3 0h1.3m-0.3 0h1.3m6.7 0h1.3m-0.3 0h1.3m0.7 0h1.3m0.7 0h1.3m4.7 0h1.3m-0.3 0h1.3m0.7 0h1.3m1.7 0h1.3m5.7 0h1.3m0.7 0h1.3m1.7 0h1.3m-0.3 0h1.3m0.7 0h1.3m0.7 0h1.3m3.7 0h1.3m-0.3 0h1.3m2.7 0h1.3m1.7 0h1.3m4.7 0h1.3m2.7 0h1.3m4.7 0h1.3m0.7 0h1.3m2.7 0h1.3m-86.3 1h1.3m0.7 0h1.3m1.7 0h1.3m-0.3 0h1.3m4.7 0h1.3m1.7 0h1.3m1.7 0h1.3m3.7 0h1.3m2.7 0h1.3m2.7 0h1.3m2.7 0h1.3m3.7 0h1.3m-0.3 0h1.3m1.7 0h1.3m-0.3 0h1.3m-0.3 0h1.3m2.7 0h1.3m3.7 0h1.3m2.7 0h1.3m-0.3 0h1.3m-0.3 0h1.3m-0.3 0h1.3m10.7 0h1.3m7.7 0h1.3m6.7 0h1.3m-91.3 1h1.3m0.7 0h1.3m-0.3 0h1.3m-0.3 0h1.3m-0.3 0h1.3m-0.3 0h1.3m-0.3 0h1.3m0.7 0h1.3m11.7 0h1.3m1.7 0h1.3m5.7 0h1.3m10.7 0h1.3m0.7 0h1.3m1.7 0h1.3m0.7 0h1.3m0.7 0h1.3m4.7 0h1.3m2.7 0h1.3m7.7 0h1.3m-68.3 1h1.3m-0.3 0h1.3m0.7 0h1.3m10.7 0h1.3m-0.3 0h1.3m0.7 0h1.3m14.7 0h1.3m0.7 0h1.3m8.7 0h1.3m0.7 0h1.3m-0.3 0h1.3m0.7 0h1.3m1.7 0h1.3m5.7 0h1.3m2.7 0h1.3m-0.3 0h1.3m17.7 0h1.3m12.7 0h1.3m-106.3 1h1.3m-0.3 0h1.3m3.7 0h1.3m9.7 0h1.3m1.7 0h1.3m-0.3 0h1.3m1.7 0h1.3m-0.3 0h1.3m0.7 0h1.3m3.7 0h1.3m0.7 0h1.3m1.7 0h1.3m11.7 0h1.3m4.7 0h1.3m-0.3 0h1.3m-0.3 0h1.3m4.7 0h1.3m4.7 0h1.3m-0.3 0h1.3m15.7 0h1.3m7.7 0h1.3m-97.3 1h1.3m-0.3 0h1.3m3.7 0h1.3m3.7 0h1.3m0.7 0h1.3m4.7 0h1.3m0.7 0h1.3m0.7 0h1.3m16.7 0h1.3m0.7 0h1.3m0.7 0h1.3m0.7 0h1.3m0.7 0h1.3m-0.3 0h1.3m8.7 0h1.3m-0.3 0h1.3m0.7 0h1.3m-0.3 0h1.3m-0.3 0h1.3m-0.3 0h1.3m2.7 0h1.3m-0.3 0h1.3m-0.3 0h1.3m8.7 0h1.3m12.7 0h1.3m0.7 0h1.3m-66.3 1h1.3m0.7 0h1.3m4.7 0h1.3m1.7 0h1.3m1.7 0h1.3m0.7 0h1.3m5.7 0h1.3m1.7 0h1.3m0.7 0h1.3m0.7 0h1.3m1.7 0h1.3m8.7 0h1.3m1.7 0h1.3m1.7 0h1.3m7.7 0h1.3m-90.3 1h1.3m-0.3 0h1.3m29.7 0h1.3m-0.3 0h1.3m0.7 0h1.3m1.7 0h1.3m-0.3 0h1.3m-0.3 0h1.3m-0.3 0h1.3m0.7 0h1.3m-0.3 0h1.3m-0.3 0h1.3m-0.3 0h1.3m0.7 0h1.3m4.7 0h1.3m0.7 0h1.3m2.7 0h1.3m-0.3 0h1.3m0.7 0h1.3m4.7 0h1.3m1.7 0h1.3m4.7 0h1.3m11.7 0h1.3m-0.3 0h1.3m1.7 0h1.3m-99.3 1h1.3m-0.3 0h1.3m0.7 0h1.3m-0.3 0h1.3m-0.3 0h1.3m-0.3 0h1.3m-0.3 0h1.3m-0.3 0h1.3m-0.3 0h1.3m-0.3 0h1.3m-0.3 0h1.3m-0.3 0h1.3m-0.3 0h1.3m-0.3 0h1.3m-0.3 0h1.3m-0.3 0h1.3m-0.3 0h1.3m-0.3 0h1.3m-0.3 0h1.3m-0.3 0h1.3m-0.3 0h1.3m0.7 0h1.3m0.7 0h1.3m-0.3 0h1.3m-0.3 0h1.3m0.7 0h1.3m-0.3 0h1.3m-0.3 0h1.3m-0.3 0h1.3m-0.3 0h1.3m-0.3 0h1.3m-0.3 0h1.3m-0.3 0h1.3m-0.3 0h1.3m0.7 0h1.3m-0.3 0h1.3m-0.3 0h1.3m-0.3 0h1.3m-0.3 0h1.3m-0.3 0h1.3m-0.3 0h1.3m-0.3 0h1.3m0.7 0h1.3m-0.3 0h1.3m-0.3 0h1.3m-0.3 0h1.3m-0.3 0h1.3m-0.3 0h1.3m-0.3 0h1.3m-0.3 0h1.3m-0.3 0h1.3m-0.3 0h1.3m-0.3 0h1.3m-0.3 0h1.3m-0.3 0h1.3m-0.3 0h1.3m-0.3 0h1.3m-0.3 0h1.3m-0.3 0h1.3m-0.3 0h1.3m-0.3 0h1.3m-0.3 0h1.3m-0.3 0h1.3m0.7 0h1.3m-0.3 0h1.3m-0.3 0h1.3m-0.3 0h1.3m-0.3 0h1.3m-0.3 0h1.3m-0.3 0h1.3m0.7 0h1.3m-0.3 0h1.3m0.7 0h1.3m-0.3 0h1.3m-0.3 0h1.3m1.7 0h1.3m4.7 0h1.3m8.7 0h1.3m2.7 0h1.3m-0.3 0h1.3" stroke="#0000ff" stroke-width="1.3" fill="none"/>
<path d="M755 1711h1.3m-11.3 4h1.3m-17.3 4h1.3m18.7 0h1.3m-9.3 3h1.3m3.7 1h1.3m-22.3 1h1.3m20.7 1h1.3m-2.3 1h1.3m-0.3 0h1.3m3.7 0h1.3m-18.3 1h1.3m2.7 0h1.3m4.7 0h1.3m-12.3 1h1.3m-0.3 0h1.3m4.7 0h1.3m8.7 0h1.3m-29.3 1h1.3m0.7 0h1.3m1.7 0h1.3m-0.3 0h1.3m0.7 0h1.3m10.7 0h1.3m-19.3 1h1.3m10.7 0h1.3m0.7 0h1.3m3.7 0h1.3m-0.3 0h1.3m5.7 0h1.3m-27.3 1h1.3m2.7 0h1.3m3.7 0h1.3m-0.3 0h1.3m0.7 0h1.3m-0.3 0h1.3m1.7 0h1.3m3.7 0h1.3m5.7 0h1.3m7.7 0h1.3m4.7 0h1.3m-50.3 1h1.3m-0.3 0h1.3m10.7 0h1.3m1.7 0h1.3m0.7 0h1.3m1.7 0h1.3m10.7 0h1.3m0.7 0h1.3m-30.3 1h1.3m4.7 0h1.3m6.7 0h1.3m12.7 0h1.3m-0.3 0h1.3m-23.3 1h1.3m0.7 0h1.3m1.7 0h1.3m2.7 0h1.3m5.7 0h1.3m3.7 0h1.3m-47.3 1h1.3m19.7 0h1.3m4.7 0h1.3m6.7 0h1.3m2.7 0h1.3m4.7 0h1.3m-0.3 0h1.3m2.7 0h1.3m6.7 0h1.3m-26.3 1h1.3m1.7 0h1.3m2.7 0h1.3m1.7 0h1.3m0.7 0h1.3m3.7 0h1.3m-0.3 0h1.3m1.7 0h1.3m-48.3 1h1.3m13.7 0h1.3m0.7 0h1.3m0.7 0h1.3m4.7 0h1.3m1.7 0h1.3m2.7 0h1.3m0.7 0h1.3m4.7 0h1.3m0.7 0h1.3m-0.3 0h1.3m-0.3 0h1.3m-0.3 0h1.3m-60.3 1h1.3m28.7 0h1.3m1.7 0h1.3m0.7 0h1.3m-0.3 0h1.3m-0.3 0h1.3m0.7 0h1.3m-0.3 0h1.3m3.7 0h1.3m-0.3 0h1.3m-0.3 0h1.3m-0.3 0h1.3m-0.3 0h1.3m1.7 0h1.3m1.7 0h1.3m-33.3 1h1.3m2.7 0h1.3m2.7 0h1.3m0.7 0h1.3m0.7 0h1.3m-0.3 0h1.3m-0.3 0h1.3m2.7 0h1.3m3.7 0h1.3m0.7 0h1.3m0.7 0h1.3m-0.3 0h1.3m-0.3 0h1.3m1.7 0h1.3m2.7 0h1.3m12.7 0h1.3m-53.3 1h1.3m2.7 0h1.3m3.7 0h1.3m1.7 0h1.3m-0.3 0h1.3m-0.3 0h1.3m1.7 0h1.3m4.7 0h1.3m18.7 0h1.3m1.7 0h1.3m-38.3 1h1.3m1.7 0h1.3m-0.3 0h1.3m7.7 0h1.3m8.7 0h1.3m1.7 0h1.3m-0.3 0h1.3m-0.3 0h1.3m3.7 0h1.3m2.7 0h1.3m-68.3 1h1.3m23.7 0h1.3m7.7 0h1.3m-0.3 0h1.3m0.7 0h1.3m1.7 0h1.3m6.7 0h1.3m0.7 0h1.3m-0.3 0h1.3m0.7 0h1.3m2.7 0h1.3m0.7 0h1.3m0.7 0h1.3m-68.3 1h1.3m0.7 0h1.3m27.7 0h1.3m1.7 0h1.3m-0.3 0h1.3m1.7 0h1.3m-0.3 0h1.3m-0.3 0h1.3m1.7 0h1.3m0.7 0h1.3m2.7 0h1.3m-0.3 0h1.3m0.7 0h1.3m6.7 0h1.3m2.7 0h1.3m-59.3 1h1.3m1.7 0h1.3m13.7 0h1.3m5.7 0h1.3m0.7 0h1.3m0.7 0h1.3m0.7 0h1.3m0.7 0h1.3m6.7 0h1.3m5.7 0h1.3m11.7 0h1.3m-60.3 1h1.3m3.7 0h1.3m0.7 0h1.3m17.7 0h1.3m-0.3 0h1.3m5.7 0h1.3m19.7 0h1.3m-0.3 0h1.3m1.7 0h1.3m-65.3 1h1.3m0.7 0h1.3m2.7 0h1.3m7.7 0h1.3m-0.3 0h1.3m8.7 0h1.3m3.7 0h1.3m1.7 0h1.3m-0.3 0h1.3m9.7 0h1.3m1.7 0h1.3m3.7 0h1.3m1.7 0h1.3m2.7 0h1.3m2.7 0h1.3m-57.3 1h1.3m11.7 0h1.3m4.7 0h1.3m1.7 0h1.3m-0.3 0h1.3m-0.3 0h1.3m-0.3 0h1.3m-0.3 0h1.3m1.7 0h1.3m4.7 0h1.3m1.7 0h1.3m10.7 0h1.3m0.7 0h1.3m0.7 0h1.3m-0.3 0h1.3m-0.3 0h1.3m0.7 0h1.3m3.7 0h1.3m-51.3 1h1.3m2.7 0h1.3m7.7 0h1.3m-0.3 0h1.3m1.7 0h1.3m5.7 0h1.3m8.7 0h1.3m-0.3 0h1.3m-0.3 0h1.3m0.7 0h1.3m0.7 0h1.3m0.7 0h1.3m-0.3 0h1.3m1.7 0h1.3m4.7 0h1.3m-56.3 1h1.3m1.7 0h1.3m-0.3 0h1.3m2.7 0h1.3m-0.3 0h1.3m-0.3 0h1.3m1.7 0h1.3m-0.3 0h1.3m0.7 0h1.3m0.7 0h1.3m1.7 0h1.3m0.7 0h1.3m17.7 0h1.3m0.7 0h1.3m-61.3 1h1.3m6.7 0h1.3m9.7 0h1.3m5.7 0h1.3m2.7 0h1.3m0.7 0h1.3m18.7 0h1.3m9.7 0h1.3m1.7 0h1.3m-0.3 0h1.3m-70.3 1h1.3m1.7 0h1.3m10.7 0h1.3m-0.3 0h1.3m6.7 0h1.3m-0.3 0h1.3m-0.3 0h1.3m9.7 0h1.3m3.7 0h1.3m18.7 0h1.3m4.7 0h1.3m5.7 0h1.3m-79.3 1h1.3m1.7 0h1.3m11.7 0h1.3m3.7 0h1.3m1.7 0h1.3m-0.3 0h1.3m-0.3 0h1.3m6.7 0h1.3m1.7 0h1.3m25.7 0h1.3m-0.3 0h1.3m0.7 0h1.3m-69.3 1h1.3m1.7 0h1.3m5.7 0h1.3m0.7 0h1.3m0.7 0h1.3m10.7 0h1.3m-0.3 0h1.3m-0.3 0h1.3m-0.3 0h1.3m6.7 0h1.3m2.7 0h1.3m19.7 0h1.3m-0.3 0h1.3m2.7 0h1.3m-0.3 0h1.3m-0.3 0h1.3m-56.3 1h1.3m-0.3 0h1.3m5.7 0h1.3m1.7 0h1.3m0.7 0h1.3m4.7 0h1.3m2.7 0h1.3m20.7 0h1.3m6.7 0h1.3m1.7 0h1.3m3.7 0h1.3m-0.3 0h1.3m-73.3 1h1.3m0.7 0h1.3m1.7 0h1.3m1.7 0h1.3m7.7 0h1.3m1.7 0h1.3m0.7 0h1.3m1.7 0h1.3m0.7 0h1.3m2.7 0h1.3m29.7 0h1.3m-0.3 0h1.3m3.7 0h1.3m1.7 0h1.3m2.7 0h1.3m2.7 0h1.3m-76.3 1h1.3m11.7 0h1.3m1.7 0h1.3m0.7 0h1.3m-0.3 0h1.3m-0.3 0h1.3m-0.3 0h1.3m0.7 0h1.3m0.7 0h1.3m31.7 0h1.3m0.7 0h1.3m-0.3 0h1.3m-67.3 1h1.3m8.7 0h1.3m0.7 0h1.3m2.7 0h1.3m-0.3 0h1.3m3.7 0h1.3m-0.3 0h1.3m-0.3 0h1.3m2.7 0h1.3m30.7 0h1.3m0.7 0h1.3m6.7 0h1.3m0.7 0h1.3m-0.3 0h1.3m1.7 0h1.3m1.7 0h1.3m-64.3 1h1.3m4.7 0h1.3m0.7 0h1.3m-0.3 0h1.3m-0.3 0h1.3m0.7 0h1.3m-0.3 0h1.3m37.7 0h1.3m1.7 0h1.3m3.7 0h1.3m-73.3 1h1.3m11.7 0h1.3m1.7 0h1.3m2.7 0h1.3m-0.3 0h1.3m40.7 0h1.3m-0.3 0h1.3m3.7 0h1.3m2.7 0h1.3m-75.3 1h1.3m0.7 0h1.3m-0.3 0h1.3m0.7 0h1.3m3.7 0h1.3m2.7 0h1.3m0.7 0h1.3m0.7 0h1.3m-0.3 0h1.3m1.7 0h1.3m1.7 0h1.3m36.7 0h1.3m1.7 0h1.3m-0.3 0h1.3m0.7 0h1.3m-0.3 0h1.3m-77.3 1h1.3m2.7 0h1.3m8.7 0h1.3m-0.3 0h1.3m-0.3 0h1.3m0.7 0h1.3m1.7 0h1.3m-0.3 0h1.3m7.7 0h1.3m35.7 0h1.3m2.7 0h1.3m1.7 0h1.3m-0.3 0h1.3m-76.3 1h1.3m0.7 0h1.3m6.7 0h1.3m-0.3 0h1.3m14.7 0h1.3m47.7 0h1.3m0.7 0h1.3m-75.3 1h1.3m3.7 0h1.3m-0.3 0h1.3m5.7 0h1.3m1.7 0h1.3m1.7 0h1.3m0.7 0h1.3m43.7 0h1.3m0.7 0h1.3m-0.3 0h1.3m-0.3 0h1.3m1.7 0h1.3m-77.3 1h1.3m-0.3 0h1.3m-0.3 0h1.3m0.7 0h1.3m-0.3 0h1.3m3.7 0h1.3m-0.3 0h1.3m4.7 0h1.3m2.7 0h1.3m-0.3 0h1.3m44.7 0h1.3m1.7 0h1.3m1.7 0h1.3m-70.3 1h1.3m0.7 0h1.3m3.7 0h1.3m-0.3 0h1.3m5.7 0h1.3m-0.3 0h1.3m0.7 0h1.3m1.7 0h1.3m44.7 0h1.3m0.7 0h1.3m-0.3 0h1.3m-78.3 1h1.3m2.7 0h1.3m0.7 0h1.3m0.7 0h1.3m7.7 0h1.3m-0.3 0h1.3m0.7 0h1.3m4.7 0h1.3m-19.3 1h1.3m-0.3 0h1.3m1.7 0h1.3m-0.3 0h1.3m1.7 0h1.3m-0.3 0h1.3m-0.3 0h1.3m-0.3 0h1.3m50.7 0h1.3m3.7 0h1.3m-0.3 0h1.3m-0.3 0h1.3m3.7 0h1.3m-83.3 1h1.3m-0.3 0h1.3m7.7 0h1.3m7.7 0h1.3m5.7 0h1.3m42.7 0h1.3m-0.3 0h1.3m-0.3 0h1.3m0.7 0h1.3m-65.3 1h1.3m9.7 0h1.3m0.7 0h1.3m0.7 0h1.3m39.7 0h1.3m4.7 0h1.3m-0.3 0h1.3m0.7 0h1.3m1.7 0h1.3m-0.3 0h1.3m-82.3 1h1.3m0.7 0h1.3m0.7 0h1.3m0.7 0h1.3m-0.3 0h1.3m-0.3 0h1.3m-0.3 0h1.3m0.7 0h1.3m0.7 0h1.3m-0.3 0h1.3m5.7 0h1.3m5.7 0h1.3m45.7 0h1.3m2.7 0h1.3m-73.3 1h1.3m-0.3 0h1.3m0.7 0h1.3m-0.3 0h1.3m-0.3 0h1.3m2.7 0h1.3m0.7 0h1.3m-0.3 0h1.3m54.7 0h1.3m-0.3 0h1.3m8.7 0h1.3m-83.3 1h1.3m1.7 0h1.3m-0.3 0h1.3m3.7 0h1.3m1.7 0h1.3m-0.3 0h1.3m-0.3 0h1.3m52.7 0h1.3m-0.3 0h1.3m3.7 0h1.3m0.7 0h1.3m-0.3 0h1.3m-78.3 1h1.3m-0.3 0h1.3m3.7 0h1.3m0.7 0h1.3m6.7 0h1.3m-0.3 0h1.3m0.7 0h1.3m-0.3 0h1.3m46.7 0h1.3m0.7 0h1.3m0.7 0h1.3m-74.3 1h1.3m-0.3 0h1.3m-0.3 0h1.3m0.7 0h1.3m0.7 0h1.3m0.7 0h1.3m6.7 0h1.3m0.7 0h1.3m4.7 0h1.3m-0.3 0h1.3m38.7 0h1.3m6.7 0h1.3m0.7 0h1.3m0.7 0h1.3m-0.3 0h1.3m-0.3 0h1.3m-79.3 1h1.3m0.7 0h1.3m-0.3 0h1.3m1.7 0h1.3m0.7 0h1.3m0.7 0h1.3m-0.3 0h1.3m4.7 0h1.3m-0.3 0h1.3m5.7 0h1.3m41.7 0h1.3m5.7 0h1.3m5.7 0h1.3m-87.3 1h1.3m7.7 0h1.3m-0.3 0h1.3m1.7 0h1.3m-0.3 0h1.3m4.7 0h1.3m-0.3 0h1.3m7.7 0h1.3m2.7 0h1.3m38.7 0h1.3m3.7 0h1.3m-76.3 1h1.3m-0.3 0h1.3m-0.3 0h1.3m0.7 0h1.3m3.7 0h1.3m1.7 0h1.3m-0.3 0h1.3m51.7 0h1.3m-0.3 0h1.3m-0.3 0h1.3m-0.3 0h1.3m5.7 0h1.3m-82.3 1h1.3m0.7 0h1.3m2.7 0h1.3m4.7 0h1.3m7.7 0h1.3m-0.3 0h1.3m-0.3 0h1.3m55.7 0h1.3m-0.3 0h1.3m-77.3 1h1.3m-0.3 0h1.3m1.7 0h1.3m0.7 0h1.3m3.7 0h1.3m-0.3 0h1.3m0.7 0h1.3m6.7 0h1.3m38.7 0h1.3m5.7 0h1.3m0.7 0h1.3m0.7 0h1.3m0.7 0h1.3m-77.3 1h1.3m3.7 0h1.3m0.7 0h1.3m-0.3 0h1.3m-0.3 0h1.3m1.7 0h1.3m1.7 0h1.3m-0.3 0h1.3m-0.3 0h1.3m-0.3 0h1.3m2.7 0h1.3m1.7 0h1.3m1.7 0h1.3m1.7 0h1.3m34.7 0h1.3m1.7 0h1.3m4.7 0h1.3m-76.3 1h1.3m-0.3 0h1.3m-0.3 0h1.3m0.7 0h1.3m-0.3 0h1.3m2.7 0h1.3m-0.3 0h1.3m-0.3 0h1.3m-0.3 0h1.3m-0.3 0h1.3m0.7 0h1.3m3.7 0h1.3m2.7 0h1.3m36.7 0h1.3m11.7 0h1.3m-80.3 1h1.3m-0.3 0h1.3m-0.3 0h1.3m1.7 0h1.3m0.7 0h1.3m3.7 0h1.3m0.7 0h1.3m-0.3 0h1.3m5.7 0h1.3m-0.3 0h1.3m0.7 0h1.3m-0.3 0h1.3m-0.3 0h1.3m3.7 0h1.3m36.7 0h1.3m-0.3 0h1.3m-0.3 0h1.3m0.7 0h1.3m1.7 0h1.3m-75.3 1h1.3m-0.3 0h1.3m3.7 0h1.3m-0.3 0h1.3m0.7 0h1.3m-0.3 0h1.3m0.7 0h1.3m0.7 0h1.3m-0.3 0h1.3m6.7 0h1.3m3.7 0h1.3m-0.3 0h1.3m0.7 0h1.3m35.7 0h1.3m-0.3 0h1.3m-0.3 0h1.3m-0.3 0h1.3m1.7 0h1.3m-75.3 1h1.3m-0.3 0h1.3m1.7 0h1.3m8.7 0h1.3m4.7 0h1.3m4.7 0h1.3m1.7 0h1.3m2.7 0h1.3m30.7 0h1.3m1.7 0h1.3m-0.3 0h1.3m0.7 0h1.3m0.7 0h1.3m-0.3 0h1.3m-75.3 1h1.3m-0.3 0h1.3m0.7 0h1.3m-0.3 0h1.3m2.7 0h1.3m2.7 0h1.3m0.7 0h1.3m0.7 0h1.3m-0.3 0h1.3m2.7 0h1.3m1.7 0h1.3m-0.3 0h1.3m0.7 0h1.3m2.7 0h1.3m29.7 0h1.3m0.7 0h1.3m0.7 0h1.3m-0.3 0h1.3m2.7 0h1.3m5.7 0h1.3m-80.3 1h1.3m-0.3 0h1.3m1.7 0h1.3m-0.3 0h1.3m3.7 0h1.3m1.7 0h1.3m-0.3 0h1.3m-0.3 0h1.3m-0.3 0h1.3m2.7 0h1.3m1.7 0h1.3m2.7 0h1.3m-0.3 0h1.3m35.7 0h1.3m0.7 0h1.3m1.7 0h1.3m0.7 0h1.3m1.7 0h1.3m0.7 0h1.3m-70.3 1h1.3m2.7 0h1.3m3.7 0h1.3m3.7 0h1.3m4.7 0h1.3m1.7 0h1.3m29.7 0h1.3m1.7 0h1.3m-68.3 1h1.3m0.7 0h1.3m-0.3 0h1.3m1.7 0h1.3m0.7 0h1.3m3.7 0h1.3m1.7 0h1.3m2.7 0h1.3m3.7 0h1.3m0.7 0h1.3m-0.3 0h1.3m6.7 0h1.3m22.7 0h1.3m-58.3 1h1.3m-0.3 0h1.3m0.7 0h1.3m0.7 0h1.3m-0.3 0h1.3m3.7 0h1.3m2.7 0h1.3m1.7 0h1.3m3.7 0h1.3m-0.3 0h1.3m4.7 0h1.3m27.7 0h1.3m-0.3 0h1.3m0.7 0h1.3m-0.3 0h1.3m2.7 0h1.3m-0.3 0h1.3m6.7 0h1.3m-79.3 1h1.3m-0.3 0h1.3m-0.3 0h1.3m1.7 0h1.3m0.7 0h1.3m12.7 0h1.3m2.7 0h1.3m1.7 0h1.3m-0.3 0h1.3m-0.3 0h1.3m2.7 0h1.3m6.7 0h1.3m17.7 0h1.3m12.7 0h1.3m-74.3 1h1.3m0.7 0h1.3m0.7 0h1.3m-0.3 0h1.3m1.7 0h1.3m5.7 0h1.3m-0.3 0h1.3m0.7 0h1.3m2.7 0h1.3m1.7 0h1.3m7.7 0h1.3m19.7 0h1.3m3.7 0h1.3m2.7 0h1.3m-0.3 0h1.3m-0.3 0h1.3m1.7 0h1.3m1.7 0h1.3m1.7 0h1.3m-62.3 1h1.3m-0.3 0h1.3m4.7 0h1.3m-0.3 0h1.3m1.7 0h1.3m-0.3 0h1.3m0.7 0h1.3m2.7 0h1.3m2.7 0h1.3m18.7 0h1.3m-0.3 0h1.3m0.7 0h1.3m-0.3 0h1.3m3.7 0h1.3m-0.3 0h1.3m-0.3 0h1.3m1.7 0h1.3m0.7 0h1.3m-0.3 0h1.3m-76.3 1h1.3m3.7 0h1.3m3.7 0h1.3m-0.3 0h1.3m12.7 0h1.3m-0.3 0h1.3m1.7 0h1.3m1.7 0h1.3m3.7 0h1.3m18.7 0h1.3m1.7 0h1.3m1.7 0h1.3m2.7 0h1.3m-69.3 1h1.3m4.7 0h1.3m-0.3 0h1.3m1.7 0h1.3m0.7 0h1.3m2.7 0h1.3m-0.3 0h1.3m4.7 0h1.3m0.7 0h1.3m-0.3 0h1.3m-0.3 0h1.3m1.7 0h1.3m0.7 0h1.3m8.7 0h1.3m9.7 0h1.3m2.7 0h1.3m-0.3 0h1.3m3.7 0h1.3m-0.3 0h1.3m5.7 0h1.3m3.7 0h1.3m-74.3 1h1.3m0.7 0h1.3m0.7 0h1.3m5.7 0h1.3m5.7 0h1.3m1.7 0h1.3m2.7 0h1.3m7.7 0h1.3m19.7 0h1.3m0.7 0h1.3m3.7 0h1.3m0.7 0h1.3m-36.3 1h1.3m0.7 0h1.3m2.7 0h1.3m-0.3 0h1.3m0.7 0h1.3m0.7 0h1.3m1.7 0h1.3m0.7 0h1.3m5.7 0h1.3m-0.3 0h1.3m1.7 0h1.3m-0.3 0h1.3m-0.3 0h1.3m-0.3 0h1.3m2.7 0h1.3m1.7 0h1.3m-0.3 0h1.3m-71.3 1h1.3m3.7 0h1.3m-0.3 0h1.3m-0.3 0h1.3m3.7 0h1.3m6.7 0h1.3m8.7 0h1.3m3.7 0h1.3m1.7 0h1.3m0.7 0h1.3m1.7 0h1.3m6.7 0h1.3m-0.3 0h1.3m1.7 0h1.3m2.7 0h1.3m4.7 0h1.3m-66.3 1h1.3m1.7 0h1.3m32.7 0h1.3m6.7 0h1.3m4.7 0h1.3m0.7 0h1.3m2.7 0h1.3m-0.3 0h1.3m4.7 0h1.3m2.7 0h1.3m-44.3 1h1.3m-0.3 0h1.3m0.7 0h1.3m4.7 0h1.3m1.7 0h1.3m-0.3 0h1.3m6.7 0h1.3m-0.3 0h1.3m4.7 0h1.3m0.7 0h1.3m1.7 0h1.3m1.7 0h1.3m3.7 0h1.3m0.7 0h1.3m2.7 0h1.3m-73.3 1h1.3m5.7 0h1.3m8.7 0h1.3m3.7 0h1.3m7.7 0h1.3m7.7 0h1.3m-0.3 0h1.3m-0.3 0h1.3m4.7 0h1.3m0.7 0h1.3m0.7 0h1.3m2.7 0h1.3m3.7 0h1.3m2.7 0h1.3m-0.3 0h1.3m0.7 0h1.3m-32.3 1h1.3m-0.3 0h1.3m-0.3 0h1.3m1.7 0h1.3m0.7 0h1.3m-0.3 0h1.3m1.7 0h1.3m0.7 0h1.3m1.7 0h1.3m-0.3 0h1.3m-0.3 0h1.3m1.7 0h1.3m-0.3 0h1.3m0.7 0h1.3m-0.3 0h1.3m1.7 0h1.3m-64.3 1h1.3m27.7 0h1.3m2.7 0h1.3m2.7 0h1.3m0.7 0h1.3m2.7 0h1.3m0.7 0h1.3m0.7 0h1.3m2.7 0h1.3m-0.3 0h1.3m0.7 0h1.3m-0.3 0h1.3m-54.3 1h1.3m16.7 0h1.3m7.7 0h1.3m0.7 0h1.3m4.7 0h1.3m4.7 0h1.3m3.7 0h1.3m2.7 0h1.3m2.7 0h1.3m-0.3 0h1.3m3.7 0h1.3m2.7 0h1.3m-28.3 1h1.3m6.7 0h1.3m1.7 0h1.3m2.7 0h1.3m6.7 0h1.3m8.7 0h1.3m-42.3 1h1.3m5.7 0h1.3m11.7 0h1.3m1.7 0h1.3m-49.3 1h1.3m30.7 0h1.3m4.7 0h1.3m2.7 0h1.3m10.7 0h1.3m12.7 0h1.3m-37.3 1h1.3m2.7 0h1.3m5.7 1h1.3m0.7 1h1.3m-16.3 1h1.3m-14.3 1h1.3m18.7 0h1.3m1.7 0h1.3m0.7 0h1.3m5.7 0h1.3m-51.3 1h1.3m47.7 0h1.3m2.7 0h1.3m-27.3 6h1.3m4.7 0h1.3m4.7 0h1.3m3.7 0h1.3" stroke="#00e0ff" stroke-width="1.3" fill="none"/>
<path d="M745 1735h1.3m-0.3 0h1.3m5.7 0h1.3m-12.3 1h1.3m-10.3 1h1.3m13.7 0h1.3m-15.3 3h1.3m7.7 0h1.3m-10.3 1h1.3m0.7 0h1.3m11.7 0h1.3m-0.3 0h1.3m-0.3 0h1.3m-19.3 2h1.3m-0.3 0h1.3m2.7 0h1.3m1.7 0h1.3m3.7 0h1.3m2.7 0h1.3m-15.3 1h1.3m0.7 0h1.3m0.7 0h1.3m0.7 0h1.3m2.7 0h1.3m2.7 0h1.3m-20.3 1h1.3m4.7 0h1.3m-0.3 0h1.3m1.7 0h1.3m-0.3 0h1.3m1.7 0h1.3m5.7 0h1.3m4.7 0h1.3m-19.3 1h1.3m-0.3 0h1.3m-0.3 0h1.3m1.7 0h1.3m3.7 0h1.3m1.7 0h1.3m-19.3 1h1.3m3.7 0h1.3m1.7 0h1.3m-0.3 0h1.3m1.7 0h1.3m0.7 0h1.3m-0.3 0h1.3m2.7 0h1.3m-0.3 0h1.3m1.7 0h1.3m-0.3 0h1.3m-29.3 1h1.3m1.7 0h1.3m-0.3 0h1.3m-0.3 0h1.3m3.7 0h1.3m-0.3 0h1.3m0.7 0h1.3m1.7 0h1.3m-0.3 0h1.3m4.7 0h1.3m-0.3 0h1.3m1.7 0h1.3m-26.3 1h1.3m0.7 0h1.3m0.7 0h1.3m-0.3 0h1.3m-0.3 0h1.3m-0.3 0h1.3m-0.3 0h1.3m-0.3 0h1.3m-0.3 0h1.3m0.7 0h1.3m-0.3 0h1.3m-0.3 0h1.3m0.7 0h1.3m0.7 0h1.3m-0.3 0h1.3m-0.3 0h1.3m1.7 0h1.3m1.7 0h1.3m0.7 0h1.3m-29.3 1h1.3m1.7 0h1.3m-0.3 0h1.3m0.7 0h1.3m0.7 0h1.3m0.7 0h1.3m-0.3 0h1.3m0.7 0h1.3m-0.3 0h1.3m-0.3 0h1.3m-0.3 0h1.3m0.7 0h1.3m-0.3 0h1.3m0.7 0h1.3m1.7 0h1.3m5.7 0h1.3m-34.3 1h1.3m-0.3 0h1.3m1.7 0h1.3m2.7 0h1.3m-0.3 0h1.3m-0.3 0h1.3m-0.3 0h1.3m-0.3 0h1.3m0.7 0h1.3m-0.3 0h1.3m-0.3 0h1.3m2.7 0h1.3m0.7 0h1.3m5.7 0h1.3m-0.3 0h1.3m-0.3 0h1.3m-34.3 1h1.3m1.7 0h1.3m-0.3 0h1.3m-0.3 0h1.3m-0.3 0h1.3m1.7 0h1.3m2.7 0h1.3m-0.3 0h1.3m-0.3 0h1.3m2.7 0h1.3m-0.3 0h1.3m0.7 0h1.3m-0.3 0h1.3m-0.3 0h1.3m-0.3 0h1.3m-0.3 0h1.3m-0.3 0h1.3m-0.3 0h1.3m-0.3 0h1.3m-0.3 0h1.3m2.7 0h1.3m-36.3 1h1.3m3.7 0h1.3m2.7 0h1.3m2.7 0h1.3m-0.3 0h1.3m-0.3 0h1.3m-0.3 0h1.3m-0.3 0h1.3m-0.3 0h1.3m0.7 0h1.3m0.7 0h1.3m-0.3 0h1.3m-0.3 0h1.3m-0.3 0h1.3m-0.3 0h1.3m-0.3 0h1.3m-0.3 0h1.3m-0.3 0h1.3m0.7 0h1.3m-30.3 1h1.3m-0.3 0h1.3m0.7 0h1.3m-0.3 0h1.3m-0.3 0h1.3m-0.3 0h1.3m1.7 0h1.3m-0.3 0h1.3m-0.3 0h1.3m0.7 0h1.3m1.7 0h1.3m0.7 0h1.3m-0.3 0h1.3m-0.3 0h1.3m1.7 0h1.3m-0.3 0h1.3m-0.3 0h1.3m-0.3 0h1.3m0.7 0h1.3m1.7 0h1.3m0.7 0h1.3m-0.3 0h1.3m-39.3 1h1.3m2.7 0h1.3m-0.3 0h1.3m0.7 0h1.3m-0.3 0h1.3m0.7 0h1.3m-0.3 0h1.3m0.7 0h1.3m0.7 0h1.3m1.7 0h1.3m3.7 0h1.3m0.7 0h1.3m-0.3 0h1.3m-0.3 0h1.3m0.7 0h1.3m0.7 0h1.3m2.7 0h1.3m-36.3 1h1.3m0.7 0h1.3m1.7 0h1.3m1.7 0h1.3m2.7 0h1.3m-0.3 0h1.3m2.7 0h1.3m-0.3 0h1.3m2.7 0h1.3m-0.3 0h1.3m-0.3 0h1.3m1.7 0h1.3m-0.3 0h1.3m-0.3 0h1.3m0.7 0h1.3m-0.3 0h1.3m-0.3 0h1.3m0.7 0h1.3m0.7 0h1.3m-46.3 1h1.3m3.7 0h1.3m-0.3 0h1.3m-0.3 0h1.3m-0.3 0h1.3m3.7 0h1.3m-0.3 0h1.3m-0.3 0h1.3m1.7 0h1.3m0.7 0h1.3m-0.3 0h1.3m-0.3 0h1.3m-0.3 0h1.3m-0.3 0h1.3m-0.3 0h1.3m1.7 0h1.3m0.7 0h1.3m2.7 0h1.3m-0.3 0h1.3m-0.3 0h1.3m-0.3 0h1.3m-0.3 0h1.3m1.7 0h1.3m2.7 0h1.3m-0.3 0h1.3m-48.3 1h1.3m5.7 0h1.3m2.7 0h1.3m-0.3 0h1.3m4.7 0h1.3m-0.3 0h1.3m0.7 0h1.3m-0.3 0h1.3m-0.3 0h1.3m1.7 0h1.3m-0.3 0h1.3m0.7 0h1.3m-0.3 0h1.3m0.7 0h1.3m6.7 0h1.3m1.7 0h1.3m0.7 0h1.3m-0.3 0h1.3m-0.3 0h1.3m-0.3 0h1.3m1.7 0h1.3m-48.3 1h1.3m2.7 0h1.3m-0.3 0h1.3m-0.3 0h1.3m0.7 0h1.3m-0.3 0h1.3m-0.3 0h1.3m-0.3 0h1.3m-0.3 0h1.3m-0.3 0h1.3m-0.3 0h1.3m0.7 0h1.3m0.7 0h1.3m1.7 0h1.3m-0.3 0h1.3m1.7 0h1.3m-0.3 0h1.3m-0.3 0h1.3m-0.3 0h1.3m-0.3 0h1.3m0.7 0h1.3m-0.3 0h1.3m0.7 0h1.3m-0.3 0h1.3m-0.3 0h1.3m-0.3 0h1.3m-0.3 0h1.3m2.7 0h1.3m-0.3 0h1.3m4.7 0h1.3m-50.3 1h1.3m3.7 0h1.3m0.7 0h1.3m1.7 0h1.3m-0.3 0h1.3m0.7 0h1.3m2.7 0h1.3m3.7 0h1.3m-0.3 0h1.3m-0.3 0h1.3m1.7 0h1.3m0.7 0h1.3m-0.3 0h1.3m1.7 0h1.3m5.7 0h1.3m2.7 0h1.3m1.7 0h1.3m-48.3 1h1.3m6.7 0h1.3m0.7 0h1.3m1.7 0h1.3m-0.3 0h1.3m-0.3 0h1.3m0.7 0h1.3m1.7 0h1.3m-0.3 0h1.3m1.7 0h1.3m0.7 0h1.3m-0.3 0h1.3m-0.3 0h1.3m1.7 0h1.3m2.7 0h1.3m1.7 0h1.3m-0.3 0h1.3m-0.3 0h1.3m0.7 0h1.3m1.7 0h1.3m-59.3 1h1.3m11.7 0h1.3m1.7 0h1.3m2.7 0h1.3m1.7 0h1.3m-0.3 0h1.3m-0.3 0h1.3m-0.3 0h1.3m1.7 0h1.3m0.7 0h1.3m-0.3 0h1.3m-0.3 0h1.3m1.7 0h1.3m0.7 0h1.3m-0.3 0h1.3m-0.3 0h1.3m0.7 0h1.3m1.7 0h1.3m-0.3 0h1.3m-0.3 0h1.3m0.7 0h1.3m-0.3 0h1.3m-0.3 0h1.3m3.7 0h1.3m0.7 0h1.3m-64.3 1h1.3m8.7 0h1.3m6.7 0h1.3m2.7 0h1.3m0.7 0h1.3m2.7 0h1.3m0.7 0h1.3m-0.3 0h1.3m0.7 0h1.3m0.7 0h1.3m0.7 0h1.3m-0.3 0h1.3m-0.3 0h1.3m-0.3 0h1.3m1.7 0h1.3m-0.3 0h1.3m-0.3 0h1.3m-0.3 0h1.3m0.7 0h1.3m-0.3 0h1.3m-0.3 0h1.3m-0.3 0h1.3m-0.3 0h1.3m1.7 0h1.3m0.7 0h1.3m-0.3 0h1.3m-0.3 0h1.3m1.7 0h1.3m-45.3 1h1.3m1.7 0h1.3m-0.3 0h1.3m0.7 0h1.3m-0.3 0h1.3m1.7 0h1.3m-0.3 0h1.3m-0.3 0h1.3m-0.3 0h1.3m-0.3 0h1.3m4.7 0h1.3m-0.3 0h1.3m-0.3 0h1.3m1.7 0h1.3m-0.3 0h1.3m-0.3 0h1.3m1.7 0h1.3m4.7 0h1.3m-0.3 0h1.3m0.7 0h1.3m1.7 0h1.3m-50.3 1h1.3m5.7 0h1.3m1.7 0h1.3m-0.3 0h1.3m2.7 0h1.3m-0.3 0h1.3m3.7 0h1.3m-0.3 0h1.3m0.7 0h1.3m-0.3 0h1.3m0.7 0h1.3m-0.3 0h1.3m-0.3 0h1.3m2.7 0h1.3m0.7 0h1.3m1.7 0h1.3m1.7 0h1.3m1.7 0h1.3m-0.3 0h1.3m-0.3 0h1.3m-0.3 0h1.3m-0.3 0h1.3m-0.3 0h1.3m0.7 0h1.3m1.7 0h1.3m-53.3 1h1.3m2.7 0h1.3m0.7 0h1.3m-0.3 0h1.3m1.7 0h1.3m-0.3 0h1.3m-0.3 0h1.3m0.7 0h1.3m-0.3 0h1.3m-0.3 0h1.3m-0.3 0h1.3m-0.3 0h1.3m3.7 0h1.3m-0.3 0h1.3m-0.3 0h1.3m0.7 0h1.3m-0.3 0h1.3m-0.3 0h1.3m3.7 0h1.3m-0.3 0h1.3m0.7 0h1.3m0.7 0h1.3m-0.3 0h1.3m-0.3 0h1.3m0.7 0h1.3m2.7 0h1.3m0.7 0h1.3m0.7 0h1.3m-0.3 0h1.3m-59.3 1h1.3m3.7 0h1.3m4.7 0h1.3m0.7 0h1.3m-0.3 0h1.3m-0.3 0h1.3m-0.3 0h1.3m1.7 0h1.3m-0.3 0h1.3m2.7 0h1.3m-0.3 0h1.3m0.7 0h1.3m-0.3 0h1.3m-0.3 0h1.3m-0.3 0h1.3m-0.3 0h1.3m-0.3 0h1.3m-0.3 0h1.3m0.7 0h1.3m0.7 0h1.3m1.7 0h1.3m0.7 0h1.3m3.7 0h1.3m-0.3 0h1.3m-0.3 0h1.3m1.7 0h1.3m-0.3 0h1.3m0.7 0h1.3m-54.3 1h1.3m-0.3 0h1.3m8.7 0h1.3m0.7 0h1.3m-0.3 0h1.3m0.7 0h1.3m-0.3 0h1.3m0.7 0h1.3m3.7 0h1.3m0.7 0h1.3m-0.3 0h1.3m-0.3 0h1.3m0.7 0h1.3m0.7 0h1.3m4.7 0h1.3m-0.3 0h1.3m-0.3 0h1.3m-0.3 0h1.3m5.7 0h1.3m0.7 0h1.3m-0.3 0h1.3m-46.3 1h1.3m1.7 0h1.3m-0.3 0h1.3m-0.3 0h1.3m0.7 0h1.3m-0.3 0h1.3m8.7 0h1.3m2.7 0h1.3m-0.3 0h1.3m0.7 0h1.3m-0.3 0h1.3m0.7 0h1.3m1.7 0h1.3m-0.3 0h1.3m-0.3 0h1.3m0.7 0h1.3m-0.3 0h1.3m-0.3 0h1.3m-0.3 0h1.3m-0.3 0h1.3m0.7 0h1.3m-0.3 0h1.3m-0.3 0h1.3m-0.3 0h1.3m-0.3 0h1.3m-0.3 0h1.3m-47.3 1h1.3m2.7 0h1.3m-0.3 0h1.3m0.7 0h1.3m-0.3 0h1.3m-0.3 0h1.3m0.7 0h1.3m-0.3 0h1.3m-0.3 0h1.3m-0.3 0h1.3m-0.3 0h1.3m-0.3 0h1.3m-0.3 0h1.3m-0.3 0h1.3m-0.3 0h1.3m-0.3 0h1.3m-0.3 0h1.3m0.7 0h1.3m-0.3 0h1.3m0.7 0h1.3m0.7 0h1.3m0.7 0h1.3m1.7 0h1.3m-0.3 0h1.3m-0.3 0h1.3m0.7 0h1.3m1.7 0h1.3m-0.3 0h1.3m0.7 0h1.3m3.7 0h1.3m-65.3 1h1.3m0.7 0h1.3m6.7 0h1.3m5.7 0h1.3m0.7 0h1.3m-0.3 0h1.3m-0.3 0h1.3m-0.3 0h1.3m-0.3 0h1.3m-0.3 0h1.3m-0.3 0h1.3m1.7 0h1.3m0.7 0h1.3m1.7 0h1.3m-0.3 0h1.3m0.7 0h1.3m-0.3 0h1.3m1.7 0h1.3m-0.3 0h1.3m-0.3 0h1.3m-0.3 0h1.3m-0.3 0h1.3m1.7 0h1.3m0.7 0h1.3m1.7 0h1.3m-0.3 0h1.3m-0.3 0h1.3m-0.3 0h1.3m-0.3 0h1.3m0.7 0h1.3m0.7 0h1.3m0.7 0h1.3m1.7 0h1.3m-62.3 1h1.3m12.7 0h1.3m-0.3 0h1.3m-0.3 0h1.3m-0.3 0h1.3m-0.3 0h1.3m-0.3 0h1.3m-0.3 0h1.3m-0.3 0h1.3m2.7 0h1.3m0.7 0h1.3m-0.3 0h1.3m0.7 0h1.3m-0.3 0h1.3m-0.3 0h1.3m-0.3 0h1.3m0.7 0h1.3m-0.3 0h1.3m-0.3 0h1.3m-0.3 0h1.3m-0.3 0h1.3m0.7 0h1.3m-0.3 0h1.3m1.7 0h1.3m1.7 0h1.3m0.7 0h1.3m-0.3 0h1.3m-0.3 0h1.3m0.7 0h1.3m0.7 0h1.3m-0.3 0h1.3m-0.3 0h1.3m-0.3 0h1.3m-0.3 0h1.3m2.7 0h1.3m-72.3 1h1.3m7.7 0h1.3m0.7 0h1.3m5.7 0h1.3m0.7 0h1.3m-0.3 0h1.3m0.7 0h1.3m2.7 0h1.3m0.7 0h1.3m0.7 0h1.3m3.7 0h1.3m1.7 0h1.3m-0.3 0h1.3m-0.3 0h1.3m-0.3 0h1.3m-0.3 0h1.3m0.7 0h1.3m2.7 0h1.3m0.7 0h1.3m0.7 0h1.3m-0.3 0h1.3m1.7 0h1.3m-0.3 0h1.3m-0.3 0h1.3m2.7 0h1.3m-0.3 0h1.3m2.7 0h1.3m-66.3 1h1.3m2.7 0h1.3m-0.3 0h1.3m-0.3 0h1.3m5.7 0h1.3m-0.3 0h1.3m0.7 0h1.3m0.7 0h1.3m-0.3 0h1.3m1.7 0h1.3m0.7 0h1.3m-0.3 0h1.3m1.7 0h1.3m0.7 0h1.3m-0.3 0h1.3m0.7 0h1.3m-0.3 0h1.3m-0.3 0h1.3m-0.3 0h1.3m-0.3 0h1.3m-0.3 0h1.3m0.7 0h1.3m0.7 0h1.3m0.7 0h1.3m1.7 0h1.3m1.7 0h1.3m-0.3 0h1.3m3.7 0h1.3m0.7 0h1.3m2.7 0h1.3m-0.3 0h1.3m1.7 0h1.3m-67.3 1h1.3m16.7 0h1.3m-0.3 0h1.3m-0.3 0h1.3m0.7 0h1.3m2.7 0h1.3m-0.3 0h1.3m-0.3 0h1.3m-0.3 0h1.3m1.7 0h1.3m-0.3 0h1.3m0.7 0h1.3m-0.3 0h1.3m-0.3 0h1.3m-0.3 0h1.3m-0.3 0h1.3m2.7 0h1.3m-0.3 0h1.3m0.7 0h1.3m-0.3 0h1.3m-0.3 0h1.3m-0.3 0h1.3m1.7 0h1.3m-0.3 0h1.3m-0.3 0h1.3m-0.3 0h1.3m-0.3 0h1.3m1.7 0h1.3m0.7 0h1.3m-0.3 0h1.3m-0.3 0h1.3m0.7 0h1.3m0.7 0h1.3m-70.3 1h1.3m13.7 0h1.3m3.7 0h1.3m-0.3 0h1.3m3.7 0h1.3m-0.3 0h1.3m1.7 0h1.3m-0.3 0h1.3m-0.3 0h1.3m1.7 0h1.3m-0.3 0h1.3m0.7 0h1.3m-0.3 0h1.3m2.7 0h1.3m0.7 0h1.3m-0.3 0h1.3m-0.3 0h1.3m0.7 0h1.3m1.7 0h1.3m-0.3 0h1.3m-0.3 0h1.3m-0.3 0h1.3m-0.3 0h1.3m0.7 0h1.3m0.7 0h1.3m0.7 0h1.3m-0.3 0h1.3m-0.3 0h1.3m-0.3 0h1.3m-63.3 1h1.3m6.7 0h1.3m2.7 0h1.3m1.7 0h1.3m-0.3 0h1.3m1.7 0h1.3m-0.3 0h1.3m0.7 0h1.3m-0.3 0h1.3m3.7 0h1.3m-0.3 0h1.3m0.7 0h1.3m1.7 0h1.3m-0.3 0h1.3m-0.3 0h1.3m-0.3 0h1.3m1.7 0h1.3m1.7 0h1.3m-0.3 0h1.3m1.7 0h1.3m2.7 0h1.3m-0.3 0h1.3m-0.3 0h1.3m-0.3 0h1.3m-0.3 0h1.3m-0.3 0h1.3m-54.3 1h1.3m-0.3 0h1.3m1.7 0h1.3m-0.3 0h1.3m0.7 0h1.3m3.7 0h1.3m0.7 0h1.3m0.7 0h1.3m-0.3 0h1.3m0.7 0h1.3m-0.3 0h1.3m-0.3 0h1.3m-0.3 0h1.3m-0.3 0h1.3m-0.3 0h1.3m4.7 0h1.3m-0.3 0h1.3m-0.3 0h1.3m0.7 0h1.3m2.7 0h1.3m-0.3 0h1.3m0.7 0h1.3m-0.3 0h1.3m-0.3 0h1.3m-0.3 0h1.3m-0.3 0h1.3m-0.3 0h1.3m-0.3 0h1.3m-0.3 0h1.3m0.7 0h1.3m-0.3 0h1.3m-0.3 0h1.3m-0.3 0h1.3m-0.3 0h1.3m0.7 0h1.3m4.7 0h1.3m-50.3 1h1.3m0.7 0h1.3m0.7 0h1.3m1.7 0h1.3m3.7 0h1.3m-0.3 0h1.3m0.7 0h1.3m0.7 0h1.3m1.7 0h1.3m-0.3 0h1.3m0.7 0h1.3m0.7 0h1.3m0.7 0h1.3m0.7 0h1.3m-0.3 0h1.3m-0.3 0h1.3m-0.3 0h1.3m0.7 0h1.3m0.7 0h1.3m-0.3 0h1.3m-0.3 0h1.3m-0.3 0h1.3m-0.3 0h1.3m-0.3 0h1.3m-0.3 0h1.3m1.7 0h1.3m0.7 0h1.3m-65.3 1h1.3m4.7 0h1.3m0.7 0h1.3m4.7 0h1.3m-0.3 0h1.3m0.7 0h1.3m2.7 0h1.3m0.7 0h1.3m-0.3 0h1.3m-0.3 0h1.3m0.7 0h1.3m2.7 0h1.3m0.7 0h1.3m-0.3 0h1.3m-0.3 0h1.3m-0.3 0h1.3m1.7 0h1.3m3.7 0h1.3m9.7 0h1.3m-0.3 0h1.3m-0.3 0h1.3m-0.3 0h1.3m-0.3 0h1.3m-0.3 0h1.3m1.7 0h1.3m-0.3 0h1.3m-70.3 1h1.3m13.7 0h1.3m2.7 0h1.3m7.7 0h1.3m0.7 0h1.3m0.7 0h1.3m-0.3 0h1.3m-0.3 0h1.3m0.7 0h1.3m0.7 0h1.3m0.7 0h1.3m0.7 0h1.3m-0.3 0h1.3m-0.3 0h1.3m-0.3 0h1.3m-0.3 0h1.3m-0.3 0h1.3m-0.3 0h1.3m1.7 0h1.3m2.7 0h1.3m-0.3 0h1.3m-0.3 0h1.3m-0.3 0h1.3m0.7 0h1.3m0.7 0h1.3m-0.3 0h1.3m0.7 0h1.3m1.7 0h1.3m-61.3 1h1.3m10.7 0h1.3m0.7 0h1.3m2.7 0h1.3m1.7 0h1.3m4.7 0h1.3m-0.3 0h1.3m1.7 0h1.3m2.7 0h1.3m-0.3 0h1.3m7.7 0h1.3m2.7 0h1.3m-0.3 0h1.3m-0.3 0h1.3m-0.3 0h1.3m-0.3 0h1.3m-0.3 0h1.3m-0.3 0h1.3m-0.3 0h1.3m-0.3 0h1.3m3.7 0h1.3m-58.3 1h1.3m0.7 0h1.3m6.7 0h1.3m6.7 0h1.3m-0.3 0h1.3m-0.3 0h1.3m0.7 0h1.3m-0.3 0h1.3m2.7 0h1.3m0.7 0h1.3m5.7 0h1.3m-0.3 0h1.3m-0.3 0h1.3m0.7 0h1.3m-0.3 0h1.3m0.7 0h1.3m-0.3 0h1.3m2.7 0h1.3m5.7 0h1.3m-67.3 1h1.3m26.7 0h1.3m0.7 0h1.3m-0.3 0h1.3m0.7 0h1.3m-0.3 0h1.3m-0.3 0h1.3m-0.3 0h1.3m0.7 0h1.3m-0.3 0h1.3m0.7 0h1.3m0.7 0h1.3m0.7 0h1.3m-0.3 0h1.3m0.7 0h1.3m-0.3 0h1.3m-0.3 0h1.3m-0.3 0h1.3m0.7 0h1.3m-0.3 0h1.3m-0.3 0h1.3m1.7 0h1.3m-0.3 0h1.3m-0.3 0h1.3m-0.3 0h1.3m1.7 0h1.3m2.7 0h1.3m-66.3 1h1.3m17.7 0h1.3m1.7 0h1.3m0.7 0h1.3m1.7 0h1.3m0.7 0h1.3m-0.3 0h1.3m0.7 0h1.3m-0.3 0h1.3m-0.3 0h1.3m-0.3 0h1.3m-0.3 0h1.3m-0.3 0h1.3m0.7 0h1.3m-0.3 0h1.3m-0.3 0h1.3m2.7 0h1.3m0.7 0h1.3m-0.3 0h1.3m-0.3 0h1.3m1.7 0h1.3m-0.3 0h1.3m-0.3 0h1.3m-0.3 0h1.3m2.7 0h1.3m2.7 0h1.3m-45.3 1h1.3m1.7 0h1.3m-0.3 0h1.3m2.7 0h1.3m1.7 0h1.3m0.7 0h1.3m-0.3 0h1.3m-0.3 0h1.3m-0.3 0h1.3m0.7 0h1.3m0.7 0h1.3m0.7 0h1.3m0.7 0h1.3m1.7 0h1.3m-0.3 0h1.3m-0.3 0h1.3m1.7 0h1.3m1.7 0h1.3m1.7 0h1.3m-0.3 0h1.3m-61.3 1h1.3m23.7 0h1.3m0.7 0h1.3m-0.3 0h1.3m2.7 0h1.3m0.7 0h1.3m-0.3 0h1.3m0.7 0h1.3m0.7 0h1.3m0.7 0h1.3m0.7 0h1.3m1.7 0h1.3m-0.3 0h1.3m0.7 0h1.3m1.7 0h1.3m5.7 0h1.3m1.7 0h1.3m-57.3 1h1.3m16.7 0h1.3m1.7 0h1.3m-0.3 0h1.3m-0.3 0h1.3m0.7 0h1.3m1.7 0h1.3m-0.3 0h1.3m1.7 0h1.3m-0.3 0h1.3m-0.3 0h1.3m0.7 0h1.3m-0.3 0h1.3m-0.3 0h1.3m-0.3 0h1.3m1.7 0h1.3m0.7 0h1.3m0.7 0h1.3m1.7 0h1.3m-0.3 0h1.3m-0.3 0h1.3m-0.3 0h1.3m0.7 0h1.3m-63.3 1h1.3m17.7 0h1.3m8.7 0h1.3m2.7 0h1.3m-0.3 0h1.3m0.7 0h1.3m0.7 0h1.3m-0.3 0h1.3m-0.3 0h1.3m-0.3 0h1.3m-0.3 0h1.3m-0.3 0h1.3m-0.3 0h1.3m1.7 0h1.3m-0.3 0h1.3m-0.3 0h1.3m-0.3 0h1.3m-0.3 0h1.3m0.7 0h1.3m0.7 0h1.3m-0.3 0h1.3m-0.3 0h1.3m3.7 0h1.3m-36.3 1h1.3m-0.3 0h1.3m3.7 0h1.3m-0.3 0h1.3m-0.3 0h1.3m-0.3 0h1.3m1.7 0h1.3m-0.3 0h1.3m0.7 0h1.3m-0.3 0h1.3m0.7 0h1.3m2.7 0h1.3m-0.3 0h1.3m-0.3 0h1.3m-0.3 0h1.3m1.7 0h1.3m-0.3 0h1.3m-0.3 0h1.3m0.7 0h1.3m-31.3 1h1.3m2.7 0h1.3m0.7 0h1.3m-0.3 0h1.3m1.7 0h1.3m-0.3 0h1.3m1.7 0h1.3m0.7 0h1.3m1.7 0h1.3m-0.3 0h1.3m0.7 0h1.3m-0.3 0h1.3m1.7 0h1.3m-55.3 1h1.3m24.7 0h1.3m-0.3 0h1.3m1.7 0h1.3m-0.3 0h1.3m-0.3 0h1.3m0.7 0h1.3m1.7 0h1.3m-0.3 0h1.3m3.7 0h1.3m0.7 0h1.3m-0.3 0h1.3m0.7 0h1.3m-0.3 0h1.3m-0.3 0h1.3m-0.3 0h1.3m0.7 0h1.3m-0.3 0h1.3m0.7 0h1.3m-31.3 1h1.3m4.7 0h1.3m0.7 0h1.3m-0.3 0h1.3m0.7 0h1.3m0.7 0h1.3m-0.3 0h1.3m-0.3 0h1.3m-0.3 0h1.3m-0.3 0h1.3m-0.3 0h1.3m0.7 0h1.3m-0.3 0h1.3m0.7 0h1.3m3.7 0h1.3m0.7 0h1.3m-28.3 1h1.3m1.7 0h1.3m-0.3 0h1.3m0.7 0h1.3m-0.3 0h1.3m-0.3 0h1.3m2.7 0h1.3m-0.3 0h1.3m1.7 0h1.3m0.7 0h1.3m0.7 0h1.3m-0.3 0h1.3m-0.3 0h1.3m-0.3 0h1.3m-0.3 0h1.3m-0.3 0h1.3m-22.3 1h1.3m0.7 0h1.3m0.7 0h1.3m0.7 0h1.3m-0.3 0h1.3m1.7 0h1.3m1.7 0h1.3m2.7 0h1.3m0.7 0h1.3m0.7 0h1.3m2.7 0h1.3m-27.3 1h1.3m4.7 0h1.3m0.7 0h1.3m-0.3 0h1.3m0.7 0h1.3m1.7 0h1.3m-0.3 0h1.3m2.7 0h1.3m1.7 0h1.3m-25.3 1h1.3m3.7 0h1.3m0.7 0h1.3m-0.3 0h1.3m2.7 0h1.3m0.7 0h1.3m4.7 0h1.3m3.7 0h1.3m-0.3 0h1.3m-19.3 1h1.3m6.7 0h1.3m0.7 1h1.3m0.7 0h1.3m-0.3 0h1.3m-11.3 1h1.3m4.7 0h1.3m0.7 0h1.3m-0.3 0h1.3" stroke="#00ff00" stroke-width="1.3" fill="none"/>
<path d="M748 1746h1.3m-1.3 2h1.3m1.7 0h1.3m-10.3 1h1.3m0.7 1h1.3m-7.3 1h1.3m4.7 0h1.3m-0.3 0h1.3m0.7 0h1.3m0.7 0h1.3m-0.3 0h1.3m0.7 0h1.3m-11.3 1h1.3m3.7 0h1.3m1.7 0h1.3m-0.3 0h1.3m0.7 0h1.3m-16.3 2h1.3m1.7 0h1.3m-0.3 0h1.3m2.7 0h1.3m7.7 0h1.3m1.7 0h1.3m-18.3 1h1.3m2.7 0h1.3m1.7 0h1.3m2.7 0h1.3m-0.3 0h1.3m-0.3 0h1.3m-24.3 1h1.3m3.7 0h1.3m3.7 0h1.3m4.7 0h1.3m3.7 0h1.3m-0.3 0h1.3m0.7 0h1.3m-19.3 1h1.3m2.7 0h1.3m-0.3 0h1.3m5.7 0h1.3m0.7 0h1.3m1.7 0h1.3m-0.3 0h1.3m-24.3 1h1.3m-0.3 0h1.3m1.7 0h1.3m0.7 0h1.3m-0.3 0h1.3m-0.3 0h1.3m6.7 0h1.3m-0.3 0h1.3m0.7 0h1.3m0.7 0h1.3m-0.3 0h1.3m-26.3 1h1.3m0.7 0h1.3m2.7 0h1.3m0.7 0h1.3m6.7 0h1.3m2.7 0h1.3m0.7 0h1.3m0.7 0h1.3m6.7 0h1.3m-8.3 1h1.3m2.7 0h1.3m-25.3 1h1.3m16.7 0h1.3m0.7 0h1.3m4.7 0h1.3m-28.3 1h1.3m6.7 0h1.3m12.7 0h1.3m3.7 0h1.3m-29.3 1h1.3m2.7 0h1.3m-0.3 0h1.3m3.7 0h1.3m8.7 0h1.3m0.7 0h1.3m-0.3 0h1.3m2.7 0h1.3m-30.3 1h1.3m-0.3 0h1.3m1.7 0h1.3m0.7 0h1.3m4.7 0h1.3m10.7 0h1.3m1.7 0h1.3m-0.3 0h1.3m-0.3 0h1.3m-31.3 1h1.3m1.7 0h1.3m22.7 0h1.3m0.7 0h1.3m-0.3 0h1.3m-37.3 1h1.3m5.7 0h1.3m-0.3 0h1.3m2.7 0h1.3m22.7 0h1.3m-0.3 0h1.3m-32.3 1h1.3m22.7 0h1.3m2.7 0h1.3m1.7 1h1.3m-0.3 0h1.3m-35.3 1h1.3m-0.3 0h1.3m5.7 0h1.3m19.7 0h1.3m-0.3 0h1.3m2.7 0h1.3m-34.3 1h1.3m1.7 0h1.3m-0.3 0h1.3m2.7 0h1.3m11.7 0h1.3m4.7 0h1.3m-0.3 0h1.3m0.7 0h1.3m1.7 0h1.3m-3.3 1h1.3m-28.3 1h1.3m-0.3 0h1.3m6.7 0h1.3m3.7 0h1.3m1.7 0h1.3m3.7 0h1.3m-0.3 0h1.3m-0.3 0h1.3m1.7 0h1.3m-38.3 1h1.3m2.7 0h1.3m0.7 0h1.3m-0.3 0h1.3m0.7 0h1.3m0.7 0h1.3m3.7 0h1.3m0.7 0h1.3m13.7 0h1.3m2.7 0h1.3m-30.3 1h1.3m0.7 0h1.3m-0.3 0h1.3m19.7 0h1.3m1.7 0h1.3m3.7 0h1.3m-41.3 1h1.3m7.7 0h1.3m1.7 0h1.3m14.7 0h1.3m2.7 0h1.3m-25.3 1h1.3m4.7 0h1.3m8.7 0h1.3m10.7 0h1.3m-33.3 1h1.3m2.7 0h1.3m2.7 0h1.3m17.7 0h1.3m0.7 0h1.3m1.7 0h1.3m1.7 0h1.3m0.7 0h1.3m-37.3 1h1.3m0.7 0h1.3m3.7 0h1.3m0.7 0h1.3m2.7 0h1.3m9.7 0h1.3m1.7 0h1.3m2.7 0h1.3m-29.3 1h1.3m-0.3 0h1.3m2.7 0h1.3m-0.3 0h1.3m0.7 0h1.3m7.7 0h1.3m1.7 0h1.3m-0.3 0h1.3m0.7 0h1.3m0.7 0h1.3m-0.3 0h1.3m-26.3 1h1.3m-0.3 0h1.3m4.7 0h1.3m4.7 0h1.3m4.7 0h1.3m3.7 0h1.3m1.7 0h1.3m-22.3 1h1.3m-0.3 0h1.3m-0.3 0h1.3m3.7 0h1.3m11.7 0h1.3m-15.3 1h1.3m1.7 0h1.3m4.7 0h1.3m-16.3 1h1.3m-0.3 0h1.3m0.7 0h1.3m1.7 0h1.3m1.7 0h1.3m5.7 0h1.3m-0.3 0h1.3m-24.3 1h1.3m4.7 0h1.3m5.7 0h1.3m0.7 0h1.3m-15.3 1h1.3m4.7 0h1.3m2.7 0h1.3m0.7 0h1.3m0.7 0h1.3m3.7 0h1.3m-0.3 0h1.3m-17.3 1h1.3m-0.3 0h1.3m-0.3 0h1.3m2.7 0h1.3m-0.3 0h1.3m0.7 0h1.3m-0.3 0h1.3m3.7 0h1.3m-18.3 1h1.3m-0.3 0h1.3m-0.3 0h1.3m1.7 0h1.3m4.7 0h1.3m-0.3 0h1.3m-0.3 0h1.3m-0.3 0h1.3m-0.3 0h1.3m6.7 0h1.3m-18.3 1h1.3m-0.3 0h1.3m4.7 0h1.3m0.7 0h1.3m-0.3 0h1.3m-14.3 1h1.3m7.7 0h1.3m-9.3 1h1.3m0.7 0h1.3m-0.3 0h1.3m0.7 1h1.3m-5.3 1h1.3m-0.3 0h1.3m1.7 1h1.3m-5.3 3h1.3" stroke="#b4ff00" stroke-width="1.3" fill="none"/>
<path d="M748 1750h1.3m-9.3 1h1.3m9.7 0h1.3m-12.3 1h1.3m7.7 1h1.3m-6.3 1h1.3m-0.3 0h1.3m-4.3 1h1.3m-0.3 0h1.3m3.7 0h1.3m2.7 0h1.3m-4.3 1h1.3m-0.3 0h1.3m0.7 0h1.3m-14.3 1h1.3m-0.3 0h1.3m0.7 0h1.3m-0.3 0h1.3m9.7 0h1.3m-18.3 1h1.3m4.7 0h1.3m-0.3 0h1.3m2.7 0h1.3m-0.3 0h1.3m-0.3 0h1.3m-12.3 1h1.3m2.7 0h1.3m0.7 0h1.3m-0.3 0h1.3m2.7 0h1.3m-0.3 0h1.3m-21.3 1h1.3m0.7 0h1.3m2.7 0h1.3m0.7 0h1.3m-0.3 0h1.3m0.7 0h1.3m0.7 0h1.3m-0.3 0h1.3m7.7 0h1.3m-23.3 1h1.3m3.7 0h1.3m0.7 0h1.3m2.7 0h1.3m-0.3 0h1.3m-0.3 0h1.3m1.7 0h1.3m2.7 0h1.3m-0.3 0h1.3m3.7 0h1.3m-27.3 1h1.3m2.7 0h1.3m-0.3 0h1.3m2.7 0h1.3m0.7 0h1.3m0.7 0h1.3m1.7 0h1.3m0.7 0h1.3m-13.3 1h1.3m-0.3 0h1.3m-0.3 0h1.3m-0.3 0h1.3m2.7 0h1.3m2.7 0h1.3m0.7 0h1.3m0.7 0h1.3m-22.3 1h1.3m-0.3 0h1.3m-0.3 0h1.3m0.7 0h1.3m0.7 0h1.3m-0.3 0h1.3m-0.3 0h1.3m1.7 0h1.3m-0.3 0h1.3m0.7 0h1.3m3.7 0h1.3m0.7 0h1.3m-0.3 0h1.3m-0.3 0h1.3m2.7 0h1.3m-32.3 1h1.3m3.7 0h1.3m3.7 0h1.3m-0.3 0h1.3m3.7 0h1.3m3.7 0h1.3m1.7 0h1.3m-0.3 0h1.3m3.7 0h1.3m-26.3 1h1.3m2.7 0h1.3m-0.3 0h1.3m-0.3 0h1.3m6.7 0h1.3m-0.3 0h1.3m0.7 0h1.3m-0.3 0h1.3m1.7 0h1.3m-0.3 0h1.3m-18.3 1h1.3m0.7 0h1.3m1.7 0h1.3m4.7 0h1.3m-0.3 0h1.3m3.7 0h1.3m-0.3 0h1.3m1.7 0h1.3m-30.3 1h1.3m4.7 0h1.3m1.7 0h1.3m3.7 0h1.3m0.7 0h1.3m0.7 0h1.3m0.7 0h1.3m2.7 0h1.3m1.7 0h1.3m-29.3 1h1.3m5.7 0h1.3m0.7 0h1.3m4.7 0h1.3m0.7 0h1.3m-0.3 0h1.3m4.7 0h1.3m-23.3 1h1.3m0.7 0h1.3m-0.3 0h1.3m-0.3 0h1.3m5.7 0h1.3m2.7 0h1.3m3.7 0h1.3m-0.3 0h1.3m-0.3 0h1.3m-24.3 1h1.3m4.7 0h1.3m2.7 0h1.3m1.7 0h1.3m2.7 0h1.3m1.7 0h1.3m-0.3 0h1.3m-0.3 0h1.3m-0.3 0h1.3m-0.3 0h1.3m-0.3 0h1.3m0.7 0h1.3m2.7 0h1.3m-28.3 1h1.3m2.7 0h1.3m0.7 0h1.3m2.7 0h1.3m0.7 0h1.3m-0.3 0h1.3m1.7 0h1.3m4.7 0h1.3m-26.3 1h1.3m2.7 0h1.3m-0.3 0h1.3m-0.3 0h1.3m1.7 0h1.3m0.7 0h1.3m3.7 0h1.3m1.7 0h1.3m1.7 0h1.3m2.7 0h1.3m-29.3 1h1.3m-0.3 0h1.3m3.7 0h1.3m0.7 0h1.3m0.7 0h1.3m1.7 0h1.3m-0.3 0h1.3m3.7 0h1.3m-0.3 0h1.3m1.7 0h1.3m-21.3 1h1.3m0.7 0h1.3m-0.3 0h1.3m5.7 0h1.3m0.7 0h1.3m2.7 0h1.3m1.7 0h1.3m-0.3 0h1.3m1.7 0h1.3m-24.3 1h1.3m4.7 0h1.3m-0.3 0h1.3m-0.3 0h1.3m1.7 0h1.3m0.7 0h1.3m1.7 0h1.3m0.7 0h1.3m6.7 0h1.3m-32.3 1h1.3m0.7 0h1.3m3.7 0h1.3m-0.3 0h1.3m1.7 0h1.3m-0.3 0h1.3m-0.3 0h1.3m-0.3 0h1.3m2.7 0h1.3m1.7 0h1.3m1.7 0h1.3m-0.3 0h1.3m0.7 0h1.3m3.7 0h1.3m-28.3 1h1.3m2.7 0h1.3m2.7 0h1.3m2.7 0h1.3m1.7 0h1.3m-12.3 1h1.3m3.7 0h1.3m1.7 0h1.3m1.7 0h1.3m-0.3 0h1.3m-10.3 1h1.3m-0.3 0h1.3m1.7 0h1.3m0.7 0h1.3m0.7 0h1.3m-12.3 1h1.3m4.7 0h1.3m4.7 0h1.3m-17.3 1h1.3m-0.3 0h1.3m0.7 0h1.3m1.7 0h1.3m7.7 0h1.3m-10.3 1h1.3m0.7 0h1.3m0.7 0h1.3m1.7 0h1.3m1.7 0h1.3m-0.3 0h1.3m-12.3 1h1.3m2.7 1h1.3m5.7 0h1.3m-15.3 1h1.3m3.7 0h1.3m2.7 0h1.3m0.7 0h1.3m-1.3 2h1.3m-6.3 1h1.3m3.7 0h1.3" stroke="#ffff00" stroke-width="1.3" fill="none"/>
<path d="M743 1754h1.3m-0.3 0h1.3m3.7 2h1.3m1.7 1h1.3m-14.3 2h1.3m-0.3 0h1.3m8.7 0h1.3m-17.3 1h1.3m6.7 0h1.3m1.7 0h1.3m3.7 0h1.3m1.7 0h1.3m-16.3 1h1.3m2.7 0h1.3m-10.3 1h1.3m-0.3 0h1.3m1.7 0h1.3m3.7 0h1.3m0.7 0h1.3m2.7 0h1.3m-0.3 0h1.3m-12.3 1h1.3m3.7 0h1.3m1.7 0h1.3m2.7 0h1.3m-15.3 1h1.3m0.7 0h1.3m3.7 0h1.3m0.7 0h1.3m-0.3 0h1.3m-9.3 1h1.3m1.7 0h1.3m3.7 0h1.3m-0.3 0h1.3m-0.3 0h1.3m0.7 0h1.3m4.7 0h1.3m-23.3 1h1.3m-0.3 0h1.3m0.7 0h1.3m-0.3 0h1.3m2.7 0h1.3m1.7 0h1.3m7.7 0h1.3m-0.3 0h1.3m-0.3 0h1.3m-22.3 1h1.3m2.7 0h1.3m2.7 0h1.3m2.7 0h1.3m5.7 0h1.3m-23.3 1h1.3m1.7 0h1.3m1.7 0h1.3m2.7 0h1.3m14.7 0h1.3m-26.3 1h1.3m5.7 0h1.3m-0.3 0h1.3m0.7 0h1.3m0.7 0h1.3m-10.3 1h1.3m0.7 0h1.3m0.7 0h1.3m4.7 0h1.3m-0.3 0h1.3m5.7 0h1.3m-20.3 1h1.3m0.7 0h1.3m0.7 0h1.3m-0.3 0h1.3m0.7 0h1.3m-0.3 0h1.3m-0.3 0h1.3m0.7 0h1.3m-0.3 0h1.3m4.7 0h1.3m3.7 0h1.3m-21.3 1h1.3m0.7 0h1.3m0.7 0h1.3m-0.3 0h1.3m3.7 0h1.3m1.7 0h1.3m-0.3 0h1.3m0.7 0h1.3m-22.3 1h1.3m3.7 0h1.3m-0.3 0h1.3m-0.3 0h1.3m0.7 0h1.3m3.7 0h1.3m2.7 0h1.3m-0.3 0h1.3m-14.3 1h1.3m-4.3 1h1.3m0.7 0h1.3m1.7 0h1.3m-9.3 1h1.3m2.7 0h1.3m-0.3 0h1.3m6.7 0h1.3m5.7 0h1.3m-21.3 1h1.3m1.7 0h1.3m7.7 0h1.3m-0.3 0h1.3m-0.3 0h1.3m-1.3 1h1.3m-12.3 2h1.3m-0.3 0h1.3m8.7 0h1.3m-8.3 3h1.3m-0.3 0h1.3m-2.3 3h1.3" stroke="#ff9900" stroke-width="1.3" fill="none"/>
<path d="M739 1758h1.3m4.7 1h1.3m-6.3 1h1.3m5.7 0h1.3m-3.3 1h1.3m-5.3 1h1.3m1.7 0h1.3m1.7 0h1.3m3.7 0h1.3m-17.3 1h1.3m2.7 0h1.3m0.7 0h1.3m0.7 0h1.3m1.7 0h1.3m-6.3 1h1.3m1.7 0h1.3m0.7 0h1.3m5.7 0h1.3m-22.3 1h1.3m9.7 0h1.3m-0.3 0h1.3m-15.3 1h1.3m5.7 0h1.3m-2.3 1h1.3m1.7 0h1.3m10.7 0h1.3m-17.3 1h1.3m-0.3 0h1.3m4.7 0h1.3m4.7 0h1.3m-0.3 0h1.3m-14.3 1h1.3m3.7 0h1.3m0.7 0h1.3m0.7 0h1.3m2.7 0h1.3m4.7 0h1.3m-16.3 1h1.3m0.7 0h1.3m0.7 0h1.3m1.7 0h1.3m-14.3 1h1.3m4.7 0h1.3m1.7 0h1.3m6.7 0h1.3m-16.3 1h1.3m-0.3 0h1.3m-5.3 1h1.3m2.7 0h1.3m5.7 0h1.3m5.7 0h1.3m-0.3 0h1.3m-12.3 1h1.3m2.7 0h1.3m5.7 0h1.3m-19.3 1h1.3m4.7 0h1.3m7.7 0h1.3m-0.3 0h1.3m-4.3 1h1.3m-11.3 1h1.3m0.7 0h1.3m-11.3 1h1.3m10.7 0h1.3m-0.3 1h1.3m-2.3 2h1.3m5.7 1h1.3m-15.3 1h1.3" stroke="#ff0000" stroke-width="1.3" fill="none"/>
<path d="M694 1818h1.3m0.7 0h1.3m0.7 0h1.3m0.7 0h1.3m0.7 0h1.3m0.7 0h1.3m0.7 0h1.3m0.7 0h1.3m0.7 0h1.3m0.7 0h1.3m0.7 0h1.3m58.7 0h1.3m0.7 0h1.3m0.7 0h1.3m0.7 0h1.3m0.7 0h1.3" stroke="#0000ff" stroke-width="1.0" fill="none"/>
<path d="M716 1818h1.3m0.7 0h1.3m0.7 0h1.3m0.7 0h1.3m42.7 0h1.3m0.7 0h1.3m0.7 0h1.3m0.7 0h1.3" stroke="#00ff00" stroke-width="1.0" fill="none"/>
<path d="M724 1818h1.3m0.7 0h1.3m0.7 0h1.3m0.7 0h1.3m26.7 0h1.3m0.7 0h1.3m0.7 0h1.3m0.7 0h1.3" stroke="#ffff00" stroke-width="1.0" fill="none"/>
<path d="M732 1818h1.3m0.7 0h1.3m0.7 0h1.3m0.7 0h1.3m0.7 0h1.3m0.7 0h1.3m0.7 0h1.3m0.7 0h1.3m0.7 0h1.3m0.7 0h1.3m0.7 0h1.3m0.7 0h1.3m0.7 0h1.3" stroke="#ff0000" stroke-width="1.0" fill="none"/>
<rect x="576.2" y="1538.8" width="281" height="281" fill="none" stroke="#000" stroke-width="2"/>
<rect x="684.8" y="1562.7" width="136" height="172.8" fill="none" stroke="#000" stroke-width="2"/>
<rect x="1301.6" y="667" width="259.3" height="259.7" fill="none" stroke="#222" stroke-width="1.4"/>
<path d="M1301.65 925.04 L1366.45 925.04 L1371.44 922.55 L1376.42 915.9 L1381.41 909.25 L1385.56 895.96 L1389.72 884.33 L1393.04 859.4 L1396.36 834.48 L1399.69 812.87 L1403.01 792.93 L1406.33 768.01 L1409.66 743.08 L1412.15 733.11 L1413.81 723.14 L1415.47 703.2 L1417.96 699.88 L1419.63 688.25 L1421.29 708.19 L1422.95 701.54 L1424.61 694.9 L1426.27 708.19 L1427.93 694.9 L1429.6 709.85 L1432.09 713.17 L1433.75 729.79 L1436.24 739.76 L1437.9 759.7 L1439.57 776.32 L1441.23 792.93 L1442.89 806.23 L1445.38 817.86 L1447.87 842.78 L1450.37 859.4 L1452.86 877.68 L1456.18 892.64 L1461.17 904.27 L1467.81 910.91 L1474.46 914.24 L1481.11 917.56 L1489.42 919.22 L1497.73 921.71 L1507.7 924.21 L1560.87 925.04" fill="none" stroke="#66cc00" stroke-width="3" stroke-linejoin="round"/>
<path d="M1301.65 925.04 L1358.14 925.04 L1364.79 922.55 L1369.78 917.56 L1374.76 905.93 L1379.75 892.64 L1383.07 876.02 L1386.39 851.09 L1389.72 826.17 L1393.04 806.23 L1396.36 784.63 L1399.69 759.7 L1402.18 734.78 L1404.67 719.82 L1406.67 708.19 L1408.83 693.23 L1411.32 708.19 L1413.81 713.17 L1415.47 704.87 L1417.13 701.54 L1418.3 718.16 L1419.29 749.73 L1421.29 739.76 L1422.95 746.41 L1424.61 759.7 L1426.27 776.32 L1429.6 792.93 L1432.92 812.87 L1435.41 842.78 L1437.9 864.39 L1441.23 881 L1444.55 895.96 L1447.87 909.25 L1452.86 919.22 L1459.51 924.21 L1472.8 925.04 L1560.87 925.04" fill="none" stroke="#ff0000" stroke-width="3" stroke-linejoin="round"/>
<text x="1452.59" y="691.57" font-size="22.86" textLength="54.38" lengthAdjust="spacingAndGlyphs" fill="#22dd00">Math1</text>
<text x="1509.21" y="683.98" font-size="12.38" textLength="15.93" lengthAdjust="spacingAndGlyphs" fill="#22dd00">fl/fl</text>
<text x="1452.59" y="716.47" font-size="22.86" textLength="54.38" lengthAdjust="spacingAndGlyphs" fill="#ff0000">Math1</text>
<text x="1509.21" y="708.09" font-size="11.29" textLength="15.93" lengthAdjust="spacingAndGlyphs" fill="#ff0000">fl/fl</text>
<text x="1454.15" y="738.08" font-size="21.77" textLength="92.67" lengthAdjust="spacingAndGlyphs" fill="#ff0000">vil-Cre-ER</text>
<text x="1546.44" y="730.6" font-size="11.9" textLength="13.35" lengthAdjust="spacingAndGlyphs" fill="#ff0000">T2</text>
<text x="1398.69" y="954.03" font-size="23.87" textLength="54.96" lengthAdjust="spacingAndGlyphs" style="font-family:'Liberation Serif',serif">α4β7</text>
<path d="M1302 946.1H1396.4M1452.9 946.1H1522" stroke="#222" stroke-width="1.6" fill="none"/>
<path d="M1533 946.1L1519 939L1522 946.1L1519 953.2Z" fill="#222"/>
</svg></body></html>
